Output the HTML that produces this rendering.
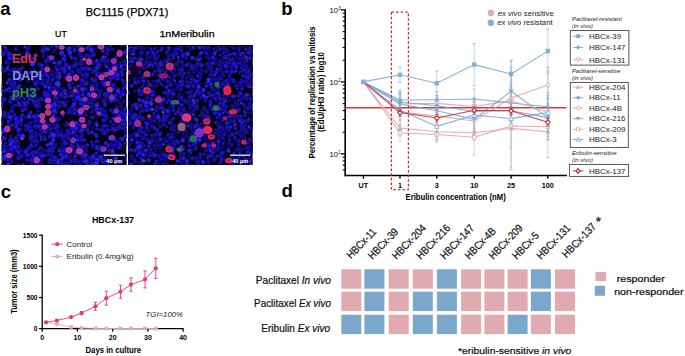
<!DOCTYPE html>
<html><head><meta charset="utf-8"><style>
html,body{margin:0;padding:0;background:#fff;}
#fig{position:relative;width:685px;height:356px;overflow:hidden;background:#fff;}
svg{display:block;font-family:"Liberation Sans", sans-serif;}
</style></head><body><div id="fig">
<svg width="685" height="356" viewBox="0 0 685 356"><text x="0.3" y="15.3" font-size="18.50" font-weight="bold" font-style="normal" text-anchor="start" fill="#000" >a</text><text x="85.8" y="16.2" font-size="10.30" font-weight="normal" font-style="normal" text-anchor="start" fill="#000" textLength="82.5" lengthAdjust="spacingAndGlyphs" stroke="#000" stroke-width="0.25">BC1115 (PDX71)</text><text x="55.0" y="37.1" font-size="9.20" font-weight="normal" font-style="normal" text-anchor="start" fill="#000" textLength="11.8" lengthAdjust="spacingAndGlyphs" stroke="#000" stroke-width="0.25">UT</text><text x="159.4" y="37.3" font-size="9.60" font-weight="normal" font-style="normal" text-anchor="start" fill="#000" textLength="55.2" lengthAdjust="spacingAndGlyphs" stroke="#000" stroke-width="0.25">1nMeribulin</text><clipPath id="cl1"><rect x="1.5" y="45" width="125.1" height="120"/></clipPath><clipPath id="cl2"><rect x="128" y="45" width="124.6" height="120"/></clipPath><g clip-path="url(#cl1)"><rect x="1.5" y="45" width="125.1" height="120" fill="#030212"/><g stroke="#04031a" stroke-width="0.45"><ellipse cx="16.8" cy="148.1" rx="3.0" ry="2.0" transform="rotate(89 16.8 148.1)" fill="#2014cf"/><ellipse cx="26.6" cy="103.5" rx="3.2" ry="2.3" transform="rotate(109 26.6 103.5)" fill="#1810f8"/><ellipse cx="92.7" cy="71.4" rx="3.2" ry="3.0" transform="rotate(5 92.7 71.4)" fill="#1b0d99"/><ellipse cx="113.3" cy="128.1" rx="3.3" ry="2.8" transform="rotate(94 113.3 128.1)" fill="#2519f7"/><ellipse cx="58.8" cy="78.9" rx="1.9" ry="1.7" transform="rotate(100 58.8 78.9)" fill="#1912e8"/><ellipse cx="92.9" cy="79.8" rx="2.9" ry="2.7" transform="rotate(175 92.9 79.8)" fill="#2d1ed6"/><ellipse cx="106.7" cy="126.1" rx="2.3" ry="1.9" transform="rotate(158 106.7 126.1)" fill="#1f1ad6"/><ellipse cx="61.5" cy="135.2" rx="2.5" ry="2.1" transform="rotate(66 61.5 135.2)" fill="#2e24ef"/><ellipse cx="10.7" cy="125.3" rx="2.1" ry="1.3" transform="rotate(151 10.7 125.3)" fill="#1f0fc5"/><ellipse cx="5.1" cy="130.2" rx="3.3" ry="2.6" transform="rotate(70 5.1 130.2)" fill="#140bab"/><ellipse cx="1.1" cy="67.7" rx="3.2" ry="2.5" transform="rotate(72 1.1 67.7)" fill="#291dc2"/><ellipse cx="58.8" cy="76.4" rx="2.7" ry="2.5" transform="rotate(1 58.8 76.4)" fill="#322cfa"/><ellipse cx="120.7" cy="106.5" rx="2.1" ry="1.8" transform="rotate(36 120.7 106.5)" fill="#180f9d"/><ellipse cx="71.1" cy="159.7" rx="2.5" ry="2.2" transform="rotate(74 71.1 159.7)" fill="#181196"/><ellipse cx="78.6" cy="99.8" rx="1.9" ry="1.3" transform="rotate(31 78.6 99.8)" fill="#1b0ee0"/><ellipse cx="70.6" cy="148.6" rx="3.2" ry="2.0" transform="rotate(169 70.6 148.6)" fill="#11089f"/><ellipse cx="1.4" cy="136.7" rx="2.2" ry="1.4" transform="rotate(112 1.4 136.7)" fill="#1a0ec2"/><ellipse cx="32.4" cy="161.0" rx="2.8" ry="2.3" transform="rotate(53 32.4 161.0)" fill="#2116ef"/><ellipse cx="2.6" cy="90.9" rx="2.5" ry="1.7" transform="rotate(19 2.6 90.9)" fill="#2716f3"/><ellipse cx="77.7" cy="144.3" rx="1.9" ry="1.2" transform="rotate(26 77.7 144.3)" fill="#3423f2"/><ellipse cx="64.9" cy="95.9" rx="3.1" ry="2.9" transform="rotate(113 64.9 95.9)" fill="#2616ee"/><ellipse cx="83.2" cy="92.0" rx="2.7" ry="1.9" transform="rotate(113 83.2 92.0)" fill="#1d0f9d"/><ellipse cx="26.9" cy="48.9" rx="2.0" ry="1.3" transform="rotate(165 26.9 48.9)" fill="#2317bc"/><ellipse cx="32.1" cy="44.1" rx="3.1" ry="1.9" transform="rotate(147 32.1 44.1)" fill="#221cde"/><ellipse cx="111.8" cy="139.7" rx="2.8" ry="1.7" transform="rotate(36 111.8 139.7)" fill="#140fa2"/><ellipse cx="55.4" cy="67.1" rx="2.0" ry="1.7" transform="rotate(53 55.4 67.1)" fill="#150fd5"/><ellipse cx="51.4" cy="77.9" rx="2.1" ry="1.9" transform="rotate(146 51.4 77.9)" fill="#2b1bde"/><ellipse cx="27.0" cy="126.6" rx="3.1" ry="2.8" transform="rotate(61 27.0 126.6)" fill="#261eed"/><ellipse cx="68.2" cy="51.1" rx="2.0" ry="1.3" transform="rotate(29 68.2 51.1)" fill="#1b15da"/><ellipse cx="77.0" cy="147.3" rx="2.4" ry="1.7" transform="rotate(52 77.0 147.3)" fill="#2b21e3"/><ellipse cx="62.6" cy="114.9" rx="2.3" ry="1.7" transform="rotate(68 62.6 114.9)" fill="#1d0ffa"/><ellipse cx="14.3" cy="115.8" rx="3.2" ry="2.0" transform="rotate(99 14.3 115.8)" fill="#180ede"/><ellipse cx="114.5" cy="113.0" rx="3.2" ry="2.4" transform="rotate(49 114.5 113.0)" fill="#1a10fa"/><ellipse cx="78.7" cy="44.8" rx="2.5" ry="2.2" transform="rotate(142 78.7 44.8)" fill="#1613ae"/><ellipse cx="53.9" cy="57.3" rx="2.1" ry="1.5" transform="rotate(133 53.9 57.3)" fill="#1815a3"/><ellipse cx="103.6" cy="110.3" rx="3.0" ry="2.4" transform="rotate(128 103.6 110.3)" fill="#150fbe"/><ellipse cx="4.6" cy="44.3" rx="3.3" ry="2.3" transform="rotate(107 4.6 44.3)" fill="#1e13cf"/><ellipse cx="7.8" cy="82.4" rx="2.5" ry="1.7" transform="rotate(141 7.8 82.4)" fill="#3626f9"/><ellipse cx="88.3" cy="125.1" rx="2.3" ry="1.8" transform="rotate(55 88.3 125.1)" fill="#1914b5"/><ellipse cx="11.0" cy="136.4" rx="2.0" ry="1.6" transform="rotate(60 11.0 136.4)" fill="#1a10b3"/><ellipse cx="41.7" cy="82.3" rx="3.2" ry="2.2" transform="rotate(60 41.7 82.3)" fill="#251edb"/><ellipse cx="11.4" cy="70.3" rx="2.5" ry="1.7" transform="rotate(156 11.4 70.3)" fill="#1a13f3"/><ellipse cx="37.0" cy="141.2" rx="2.6" ry="2.3" transform="rotate(27 37.0 141.2)" fill="#2919d6"/><ellipse cx="65.2" cy="125.5" rx="2.2" ry="1.4" transform="rotate(25 65.2 125.5)" fill="#1913be"/><ellipse cx="107.3" cy="117.6" rx="2.1" ry="1.4" transform="rotate(98 107.3 117.6)" fill="#190ff2"/><ellipse cx="116.1" cy="142.7" rx="3.2" ry="2.8" transform="rotate(134 116.1 142.7)" fill="#1d11ee"/><ellipse cx="68.9" cy="49.0" rx="3.1" ry="2.1" transform="rotate(139 68.9 49.0)" fill="#3329ed"/><ellipse cx="70.4" cy="110.1" rx="3.1" ry="2.3" transform="rotate(71 70.4 110.1)" fill="#170fc1"/><ellipse cx="101.9" cy="158.6" rx="3.3" ry="2.0" transform="rotate(124 101.9 158.6)" fill="#1a0ee0"/><ellipse cx="33.0" cy="145.8" rx="2.5" ry="1.8" transform="rotate(110 33.0 145.8)" fill="#1c0fb3"/><ellipse cx="40.5" cy="153.7" rx="3.2" ry="3.0" transform="rotate(115 40.5 153.7)" fill="#160fb2"/><ellipse cx="61.3" cy="70.9" rx="2.5" ry="2.0" transform="rotate(163 61.3 70.9)" fill="#1e16e9"/><ellipse cx="5.7" cy="51.9" rx="2.6" ry="2.4" transform="rotate(28 5.7 51.9)" fill="#301bf8"/><ellipse cx="38.1" cy="80.1" rx="2.1" ry="1.8" transform="rotate(83 38.1 80.1)" fill="#201ba0"/><ellipse cx="123.4" cy="113.8" rx="2.1" ry="1.5" transform="rotate(39 123.4 113.8)" fill="#2921de"/><ellipse cx="63.4" cy="91.8" rx="2.8" ry="2.1" transform="rotate(152 63.4 91.8)" fill="#2915db"/><ellipse cx="126.2" cy="143.2" rx="2.8" ry="1.9" transform="rotate(164 126.2 143.2)" fill="#241aa7"/><ellipse cx="124.3" cy="128.1" rx="2.0" ry="1.8" transform="rotate(43 124.3 128.1)" fill="#2a24c6"/><ellipse cx="50.8" cy="155.9" rx="2.5" ry="2.1" transform="rotate(87 50.8 155.9)" fill="#140eb1"/><ellipse cx="52.2" cy="57.6" rx="2.3" ry="1.6" transform="rotate(134 52.2 57.6)" fill="#201696"/><ellipse cx="74.3" cy="46.8" rx="3.3" ry="2.2" transform="rotate(46 74.3 46.8)" fill="#1710ac"/><ellipse cx="34.8" cy="115.6" rx="2.3" ry="1.9" transform="rotate(142 34.8 115.6)" fill="#331cfd"/><ellipse cx="45.6" cy="95.1" rx="2.1" ry="1.4" transform="rotate(158 45.6 95.1)" fill="#170cb0"/><ellipse cx="103.8" cy="57.6" rx="2.9" ry="2.3" transform="rotate(173 103.8 57.6)" fill="#2e22f7"/><ellipse cx="9.2" cy="89.3" rx="3.0" ry="2.3" transform="rotate(121 9.2 89.3)" fill="#2814f7"/><ellipse cx="56.6" cy="98.7" rx="2.3" ry="1.7" transform="rotate(140 56.6 98.7)" fill="#2715ed"/><ellipse cx="118.0" cy="90.4" rx="2.7" ry="2.5" transform="rotate(114 118.0 90.4)" fill="#3128f2"/><ellipse cx="65.5" cy="165.4" rx="2.5" ry="2.3" transform="rotate(73 65.5 165.4)" fill="#2d28f5"/><ellipse cx="90.2" cy="98.7" rx="2.8" ry="1.9" transform="rotate(94 90.2 98.7)" fill="#2216ec"/><ellipse cx="51.8" cy="149.8" rx="2.7" ry="2.3" transform="rotate(161 51.8 149.8)" fill="#1a17f5"/><ellipse cx="31.5" cy="162.9" rx="2.3" ry="1.4" transform="rotate(129 31.5 162.9)" fill="#1d19a9"/><ellipse cx="100.5" cy="147.9" rx="3.0" ry="2.6" transform="rotate(108 100.5 147.9)" fill="#2820c2"/><ellipse cx="52.6" cy="127.9" rx="2.3" ry="1.8" transform="rotate(46 52.6 127.9)" fill="#1a0dab"/><ellipse cx="65.4" cy="135.3" rx="2.5" ry="1.8" transform="rotate(118 65.4 135.3)" fill="#120e98"/><ellipse cx="20.4" cy="54.5" rx="2.3" ry="1.6" transform="rotate(95 20.4 54.5)" fill="#2516b4"/><ellipse cx="9.2" cy="146.0" rx="2.6" ry="1.9" transform="rotate(92 9.2 146.0)" fill="#190ff4"/><ellipse cx="94.4" cy="166.5" rx="2.7" ry="1.9" transform="rotate(133 94.4 166.5)" fill="#2112c8"/><ellipse cx="101.5" cy="150.5" rx="2.4" ry="1.6" transform="rotate(173 101.5 150.5)" fill="#1f17f0"/><ellipse cx="109.5" cy="150.7" rx="2.5" ry="2.3" transform="rotate(167 109.5 150.7)" fill="#2314b5"/><ellipse cx="80.3" cy="63.5" rx="3.3" ry="2.5" transform="rotate(164 80.3 63.5)" fill="#1c18f3"/><ellipse cx="58.8" cy="63.2" rx="3.0" ry="2.7" transform="rotate(79 58.8 63.2)" fill="#2314bd"/><ellipse cx="92.2" cy="132.1" rx="2.3" ry="1.5" transform="rotate(71 92.2 132.1)" fill="#2d27d5"/><ellipse cx="5.3" cy="143.4" rx="1.9" ry="1.7" transform="rotate(122 5.3 143.4)" fill="#2720d5"/><ellipse cx="124.0" cy="119.0" rx="2.4" ry="2.1" transform="rotate(21 124.0 119.0)" fill="#1c10ee"/><ellipse cx="29.6" cy="98.8" rx="3.3" ry="2.2" transform="rotate(51 29.6 98.8)" fill="#2515dc"/><ellipse cx="91.8" cy="83.9" rx="2.7" ry="2.5" transform="rotate(178 91.8 83.9)" fill="#0f079b"/><ellipse cx="61.5" cy="153.2" rx="3.1" ry="2.2" transform="rotate(35 61.5 153.2)" fill="#221baa"/><ellipse cx="19.2" cy="156.3" rx="1.9" ry="1.3" transform="rotate(119 19.2 156.3)" fill="#1a0f9d"/><ellipse cx="9.8" cy="123.9" rx="2.3" ry="1.4" transform="rotate(96 9.8 123.9)" fill="#2b16d9"/><ellipse cx="34.8" cy="57.6" rx="2.0" ry="1.2" transform="rotate(114 34.8 57.6)" fill="#201af5"/><ellipse cx="24.3" cy="98.5" rx="2.4" ry="1.6" transform="rotate(46 24.3 98.5)" fill="#1d0fe7"/><ellipse cx="120.2" cy="116.2" rx="2.4" ry="1.9" transform="rotate(100 120.2 116.2)" fill="#2e27d8"/><ellipse cx="70.1" cy="109.7" rx="2.9" ry="2.3" transform="rotate(165 70.1 109.7)" fill="#1d179e"/><ellipse cx="125.6" cy="61.7" rx="3.2" ry="2.9" transform="rotate(153 125.6 61.7)" fill="#1b179c"/><ellipse cx="65.7" cy="105.1" rx="2.0" ry="1.4" transform="rotate(22 65.7 105.1)" fill="#170c9a"/><ellipse cx="50.5" cy="130.7" rx="3.1" ry="1.9" transform="rotate(94 50.5 130.7)" fill="#140ca1"/><ellipse cx="38.5" cy="149.6" rx="2.0" ry="1.4" transform="rotate(132 38.5 149.6)" fill="#231cb7"/><ellipse cx="110.0" cy="80.7" rx="2.5" ry="1.7" transform="rotate(100 110.0 80.7)" fill="#281cc0"/><ellipse cx="50.0" cy="154.1" rx="2.6" ry="1.7" transform="rotate(146 50.0 154.1)" fill="#2f25d9"/><ellipse cx="107.3" cy="130.0" rx="2.6" ry="2.4" transform="rotate(149 107.3 130.0)" fill="#2314bb"/><ellipse cx="49.8" cy="83.2" rx="2.5" ry="1.6" transform="rotate(11 49.8 83.2)" fill="#251cbc"/><ellipse cx="41.5" cy="135.8" rx="2.6" ry="2.0" transform="rotate(26 41.5 135.8)" fill="#2114f3"/><ellipse cx="8.4" cy="164.4" rx="2.6" ry="2.4" transform="rotate(166 8.4 164.4)" fill="#2721c6"/><ellipse cx="118.6" cy="142.4" rx="2.1" ry="1.6" transform="rotate(103 118.6 142.4)" fill="#231bb6"/><ellipse cx="95.9" cy="87.8" rx="3.2" ry="2.7" transform="rotate(72 95.9 87.8)" fill="#2316d1"/><ellipse cx="65.0" cy="46.6" rx="2.3" ry="1.5" transform="rotate(24 65.0 46.6)" fill="#140da4"/><ellipse cx="93.5" cy="49.2" rx="2.0" ry="1.6" transform="rotate(47 93.5 49.2)" fill="#140aa3"/><ellipse cx="73.2" cy="122.5" rx="3.1" ry="2.7" transform="rotate(39 73.2 122.5)" fill="#1b12ac"/><ellipse cx="75.7" cy="154.6" rx="2.6" ry="2.3" transform="rotate(39 75.7 154.6)" fill="#1e19af"/><ellipse cx="114.8" cy="95.8" rx="2.8" ry="2.2" transform="rotate(170 114.8 95.8)" fill="#2714fc"/><ellipse cx="108.0" cy="164.1" rx="2.5" ry="1.5" transform="rotate(95 108.0 164.1)" fill="#2016c6"/><ellipse cx="51.6" cy="152.5" rx="3.0" ry="2.4" transform="rotate(7 51.6 152.5)" fill="#1411d0"/><ellipse cx="89.4" cy="122.6" rx="2.7" ry="2.4" transform="rotate(92 89.4 122.6)" fill="#211af5"/><ellipse cx="82.8" cy="166.2" rx="2.3" ry="1.7" transform="rotate(169 82.8 166.2)" fill="#2018d8"/><ellipse cx="39.2" cy="80.4" rx="2.7" ry="2.2" transform="rotate(175 39.2 80.4)" fill="#160baa"/><ellipse cx="54.3" cy="125.0" rx="2.0" ry="1.5" transform="rotate(50 54.3 125.0)" fill="#3024ea"/><ellipse cx="115.5" cy="157.7" rx="3.1" ry="2.3" transform="rotate(83 115.5 157.7)" fill="#3024fb"/><ellipse cx="109.5" cy="138.3" rx="2.4" ry="2.2" transform="rotate(87 109.5 138.3)" fill="#190ca8"/><ellipse cx="21.7" cy="75.3" rx="2.7" ry="1.9" transform="rotate(179 21.7 75.3)" fill="#2617b7"/><ellipse cx="53.8" cy="76.9" rx="2.4" ry="2.2" transform="rotate(38 53.8 76.9)" fill="#2d1dd4"/><ellipse cx="54.4" cy="51.0" rx="2.2" ry="1.4" transform="rotate(131 54.4 51.0)" fill="#150ea3"/><ellipse cx="122.4" cy="92.5" rx="2.9" ry="2.6" transform="rotate(16 122.4 92.5)" fill="#3018e4"/><ellipse cx="83.6" cy="157.8" rx="2.9" ry="2.5" transform="rotate(150 83.6 157.8)" fill="#1b10f4"/><ellipse cx="35.5" cy="102.5" rx="3.0" ry="2.7" transform="rotate(141 35.5 102.5)" fill="#2922ec"/><ellipse cx="15.5" cy="98.5" rx="2.9" ry="2.2" transform="rotate(70 15.5 98.5)" fill="#2d18e3"/><ellipse cx="49.4" cy="155.3" rx="2.2" ry="1.7" transform="rotate(74 49.4 155.3)" fill="#1d14da"/><ellipse cx="115.0" cy="110.6" rx="2.2" ry="1.9" transform="rotate(60 115.0 110.6)" fill="#1712d4"/><ellipse cx="93.7" cy="86.0" rx="3.1" ry="2.7" transform="rotate(10 93.7 86.0)" fill="#231ce6"/><ellipse cx="108.3" cy="71.3" rx="2.3" ry="1.9" transform="rotate(74 108.3 71.3)" fill="#150da6"/><ellipse cx="80.8" cy="155.0" rx="2.0" ry="1.8" transform="rotate(91 80.8 155.0)" fill="#1a11ca"/><ellipse cx="39.0" cy="103.9" rx="2.6" ry="2.1" transform="rotate(43 39.0 103.9)" fill="#1d10ac"/><ellipse cx="113.1" cy="129.1" rx="2.6" ry="1.6" transform="rotate(58 113.1 129.1)" fill="#1b15ee"/><ellipse cx="127.2" cy="69.4" rx="2.8" ry="2.1" transform="rotate(21 127.2 69.4)" fill="#1e11a7"/><ellipse cx="81.5" cy="145.8" rx="2.0" ry="1.3" transform="rotate(20 81.5 145.8)" fill="#1b13de"/><ellipse cx="113.7" cy="95.4" rx="1.9" ry="1.2" transform="rotate(54 113.7 95.4)" fill="#1c16e4"/><ellipse cx="35.7" cy="120.6" rx="3.1" ry="2.2" transform="rotate(129 35.7 120.6)" fill="#140cc6"/><ellipse cx="17.5" cy="74.1" rx="3.0" ry="2.5" transform="rotate(7 17.5 74.1)" fill="#110f9f"/><ellipse cx="38.2" cy="73.9" rx="2.4" ry="1.5" transform="rotate(166 38.2 73.9)" fill="#291ec5"/><ellipse cx="30.8" cy="127.3" rx="2.3" ry="1.8" transform="rotate(57 30.8 127.3)" fill="#1712a4"/><ellipse cx="82.3" cy="147.6" rx="2.7" ry="2.5" transform="rotate(72 82.3 147.6)" fill="#271eec"/><ellipse cx="60.9" cy="94.9" rx="3.2" ry="2.3" transform="rotate(39 60.9 94.9)" fill="#1f10bc"/><ellipse cx="65.2" cy="64.7" rx="2.2" ry="1.7" transform="rotate(98 65.2 64.7)" fill="#1d19b6"/><ellipse cx="33.3" cy="58.6" rx="2.9" ry="1.8" transform="rotate(175 33.3 58.6)" fill="#201ac4"/><ellipse cx="92.9" cy="127.9" rx="1.9" ry="1.4" transform="rotate(122 92.9 127.9)" fill="#120da9"/><ellipse cx="86.9" cy="145.5" rx="2.6" ry="2.3" transform="rotate(138 86.9 145.5)" fill="#2816c4"/><ellipse cx="109.1" cy="90.3" rx="2.5" ry="1.6" transform="rotate(108 109.1 90.3)" fill="#1812b8"/><ellipse cx="82.0" cy="161.2" rx="2.7" ry="1.6" transform="rotate(146 82.0 161.2)" fill="#1811a6"/><ellipse cx="113.5" cy="100.0" rx="3.0" ry="2.4" transform="rotate(76 113.5 100.0)" fill="#1d15c5"/><ellipse cx="90.4" cy="43.1" rx="2.0" ry="1.3" transform="rotate(25 90.4 43.1)" fill="#291dd7"/><ellipse cx="100.6" cy="113.5" rx="3.3" ry="2.4" transform="rotate(85 100.6 113.5)" fill="#1e18ef"/><ellipse cx="30.5" cy="112.7" rx="2.4" ry="1.6" transform="rotate(139 30.5 112.7)" fill="#211cf0"/><ellipse cx="44.2" cy="124.5" rx="3.3" ry="2.9" transform="rotate(10 44.2 124.5)" fill="#1e13cd"/><ellipse cx="96.8" cy="85.3" rx="3.0" ry="2.1" transform="rotate(109 96.8 85.3)" fill="#110da8"/><ellipse cx="114.6" cy="64.4" rx="2.8" ry="2.2" transform="rotate(61 114.6 64.4)" fill="#1b13f0"/><ellipse cx="61.5" cy="68.9" rx="2.8" ry="2.6" transform="rotate(71 61.5 68.9)" fill="#140cb3"/><ellipse cx="124.7" cy="124.4" rx="3.0" ry="2.3" transform="rotate(84 124.7 124.4)" fill="#251cd5"/><ellipse cx="120.4" cy="96.6" rx="2.5" ry="1.6" transform="rotate(87 120.4 96.6)" fill="#2414b8"/><ellipse cx="48.1" cy="56.5" rx="1.9" ry="1.2" transform="rotate(32 48.1 56.5)" fill="#2419f8"/><ellipse cx="104.7" cy="156.8" rx="2.1" ry="1.7" transform="rotate(19 104.7 156.8)" fill="#120bb6"/><ellipse cx="81.3" cy="134.3" rx="3.2" ry="2.5" transform="rotate(70 81.3 134.3)" fill="#180e96"/><ellipse cx="54.1" cy="62.7" rx="2.2" ry="1.8" transform="rotate(13 54.1 62.7)" fill="#2e28da"/><ellipse cx="22.2" cy="115.6" rx="2.6" ry="2.0" transform="rotate(142 22.2 115.6)" fill="#281fd8"/><ellipse cx="88.7" cy="124.0" rx="2.7" ry="1.8" transform="rotate(140 88.7 124.0)" fill="#1b0ea5"/><ellipse cx="11.1" cy="54.7" rx="3.0" ry="1.9" transform="rotate(93 11.1 54.7)" fill="#1916f9"/><ellipse cx="76.3" cy="165.3" rx="2.9" ry="2.1" transform="rotate(96 76.3 165.3)" fill="#2d24cf"/><ellipse cx="71.0" cy="129.7" rx="2.9" ry="2.5" transform="rotate(89 71.0 129.7)" fill="#1a0eb9"/><ellipse cx="72.7" cy="147.8" rx="3.0" ry="2.4" transform="rotate(131 72.7 147.8)" fill="#2818c1"/><ellipse cx="32.1" cy="90.6" rx="1.9" ry="1.8" transform="rotate(172 32.1 90.6)" fill="#1511b2"/><ellipse cx="68.9" cy="67.6" rx="2.5" ry="2.3" transform="rotate(103 68.9 67.6)" fill="#221adc"/><ellipse cx="10.2" cy="158.9" rx="2.1" ry="1.8" transform="rotate(5 10.2 158.9)" fill="#1d16c9"/><ellipse cx="75.8" cy="59.0" rx="2.7" ry="1.7" transform="rotate(43 75.8 59.0)" fill="#170dc6"/><ellipse cx="92.3" cy="92.2" rx="2.9" ry="2.0" transform="rotate(53 92.3 92.2)" fill="#1710a8"/><ellipse cx="10.9" cy="145.6" rx="2.2" ry="1.7" transform="rotate(52 10.9 145.6)" fill="#2c17fd"/><ellipse cx="47.6" cy="98.0" rx="2.8" ry="1.7" transform="rotate(140 47.6 98.0)" fill="#211daa"/><ellipse cx="80.7" cy="55.8" rx="3.1" ry="2.5" transform="rotate(44 80.7 55.8)" fill="#1c12b0"/><ellipse cx="117.3" cy="165.2" rx="2.2" ry="2.0" transform="rotate(118 117.3 165.2)" fill="#1913d8"/><ellipse cx="32.4" cy="43.5" rx="2.1" ry="1.4" transform="rotate(137 32.4 43.5)" fill="#2319c6"/><ellipse cx="29.3" cy="47.7" rx="2.1" ry="1.8" transform="rotate(99 29.3 47.7)" fill="#241fb3"/><ellipse cx="98.8" cy="95.2" rx="2.3" ry="1.4" transform="rotate(149 98.8 95.2)" fill="#140aa6"/><ellipse cx="96.8" cy="103.6" rx="2.5" ry="2.1" transform="rotate(148 96.8 103.6)" fill="#2815c1"/><ellipse cx="87.0" cy="48.3" rx="2.5" ry="1.9" transform="rotate(172 87.0 48.3)" fill="#241ee2"/><ellipse cx="49.2" cy="87.7" rx="2.2" ry="1.8" transform="rotate(105 49.2 87.7)" fill="#2f18f6"/><ellipse cx="116.4" cy="99.8" rx="3.1" ry="2.0" transform="rotate(26 116.4 99.8)" fill="#1d15ba"/><ellipse cx="7.9" cy="150.4" rx="2.7" ry="1.7" transform="rotate(71 7.9 150.4)" fill="#2b20d7"/><ellipse cx="50.4" cy="155.3" rx="2.6" ry="2.4" transform="rotate(99 50.4 155.3)" fill="#150dd3"/><ellipse cx="96.2" cy="141.6" rx="2.7" ry="2.2" transform="rotate(179 96.2 141.6)" fill="#201a9e"/><ellipse cx="99.6" cy="94.5" rx="3.3" ry="2.9" transform="rotate(103 99.6 94.5)" fill="#110ca4"/><ellipse cx="12.5" cy="84.2" rx="3.2" ry="2.8" transform="rotate(6 12.5 84.2)" fill="#2116c5"/><ellipse cx="81.4" cy="148.0" rx="2.5" ry="2.0" transform="rotate(145 81.4 148.0)" fill="#1f1a96"/><ellipse cx="46.1" cy="61.1" rx="2.7" ry="2.2" transform="rotate(72 46.1 61.1)" fill="#2014d7"/><ellipse cx="43.6" cy="75.2" rx="2.4" ry="2.1" transform="rotate(138 43.6 75.2)" fill="#2315b5"/><ellipse cx="124.6" cy="111.2" rx="2.7" ry="2.2" transform="rotate(13 124.6 111.2)" fill="#231eab"/><ellipse cx="52.9" cy="58.7" rx="2.7" ry="2.2" transform="rotate(42 52.9 58.7)" fill="#150ea2"/><ellipse cx="94.7" cy="80.4" rx="3.1" ry="2.9" transform="rotate(147 94.7 80.4)" fill="#1a109f"/><ellipse cx="37.7" cy="107.0" rx="1.9" ry="1.7" transform="rotate(143 37.7 107.0)" fill="#0f099a"/><ellipse cx="96.3" cy="153.0" rx="2.0" ry="1.6" transform="rotate(119 96.3 153.0)" fill="#201cd9"/><ellipse cx="75.2" cy="58.2" rx="2.3" ry="1.5" transform="rotate(9 75.2 58.2)" fill="#1d19d0"/><ellipse cx="92.9" cy="70.3" rx="3.2" ry="1.9" transform="rotate(176 92.9 70.3)" fill="#120f9a"/><ellipse cx="4.6" cy="71.5" rx="2.6" ry="1.7" transform="rotate(170 4.6 71.5)" fill="#150caf"/><ellipse cx="62.8" cy="89.1" rx="2.4" ry="2.0" transform="rotate(35 62.8 89.1)" fill="#150fad"/><ellipse cx="122.8" cy="115.1" rx="2.8" ry="2.0" transform="rotate(87 122.8 115.1)" fill="#1d15a3"/><ellipse cx="79.5" cy="147.9" rx="3.1" ry="2.5" transform="rotate(61 79.5 147.9)" fill="#221ae8"/><ellipse cx="103.3" cy="161.0" rx="3.1" ry="2.4" transform="rotate(99 103.3 161.0)" fill="#2b1fd6"/><ellipse cx="94.8" cy="155.2" rx="3.0" ry="2.4" transform="rotate(29 94.8 155.2)" fill="#2117b8"/><ellipse cx="72.2" cy="142.9" rx="2.8" ry="1.9" transform="rotate(55 72.2 142.9)" fill="#2b22e3"/><ellipse cx="58.6" cy="87.1" rx="2.6" ry="1.8" transform="rotate(85 58.6 87.1)" fill="#231ac0"/><ellipse cx="49.1" cy="97.2" rx="2.8" ry="2.0" transform="rotate(141 49.1 97.2)" fill="#130d97"/><ellipse cx="6.5" cy="90.0" rx="2.4" ry="1.7" transform="rotate(158 6.5 90.0)" fill="#341eff"/><ellipse cx="10.1" cy="57.9" rx="3.3" ry="2.7" transform="rotate(23 10.1 57.9)" fill="#2015ee"/><ellipse cx="43.5" cy="46.4" rx="2.8" ry="2.4" transform="rotate(135 43.5 46.4)" fill="#271cf6"/><ellipse cx="46.7" cy="79.4" rx="2.5" ry="2.0" transform="rotate(83 46.7 79.4)" fill="#21159f"/><ellipse cx="29.4" cy="48.2" rx="2.2" ry="1.5" transform="rotate(128 29.4 48.2)" fill="#180dc6"/><ellipse cx="127.2" cy="135.2" rx="3.1" ry="1.9" transform="rotate(126 127.2 135.2)" fill="#1c0fbd"/><ellipse cx="18.4" cy="166.0" rx="2.5" ry="1.8" transform="rotate(144 18.4 166.0)" fill="#1d15d4"/><ellipse cx="74.8" cy="79.2" rx="2.7" ry="1.9" transform="rotate(2 74.8 79.2)" fill="#231abd"/><ellipse cx="14.3" cy="70.4" rx="2.8" ry="2.6" transform="rotate(166 14.3 70.4)" fill="#1d11cd"/><ellipse cx="12.7" cy="106.9" rx="2.6" ry="1.7" transform="rotate(166 12.7 106.9)" fill="#130e9e"/><ellipse cx="54.1" cy="131.8" rx="1.9" ry="1.2" transform="rotate(6 54.1 131.8)" fill="#1b0dc1"/><ellipse cx="37.6" cy="111.3" rx="2.3" ry="1.5" transform="rotate(37 37.6 111.3)" fill="#140e9d"/><ellipse cx="57.9" cy="84.1" rx="2.5" ry="1.5" transform="rotate(33 57.9 84.1)" fill="#190ee7"/><ellipse cx="28.5" cy="80.7" rx="2.0" ry="1.4" transform="rotate(130 28.5 80.7)" fill="#1f119e"/><ellipse cx="75.6" cy="97.9" rx="3.0" ry="2.5" transform="rotate(21 75.6 97.9)" fill="#120eaf"/><ellipse cx="10.8" cy="140.5" rx="2.9" ry="2.7" transform="rotate(128 10.8 140.5)" fill="#2013d9"/><ellipse cx="44.7" cy="99.3" rx="3.1" ry="2.6" transform="rotate(110 44.7 99.3)" fill="#2216ec"/><ellipse cx="31.1" cy="145.9" rx="3.1" ry="2.9" transform="rotate(108 31.1 145.9)" fill="#1510a4"/><ellipse cx="55.9" cy="77.3" rx="2.3" ry="2.2" transform="rotate(60 55.9 77.3)" fill="#1d12c5"/><ellipse cx="40.3" cy="161.8" rx="2.6" ry="1.9" transform="rotate(54 40.3 161.8)" fill="#1f1abc"/><ellipse cx="91.3" cy="61.5" rx="2.5" ry="2.1" transform="rotate(24 91.3 61.5)" fill="#1f12a0"/><ellipse cx="45.5" cy="82.1" rx="2.3" ry="1.8" transform="rotate(13 45.5 82.1)" fill="#1c17a9"/><ellipse cx="117.8" cy="147.8" rx="2.9" ry="1.8" transform="rotate(33 117.8 147.8)" fill="#160bda"/><ellipse cx="122.8" cy="123.5" rx="2.9" ry="2.1" transform="rotate(168 122.8 123.5)" fill="#271fc3"/><ellipse cx="80.5" cy="125.6" rx="2.4" ry="1.5" transform="rotate(170 80.5 125.6)" fill="#211c9a"/><ellipse cx="91.4" cy="142.0" rx="2.0" ry="1.8" transform="rotate(54 91.4 142.0)" fill="#2014de"/><ellipse cx="5.9" cy="159.8" rx="2.9" ry="1.7" transform="rotate(17 5.9 159.8)" fill="#150ea7"/><ellipse cx="73.5" cy="106.1" rx="3.1" ry="2.5" transform="rotate(155 73.5 106.1)" fill="#2620fb"/><ellipse cx="74.5" cy="101.9" rx="2.6" ry="1.9" transform="rotate(77 74.5 101.9)" fill="#150c9f"/><ellipse cx="17.9" cy="138.8" rx="1.9" ry="1.5" transform="rotate(33 17.9 138.8)" fill="#231afa"/><ellipse cx="87.0" cy="150.6" rx="2.0" ry="1.7" transform="rotate(35 87.0 150.6)" fill="#1711c1"/><ellipse cx="107.4" cy="130.6" rx="3.2" ry="2.2" transform="rotate(160 107.4 130.6)" fill="#160bdc"/><ellipse cx="46.9" cy="112.3" rx="2.1" ry="1.3" transform="rotate(57 46.9 112.3)" fill="#3327f4"/><ellipse cx="39.7" cy="82.4" rx="2.0" ry="1.5" transform="rotate(153 39.7 82.4)" fill="#130eb7"/><ellipse cx="110.4" cy="45.4" rx="2.2" ry="1.5" transform="rotate(56 110.4 45.4)" fill="#2114fe"/><ellipse cx="62.4" cy="160.9" rx="2.3" ry="1.9" transform="rotate(8 62.4 160.9)" fill="#1f17cd"/><ellipse cx="35.4" cy="138.3" rx="2.9" ry="2.2" transform="rotate(50 35.4 138.3)" fill="#2014b6"/><ellipse cx="44.9" cy="92.2" rx="2.6" ry="2.1" transform="rotate(157 44.9 92.2)" fill="#2b18c8"/><ellipse cx="61.6" cy="129.5" rx="2.0" ry="1.6" transform="rotate(14 61.6 129.5)" fill="#100b9f"/><ellipse cx="73.1" cy="129.7" rx="3.2" ry="2.8" transform="rotate(101 73.1 129.7)" fill="#1f14d5"/><ellipse cx="93.0" cy="146.0" rx="2.5" ry="2.0" transform="rotate(67 93.0 146.0)" fill="#2215f2"/><ellipse cx="30.2" cy="123.0" rx="3.1" ry="2.3" transform="rotate(156 30.2 123.0)" fill="#140dae"/><ellipse cx="107.0" cy="161.3" rx="2.7" ry="2.5" transform="rotate(31 107.0 161.3)" fill="#2118d4"/><ellipse cx="113.7" cy="118.6" rx="2.5" ry="1.7" transform="rotate(37 113.7 118.6)" fill="#2c18c9"/><ellipse cx="33.3" cy="165.9" rx="2.4" ry="1.6" transform="rotate(164 33.3 165.9)" fill="#2515e5"/><ellipse cx="90.7" cy="101.0" rx="2.6" ry="1.9" transform="rotate(93 90.7 101.0)" fill="#2d21d6"/><ellipse cx="101.2" cy="78.0" rx="2.1" ry="1.3" transform="rotate(176 101.2 78.0)" fill="#1812a5"/><ellipse cx="65.7" cy="65.2" rx="3.1" ry="2.4" transform="rotate(95 65.7 65.2)" fill="#2714c4"/><ellipse cx="92.7" cy="55.1" rx="2.4" ry="1.8" transform="rotate(32 92.7 55.1)" fill="#2118cf"/><ellipse cx="75.3" cy="160.4" rx="2.7" ry="2.1" transform="rotate(52 75.3 160.4)" fill="#2515c2"/><ellipse cx="76.7" cy="65.4" rx="3.0" ry="2.4" transform="rotate(143 76.7 65.4)" fill="#22189e"/><ellipse cx="57.0" cy="82.6" rx="2.4" ry="2.0" transform="rotate(69 57.0 82.6)" fill="#2621f5"/><ellipse cx="59.6" cy="105.9" rx="2.1" ry="1.7" transform="rotate(76 59.6 105.9)" fill="#2b1de4"/><ellipse cx="18.7" cy="61.1" rx="2.8" ry="1.9" transform="rotate(145 18.7 61.1)" fill="#241bb1"/><ellipse cx="19.6" cy="129.7" rx="2.5" ry="1.9" transform="rotate(178 19.6 129.7)" fill="#1e12dd"/><ellipse cx="1.3" cy="103.4" rx="2.5" ry="2.2" transform="rotate(54 1.3 103.4)" fill="#201ae0"/><ellipse cx="36.9" cy="55.4" rx="2.2" ry="1.4" transform="rotate(18 36.9 55.4)" fill="#1b10a5"/><ellipse cx="105.9" cy="161.0" rx="2.7" ry="2.2" transform="rotate(130 105.9 161.0)" fill="#1f19be"/><ellipse cx="41.2" cy="128.7" rx="3.1" ry="2.8" transform="rotate(29 41.2 128.7)" fill="#1b13da"/><ellipse cx="31.2" cy="139.8" rx="3.2" ry="2.7" transform="rotate(59 31.2 139.8)" fill="#150d99"/><ellipse cx="76.4" cy="124.9" rx="2.5" ry="2.2" transform="rotate(153 76.4 124.9)" fill="#2617ba"/><ellipse cx="128.0" cy="90.7" rx="3.0" ry="1.8" transform="rotate(117 128.0 90.7)" fill="#211ac2"/><ellipse cx="107.9" cy="70.6" rx="2.0" ry="1.6" transform="rotate(69 107.9 70.6)" fill="#311af0"/><ellipse cx="0.0" cy="86.5" rx="3.0" ry="2.8" transform="rotate(20 0.0 86.5)" fill="#2f2afb"/><ellipse cx="96.8" cy="60.9" rx="2.5" ry="2.0" transform="rotate(114 96.8 60.9)" fill="#2617ef"/><ellipse cx="120.6" cy="67.0" rx="2.1" ry="1.7" transform="rotate(173 120.6 67.0)" fill="#130da8"/><ellipse cx="102.0" cy="130.1" rx="2.3" ry="1.5" transform="rotate(64 102.0 130.1)" fill="#1510ac"/><ellipse cx="76.0" cy="47.2" rx="2.8" ry="1.8" transform="rotate(84 76.0 47.2)" fill="#1510a8"/><ellipse cx="35.7" cy="134.8" rx="3.3" ry="2.4" transform="rotate(5 35.7 134.8)" fill="#2b21d1"/><ellipse cx="26.1" cy="155.6" rx="1.9" ry="1.6" transform="rotate(7 26.1 155.6)" fill="#2915fe"/><ellipse cx="13.2" cy="142.6" rx="3.1" ry="2.8" transform="rotate(59 13.2 142.6)" fill="#2622cf"/><ellipse cx="67.0" cy="123.8" rx="2.8" ry="1.8" transform="rotate(66 67.0 123.8)" fill="#291ac2"/><ellipse cx="55.8" cy="162.8" rx="3.2" ry="2.1" transform="rotate(26 55.8 162.8)" fill="#120db4"/><ellipse cx="58.5" cy="119.5" rx="2.7" ry="1.7" transform="rotate(146 58.5 119.5)" fill="#2915fe"/><ellipse cx="109.8" cy="77.5" rx="2.1" ry="1.4" transform="rotate(138 109.8 77.5)" fill="#2921c5"/><ellipse cx="75.0" cy="48.9" rx="2.5" ry="2.1" transform="rotate(94 75.0 48.9)" fill="#180de0"/><ellipse cx="110.8" cy="121.8" rx="2.1" ry="1.9" transform="rotate(144 110.8 121.8)" fill="#160dc4"/><ellipse cx="60.5" cy="46.3" rx="2.0" ry="1.8" transform="rotate(176 60.5 46.3)" fill="#160fcd"/><ellipse cx="64.2" cy="59.0" rx="3.1" ry="2.6" transform="rotate(70 64.2 59.0)" fill="#2518e3"/><ellipse cx="117.2" cy="107.9" rx="2.6" ry="2.2" transform="rotate(78 117.2 107.9)" fill="#130e9e"/><ellipse cx="89.6" cy="55.9" rx="2.4" ry="2.2" transform="rotate(35 89.6 55.9)" fill="#2a16ee"/><ellipse cx="65.6" cy="156.0" rx="2.2" ry="1.6" transform="rotate(110 65.6 156.0)" fill="#2114df"/><ellipse cx="80.6" cy="126.1" rx="1.9" ry="1.8" transform="rotate(86 80.6 126.1)" fill="#1714b2"/><ellipse cx="41.0" cy="163.4" rx="2.6" ry="2.0" transform="rotate(48 41.0 163.4)" fill="#2015ac"/><ellipse cx="37.7" cy="116.1" rx="2.3" ry="2.2" transform="rotate(71 37.7 116.1)" fill="#2b26eb"/><ellipse cx="71.8" cy="92.4" rx="3.0" ry="2.0" transform="rotate(3 71.8 92.4)" fill="#1a15a8"/><ellipse cx="14.4" cy="87.6" rx="3.1" ry="2.2" transform="rotate(177 14.4 87.6)" fill="#150ebc"/><ellipse cx="17.3" cy="99.4" rx="2.0" ry="1.5" transform="rotate(102 17.3 99.4)" fill="#1f11bf"/><ellipse cx="125.5" cy="109.7" rx="3.0" ry="2.4" transform="rotate(11 125.5 109.7)" fill="#1c15d1"/><ellipse cx="93.1" cy="105.2" rx="1.9" ry="1.4" transform="rotate(17 93.1 105.2)" fill="#2018bf"/><ellipse cx="88.4" cy="158.1" rx="2.5" ry="2.1" transform="rotate(95 88.4 158.1)" fill="#2e17e1"/><ellipse cx="21.4" cy="119.5" rx="3.0" ry="1.9" transform="rotate(95 21.4 119.5)" fill="#2f1af6"/><ellipse cx="18.9" cy="150.3" rx="2.0" ry="1.5" transform="rotate(124 18.9 150.3)" fill="#2118de"/><ellipse cx="36.4" cy="143.7" rx="2.0" ry="1.6" transform="rotate(10 36.4 143.7)" fill="#171498"/><ellipse cx="108.4" cy="95.3" rx="3.1" ry="1.9" transform="rotate(38 108.4 95.3)" fill="#1812ec"/><ellipse cx="105.8" cy="96.2" rx="3.1" ry="2.2" transform="rotate(63 105.8 96.2)" fill="#241da8"/><ellipse cx="29.1" cy="159.9" rx="2.4" ry="2.2" transform="rotate(57 29.1 159.9)" fill="#160cb1"/><ellipse cx="114.6" cy="130.4" rx="2.4" ry="1.9" transform="rotate(131 114.6 130.4)" fill="#2b1dfa"/><ellipse cx="33.4" cy="141.3" rx="2.3" ry="2.2" transform="rotate(37 33.4 141.3)" fill="#1e13a6"/><ellipse cx="4.0" cy="138.3" rx="2.5" ry="2.3" transform="rotate(23 4.0 138.3)" fill="#251fd5"/><ellipse cx="90.0" cy="97.1" rx="2.6" ry="1.7" transform="rotate(43 90.0 97.1)" fill="#1911df"/><ellipse cx="90.8" cy="159.9" rx="2.8" ry="2.3" transform="rotate(72 90.8 159.9)" fill="#2814cb"/><ellipse cx="51.0" cy="150.7" rx="2.5" ry="1.6" transform="rotate(69 51.0 150.7)" fill="#2414cd"/><ellipse cx="34.5" cy="116.8" rx="2.3" ry="2.0" transform="rotate(19 34.5 116.8)" fill="#3526fa"/><ellipse cx="68.9" cy="75.2" rx="2.8" ry="2.4" transform="rotate(101 68.9 75.2)" fill="#3228f3"/><ellipse cx="58.1" cy="136.0" rx="2.3" ry="2.0" transform="rotate(73 58.1 136.0)" fill="#140ec6"/><ellipse cx="16.3" cy="138.0" rx="3.3" ry="2.5" transform="rotate(151 16.3 138.0)" fill="#1c12b3"/><ellipse cx="7.5" cy="117.5" rx="2.2" ry="1.4" transform="rotate(81 7.5 117.5)" fill="#2014bb"/><ellipse cx="5.0" cy="52.1" rx="2.0" ry="1.4" transform="rotate(55 5.0 52.1)" fill="#2215da"/><ellipse cx="41.7" cy="138.3" rx="3.1" ry="2.3" transform="rotate(94 41.7 138.3)" fill="#201cbf"/><ellipse cx="81.4" cy="130.0" rx="2.3" ry="2.2" transform="rotate(149 81.4 130.0)" fill="#2319bf"/><ellipse cx="84.3" cy="74.3" rx="2.8" ry="1.9" transform="rotate(175 84.3 74.3)" fill="#120baa"/><ellipse cx="17.3" cy="144.0" rx="3.3" ry="2.9" transform="rotate(150 17.3 144.0)" fill="#15129f"/><ellipse cx="26.7" cy="47.8" rx="2.2" ry="1.9" transform="rotate(126 26.7 47.8)" fill="#241cbd"/><ellipse cx="36.9" cy="165.0" rx="2.8" ry="2.0" transform="rotate(12 36.9 165.0)" fill="#2016ff"/><ellipse cx="91.8" cy="112.0" rx="1.9" ry="1.8" transform="rotate(82 91.8 112.0)" fill="#180cdb"/><ellipse cx="39.2" cy="107.4" rx="2.3" ry="1.6" transform="rotate(165 39.2 107.4)" fill="#180cb8"/><ellipse cx="0.9" cy="139.8" rx="3.3" ry="2.0" transform="rotate(13 0.9 139.8)" fill="#2514cf"/><ellipse cx="86.4" cy="56.8" rx="1.9" ry="1.6" transform="rotate(24 86.4 56.8)" fill="#291fe2"/><ellipse cx="2.8" cy="164.3" rx="1.9" ry="1.3" transform="rotate(85 2.8 164.3)" fill="#2e17da"/><ellipse cx="17.4" cy="45.0" rx="2.1" ry="1.9" transform="rotate(15 17.4 45.0)" fill="#1c12db"/><ellipse cx="69.7" cy="86.6" rx="3.3" ry="2.4" transform="rotate(72 69.7 86.6)" fill="#2315d9"/><ellipse cx="22.7" cy="102.4" rx="2.5" ry="2.2" transform="rotate(37 22.7 102.4)" fill="#181499"/><ellipse cx="52.2" cy="146.5" rx="2.6" ry="2.0" transform="rotate(141 52.2 146.5)" fill="#2e19fc"/><ellipse cx="52.5" cy="91.3" rx="2.3" ry="1.4" transform="rotate(34 52.5 91.3)" fill="#2215f0"/><ellipse cx="66.4" cy="158.6" rx="2.3" ry="1.8" transform="rotate(133 66.4 158.6)" fill="#150caa"/><ellipse cx="20.8" cy="124.6" rx="2.5" ry="1.7" transform="rotate(27 20.8 124.6)" fill="#2010a2"/><ellipse cx="75.3" cy="101.9" rx="2.1" ry="1.9" transform="rotate(101 75.3 101.9)" fill="#2d18fd"/><ellipse cx="111.1" cy="93.2" rx="2.2" ry="1.4" transform="rotate(91 111.1 93.2)" fill="#2215d5"/><ellipse cx="105.0" cy="115.2" rx="3.1" ry="2.3" transform="rotate(169 105.0 115.2)" fill="#1c16c3"/><ellipse cx="29.0" cy="154.9" rx="3.1" ry="2.1" transform="rotate(156 29.0 154.9)" fill="#2d17e6"/><ellipse cx="53.7" cy="115.7" rx="2.0" ry="1.7" transform="rotate(162 53.7 115.7)" fill="#2823e6"/><ellipse cx="42.8" cy="47.6" rx="3.1" ry="2.4" transform="rotate(110 42.8 47.6)" fill="#160cc0"/><ellipse cx="88.3" cy="131.8" rx="2.9" ry="2.3" transform="rotate(69 88.3 131.8)" fill="#1b10d6"/><ellipse cx="2.7" cy="53.5" rx="2.8" ry="2.3" transform="rotate(39 2.7 53.5)" fill="#1a11f4"/><ellipse cx="51.0" cy="143.9" rx="3.2" ry="2.9" transform="rotate(122 51.0 143.9)" fill="#2a23eb"/><ellipse cx="72.1" cy="112.8" rx="3.2" ry="2.0" transform="rotate(3 72.1 112.8)" fill="#140b9a"/><ellipse cx="61.1" cy="132.0" rx="2.4" ry="1.8" transform="rotate(61 61.1 132.0)" fill="#1914b2"/><ellipse cx="91.5" cy="45.8" rx="2.6" ry="1.9" transform="rotate(178 91.5 45.8)" fill="#1309b3"/><ellipse cx="40.8" cy="99.3" rx="3.0" ry="2.4" transform="rotate(6 40.8 99.3)" fill="#1915cc"/><ellipse cx="86.4" cy="163.4" rx="2.5" ry="2.2" transform="rotate(108 86.4 163.4)" fill="#2317f1"/><ellipse cx="54.5" cy="97.9" rx="2.7" ry="1.6" transform="rotate(85 54.5 97.9)" fill="#2e19f3"/><ellipse cx="55.1" cy="146.6" rx="2.6" ry="2.0" transform="rotate(90 55.1 146.6)" fill="#160eac"/><ellipse cx="61.6" cy="161.8" rx="3.2" ry="2.4" transform="rotate(71 61.6 161.8)" fill="#1a10c6"/><ellipse cx="69.8" cy="152.9" rx="2.9" ry="2.0" transform="rotate(3 69.8 152.9)" fill="#1913ea"/><ellipse cx="49.8" cy="75.7" rx="3.0" ry="2.4" transform="rotate(88 49.8 75.7)" fill="#2111aa"/><ellipse cx="11.7" cy="111.1" rx="2.8" ry="2.5" transform="rotate(10 11.7 111.1)" fill="#19159c"/><ellipse cx="82.3" cy="87.1" rx="2.5" ry="1.8" transform="rotate(57 82.3 87.1)" fill="#2a1bc6"/><ellipse cx="10.2" cy="144.4" rx="2.5" ry="1.8" transform="rotate(76 10.2 144.4)" fill="#3227f0"/><ellipse cx="75.3" cy="66.1" rx="3.1" ry="2.2" transform="rotate(63 75.3 66.1)" fill="#150fc6"/><ellipse cx="125.1" cy="114.4" rx="3.3" ry="2.1" transform="rotate(129 125.1 114.4)" fill="#1a0fe6"/><ellipse cx="121.7" cy="71.9" rx="2.8" ry="2.5" transform="rotate(128 121.7 71.9)" fill="#1e11f8"/><ellipse cx="96.2" cy="123.2" rx="2.5" ry="1.8" transform="rotate(140 96.2 123.2)" fill="#170eda"/><ellipse cx="19.6" cy="155.8" rx="2.5" ry="2.0" transform="rotate(76 19.6 155.8)" fill="#2822c1"/><ellipse cx="10.0" cy="118.8" rx="3.0" ry="2.8" transform="rotate(100 10.0 118.8)" fill="#2c17d2"/><ellipse cx="7.9" cy="65.7" rx="2.2" ry="1.7" transform="rotate(128 7.9 65.7)" fill="#1c18d7"/><ellipse cx="118.3" cy="75.7" rx="2.4" ry="1.6" transform="rotate(71 118.3 75.7)" fill="#130fb4"/><ellipse cx="16.9" cy="117.9" rx="2.8" ry="2.0" transform="rotate(10 16.9 117.9)" fill="#251fc2"/><ellipse cx="116.4" cy="129.1" rx="2.5" ry="2.0" transform="rotate(137 116.4 129.1)" fill="#271ebe"/><ellipse cx="50.1" cy="160.2" rx="2.9" ry="2.4" transform="rotate(123 50.1 160.2)" fill="#2b17ed"/><ellipse cx="51.9" cy="58.3" rx="2.7" ry="2.4" transform="rotate(2 51.9 58.3)" fill="#291bf9"/><ellipse cx="125.0" cy="64.8" rx="2.9" ry="1.9" transform="rotate(169 125.0 64.8)" fill="#1e16ba"/><ellipse cx="105.9" cy="63.6" rx="2.7" ry="2.3" transform="rotate(104 105.9 63.6)" fill="#1d16e2"/><ellipse cx="100.1" cy="91.5" rx="3.2" ry="2.4" transform="rotate(26 100.1 91.5)" fill="#1a13ab"/><ellipse cx="119.0" cy="112.0" rx="3.3" ry="2.1" transform="rotate(161 119.0 112.0)" fill="#1b17a0"/><ellipse cx="50.2" cy="91.6" rx="2.9" ry="2.6" transform="rotate(133 50.2 91.6)" fill="#221daa"/><ellipse cx="49.6" cy="58.5" rx="3.3" ry="3.1" transform="rotate(150 49.6 58.5)" fill="#3222fb"/><ellipse cx="28.5" cy="56.4" rx="2.9" ry="2.3" transform="rotate(20 28.5 56.4)" fill="#1b16b6"/><ellipse cx="14.2" cy="147.5" rx="3.2" ry="3.0" transform="rotate(110 14.2 147.5)" fill="#2016ff"/><ellipse cx="62.7" cy="165.0" rx="3.2" ry="2.3" transform="rotate(108 62.7 165.0)" fill="#2921ff"/><ellipse cx="85.8" cy="83.4" rx="3.1" ry="2.9" transform="rotate(145 85.8 83.4)" fill="#211b9c"/><ellipse cx="38.0" cy="98.9" rx="1.9" ry="1.6" transform="rotate(133 38.0 98.9)" fill="#1e1adc"/><ellipse cx="121.7" cy="140.3" rx="2.5" ry="1.6" transform="rotate(173 121.7 140.3)" fill="#1812b2"/><ellipse cx="15.7" cy="105.2" rx="2.9" ry="1.8" transform="rotate(156 15.7 105.2)" fill="#170fcf"/><ellipse cx="86.3" cy="77.1" rx="2.4" ry="2.1" transform="rotate(37 86.3 77.1)" fill="#1a0fe5"/><ellipse cx="78.8" cy="71.5" rx="3.1" ry="2.2" transform="rotate(22 78.8 71.5)" fill="#211ceb"/><ellipse cx="56.3" cy="74.0" rx="2.6" ry="2.2" transform="rotate(57 56.3 74.0)" fill="#1611b0"/><ellipse cx="48.1" cy="74.8" rx="1.9" ry="1.5" transform="rotate(91 48.1 74.8)" fill="#2714cc"/><ellipse cx="102.7" cy="77.2" rx="2.2" ry="1.7" transform="rotate(25 102.7 77.2)" fill="#2318eb"/><ellipse cx="122.3" cy="69.8" rx="2.2" ry="1.6" transform="rotate(126 122.3 69.8)" fill="#241ac2"/><ellipse cx="18.8" cy="70.4" rx="3.2" ry="2.6" transform="rotate(2 18.8 70.4)" fill="#1f1998"/><ellipse cx="22.0" cy="67.9" rx="2.2" ry="1.7" transform="rotate(66 22.0 67.9)" fill="#251dc5"/><ellipse cx="13.1" cy="43.6" rx="2.4" ry="2.0" transform="rotate(123 13.1 43.6)" fill="#1c14ca"/><ellipse cx="88.7" cy="160.2" rx="3.0" ry="2.1" transform="rotate(63 88.7 160.2)" fill="#211c9f"/><ellipse cx="56.0" cy="119.0" rx="3.1" ry="2.7" transform="rotate(129 56.0 119.0)" fill="#1b17a3"/><ellipse cx="21.6" cy="136.5" rx="3.0" ry="2.3" transform="rotate(152 21.6 136.5)" fill="#1e0fcc"/><ellipse cx="50.7" cy="133.6" rx="2.2" ry="2.0" transform="rotate(120 50.7 133.6)" fill="#1f14c8"/><ellipse cx="100.7" cy="157.2" rx="3.2" ry="2.6" transform="rotate(38 100.7 157.2)" fill="#2820bd"/><ellipse cx="110.6" cy="79.3" rx="2.1" ry="1.9" transform="rotate(92 110.6 79.3)" fill="#180fd2"/><ellipse cx="118.1" cy="114.3" rx="2.6" ry="1.8" transform="rotate(52 118.1 114.3)" fill="#342efc"/><ellipse cx="32.9" cy="152.3" rx="2.5" ry="2.1" transform="rotate(159 32.9 152.3)" fill="#1d18f2"/><ellipse cx="4.6" cy="115.3" rx="3.3" ry="2.3" transform="rotate(94 4.6 115.3)" fill="#130fbd"/><ellipse cx="122.9" cy="120.6" rx="2.4" ry="2.2" transform="rotate(61 122.9 120.6)" fill="#2015e5"/><ellipse cx="91.5" cy="107.5" rx="1.9" ry="1.2" transform="rotate(79 91.5 107.5)" fill="#231dab"/><ellipse cx="35.8" cy="126.1" rx="3.1" ry="2.8" transform="rotate(77 35.8 126.1)" fill="#1b0de6"/><ellipse cx="49.9" cy="161.4" rx="2.9" ry="2.4" transform="rotate(68 49.9 161.4)" fill="#2c16cd"/><ellipse cx="29.1" cy="95.0" rx="2.7" ry="2.2" transform="rotate(121 29.1 95.0)" fill="#2518c1"/><ellipse cx="84.0" cy="139.8" rx="2.2" ry="2.1" transform="rotate(177 84.0 139.8)" fill="#2b23d4"/><ellipse cx="53.6" cy="92.0" rx="2.3" ry="1.4" transform="rotate(5 53.6 92.0)" fill="#1b14f9"/><ellipse cx="97.1" cy="129.1" rx="2.3" ry="1.6" transform="rotate(9 97.1 129.1)" fill="#2218ac"/><ellipse cx="15.8" cy="126.4" rx="2.7" ry="2.1" transform="rotate(53 15.8 126.4)" fill="#2312f3"/><ellipse cx="20.4" cy="129.4" rx="2.0" ry="1.7" transform="rotate(122 20.4 129.4)" fill="#2117e8"/><ellipse cx="2.5" cy="157.3" rx="2.9" ry="2.4" transform="rotate(94 2.5 157.3)" fill="#2a25f7"/><ellipse cx="107.8" cy="49.6" rx="3.2" ry="2.4" transform="rotate(74 107.8 49.6)" fill="#150faa"/><ellipse cx="69.2" cy="84.5" rx="2.8" ry="1.9" transform="rotate(91 69.2 84.5)" fill="#2415b6"/><ellipse cx="37.3" cy="75.0" rx="2.1" ry="1.7" transform="rotate(65 37.3 75.0)" fill="#2018f2"/><ellipse cx="99.3" cy="66.5" rx="2.8" ry="1.8" transform="rotate(49 99.3 66.5)" fill="#2112f4"/><ellipse cx="82.8" cy="118.5" rx="2.4" ry="1.7" transform="rotate(114 82.8 118.5)" fill="#140ac6"/><ellipse cx="19.4" cy="104.6" rx="2.5" ry="2.3" transform="rotate(65 19.4 104.6)" fill="#3225f9"/><ellipse cx="36.5" cy="77.8" rx="2.6" ry="1.7" transform="rotate(104 36.5 77.8)" fill="#180ca8"/><ellipse cx="39.2" cy="76.3" rx="3.1" ry="2.6" transform="rotate(89 39.2 76.3)" fill="#2822cd"/><ellipse cx="54.2" cy="88.5" rx="2.8" ry="2.1" transform="rotate(34 54.2 88.5)" fill="#2919cd"/><ellipse cx="11.9" cy="161.6" rx="2.1" ry="1.5" transform="rotate(65 11.9 161.6)" fill="#2514cc"/><ellipse cx="112.3" cy="49.4" rx="2.8" ry="1.8" transform="rotate(41 112.3 49.4)" fill="#2515ee"/><ellipse cx="16.7" cy="119.8" rx="2.9" ry="2.0" transform="rotate(79 16.7 119.8)" fill="#3220f8"/><ellipse cx="121.2" cy="112.8" rx="2.2" ry="1.7" transform="rotate(122 121.2 112.8)" fill="#1c11f7"/><ellipse cx="121.4" cy="44.6" rx="2.4" ry="2.2" transform="rotate(38 121.4 44.6)" fill="#2112bd"/><ellipse cx="8.2" cy="62.4" rx="2.5" ry="2.2" transform="rotate(23 8.2 62.4)" fill="#2414ae"/><ellipse cx="53.3" cy="139.9" rx="2.7" ry="2.1" transform="rotate(108 53.3 139.9)" fill="#2817fc"/><ellipse cx="87.6" cy="73.3" rx="2.2" ry="1.8" transform="rotate(172 87.6 73.3)" fill="#1c0edc"/><ellipse cx="98.9" cy="149.0" rx="3.2" ry="3.0" transform="rotate(63 98.9 149.0)" fill="#160fb9"/><ellipse cx="55.5" cy="112.0" rx="2.7" ry="2.2" transform="rotate(166 55.5 112.0)" fill="#251edc"/><ellipse cx="55.7" cy="96.1" rx="2.2" ry="1.9" transform="rotate(171 55.7 96.1)" fill="#221ec0"/><ellipse cx="6.3" cy="156.8" rx="3.3" ry="3.0" transform="rotate(83 6.3 156.8)" fill="#2b1fea"/><ellipse cx="45.0" cy="99.7" rx="2.7" ry="2.1" transform="rotate(107 45.0 99.7)" fill="#1c11a6"/><ellipse cx="107.0" cy="53.9" rx="2.2" ry="1.7" transform="rotate(38 107.0 53.9)" fill="#1d0fbc"/><ellipse cx="25.8" cy="129.6" rx="2.3" ry="1.6" transform="rotate(37 25.8 129.6)" fill="#211697"/><ellipse cx="53.7" cy="123.3" rx="2.1" ry="1.3" transform="rotate(68 53.7 123.3)" fill="#2412aa"/><ellipse cx="63.5" cy="103.2" rx="2.7" ry="2.0" transform="rotate(166 63.5 103.2)" fill="#281ae2"/><ellipse cx="30.2" cy="166.8" rx="2.7" ry="1.7" transform="rotate(151 30.2 166.8)" fill="#1f13af"/><ellipse cx="125.5" cy="156.0" rx="2.5" ry="2.1" transform="rotate(81 125.5 156.0)" fill="#150ea8"/><ellipse cx="88.9" cy="106.5" rx="2.0" ry="1.9" transform="rotate(150 88.9 106.5)" fill="#1811c4"/><ellipse cx="28.0" cy="102.6" rx="2.2" ry="1.5" transform="rotate(95 28.0 102.6)" fill="#2119eb"/><ellipse cx="119.4" cy="145.4" rx="3.0" ry="2.5" transform="rotate(145 119.4 145.4)" fill="#221db4"/><ellipse cx="35.9" cy="163.2" rx="2.7" ry="1.6" transform="rotate(6 35.9 163.2)" fill="#150ebe"/><ellipse cx="22.5" cy="110.1" rx="2.5" ry="1.6" transform="rotate(97 22.5 110.1)" fill="#352dfb"/><ellipse cx="40.8" cy="125.8" rx="2.9" ry="2.2" transform="rotate(134 40.8 125.8)" fill="#1f19c9"/><ellipse cx="110.3" cy="88.4" rx="2.3" ry="1.8" transform="rotate(67 110.3 88.4)" fill="#170fe6"/><ellipse cx="108.2" cy="93.3" rx="2.9" ry="2.0" transform="rotate(173 108.2 93.3)" fill="#1d12e9"/><ellipse cx="42.4" cy="162.9" rx="2.0" ry="1.2" transform="rotate(32 42.4 162.9)" fill="#1d16d1"/><ellipse cx="33.8" cy="116.6" rx="3.2" ry="2.2" transform="rotate(11 33.8 116.6)" fill="#1e19e7"/><ellipse cx="1.0" cy="165.5" rx="2.5" ry="1.7" transform="rotate(158 1.0 165.5)" fill="#160bd5"/><ellipse cx="74.8" cy="113.3" rx="1.9" ry="1.7" transform="rotate(175 74.8 113.3)" fill="#2621d2"/><ellipse cx="18.8" cy="157.9" rx="3.1" ry="2.3" transform="rotate(171 18.8 157.9)" fill="#1e19b5"/><ellipse cx="89.2" cy="162.1" rx="2.2" ry="1.4" transform="rotate(159 89.2 162.1)" fill="#1209a4"/><ellipse cx="18.3" cy="146.6" rx="2.0" ry="1.5" transform="rotate(128 18.3 146.6)" fill="#231bf1"/><ellipse cx="50.1" cy="136.7" rx="3.0" ry="2.2" transform="rotate(159 50.1 136.7)" fill="#2512ad"/><ellipse cx="29.2" cy="148.3" rx="2.6" ry="2.3" transform="rotate(14 29.2 148.3)" fill="#1410d1"/><ellipse cx="31.2" cy="131.3" rx="3.0" ry="2.6" transform="rotate(171 31.2 131.3)" fill="#1e19b2"/><ellipse cx="35.2" cy="132.6" rx="2.1" ry="1.9" transform="rotate(165 35.2 132.6)" fill="#1512c2"/><ellipse cx="115.1" cy="71.6" rx="2.4" ry="1.9" transform="rotate(80 115.1 71.6)" fill="#2d1ef9"/><ellipse cx="45.5" cy="153.7" rx="2.2" ry="1.4" transform="rotate(154 45.5 153.7)" fill="#3021ed"/><ellipse cx="8.2" cy="121.6" rx="2.4" ry="2.1" transform="rotate(104 8.2 121.6)" fill="#2118cd"/><ellipse cx="8.6" cy="153.8" rx="2.4" ry="2.0" transform="rotate(62 8.6 153.8)" fill="#190ca5"/><ellipse cx="122.6" cy="93.9" rx="3.2" ry="2.1" transform="rotate(50 122.6 93.9)" fill="#2514d7"/><ellipse cx="74.4" cy="50.1" rx="2.8" ry="2.0" transform="rotate(106 74.4 50.1)" fill="#1f16ad"/><ellipse cx="73.1" cy="73.7" rx="2.6" ry="1.6" transform="rotate(88 73.1 73.7)" fill="#1f18c4"/><ellipse cx="116.0" cy="113.2" rx="2.1" ry="2.0" transform="rotate(91 116.0 113.2)" fill="#2017cc"/><ellipse cx="115.8" cy="87.9" rx="2.6" ry="1.6" transform="rotate(36 115.8 87.9)" fill="#150c98"/><ellipse cx="67.5" cy="123.6" rx="2.7" ry="1.8" transform="rotate(42 67.5 123.6)" fill="#251ab2"/><ellipse cx="6.8" cy="62.3" rx="2.7" ry="2.3" transform="rotate(25 6.8 62.3)" fill="#170eb8"/><ellipse cx="93.9" cy="54.6" rx="3.1" ry="2.3" transform="rotate(106 93.9 54.6)" fill="#19159b"/><ellipse cx="58.7" cy="133.6" rx="2.3" ry="2.2" transform="rotate(121 58.7 133.6)" fill="#311ef4"/><ellipse cx="49.2" cy="79.5" rx="2.1" ry="1.9" transform="rotate(117 49.2 79.5)" fill="#1b0ef1"/><ellipse cx="15.4" cy="44.2" rx="2.6" ry="1.6" transform="rotate(38 15.4 44.2)" fill="#180ec1"/><ellipse cx="110.8" cy="100.7" rx="2.7" ry="2.3" transform="rotate(37 110.8 100.7)" fill="#1e17d1"/><ellipse cx="9.0" cy="80.3" rx="2.5" ry="2.2" transform="rotate(146 9.0 80.3)" fill="#2c21cb"/><ellipse cx="118.7" cy="91.9" rx="3.1" ry="2.6" transform="rotate(39 118.7 91.9)" fill="#150cd5"/><ellipse cx="63.2" cy="159.3" rx="2.4" ry="1.5" transform="rotate(130 63.2 159.3)" fill="#2c19eb"/><ellipse cx="57.1" cy="69.7" rx="2.0" ry="1.7" transform="rotate(31 57.1 69.7)" fill="#2d1df7"/><ellipse cx="47.7" cy="60.6" rx="2.0" ry="1.6" transform="rotate(28 47.7 60.6)" fill="#2b22e0"/><ellipse cx="69.7" cy="132.6" rx="2.8" ry="2.0" transform="rotate(85 69.7 132.6)" fill="#1c1298"/><ellipse cx="85.8" cy="114.8" rx="2.5" ry="1.8" transform="rotate(39 85.8 114.8)" fill="#160fb8"/><ellipse cx="114.7" cy="144.2" rx="3.3" ry="2.7" transform="rotate(51 114.7 144.2)" fill="#1613ce"/><ellipse cx="57.3" cy="127.6" rx="3.2" ry="2.5" transform="rotate(147 57.3 127.6)" fill="#1c18b3"/><ellipse cx="31.5" cy="62.5" rx="3.1" ry="2.3" transform="rotate(5 31.5 62.5)" fill="#1e10cc"/><ellipse cx="10.5" cy="101.1" rx="3.0" ry="2.8" transform="rotate(52 10.5 101.1)" fill="#1a0fc8"/><ellipse cx="18.8" cy="135.0" rx="2.3" ry="1.9" transform="rotate(123 18.8 135.0)" fill="#1712dc"/><ellipse cx="18.7" cy="154.1" rx="2.1" ry="1.6" transform="rotate(77 18.7 154.1)" fill="#160d9d"/><ellipse cx="4.1" cy="166.2" rx="3.0" ry="1.8" transform="rotate(51 4.1 166.2)" fill="#1c18e6"/><ellipse cx="34.9" cy="157.0" rx="3.3" ry="2.4" transform="rotate(147 34.9 157.0)" fill="#1815ef"/><ellipse cx="49.0" cy="85.0" rx="3.0" ry="2.0" transform="rotate(4 49.0 85.0)" fill="#120db7"/><ellipse cx="72.9" cy="95.1" rx="3.1" ry="2.7" transform="rotate(4 72.9 95.1)" fill="#241ee5"/><ellipse cx="13.2" cy="151.3" rx="2.7" ry="2.4" transform="rotate(16 13.2 151.3)" fill="#190cb1"/><ellipse cx="52.4" cy="150.6" rx="2.3" ry="2.2" transform="rotate(22 52.4 150.6)" fill="#1b14d2"/><ellipse cx="12.5" cy="99.1" rx="3.0" ry="1.9" transform="rotate(160 12.5 99.1)" fill="#2316a9"/><ellipse cx="99.7" cy="146.3" rx="2.2" ry="1.7" transform="rotate(19 99.7 146.3)" fill="#1f17e3"/><ellipse cx="111.9" cy="68.2" rx="2.3" ry="2.1" transform="rotate(59 111.9 68.2)" fill="#1410a0"/><ellipse cx="71.4" cy="161.2" rx="2.6" ry="2.0" transform="rotate(90 71.4 161.2)" fill="#1c16c7"/><ellipse cx="67.3" cy="101.9" rx="2.1" ry="1.8" transform="rotate(149 67.3 101.9)" fill="#120a96"/><ellipse cx="82.1" cy="68.7" rx="3.0" ry="2.5" transform="rotate(165 82.1 68.7)" fill="#1d19fb"/><ellipse cx="64.9" cy="91.3" rx="2.8" ry="2.4" transform="rotate(97 64.9 91.3)" fill="#251ce8"/><ellipse cx="60.3" cy="102.2" rx="2.8" ry="1.9" transform="rotate(6 60.3 102.2)" fill="#2011b9"/><ellipse cx="27.6" cy="154.8" rx="2.5" ry="2.4" transform="rotate(11 27.6 154.8)" fill="#1e10f0"/><ellipse cx="76.0" cy="127.3" rx="3.2" ry="2.4" transform="rotate(59 76.0 127.3)" fill="#2b24fc"/><ellipse cx="112.9" cy="124.9" rx="2.8" ry="2.5" transform="rotate(151 112.9 124.9)" fill="#0f079f"/><ellipse cx="9.2" cy="53.8" rx="3.1" ry="2.5" transform="rotate(11 9.2 53.8)" fill="#1c11cd"/><ellipse cx="116.1" cy="67.8" rx="2.9" ry="1.9" transform="rotate(14 116.1 67.8)" fill="#1813a4"/><ellipse cx="64.3" cy="55.6" rx="1.9" ry="1.6" transform="rotate(26 64.3 55.6)" fill="#3328f8"/><ellipse cx="25.6" cy="150.6" rx="3.2" ry="2.4" transform="rotate(159 25.6 150.6)" fill="#151199"/><ellipse cx="79.2" cy="124.7" rx="3.0" ry="2.3" transform="rotate(7 79.2 124.7)" fill="#2010aa"/><ellipse cx="40.3" cy="147.7" rx="2.3" ry="1.5" transform="rotate(141 40.3 147.7)" fill="#2314df"/><ellipse cx="108.4" cy="62.5" rx="2.9" ry="2.0" transform="rotate(111 108.4 62.5)" fill="#100da3"/><ellipse cx="72.8" cy="123.8" rx="2.1" ry="1.9" transform="rotate(14 72.8 123.8)" fill="#1914b3"/><ellipse cx="69.9" cy="157.4" rx="2.1" ry="1.9" transform="rotate(177 69.9 157.4)" fill="#160ba5"/><ellipse cx="98.1" cy="97.6" rx="2.8" ry="1.8" transform="rotate(173 98.1 97.6)" fill="#1f17c8"/><ellipse cx="112.6" cy="129.1" rx="2.6" ry="1.7" transform="rotate(85 112.6 129.1)" fill="#2c19dc"/><ellipse cx="94.7" cy="109.3" rx="2.2" ry="1.7" transform="rotate(161 94.7 109.3)" fill="#2016af"/><ellipse cx="5.8" cy="145.9" rx="3.3" ry="2.0" transform="rotate(7 5.8 145.9)" fill="#1c12cd"/><ellipse cx="56.5" cy="100.1" rx="2.8" ry="2.4" transform="rotate(117 56.5 100.1)" fill="#1d10cf"/><ellipse cx="117.0" cy="75.2" rx="3.1" ry="2.4" transform="rotate(133 117.0 75.2)" fill="#2f1ffa"/><ellipse cx="94.8" cy="70.7" rx="3.2" ry="2.7" transform="rotate(150 94.8 70.7)" fill="#1712ae"/><ellipse cx="84.7" cy="89.4" rx="3.2" ry="3.0" transform="rotate(122 84.7 89.4)" fill="#1f13b5"/><ellipse cx="102.6" cy="129.8" rx="3.1" ry="2.3" transform="rotate(168 102.6 129.8)" fill="#2719ee"/><ellipse cx="62.9" cy="139.6" rx="2.9" ry="1.8" transform="rotate(40 62.9 139.6)" fill="#140bc2"/><ellipse cx="75.4" cy="165.7" rx="2.0" ry="1.9" transform="rotate(98 75.4 165.7)" fill="#3224fc"/><ellipse cx="36.7" cy="89.1" rx="3.3" ry="2.4" transform="rotate(168 36.7 89.1)" fill="#1815a4"/><ellipse cx="7.0" cy="147.5" rx="2.6" ry="1.8" transform="rotate(88 7.0 147.5)" fill="#2418f0"/><ellipse cx="113.6" cy="147.2" rx="2.2" ry="1.7" transform="rotate(72 113.6 147.2)" fill="#1712ae"/><ellipse cx="78.6" cy="95.2" rx="2.7" ry="2.2" transform="rotate(23 78.6 95.2)" fill="#1714b7"/><ellipse cx="73.2" cy="65.8" rx="3.0" ry="1.8" transform="rotate(54 73.2 65.8)" fill="#1309a7"/><ellipse cx="65.0" cy="136.0" rx="3.1" ry="2.4" transform="rotate(130 65.0 136.0)" fill="#1612c7"/><ellipse cx="37.5" cy="100.5" rx="2.8" ry="2.1" transform="rotate(156 37.5 100.5)" fill="#1f1699"/><ellipse cx="37.1" cy="83.3" rx="2.1" ry="1.3" transform="rotate(56 37.1 83.3)" fill="#130fa2"/><ellipse cx="66.6" cy="162.4" rx="2.0" ry="1.6" transform="rotate(163 66.6 162.4)" fill="#170ed8"/><ellipse cx="80.7" cy="61.5" rx="2.5" ry="2.1" transform="rotate(122 80.7 61.5)" fill="#2e18d5"/><ellipse cx="16.9" cy="121.4" rx="3.1" ry="3.0" transform="rotate(109 16.9 121.4)" fill="#2218ef"/><ellipse cx="98.8" cy="64.7" rx="2.9" ry="2.2" transform="rotate(8 98.8 64.7)" fill="#221ac3"/><ellipse cx="39.8" cy="74.1" rx="2.4" ry="2.2" transform="rotate(73 39.8 74.1)" fill="#2014d2"/><ellipse cx="113.8" cy="129.9" rx="2.1" ry="1.4" transform="rotate(86 113.8 129.9)" fill="#301ce7"/><ellipse cx="123.5" cy="101.5" rx="2.0" ry="1.5" transform="rotate(88 123.5 101.5)" fill="#180dd5"/><ellipse cx="83.2" cy="101.8" rx="3.1" ry="2.8" transform="rotate(41 83.2 101.8)" fill="#1a12f9"/><ellipse cx="75.4" cy="88.3" rx="3.0" ry="2.5" transform="rotate(54 75.4 88.3)" fill="#1e19b2"/><ellipse cx="61.4" cy="53.0" rx="2.3" ry="1.9" transform="rotate(82 61.4 53.0)" fill="#170f9b"/><ellipse cx="18.8" cy="61.4" rx="2.1" ry="1.8" transform="rotate(160 18.8 61.4)" fill="#1a12a8"/><ellipse cx="57.5" cy="157.3" rx="2.1" ry="1.6" transform="rotate(28 57.5 157.3)" fill="#130c9d"/><ellipse cx="82.6" cy="75.1" rx="2.3" ry="1.7" transform="rotate(38 82.6 75.1)" fill="#1e18df"/><ellipse cx="31.3" cy="145.5" rx="2.4" ry="1.8" transform="rotate(58 31.3 145.5)" fill="#2c18ed"/><ellipse cx="47.5" cy="144.9" rx="2.2" ry="1.9" transform="rotate(19 47.5 144.9)" fill="#2f17fe"/><ellipse cx="123.2" cy="84.4" rx="2.5" ry="1.9" transform="rotate(98 123.2 84.4)" fill="#170cc5"/><ellipse cx="48.4" cy="98.1" rx="2.3" ry="1.4" transform="rotate(160 48.4 98.1)" fill="#2413d1"/><ellipse cx="18.9" cy="103.2" rx="2.1" ry="1.5" transform="rotate(39 18.9 103.2)" fill="#2d26f8"/><ellipse cx="78.8" cy="50.6" rx="2.5" ry="1.8" transform="rotate(121 78.8 50.6)" fill="#2015d1"/><ellipse cx="8.3" cy="159.8" rx="2.4" ry="1.5" transform="rotate(18 8.3 159.8)" fill="#2018c7"/><ellipse cx="128.1" cy="60.7" rx="2.2" ry="1.9" transform="rotate(89 128.1 60.7)" fill="#2116d4"/><ellipse cx="9.8" cy="117.0" rx="2.9" ry="2.6" transform="rotate(20 9.8 117.0)" fill="#2b17df"/><ellipse cx="53.3" cy="135.1" rx="3.2" ry="2.8" transform="rotate(17 53.3 135.1)" fill="#2823f3"/><ellipse cx="-0.0" cy="127.2" rx="2.1" ry="1.8" transform="rotate(14 -0.0 127.2)" fill="#1610c0"/><ellipse cx="82.6" cy="94.7" rx="2.5" ry="1.8" transform="rotate(148 82.6 94.7)" fill="#231be8"/><ellipse cx="55.8" cy="97.6" rx="2.8" ry="2.3" transform="rotate(82 55.8 97.6)" fill="#1e10d3"/><ellipse cx="35.3" cy="146.0" rx="2.3" ry="1.9" transform="rotate(17 35.3 146.0)" fill="#2010ab"/><ellipse cx="113.2" cy="84.9" rx="2.1" ry="1.6" transform="rotate(178 113.2 84.9)" fill="#2216cd"/><ellipse cx="112.1" cy="92.0" rx="1.9" ry="1.3" transform="rotate(157 112.1 92.0)" fill="#2520d4"/><ellipse cx="16.1" cy="118.9" rx="2.7" ry="2.4" transform="rotate(99 16.1 118.9)" fill="#1d11f7"/><ellipse cx="114.9" cy="67.6" rx="1.9" ry="1.8" transform="rotate(88 114.9 67.6)" fill="#281bd0"/><ellipse cx="54.8" cy="43.1" rx="2.5" ry="1.7" transform="rotate(68 54.8 43.1)" fill="#201cb8"/><ellipse cx="98.7" cy="148.8" rx="2.1" ry="1.6" transform="rotate(148 98.7 148.8)" fill="#311df9"/><ellipse cx="32.7" cy="152.6" rx="2.6" ry="2.3" transform="rotate(98 32.7 152.6)" fill="#251fb6"/><ellipse cx="96.1" cy="135.3" rx="3.3" ry="2.1" transform="rotate(62 96.1 135.3)" fill="#1d19ce"/><ellipse cx="64.9" cy="105.0" rx="2.7" ry="2.4" transform="rotate(149 64.9 105.0)" fill="#2413bf"/><ellipse cx="44.7" cy="131.7" rx="2.9" ry="1.8" transform="rotate(26 44.7 131.7)" fill="#351ef4"/><ellipse cx="35.5" cy="101.7" rx="2.9" ry="2.1" transform="rotate(41 35.5 101.7)" fill="#2117bb"/><ellipse cx="116.4" cy="116.8" rx="3.1" ry="1.8" transform="rotate(84 116.4 116.8)" fill="#150daf"/><ellipse cx="32.6" cy="63.9" rx="3.1" ry="2.5" transform="rotate(147 32.6 63.9)" fill="#2f20f5"/><ellipse cx="120.2" cy="127.4" rx="3.2" ry="2.9" transform="rotate(64 120.2 127.4)" fill="#1813c3"/><ellipse cx="69.3" cy="165.1" rx="2.5" ry="1.6" transform="rotate(50 69.3 165.1)" fill="#2b1bc7"/><ellipse cx="31.9" cy="43.4" rx="2.1" ry="1.4" transform="rotate(112 31.9 43.4)" fill="#100e96"/><ellipse cx="4.2" cy="100.0" rx="2.2" ry="1.9" transform="rotate(115 4.2 100.0)" fill="#1a0ef5"/><ellipse cx="19.8" cy="97.6" rx="2.3" ry="1.8" transform="rotate(90 19.8 97.6)" fill="#2011f0"/><ellipse cx="69.7" cy="151.9" rx="2.8" ry="1.7" transform="rotate(20 69.7 151.9)" fill="#1b10d4"/><ellipse cx="13.9" cy="80.9" rx="3.1" ry="2.1" transform="rotate(75 13.9 80.9)" fill="#1008a4"/><ellipse cx="47.4" cy="65.8" rx="2.4" ry="1.4" transform="rotate(5 47.4 65.8)" fill="#120bb5"/><ellipse cx="92.5" cy="117.2" rx="2.8" ry="2.0" transform="rotate(16 92.5 117.2)" fill="#1813ac"/><ellipse cx="101.0" cy="60.9" rx="2.2" ry="1.7" transform="rotate(80 101.0 60.9)" fill="#2614e4"/><ellipse cx="29.6" cy="72.3" rx="2.6" ry="1.7" transform="rotate(105 29.6 72.3)" fill="#2013e2"/><ellipse cx="36.1" cy="152.6" rx="2.8" ry="2.5" transform="rotate(22 36.1 152.6)" fill="#1f12ab"/><ellipse cx="121.6" cy="139.1" rx="3.1" ry="2.3" transform="rotate(68 121.6 139.1)" fill="#1c11df"/><ellipse cx="77.2" cy="166.9" rx="2.7" ry="2.1" transform="rotate(69 77.2 166.9)" fill="#2115a3"/><ellipse cx="61.7" cy="154.3" rx="3.1" ry="2.5" transform="rotate(175 61.7 154.3)" fill="#1e1ae6"/><ellipse cx="24.8" cy="117.1" rx="2.5" ry="1.8" transform="rotate(19 24.8 117.1)" fill="#140ca6"/><ellipse cx="81.0" cy="113.0" rx="2.0" ry="1.5" transform="rotate(81 81.0 113.0)" fill="#2820d7"/><ellipse cx="110.4" cy="74.9" rx="2.1" ry="1.4" transform="rotate(57 110.4 74.9)" fill="#1a14c1"/><ellipse cx="109.7" cy="69.2" rx="3.0" ry="2.3" transform="rotate(95 109.7 69.2)" fill="#140bc7"/><ellipse cx="44.1" cy="137.4" rx="2.5" ry="1.6" transform="rotate(118 44.1 137.4)" fill="#3525f7"/><ellipse cx="96.9" cy="67.7" rx="2.6" ry="2.2" transform="rotate(57 96.9 67.7)" fill="#2f17dd"/><ellipse cx="96.8" cy="147.2" rx="2.9" ry="2.5" transform="rotate(4 96.8 147.2)" fill="#2518c6"/><ellipse cx="90.7" cy="93.1" rx="2.0" ry="1.2" transform="rotate(169 90.7 93.1)" fill="#140ca0"/><ellipse cx="49.3" cy="127.3" rx="3.1" ry="2.2" transform="rotate(64 49.3 127.3)" fill="#2c26eb"/><ellipse cx="30.7" cy="93.8" rx="2.9" ry="2.1" transform="rotate(179 30.7 93.8)" fill="#140e9b"/><ellipse cx="72.7" cy="66.2" rx="2.1" ry="1.9" transform="rotate(37 72.7 66.2)" fill="#20149c"/><ellipse cx="68.8" cy="131.9" rx="2.4" ry="2.0" transform="rotate(164 68.8 131.9)" fill="#291ac2"/><ellipse cx="28.6" cy="148.0" rx="2.1" ry="1.7" transform="rotate(66 28.6 148.0)" fill="#211dd1"/><ellipse cx="48.2" cy="75.6" rx="2.5" ry="2.1" transform="rotate(47 48.2 75.6)" fill="#3127ee"/><ellipse cx="67.6" cy="95.5" rx="2.2" ry="1.6" transform="rotate(83 67.6 95.5)" fill="#1d17c0"/><ellipse cx="18.2" cy="132.0" rx="2.2" ry="1.9" transform="rotate(40 18.2 132.0)" fill="#1811c4"/><ellipse cx="123.8" cy="87.4" rx="3.1" ry="1.9" transform="rotate(120 123.8 87.4)" fill="#2014c7"/><ellipse cx="104.7" cy="111.5" rx="2.7" ry="1.9" transform="rotate(46 104.7 111.5)" fill="#110ca0"/><ellipse cx="95.4" cy="157.0" rx="2.2" ry="1.7" transform="rotate(143 95.4 157.0)" fill="#160baf"/><ellipse cx="50.1" cy="105.7" rx="2.3" ry="2.2" transform="rotate(87 50.1 105.7)" fill="#3221fe"/><ellipse cx="89.9" cy="102.7" rx="2.6" ry="1.9" transform="rotate(178 89.9 102.7)" fill="#321af6"/><ellipse cx="24.4" cy="47.1" rx="2.1" ry="1.8" transform="rotate(11 24.4 47.1)" fill="#12099c"/><ellipse cx="63.3" cy="102.4" rx="1.9" ry="1.3" transform="rotate(114 63.3 102.4)" fill="#2e26e2"/><ellipse cx="68.4" cy="157.0" rx="2.8" ry="1.7" transform="rotate(169 68.4 157.0)" fill="#2720eb"/><ellipse cx="126.5" cy="158.0" rx="2.0" ry="1.4" transform="rotate(68 126.5 158.0)" fill="#3225fc"/><ellipse cx="57.7" cy="83.7" rx="3.3" ry="3.1" transform="rotate(11 57.7 83.7)" fill="#332af7"/><ellipse cx="0.1" cy="125.2" rx="3.2" ry="2.0" transform="rotate(131 0.1 125.2)" fill="#1d12b2"/><ellipse cx="125.0" cy="52.4" rx="2.7" ry="2.4" transform="rotate(11 125.0 52.4)" fill="#211bd9"/><ellipse cx="64.6" cy="47.0" rx="2.6" ry="2.1" transform="rotate(26 64.6 47.0)" fill="#140ea4"/><ellipse cx="1.3" cy="120.6" rx="2.7" ry="1.8" transform="rotate(56 1.3 120.6)" fill="#1b14ce"/><ellipse cx="58.7" cy="161.4" rx="3.1" ry="2.6" transform="rotate(71 58.7 161.4)" fill="#3628f8"/><ellipse cx="78.2" cy="86.1" rx="2.5" ry="2.2" transform="rotate(17 78.2 86.1)" fill="#1d1899"/><ellipse cx="42.3" cy="133.1" rx="2.2" ry="1.4" transform="rotate(15 42.3 133.1)" fill="#120daa"/><ellipse cx="75.2" cy="131.0" rx="2.4" ry="2.2" transform="rotate(76 75.2 131.0)" fill="#1e16f8"/><ellipse cx="63.9" cy="59.2" rx="2.4" ry="1.6" transform="rotate(47 63.9 59.2)" fill="#3120ff"/><ellipse cx="23.9" cy="165.5" rx="2.5" ry="2.1" transform="rotate(36 23.9 165.5)" fill="#2012df"/><ellipse cx="107.2" cy="144.3" rx="2.2" ry="1.4" transform="rotate(26 107.2 144.3)" fill="#2213c8"/><ellipse cx="75.6" cy="125.4" rx="2.1" ry="1.7" transform="rotate(147 75.6 125.4)" fill="#1a13a8"/><ellipse cx="116.6" cy="65.7" rx="3.3" ry="2.3" transform="rotate(62 116.6 65.7)" fill="#1e0fb5"/><ellipse cx="127.2" cy="123.7" rx="3.1" ry="2.8" transform="rotate(141 127.2 123.7)" fill="#231bb4"/><ellipse cx="55.0" cy="159.7" rx="2.9" ry="2.0" transform="rotate(164 55.0 159.7)" fill="#2721c4"/><ellipse cx="113.0" cy="143.0" rx="2.5" ry="2.1" transform="rotate(143 113.0 143.0)" fill="#130d9b"/><ellipse cx="54.2" cy="110.5" rx="3.0" ry="2.7" transform="rotate(92 54.2 110.5)" fill="#231ce2"/><ellipse cx="7.1" cy="68.9" rx="2.5" ry="2.2" transform="rotate(91 7.1 68.9)" fill="#2e22e4"/><ellipse cx="96.6" cy="122.4" rx="2.0" ry="1.7" transform="rotate(122 96.6 122.4)" fill="#1e1abb"/><ellipse cx="39.9" cy="64.8" rx="3.1" ry="2.6" transform="rotate(97 39.9 64.8)" fill="#120aae"/><ellipse cx="82.3" cy="149.7" rx="3.2" ry="2.3" transform="rotate(165 82.3 149.7)" fill="#190fcb"/><ellipse cx="112.4" cy="151.2" rx="2.7" ry="2.2" transform="rotate(109 112.4 151.2)" fill="#2e1ee0"/><ellipse cx="38.4" cy="134.1" rx="2.3" ry="1.7" transform="rotate(172 38.4 134.1)" fill="#1410c0"/><ellipse cx="102.7" cy="127.5" rx="2.8" ry="1.8" transform="rotate(63 102.7 127.5)" fill="#1f1aa8"/><ellipse cx="96.8" cy="74.1" rx="1.9" ry="1.4" transform="rotate(25 96.8 74.1)" fill="#130c9e"/><ellipse cx="51.1" cy="106.3" rx="2.0" ry="1.7" transform="rotate(174 51.1 106.3)" fill="#1310a4"/><ellipse cx="118.0" cy="90.9" rx="2.6" ry="2.1" transform="rotate(149 118.0 90.9)" fill="#3121f7"/><ellipse cx="61.8" cy="53.1" rx="3.0" ry="2.7" transform="rotate(171 61.8 53.1)" fill="#221bde"/><ellipse cx="49.0" cy="148.4" rx="2.2" ry="1.3" transform="rotate(35 49.0 148.4)" fill="#2319b9"/><ellipse cx="64.8" cy="148.2" rx="2.5" ry="1.5" transform="rotate(34 64.8 148.2)" fill="#1c0ebd"/><ellipse cx="83.1" cy="89.7" rx="2.6" ry="1.7" transform="rotate(24 83.1 89.7)" fill="#2717bc"/><ellipse cx="103.6" cy="81.2" rx="3.0" ry="2.5" transform="rotate(91 103.6 81.2)" fill="#1912ef"/><ellipse cx="5.2" cy="92.0" rx="2.1" ry="1.4" transform="rotate(161 5.2 92.0)" fill="#120cad"/><ellipse cx="45.5" cy="86.1" rx="2.8" ry="2.4" transform="rotate(97 45.5 86.1)" fill="#2918f9"/><ellipse cx="102.8" cy="50.8" rx="2.2" ry="2.1" transform="rotate(96 102.8 50.8)" fill="#2b20d1"/><ellipse cx="56.7" cy="45.0" rx="2.9" ry="2.7" transform="rotate(4 56.7 45.0)" fill="#1811c7"/><ellipse cx="48.3" cy="151.3" rx="2.8" ry="2.5" transform="rotate(125 48.3 151.3)" fill="#201bb5"/><ellipse cx="46.3" cy="81.4" rx="3.2" ry="2.0" transform="rotate(93 46.3 81.4)" fill="#160bbe"/><ellipse cx="60.5" cy="148.9" rx="2.8" ry="2.3" transform="rotate(7 60.5 148.9)" fill="#0f0d9a"/><ellipse cx="115.1" cy="144.4" rx="3.0" ry="2.0" transform="rotate(31 115.1 144.4)" fill="#180eb5"/><ellipse cx="13.1" cy="96.3" rx="3.2" ry="2.7" transform="rotate(143 13.1 96.3)" fill="#150ebd"/><ellipse cx="35.8" cy="140.6" rx="3.1" ry="2.4" transform="rotate(61 35.8 140.6)" fill="#170fbc"/><ellipse cx="92.9" cy="147.2" rx="2.2" ry="1.3" transform="rotate(168 92.9 147.2)" fill="#110aa4"/><ellipse cx="4.9" cy="128.9" rx="2.8" ry="2.0" transform="rotate(140 4.9 128.9)" fill="#2922c9"/><ellipse cx="6.3" cy="147.2" rx="2.1" ry="1.4" transform="rotate(86 6.3 147.2)" fill="#2216e5"/><ellipse cx="39.8" cy="154.8" rx="2.0" ry="1.5" transform="rotate(155 39.8 154.8)" fill="#1d13aa"/><ellipse cx="82.1" cy="134.9" rx="1.9" ry="1.6" transform="rotate(86 82.1 134.9)" fill="#2516e2"/><ellipse cx="115.6" cy="141.6" rx="2.5" ry="2.1" transform="rotate(178 115.6 141.6)" fill="#1b11d1"/><ellipse cx="54.7" cy="104.6" rx="3.3" ry="2.4" transform="rotate(45 54.7 104.6)" fill="#2e18f5"/><ellipse cx="33.0" cy="79.3" rx="2.3" ry="2.1" transform="rotate(127 33.0 79.3)" fill="#221aaa"/><ellipse cx="68.0" cy="155.8" rx="2.2" ry="1.7" transform="rotate(94 68.0 155.8)" fill="#140eba"/><ellipse cx="75.9" cy="64.0" rx="2.9" ry="2.1" transform="rotate(110 75.9 64.0)" fill="#2119be"/><ellipse cx="77.7" cy="139.5" rx="2.8" ry="2.7" transform="rotate(159 77.7 139.5)" fill="#1e0ff7"/><ellipse cx="49.4" cy="87.8" rx="2.5" ry="2.3" transform="rotate(29 49.4 87.8)" fill="#2616fe"/><ellipse cx="116.3" cy="57.0" rx="2.4" ry="2.2" transform="rotate(108 116.3 57.0)" fill="#2011c6"/><ellipse cx="40.6" cy="121.4" rx="2.6" ry="2.4" transform="rotate(101 40.6 121.4)" fill="#291ecd"/><ellipse cx="2.0" cy="106.8" rx="2.2" ry="1.7" transform="rotate(72 2.0 106.8)" fill="#1f149c"/><ellipse cx="54.8" cy="157.4" rx="2.9" ry="2.1" transform="rotate(25 54.8 157.4)" fill="#1b15ca"/><ellipse cx="113.8" cy="89.2" rx="2.4" ry="1.5" transform="rotate(135 113.8 89.2)" fill="#1e1aa6"/><ellipse cx="112.3" cy="49.1" rx="2.3" ry="1.7" transform="rotate(14 112.3 49.1)" fill="#1512a7"/><ellipse cx="47.6" cy="81.6" rx="2.7" ry="2.1" transform="rotate(103 47.6 81.6)" fill="#331bf3"/><ellipse cx="95.9" cy="94.4" rx="2.3" ry="2.0" transform="rotate(10 95.9 94.4)" fill="#1b139f"/><ellipse cx="65.8" cy="156.4" rx="2.9" ry="2.5" transform="rotate(124 65.8 156.4)" fill="#2119dd"/><ellipse cx="79.5" cy="53.1" rx="2.4" ry="2.2" transform="rotate(41 79.5 53.1)" fill="#130b9b"/><ellipse cx="22.6" cy="136.3" rx="3.0" ry="2.7" transform="rotate(113 22.6 136.3)" fill="#2a1eff"/><ellipse cx="26.2" cy="151.5" rx="2.7" ry="2.2" transform="rotate(123 26.2 151.5)" fill="#2a16f4"/><ellipse cx="56.9" cy="126.3" rx="3.2" ry="2.9" transform="rotate(114 56.9 126.3)" fill="#1a13f8"/><ellipse cx="36.2" cy="105.8" rx="2.6" ry="2.2" transform="rotate(57 36.2 105.8)" fill="#2117b7"/><ellipse cx="38.5" cy="126.6" rx="2.7" ry="2.2" transform="rotate(56 38.5 126.6)" fill="#241fa8"/><ellipse cx="16.3" cy="125.5" rx="1.9" ry="1.5" transform="rotate(11 16.3 125.5)" fill="#2822f6"/><ellipse cx="5.7" cy="150.4" rx="2.8" ry="2.2" transform="rotate(82 5.7 150.4)" fill="#2e23de"/><ellipse cx="35.1" cy="98.6" rx="2.4" ry="1.6" transform="rotate(136 35.1 98.6)" fill="#190e96"/><ellipse cx="86.0" cy="160.1" rx="2.6" ry="1.9" transform="rotate(154 86.0 160.1)" fill="#2815ff"/><ellipse cx="111.0" cy="110.0" rx="2.1" ry="2.0" transform="rotate(17 111.0 110.0)" fill="#1411bc"/><ellipse cx="14.5" cy="83.0" rx="2.5" ry="2.2" transform="rotate(51 14.5 83.0)" fill="#2317ba"/><ellipse cx="100.9" cy="109.1" rx="2.7" ry="1.9" transform="rotate(48 100.9 109.1)" fill="#1f1b9f"/><ellipse cx="3.9" cy="150.8" rx="2.9" ry="2.2" transform="rotate(169 3.9 150.8)" fill="#3129ff"/><ellipse cx="41.3" cy="75.5" rx="2.1" ry="1.5" transform="rotate(39 41.3 75.5)" fill="#2010c7"/><ellipse cx="86.5" cy="74.5" rx="2.9" ry="2.5" transform="rotate(61 86.5 74.5)" fill="#1a0eb7"/><ellipse cx="124.9" cy="83.2" rx="2.5" ry="1.6" transform="rotate(104 124.9 83.2)" fill="#170f9a"/><ellipse cx="73.2" cy="138.6" rx="2.8" ry="2.4" transform="rotate(23 73.2 138.6)" fill="#2b15c6"/><ellipse cx="82.5" cy="49.7" rx="2.5" ry="1.8" transform="rotate(147 82.5 49.7)" fill="#2917bf"/><ellipse cx="85.4" cy="68.9" rx="2.5" ry="2.4" transform="rotate(119 85.4 68.9)" fill="#1b17c7"/><ellipse cx="56.7" cy="77.0" rx="2.3" ry="1.5" transform="rotate(111 56.7 77.0)" fill="#1711dc"/><ellipse cx="73.2" cy="110.5" rx="2.2" ry="1.7" transform="rotate(80 73.2 110.5)" fill="#1a14db"/><ellipse cx="82.8" cy="107.7" rx="3.0" ry="2.4" transform="rotate(93 82.8 107.7)" fill="#2614fa"/><ellipse cx="98.2" cy="166.0" rx="2.3" ry="1.8" transform="rotate(54 98.2 166.0)" fill="#151198"/><ellipse cx="102.3" cy="73.3" rx="2.1" ry="1.7" transform="rotate(12 102.3 73.3)" fill="#1b16b6"/><ellipse cx="69.3" cy="111.9" rx="2.9" ry="2.6" transform="rotate(168 69.3 111.9)" fill="#1a0db8"/><ellipse cx="69.8" cy="52.3" rx="3.3" ry="2.5" transform="rotate(86 69.8 52.3)" fill="#291feb"/><ellipse cx="51.2" cy="75.4" rx="2.8" ry="2.1" transform="rotate(2 51.2 75.4)" fill="#1e10ec"/><ellipse cx="63.9" cy="69.0" rx="3.1" ry="2.6" transform="rotate(169 63.9 69.0)" fill="#2518f1"/><ellipse cx="51.9" cy="46.2" rx="2.3" ry="2.0" transform="rotate(87 51.9 46.2)" fill="#1710cb"/><ellipse cx="95.5" cy="105.5" rx="3.1" ry="2.8" transform="rotate(173 95.5 105.5)" fill="#1a11a0"/><ellipse cx="18.4" cy="164.9" rx="2.3" ry="1.9" transform="rotate(105 18.4 164.9)" fill="#1a109a"/><ellipse cx="3.6" cy="53.8" rx="2.1" ry="1.7" transform="rotate(121 3.6 53.8)" fill="#2018e2"/><ellipse cx="63.2" cy="144.0" rx="3.0" ry="2.2" transform="rotate(53 63.2 144.0)" fill="#160e9c"/><ellipse cx="31.1" cy="160.0" rx="3.1" ry="1.9" transform="rotate(27 31.1 160.0)" fill="#1e15be"/><ellipse cx="76.8" cy="45.7" rx="2.7" ry="2.0" transform="rotate(132 76.8 45.7)" fill="#1b17a8"/><ellipse cx="53.4" cy="90.8" rx="3.2" ry="2.0" transform="rotate(153 53.4 90.8)" fill="#302adf"/><ellipse cx="52.4" cy="91.2" rx="2.7" ry="2.5" transform="rotate(119 52.4 91.2)" fill="#190ea6"/><ellipse cx="72.8" cy="132.5" rx="2.3" ry="2.1" transform="rotate(85 72.8 132.5)" fill="#321cf8"/><ellipse cx="75.4" cy="76.1" rx="2.9" ry="2.0" transform="rotate(128 75.4 76.1)" fill="#1d16d7"/><ellipse cx="78.3" cy="70.2" rx="3.0" ry="2.0" transform="rotate(148 78.3 70.2)" fill="#180d9d"/><ellipse cx="115.2" cy="73.8" rx="2.9" ry="2.2" transform="rotate(88 115.2 73.8)" fill="#1a16f5"/><ellipse cx="48.3" cy="125.7" rx="3.1" ry="2.6" transform="rotate(56 48.3 125.7)" fill="#1610b9"/><ellipse cx="68.0" cy="133.4" rx="3.0" ry="2.6" transform="rotate(77 68.0 133.4)" fill="#261db5"/><ellipse cx="11.7" cy="155.0" rx="2.2" ry="1.4" transform="rotate(170 11.7 155.0)" fill="#271eda"/><ellipse cx="5.0" cy="113.6" rx="3.2" ry="2.5" transform="rotate(69 5.0 113.6)" fill="#221ca2"/><ellipse cx="73.6" cy="100.3" rx="2.2" ry="1.4" transform="rotate(24 73.6 100.3)" fill="#1a13ad"/><ellipse cx="66.0" cy="76.8" rx="2.6" ry="1.7" transform="rotate(118 66.0 76.8)" fill="#1d0fa5"/><ellipse cx="120.4" cy="63.0" rx="2.2" ry="1.6" transform="rotate(153 120.4 63.0)" fill="#110ca3"/><ellipse cx="0.3" cy="129.2" rx="1.9" ry="1.8" transform="rotate(79 0.3 129.2)" fill="#1e12ae"/><ellipse cx="109.1" cy="89.1" rx="2.4" ry="2.2" transform="rotate(109 109.1 89.1)" fill="#1810ae"/><ellipse cx="92.7" cy="63.5" rx="2.6" ry="2.0" transform="rotate(158 92.7 63.5)" fill="#110ea0"/><ellipse cx="92.9" cy="156.9" rx="3.0" ry="2.6" transform="rotate(98 92.9 156.9)" fill="#2319d8"/><ellipse cx="25.0" cy="47.0" rx="2.0" ry="1.5" transform="rotate(154 25.0 47.0)" fill="#2822fd"/><ellipse cx="30.5" cy="89.1" rx="2.7" ry="1.8" transform="rotate(147 30.5 89.1)" fill="#1712b5"/><ellipse cx="115.5" cy="140.7" rx="2.7" ry="1.9" transform="rotate(42 115.5 140.7)" fill="#160ddb"/><ellipse cx="36.2" cy="145.0" rx="1.9" ry="1.6" transform="rotate(44 36.2 145.0)" fill="#1d10be"/><ellipse cx="12.3" cy="97.6" rx="3.2" ry="2.5" transform="rotate(99 12.3 97.6)" fill="#2f19f6"/><ellipse cx="81.9" cy="137.5" rx="3.1" ry="2.0" transform="rotate(46 81.9 137.5)" fill="#3118f0"/><ellipse cx="104.4" cy="125.8" rx="2.4" ry="2.2" transform="rotate(90 104.4 125.8)" fill="#2012b9"/><ellipse cx="61.2" cy="61.3" rx="2.0" ry="1.5" transform="rotate(72 61.2 61.3)" fill="#180fe7"/><ellipse cx="93.4" cy="100.0" rx="2.6" ry="1.6" transform="rotate(175 93.4 100.0)" fill="#130fae"/><ellipse cx="91.8" cy="164.4" rx="2.5" ry="2.2" transform="rotate(151 91.8 164.4)" fill="#1d18f4"/><ellipse cx="75.5" cy="127.8" rx="3.1" ry="2.3" transform="rotate(19 75.5 127.8)" fill="#2217ee"/><ellipse cx="57.7" cy="102.4" rx="2.0" ry="1.6" transform="rotate(81 57.7 102.4)" fill="#160bd1"/><ellipse cx="128.3" cy="92.5" rx="2.3" ry="1.9" transform="rotate(88 128.3 92.5)" fill="#3220eb"/><ellipse cx="76.3" cy="109.9" rx="3.0" ry="2.4" transform="rotate(42 76.3 109.9)" fill="#1a15c7"/><ellipse cx="10.5" cy="91.9" rx="2.0" ry="1.3" transform="rotate(152 10.5 91.9)" fill="#1410ad"/><ellipse cx="72.3" cy="72.0" rx="3.1" ry="2.7" transform="rotate(75 72.3 72.0)" fill="#130daa"/><ellipse cx="78.0" cy="111.0" rx="2.1" ry="1.7" transform="rotate(36 78.0 111.0)" fill="#2a15e5"/><ellipse cx="106.7" cy="66.7" rx="2.4" ry="1.8" transform="rotate(34 106.7 66.7)" fill="#301ae9"/><ellipse cx="74.7" cy="156.2" rx="2.3" ry="1.4" transform="rotate(114 74.7 156.2)" fill="#3021f1"/><ellipse cx="48.9" cy="90.9" rx="2.0" ry="1.4" transform="rotate(46 48.9 90.9)" fill="#1f11b8"/><ellipse cx="59.0" cy="90.6" rx="2.0" ry="1.5" transform="rotate(21 59.0 90.6)" fill="#160dad"/><ellipse cx="52.5" cy="79.5" rx="3.0" ry="2.0" transform="rotate(117 52.5 79.5)" fill="#1d18a6"/><ellipse cx="96.7" cy="109.9" rx="2.8" ry="2.5" transform="rotate(77 96.7 109.9)" fill="#2218b7"/><ellipse cx="85.2" cy="149.9" rx="2.1" ry="1.9" transform="rotate(101 85.2 149.9)" fill="#1e0f9e"/><ellipse cx="97.4" cy="160.0" rx="3.1" ry="2.6" transform="rotate(10 97.4 160.0)" fill="#3023ea"/><ellipse cx="31.2" cy="135.1" rx="3.1" ry="2.0" transform="rotate(120 31.2 135.1)" fill="#1511ae"/><ellipse cx="82.7" cy="48.4" rx="2.8" ry="2.2" transform="rotate(112 82.7 48.4)" fill="#1b1297"/><ellipse cx="80.5" cy="110.1" rx="2.2" ry="2.1" transform="rotate(43 80.5 110.1)" fill="#2015a3"/><ellipse cx="3.7" cy="149.0" rx="2.8" ry="2.0" transform="rotate(5 3.7 149.0)" fill="#1d13d0"/><ellipse cx="60.6" cy="132.8" rx="2.1" ry="1.3" transform="rotate(126 60.6 132.8)" fill="#190cc0"/><ellipse cx="49.1" cy="101.9" rx="2.4" ry="1.9" transform="rotate(130 49.1 101.9)" fill="#150bac"/><ellipse cx="78.9" cy="63.4" rx="2.5" ry="2.0" transform="rotate(160 78.9 63.4)" fill="#120d96"/><ellipse cx="50.7" cy="160.1" rx="2.6" ry="1.6" transform="rotate(25 50.7 160.1)" fill="#201ab2"/><ellipse cx="43.3" cy="55.7" rx="2.4" ry="1.7" transform="rotate(107 43.3 55.7)" fill="#1815af"/><ellipse cx="44.9" cy="48.3" rx="2.5" ry="2.3" transform="rotate(78 44.9 48.3)" fill="#2514e9"/><ellipse cx="21.3" cy="156.0" rx="2.7" ry="2.2" transform="rotate(124 21.3 156.0)" fill="#160cde"/><ellipse cx="20.1" cy="78.7" rx="3.2" ry="2.9" transform="rotate(33 20.1 78.7)" fill="#2615e5"/><ellipse cx="126.3" cy="130.8" rx="3.1" ry="2.2" transform="rotate(170 126.3 130.8)" fill="#1b12a5"/><ellipse cx="101.3" cy="90.6" rx="2.7" ry="1.7" transform="rotate(83 101.3 90.6)" fill="#130bb8"/><ellipse cx="56.0" cy="144.9" rx="2.5" ry="1.6" transform="rotate(95 56.0 144.9)" fill="#1f11a4"/><ellipse cx="83.0" cy="146.8" rx="2.5" ry="2.3" transform="rotate(76 83.0 146.8)" fill="#2f1add"/><ellipse cx="73.8" cy="104.9" rx="2.8" ry="2.5" transform="rotate(91 73.8 104.9)" fill="#2416f7"/><ellipse cx="59.1" cy="73.0" rx="2.7" ry="2.1" transform="rotate(23 59.1 73.0)" fill="#221bb9"/><ellipse cx="127.4" cy="162.5" rx="2.1" ry="1.5" transform="rotate(98 127.4 162.5)" fill="#120ea8"/><ellipse cx="68.0" cy="124.8" rx="2.1" ry="1.4" transform="rotate(38 68.0 124.8)" fill="#2819cb"/><ellipse cx="84.7" cy="147.3" rx="2.2" ry="1.7" transform="rotate(133 84.7 147.3)" fill="#1d1797"/><ellipse cx="28.6" cy="127.0" rx="2.5" ry="1.5" transform="rotate(6 28.6 127.0)" fill="#2e17ed"/><ellipse cx="68.9" cy="132.9" rx="2.5" ry="2.0" transform="rotate(172 68.9 132.9)" fill="#2820c9"/><ellipse cx="72.2" cy="146.5" rx="3.3" ry="2.6" transform="rotate(50 72.2 146.5)" fill="#2814d6"/><ellipse cx="81.2" cy="137.5" rx="2.3" ry="1.5" transform="rotate(64 81.2 137.5)" fill="#2516eb"/><ellipse cx="91.2" cy="49.9" rx="3.3" ry="2.4" transform="rotate(62 91.2 49.9)" fill="#211af8"/><ellipse cx="33.6" cy="136.5" rx="2.2" ry="1.6" transform="rotate(29 33.6 136.5)" fill="#2216e4"/><ellipse cx="58.4" cy="106.7" rx="2.0" ry="1.6" transform="rotate(68 58.4 106.7)" fill="#2413af"/><ellipse cx="80.4" cy="99.6" rx="2.4" ry="2.1" transform="rotate(162 80.4 99.6)" fill="#3329fc"/><ellipse cx="11.6" cy="148.9" rx="2.2" ry="2.1" transform="rotate(3 11.6 148.9)" fill="#1e14ec"/><ellipse cx="83.7" cy="140.0" rx="2.9" ry="2.4" transform="rotate(2 83.7 140.0)" fill="#2514cc"/><ellipse cx="29.3" cy="117.1" rx="3.0" ry="2.2" transform="rotate(0 29.3 117.1)" fill="#2816db"/><ellipse cx="85.8" cy="161.9" rx="3.2" ry="2.9" transform="rotate(34 85.8 161.9)" fill="#3119e6"/><ellipse cx="113.3" cy="85.4" rx="2.9" ry="1.8" transform="rotate(114 113.3 85.4)" fill="#1c0ee2"/><ellipse cx="79.5" cy="47.3" rx="3.0" ry="1.8" transform="rotate(63 79.5 47.3)" fill="#2113c6"/><ellipse cx="37.2" cy="77.6" rx="2.2" ry="1.4" transform="rotate(170 37.2 77.6)" fill="#180ea8"/><ellipse cx="125.9" cy="108.3" rx="2.4" ry="1.5" transform="rotate(10 125.9 108.3)" fill="#2a22cd"/><ellipse cx="45.5" cy="72.9" rx="2.3" ry="2.1" transform="rotate(69 45.5 72.9)" fill="#1e10db"/><ellipse cx="12.4" cy="124.9" rx="2.1" ry="1.4" transform="rotate(54 12.4 124.9)" fill="#2a25cc"/><ellipse cx="64.5" cy="151.0" rx="3.0" ry="2.5" transform="rotate(65 64.5 151.0)" fill="#1c0ebd"/><ellipse cx="71.8" cy="43.0" rx="3.2" ry="2.3" transform="rotate(90 71.8 43.0)" fill="#190ee8"/><ellipse cx="57.3" cy="125.2" rx="2.3" ry="1.6" transform="rotate(139 57.3 125.2)" fill="#1e18a3"/><ellipse cx="62.6" cy="162.0" rx="2.7" ry="1.9" transform="rotate(10 62.6 162.0)" fill="#140da5"/><ellipse cx="65.1" cy="93.4" rx="2.7" ry="1.8" transform="rotate(54 65.1 93.4)" fill="#2722e6"/><ellipse cx="78.8" cy="162.2" rx="2.2" ry="1.9" transform="rotate(99 78.8 162.2)" fill="#1713c9"/><ellipse cx="18.7" cy="86.9" rx="3.1" ry="2.3" transform="rotate(132 18.7 86.9)" fill="#2a1ced"/><ellipse cx="4.0" cy="130.4" rx="3.0" ry="2.2" transform="rotate(116 4.0 130.4)" fill="#1a17f8"/><ellipse cx="4.4" cy="70.6" rx="2.6" ry="2.3" transform="rotate(54 4.4 70.6)" fill="#1a119a"/><ellipse cx="97.7" cy="74.5" rx="3.1" ry="2.5" transform="rotate(146 97.7 74.5)" fill="#201aec"/><ellipse cx="28.9" cy="116.4" rx="2.7" ry="2.5" transform="rotate(120 28.9 116.4)" fill="#2e24de"/><ellipse cx="73.2" cy="147.3" rx="1.9" ry="1.5" transform="rotate(135 73.2 147.3)" fill="#1e1ae2"/><ellipse cx="80.2" cy="165.3" rx="2.7" ry="2.4" transform="rotate(103 80.2 165.3)" fill="#2b1bd6"/><ellipse cx="98.1" cy="96.2" rx="3.2" ry="2.9" transform="rotate(152 98.1 96.2)" fill="#1d0fa2"/><ellipse cx="105.6" cy="143.1" rx="2.2" ry="1.9" transform="rotate(108 105.6 143.1)" fill="#291ee1"/><ellipse cx="45.0" cy="138.7" rx="3.0" ry="2.4" transform="rotate(75 45.0 138.7)" fill="#1c129c"/><ellipse cx="104.3" cy="132.8" rx="2.7" ry="2.5" transform="rotate(118 104.3 132.8)" fill="#2010e0"/><ellipse cx="41.9" cy="65.3" rx="2.4" ry="1.6" transform="rotate(31 41.9 65.3)" fill="#251ef0"/><ellipse cx="23.9" cy="105.0" rx="3.2" ry="2.1" transform="rotate(35 23.9 105.0)" fill="#1c0ee8"/><ellipse cx="76.7" cy="135.5" rx="2.8" ry="1.7" transform="rotate(34 76.7 135.5)" fill="#130cb6"/><ellipse cx="34.3" cy="95.3" rx="3.1" ry="2.4" transform="rotate(12 34.3 95.3)" fill="#160cb0"/><ellipse cx="80.7" cy="103.6" rx="2.4" ry="2.0" transform="rotate(75 80.7 103.6)" fill="#2417c6"/><ellipse cx="118.6" cy="127.4" rx="2.6" ry="2.1" transform="rotate(1 118.6 127.4)" fill="#1a17b9"/><ellipse cx="77.8" cy="97.6" rx="3.2" ry="2.9" transform="rotate(129 77.8 97.6)" fill="#2814f3"/><ellipse cx="81.9" cy="139.0" rx="2.0" ry="1.4" transform="rotate(120 81.9 139.0)" fill="#130ab5"/><ellipse cx="39.7" cy="160.6" rx="3.0" ry="2.2" transform="rotate(14 39.7 160.6)" fill="#140dbd"/><ellipse cx="30.4" cy="43.1" rx="1.9" ry="1.7" transform="rotate(37 30.4 43.1)" fill="#1910e2"/><ellipse cx="65.3" cy="142.8" rx="3.2" ry="2.6" transform="rotate(61 65.3 142.8)" fill="#1b11ce"/><ellipse cx="107.3" cy="60.4" rx="2.7" ry="1.9" transform="rotate(155 107.3 60.4)" fill="#1e1aa2"/><ellipse cx="126.7" cy="132.1" rx="2.2" ry="1.3" transform="rotate(88 126.7 132.1)" fill="#190eed"/><ellipse cx="74.4" cy="162.3" rx="2.2" ry="1.3" transform="rotate(70 74.4 162.3)" fill="#1c16ae"/><ellipse cx="89.3" cy="94.4" rx="3.2" ry="2.6" transform="rotate(49 89.3 94.4)" fill="#2e1df8"/><ellipse cx="78.5" cy="44.0" rx="3.0" ry="2.5" transform="rotate(51 78.5 44.0)" fill="#3028f7"/><ellipse cx="18.3" cy="151.7" rx="2.6" ry="2.2" transform="rotate(48 18.3 151.7)" fill="#2b16f2"/><ellipse cx="83.4" cy="104.7" rx="2.6" ry="2.1" transform="rotate(40 83.4 104.7)" fill="#190eed"/><ellipse cx="117.7" cy="79.0" rx="2.5" ry="1.7" transform="rotate(162 117.7 79.0)" fill="#1c15e9"/><ellipse cx="80.6" cy="165.0" rx="2.5" ry="1.8" transform="rotate(60 80.6 165.0)" fill="#1710a9"/><ellipse cx="43.3" cy="50.3" rx="3.3" ry="2.8" transform="rotate(137 43.3 50.3)" fill="#211aa1"/><ellipse cx="62.4" cy="158.1" rx="3.1" ry="2.1" transform="rotate(111 62.4 158.1)" fill="#281dca"/><ellipse cx="33.4" cy="97.1" rx="2.5" ry="1.6" transform="rotate(0 33.4 97.1)" fill="#3020f3"/><ellipse cx="42.7" cy="155.8" rx="3.2" ry="2.4" transform="rotate(160 42.7 155.8)" fill="#1e19ea"/><ellipse cx="1.2" cy="98.4" rx="2.0" ry="1.6" transform="rotate(142 1.2 98.4)" fill="#1a15ee"/><ellipse cx="67.8" cy="131.0" rx="2.8" ry="2.3" transform="rotate(11 67.8 131.0)" fill="#160cdc"/><ellipse cx="-0.1" cy="46.9" rx="3.3" ry="3.1" transform="rotate(123 -0.1 46.9)" fill="#261db4"/><ellipse cx="91.3" cy="103.4" rx="2.4" ry="2.0" transform="rotate(38 91.3 103.4)" fill="#1310b5"/><ellipse cx="27.6" cy="128.6" rx="2.0" ry="1.7" transform="rotate(23 27.6 128.6)" fill="#1a14f5"/><ellipse cx="99.6" cy="75.0" rx="2.4" ry="1.6" transform="rotate(105 99.6 75.0)" fill="#1b11b4"/><ellipse cx="68.4" cy="138.5" rx="3.0" ry="2.5" transform="rotate(50 68.4 138.5)" fill="#191296"/><ellipse cx="61.1" cy="94.6" rx="2.7" ry="1.7" transform="rotate(127 61.1 94.6)" fill="#221bd6"/><ellipse cx="96.8" cy="125.1" rx="2.3" ry="1.9" transform="rotate(51 96.8 125.1)" fill="#3424fc"/><ellipse cx="41.3" cy="123.1" rx="2.5" ry="1.5" transform="rotate(156 41.3 123.1)" fill="#15129e"/><ellipse cx="82.3" cy="89.2" rx="2.7" ry="2.3" transform="rotate(179 82.3 89.2)" fill="#3026dd"/><ellipse cx="64.6" cy="70.9" rx="3.1" ry="2.1" transform="rotate(74 64.6 70.9)" fill="#2010e9"/><ellipse cx="119.4" cy="55.5" rx="2.1" ry="1.6" transform="rotate(126 119.4 55.5)" fill="#1916c2"/><ellipse cx="48.8" cy="58.1" rx="2.6" ry="2.1" transform="rotate(131 48.8 58.1)" fill="#2b1ed6"/><ellipse cx="72.3" cy="82.9" rx="2.0" ry="1.3" transform="rotate(43 72.3 82.9)" fill="#1c11b5"/><ellipse cx="21.0" cy="150.0" rx="1.9" ry="1.4" transform="rotate(59 21.0 150.0)" fill="#261edc"/><ellipse cx="106.7" cy="61.1" rx="3.2" ry="2.8" transform="rotate(165 106.7 61.1)" fill="#1b0f9f"/><ellipse cx="4.0" cy="145.7" rx="3.0" ry="2.1" transform="rotate(171 4.0 145.7)" fill="#160cb7"/><ellipse cx="97.1" cy="108.3" rx="2.1" ry="1.9" transform="rotate(25 97.1 108.3)" fill="#3023e5"/><ellipse cx="35.9" cy="83.2" rx="3.2" ry="3.0" transform="rotate(103 35.9 83.2)" fill="#1712ba"/><ellipse cx="21.0" cy="150.9" rx="1.9" ry="1.3" transform="rotate(166 21.0 150.9)" fill="#16119c"/><ellipse cx="110.7" cy="96.1" rx="3.2" ry="3.0" transform="rotate(64 110.7 96.1)" fill="#2019ac"/><ellipse cx="47.5" cy="49.0" rx="2.6" ry="2.2" transform="rotate(167 47.5 49.0)" fill="#291ff2"/><ellipse cx="104.1" cy="100.7" rx="3.0" ry="2.4" transform="rotate(15 104.1 100.7)" fill="#201097"/><ellipse cx="57.7" cy="130.2" rx="2.2" ry="1.6" transform="rotate(100 57.7 130.2)" fill="#150fac"/><ellipse cx="25.1" cy="108.9" rx="2.9" ry="2.3" transform="rotate(155 25.1 108.9)" fill="#1612be"/><ellipse cx="59.5" cy="150.8" rx="2.6" ry="2.1" transform="rotate(12 59.5 150.8)" fill="#1c18d0"/><ellipse cx="45.8" cy="94.0" rx="3.2" ry="2.7" transform="rotate(19 45.8 94.0)" fill="#2e1cea"/><ellipse cx="119.2" cy="147.7" rx="2.8" ry="2.1" transform="rotate(176 119.2 147.7)" fill="#1410ce"/><ellipse cx="16.9" cy="141.1" rx="2.3" ry="1.8" transform="rotate(11 16.9 141.1)" fill="#2117a9"/><ellipse cx="52.7" cy="73.2" rx="2.9" ry="2.4" transform="rotate(96 52.7 73.2)" fill="#190f99"/><ellipse cx="0.4" cy="45.8" rx="2.6" ry="2.5" transform="rotate(114 0.4 45.8)" fill="#2019b9"/><ellipse cx="0.2" cy="119.3" rx="2.9" ry="2.0" transform="rotate(81 0.2 119.3)" fill="#1a0ef8"/><ellipse cx="103.9" cy="120.4" rx="2.8" ry="2.6" transform="rotate(153 103.9 120.4)" fill="#160bc8"/><ellipse cx="120.4" cy="103.7" rx="2.1" ry="1.6" transform="rotate(32 120.4 103.7)" fill="#1a0da3"/><ellipse cx="120.4" cy="164.1" rx="3.0" ry="1.9" transform="rotate(87 120.4 164.1)" fill="#1913c5"/><ellipse cx="114.2" cy="155.1" rx="2.6" ry="2.1" transform="rotate(94 114.2 155.1)" fill="#1611ac"/><ellipse cx="9.5" cy="79.6" rx="2.0" ry="1.9" transform="rotate(39 9.5 79.6)" fill="#2d18f7"/><ellipse cx="12.4" cy="107.5" rx="2.0" ry="1.6" transform="rotate(15 12.4 107.5)" fill="#1912e2"/><ellipse cx="32.6" cy="100.7" rx="2.4" ry="1.5" transform="rotate(60 32.6 100.7)" fill="#2a16e6"/><ellipse cx="104.9" cy="104.1" rx="3.1" ry="2.0" transform="rotate(69 104.9 104.1)" fill="#2412d6"/><ellipse cx="128.5" cy="46.3" rx="2.8" ry="2.1" transform="rotate(151 128.5 46.3)" fill="#1a10d9"/><ellipse cx="52.0" cy="105.8" rx="2.8" ry="1.9" transform="rotate(57 52.0 105.8)" fill="#2518f9"/><ellipse cx="80.4" cy="113.7" rx="2.9" ry="2.4" transform="rotate(18 80.4 113.7)" fill="#241df8"/><ellipse cx="122.3" cy="74.6" rx="2.6" ry="1.7" transform="rotate(130 122.3 74.6)" fill="#2614dc"/><ellipse cx="76.4" cy="123.2" rx="2.6" ry="2.4" transform="rotate(6 76.4 123.2)" fill="#2617ea"/><ellipse cx="92.5" cy="94.0" rx="2.3" ry="1.6" transform="rotate(45 92.5 94.0)" fill="#2515d9"/><ellipse cx="80.0" cy="109.9" rx="2.1" ry="1.3" transform="rotate(21 80.0 109.9)" fill="#1c0f9b"/><ellipse cx="96.4" cy="163.4" rx="3.2" ry="2.7" transform="rotate(113 96.4 163.4)" fill="#2b22f2"/><ellipse cx="71.3" cy="57.3" rx="2.7" ry="1.8" transform="rotate(75 71.3 57.3)" fill="#2b16e2"/><ellipse cx="88.7" cy="44.6" rx="2.3" ry="2.0" transform="rotate(26 88.7 44.6)" fill="#332aff"/><ellipse cx="84.8" cy="154.9" rx="3.2" ry="2.8" transform="rotate(166 84.8 154.9)" fill="#291fcb"/><ellipse cx="41.6" cy="69.6" rx="2.2" ry="1.6" transform="rotate(105 41.6 69.6)" fill="#2218d8"/><ellipse cx="96.9" cy="105.2" rx="2.6" ry="2.2" transform="rotate(156 96.9 105.2)" fill="#351df6"/><ellipse cx="8.0" cy="113.1" rx="2.5" ry="1.9" transform="rotate(3 8.0 113.1)" fill="#1e0fa2"/><ellipse cx="108.2" cy="145.4" rx="2.8" ry="2.4" transform="rotate(130 108.2 145.4)" fill="#1c11d5"/><ellipse cx="48.7" cy="57.8" rx="2.0" ry="1.8" transform="rotate(67 48.7 57.8)" fill="#2b19cd"/><ellipse cx="127.7" cy="51.6" rx="3.3" ry="2.8" transform="rotate(52 127.7 51.6)" fill="#3421fb"/><ellipse cx="34.3" cy="70.4" rx="2.4" ry="2.3" transform="rotate(137 34.3 70.4)" fill="#1210a3"/><ellipse cx="42.4" cy="151.6" rx="2.4" ry="1.8" transform="rotate(109 42.4 151.6)" fill="#1a11f0"/><ellipse cx="42.4" cy="79.3" rx="2.6" ry="2.4" transform="rotate(15 42.4 79.3)" fill="#110eab"/><ellipse cx="31.5" cy="136.2" rx="3.3" ry="2.7" transform="rotate(131 31.5 136.2)" fill="#211dbd"/><ellipse cx="48.0" cy="154.4" rx="2.6" ry="2.5" transform="rotate(35 48.0 154.4)" fill="#150cb1"/><ellipse cx="101.2" cy="82.3" rx="2.2" ry="1.6" transform="rotate(129 101.2 82.3)" fill="#1f119c"/><ellipse cx="87.5" cy="100.2" rx="2.1" ry="1.6" transform="rotate(56 87.5 100.2)" fill="#1c12b4"/><ellipse cx="123.0" cy="43.5" rx="2.6" ry="2.1" transform="rotate(114 123.0 43.5)" fill="#1d13d3"/><ellipse cx="86.8" cy="129.4" rx="2.8" ry="2.2" transform="rotate(123 86.8 129.4)" fill="#190e9d"/><ellipse cx="82.5" cy="80.5" rx="2.8" ry="2.1" transform="rotate(48 82.5 80.5)" fill="#1d13db"/><ellipse cx="121.1" cy="66.3" rx="2.7" ry="1.7" transform="rotate(114 121.1 66.3)" fill="#2f26f4"/><ellipse cx="33.0" cy="155.7" rx="3.0" ry="1.8" transform="rotate(99 33.0 155.7)" fill="#190eef"/><ellipse cx="60.6" cy="164.1" rx="2.2" ry="1.6" transform="rotate(87 60.6 164.1)" fill="#1c17d7"/><ellipse cx="77.4" cy="92.1" rx="2.6" ry="2.4" transform="rotate(154 77.4 92.1)" fill="#1c12dd"/><ellipse cx="57.2" cy="131.7" rx="2.4" ry="1.5" transform="rotate(34 57.2 131.7)" fill="#1812c3"/><ellipse cx="112.9" cy="145.1" rx="2.0" ry="1.3" transform="rotate(7 112.9 145.1)" fill="#1b0fd6"/><ellipse cx="52.1" cy="162.5" rx="2.0" ry="1.3" transform="rotate(8 52.1 162.5)" fill="#1d0eff"/><ellipse cx="97.3" cy="141.2" rx="2.7" ry="1.8" transform="rotate(31 97.3 141.2)" fill="#221aa7"/><ellipse cx="122.6" cy="138.9" rx="1.9" ry="1.8" transform="rotate(59 122.6 138.9)" fill="#2d24d6"/><ellipse cx="27.3" cy="52.9" rx="2.5" ry="2.3" transform="rotate(30 27.3 52.9)" fill="#2e17d8"/><ellipse cx="52.9" cy="147.8" rx="2.7" ry="2.2" transform="rotate(32 52.9 147.8)" fill="#1e12a2"/><ellipse cx="122.9" cy="80.6" rx="2.7" ry="1.7" transform="rotate(50 122.9 80.6)" fill="#251db0"/><ellipse cx="69.5" cy="67.6" rx="2.6" ry="1.9" transform="rotate(108 69.5 67.6)" fill="#351cf2"/><ellipse cx="9.2" cy="74.3" rx="1.9" ry="1.5" transform="rotate(1 9.2 74.3)" fill="#1910dc"/><ellipse cx="113.7" cy="77.2" rx="2.9" ry="1.9" transform="rotate(97 113.7 77.2)" fill="#1a0de3"/><ellipse cx="56.3" cy="46.7" rx="2.4" ry="1.8" transform="rotate(87 56.3 46.7)" fill="#2518f2"/><ellipse cx="18.2" cy="129.5" rx="2.5" ry="1.9" transform="rotate(126 18.2 129.5)" fill="#2819f6"/><ellipse cx="103.0" cy="60.5" rx="2.2" ry="1.5" transform="rotate(135 103.0 60.5)" fill="#231aab"/><ellipse cx="2.3" cy="99.3" rx="3.1" ry="1.9" transform="rotate(64 2.3 99.3)" fill="#2923fb"/><ellipse cx="23.2" cy="164.4" rx="2.0" ry="1.3" transform="rotate(0 23.2 164.4)" fill="#2c1df8"/><ellipse cx="18.1" cy="88.1" rx="2.4" ry="1.6" transform="rotate(142 18.1 88.1)" fill="#2924d9"/><ellipse cx="12.4" cy="81.3" rx="2.2" ry="1.8" transform="rotate(81 12.4 81.3)" fill="#1310b6"/><ellipse cx="24.9" cy="103.9" rx="3.2" ry="2.2" transform="rotate(71 24.9 103.9)" fill="#1e19c2"/><ellipse cx="105.7" cy="94.5" rx="3.1" ry="2.7" transform="rotate(14 105.7 94.5)" fill="#2118a9"/><ellipse cx="27.3" cy="160.1" rx="2.5" ry="1.9" transform="rotate(17 27.3 160.1)" fill="#150eab"/><ellipse cx="52.3" cy="75.0" rx="2.6" ry="2.4" transform="rotate(67 52.3 75.0)" fill="#100c9a"/><ellipse cx="47.6" cy="82.9" rx="2.5" ry="1.9" transform="rotate(70 47.6 82.9)" fill="#1e13a6"/><ellipse cx="87.1" cy="165.2" rx="2.7" ry="2.0" transform="rotate(78 87.1 165.2)" fill="#2517c5"/><ellipse cx="126.6" cy="135.3" rx="3.2" ry="2.1" transform="rotate(137 126.6 135.3)" fill="#331ff3"/><ellipse cx="71.8" cy="95.5" rx="3.1" ry="2.3" transform="rotate(157 71.8 95.5)" fill="#2118ab"/><ellipse cx="101.8" cy="130.0" rx="3.3" ry="2.5" transform="rotate(97 101.8 130.0)" fill="#1612a5"/><ellipse cx="95.5" cy="96.1" rx="3.2" ry="2.4" transform="rotate(75 95.5 96.1)" fill="#1a11a0"/><ellipse cx="81.9" cy="139.7" rx="2.9" ry="2.3" transform="rotate(103 81.9 139.7)" fill="#1610b2"/><ellipse cx="86.0" cy="68.4" rx="3.1" ry="1.9" transform="rotate(137 86.0 68.4)" fill="#1e10e6"/><ellipse cx="47.4" cy="95.6" rx="3.1" ry="2.8" transform="rotate(135 47.4 95.6)" fill="#190ff1"/><ellipse cx="59.4" cy="62.8" rx="2.7" ry="1.8" transform="rotate(52 59.4 62.8)" fill="#281be1"/><ellipse cx="87.3" cy="55.3" rx="2.8" ry="1.9" transform="rotate(177 87.3 55.3)" fill="#1c14ac"/><ellipse cx="122.8" cy="166.2" rx="2.3" ry="1.7" transform="rotate(41 122.8 166.2)" fill="#1912ab"/><ellipse cx="104.5" cy="83.9" rx="3.2" ry="2.8" transform="rotate(51 104.5 83.9)" fill="#1914eb"/><ellipse cx="88.7" cy="57.3" rx="2.3" ry="1.4" transform="rotate(73 88.7 57.3)" fill="#1811e7"/><ellipse cx="16.5" cy="92.0" rx="3.1" ry="2.1" transform="rotate(84 16.5 92.0)" fill="#271ce7"/><ellipse cx="31.9" cy="137.8" rx="3.0" ry="2.4" transform="rotate(126 31.9 137.8)" fill="#1d14a6"/><ellipse cx="103.9" cy="154.8" rx="2.1" ry="1.6" transform="rotate(105 103.9 154.8)" fill="#1c14d8"/><ellipse cx="92.2" cy="86.0" rx="2.6" ry="2.3" transform="rotate(33 92.2 86.0)" fill="#1814b3"/><ellipse cx="81.4" cy="130.6" rx="3.3" ry="2.2" transform="rotate(144 81.4 130.6)" fill="#261ed5"/><ellipse cx="15.7" cy="48.8" rx="2.4" ry="1.6" transform="rotate(82 15.7 48.8)" fill="#2515b7"/><ellipse cx="5.2" cy="47.5" rx="2.6" ry="1.7" transform="rotate(56 5.2 47.5)" fill="#201be3"/><ellipse cx="43.4" cy="150.0" rx="2.8" ry="2.0" transform="rotate(165 43.4 150.0)" fill="#130a9f"/><ellipse cx="82.9" cy="69.0" rx="1.9" ry="1.4" transform="rotate(171 82.9 69.0)" fill="#2217ed"/><ellipse cx="76.9" cy="44.0" rx="2.3" ry="1.4" transform="rotate(119 76.9 44.0)" fill="#20159d"/><ellipse cx="47.7" cy="130.5" rx="2.2" ry="1.8" transform="rotate(138 47.7 130.5)" fill="#2010a1"/><ellipse cx="4.5" cy="99.8" rx="2.5" ry="1.9" transform="rotate(150 4.5 99.8)" fill="#2010fa"/><ellipse cx="89.2" cy="69.0" rx="2.2" ry="1.8" transform="rotate(171 89.2 69.0)" fill="#2921e2"/><ellipse cx="80.7" cy="84.1" rx="2.4" ry="1.5" transform="rotate(84 80.7 84.1)" fill="#1410cc"/></g><ellipse cx="81.7" cy="49.7" rx="2.5" ry="1.9" fill="#a232a8" stroke="#e03ca6" stroke-width="1.0"/><ellipse cx="101.0" cy="46.7" rx="3.1" ry="2.2" fill="#a232a8" stroke="#e03ca6" stroke-width="1.0"/><ellipse cx="119.6" cy="53.4" rx="2.6" ry="3.0" fill="#a232a8" stroke="#e03ca6" stroke-width="1.0"/><ellipse cx="88.9" cy="61.8" rx="2.6" ry="2.8" fill="#a232a8" stroke="#e03ca6" stroke-width="1.0"/><ellipse cx="84.2" cy="59.3" rx="1.4" ry="1.2" fill="#a232a8" stroke="#e03ca6" stroke-width="1.0"/><ellipse cx="113.7" cy="61.0" rx="2.6" ry="2.3" fill="#7a2cb0" stroke="#c040b0" stroke-width="1.0"/><ellipse cx="114.5" cy="68.6" rx="2.2" ry="1.9" fill="#a232a8" stroke="#e03ca6" stroke-width="1.0"/><ellipse cx="111.2" cy="72.8" rx="2.6" ry="2.2" fill="#a232a8" stroke="#e03ca6" stroke-width="1.0"/><ellipse cx="106.1" cy="74.5" rx="2.3" ry="2.1" fill="#7a2cb0" stroke="#b040b0" stroke-width="1.0"/><ellipse cx="69.1" cy="78.7" rx="2.8" ry="2.6" fill="#a232a8" stroke="#e03ca6" stroke-width="1.0"/><ellipse cx="76.1" cy="77.8" rx="2.8" ry="2.6" fill="#a232a8" stroke="#e03ca6" stroke-width="1.0"/><ellipse cx="101.4" cy="77.3" rx="2.6" ry="2.5" fill="#a232a8" stroke="#e03ca6" stroke-width="1.0"/><ellipse cx="107.8" cy="83.7" rx="2.0" ry="2.2" fill="#a232a8" stroke="#e03ca6" stroke-width="1.0"/><ellipse cx="109.8" cy="89.6" rx="2.6" ry="2.2" fill="#a232a8" stroke="#e03ca6" stroke-width="1.0"/><ellipse cx="75.0" cy="90.8" rx="1.6" ry="1.3" fill="#d03060" stroke="#e03060" stroke-width="1.0"/><ellipse cx="91.8" cy="89.1" rx="1.9" ry="1.8" fill="#7a2cb0" stroke="#b040b0" stroke-width="1.0"/><ellipse cx="94.0" cy="95.2" rx="2.6" ry="2.2" fill="#a232a8" stroke="#e03ca6" stroke-width="1.0"/><ellipse cx="112.0" cy="97.5" rx="2.3" ry="2.1" fill="#6a2cb0" stroke="#9040b0" stroke-width="1.0"/><ellipse cx="85.0" cy="98.9" rx="2.1" ry="1.9" fill="#6a2cb0" stroke="#9040b0" stroke-width="1.0"/><ellipse cx="47.3" cy="69.4" rx="2.6" ry="2.2" fill="#a232a8" stroke="#e03ca6" stroke-width="1.0"/><ellipse cx="61.6" cy="47.5" rx="2.3" ry="1.9" fill="#a232a8" stroke="#e03ca6" stroke-width="1.0"/><ellipse cx="54.9" cy="93.0" rx="2.5" ry="2.1" fill="#a232a8" stroke="#e03ca6" stroke-width="1.0"/><ellipse cx="48.2" cy="100.6" rx="2.6" ry="2.3" fill="#a232a8" stroke="#e03ca6" stroke-width="1.0"/><ellipse cx="51.5" cy="57.6" rx="2.1" ry="1.8" fill="#6a2cb0" stroke="#9040b0" stroke-width="1.0"/><ellipse cx="48.2" cy="106.7" rx="2.6" ry="2.3" fill="#a232a8" stroke="#e03ca6" stroke-width="1.0"/><ellipse cx="48.2" cy="112.6" rx="2.8" ry="2.6" fill="#a232a8" stroke="#e03ca6" stroke-width="1.0"/><ellipse cx="42.3" cy="116.0" rx="2.6" ry="2.6" fill="#a232a8" stroke="#e03ca6" stroke-width="1.0"/><ellipse cx="52.4" cy="119.8" rx="2.6" ry="2.5" fill="#a232a8" stroke="#e03ca6" stroke-width="1.0"/><ellipse cx="42.8" cy="121.0" rx="2.2" ry="2.0" fill="#a232a8" stroke="#e03ca6" stroke-width="1.0"/><ellipse cx="44.8" cy="126.9" rx="2.5" ry="2.2" fill="#a232a8" stroke="#e03ca6" stroke-width="1.0"/><ellipse cx="62.5" cy="112.6" rx="1.8" ry="1.6" fill="#a232a8" stroke="#e03ca6" stroke-width="1.0"/><ellipse cx="7.4" cy="128.9" rx="2.5" ry="3.0" fill="#a232a8" stroke="#e03ca6" stroke-width="1.0"/><ellipse cx="22.0" cy="138.7" rx="1.1" ry="1.0" fill="#d03060" stroke="#e03060" stroke-width="1.0"/><ellipse cx="9.1" cy="155.5" rx="2.6" ry="2.1" fill="#a232a8" stroke="#e03ca6" stroke-width="1.0"/><ellipse cx="36.7" cy="160.2" rx="2.6" ry="2.6" fill="#a232a8" stroke="#e03ca6" stroke-width="1.0"/><ellipse cx="86.2" cy="107.5" rx="2.6" ry="2.3" fill="#7a2cb0" stroke="#c040b0" stroke-width="1.0"/><ellipse cx="80.8" cy="110.9" rx="2.6" ry="2.4" fill="#a232a8" stroke="#e03ca6" stroke-width="1.0"/><ellipse cx="98.5" cy="113.4" rx="1.6" ry="1.4" fill="#7a2cb0" stroke="#b040b0" stroke-width="1.0"/><ellipse cx="82.2" cy="119.8" rx="2.8" ry="2.6" fill="#a232a8" stroke="#e03ca6" stroke-width="1.0"/><ellipse cx="72.4" cy="124.4" rx="2.6" ry="2.4" fill="#a232a8" stroke="#e03ca6" stroke-width="1.0"/><ellipse cx="83.9" cy="126.0" rx="2.2" ry="1.9" fill="#a232a8" stroke="#e03ca6" stroke-width="1.0"/><ellipse cx="117.6" cy="119.8" rx="3.1" ry="2.6" fill="#a232a8" stroke="#e03ca6" stroke-width="1.0"/><ellipse cx="116.2" cy="110.9" rx="2.1" ry="1.8" fill="#6a2cb0" stroke="#9040b0" stroke-width="1.0"/><ellipse cx="73.3" cy="140.4" rx="2.3" ry="1.9" fill="#6a2cb0" stroke="#a040b0" stroke-width="1.0"/><ellipse cx="112.0" cy="137.8" rx="2.6" ry="2.3" fill="#6a2cb0" stroke="#a040b0" stroke-width="1.0"/><ellipse cx="69.1" cy="150.1" rx="3.1" ry="2.6" fill="#a232a8" stroke="#e03ca6" stroke-width="1.0"/><ellipse cx="79.5" cy="151.3" rx="3.1" ry="2.6" fill="#a232a8" stroke="#e03ca6" stroke-width="1.0"/><ellipse cx="103.6" cy="149.1" rx="2.6" ry="2.3" fill="#6a2cb0" stroke="#a040b0" stroke-width="1.0"/><text x="12" y="62.8" font-size="12.6" font-weight="bold" fill="#d8344a" textLength="24.8" lengthAdjust="spacingAndGlyphs">EdU</text><text x="12.3" y="80.3" font-size="12.6" font-weight="bold" fill="#8294e6" textLength="29.7" lengthAdjust="spacingAndGlyphs">DAPI</text><text x="12" y="97.2" font-size="12.6" font-weight="bold" fill="#3c8c4a" textLength="24.3" lengthAdjust="spacingAndGlyphs">pH3</text><rect x="104" y="154.6" width="20.7" height="1.2" fill="#fff"/><text x="114.3" y="162.6" font-size="5.6" font-weight="bold" fill="#fff" text-anchor="middle">40 µm</text></g><g clip-path="url(#cl2)"><rect x="128" y="45" width="124.6" height="120" fill="#030212"/><g stroke="#04031a" stroke-width="0.45"><ellipse cx="167.6" cy="61.7" rx="2.5" ry="1.6" transform="rotate(96 167.6 61.7)" fill="#241fd5"/><ellipse cx="153.6" cy="53.7" rx="2.3" ry="1.5" transform="rotate(99 153.6 53.7)" fill="#1a0e87"/><ellipse cx="154.7" cy="120.8" rx="2.8" ry="2.3" transform="rotate(71 154.7 120.8)" fill="#120fb0"/><ellipse cx="163.2" cy="60.9" rx="1.9" ry="1.4" transform="rotate(146 163.2 60.9)" fill="#120da6"/><ellipse cx="150.2" cy="55.1" rx="2.6" ry="2.1" transform="rotate(111 150.2 55.1)" fill="#2c1df7"/><ellipse cx="166.4" cy="115.6" rx="2.3" ry="1.6" transform="rotate(142 166.4 115.6)" fill="#130bb6"/><ellipse cx="189.7" cy="85.6" rx="2.3" ry="1.9" transform="rotate(13 189.7 85.6)" fill="#251dfb"/><ellipse cx="145.5" cy="103.6" rx="1.8" ry="1.5" transform="rotate(137 145.5 103.6)" fill="#1c11c8"/><ellipse cx="189.9" cy="141.8" rx="1.9" ry="1.2" transform="rotate(48 189.9 141.8)" fill="#0e0a88"/><ellipse cx="209.2" cy="166.1" rx="2.7" ry="1.9" transform="rotate(69 209.2 166.1)" fill="#150ed0"/><ellipse cx="147.6" cy="57.5" rx="1.9" ry="1.6" transform="rotate(23 147.6 57.5)" fill="#1b17b7"/><ellipse cx="189.9" cy="63.6" rx="2.2" ry="1.6" transform="rotate(24 189.9 63.6)" fill="#2e1ce6"/><ellipse cx="179.4" cy="87.5" rx="2.8" ry="2.6" transform="rotate(27 179.4 87.5)" fill="#130ea5"/><ellipse cx="127.6" cy="146.1" rx="2.0" ry="1.4" transform="rotate(26 127.6 146.1)" fill="#2517d6"/><ellipse cx="142.1" cy="149.5" rx="2.8" ry="2.4" transform="rotate(133 142.1 149.5)" fill="#3127ec"/><ellipse cx="238.5" cy="141.9" rx="2.2" ry="1.7" transform="rotate(18 238.5 141.9)" fill="#170cde"/><ellipse cx="152.8" cy="63.1" rx="2.2" ry="1.3" transform="rotate(0 152.8 63.1)" fill="#19159e"/><ellipse cx="204.9" cy="51.7" rx="2.0" ry="1.5" transform="rotate(114 204.9 51.7)" fill="#2318d0"/><ellipse cx="140.8" cy="103.5" rx="2.9" ry="2.2" transform="rotate(56 140.8 103.5)" fill="#110a9c"/><ellipse cx="160.0" cy="145.8" rx="2.0" ry="1.2" transform="rotate(171 160.0 145.8)" fill="#241bff"/><ellipse cx="243.6" cy="137.0" rx="2.1" ry="1.8" transform="rotate(16 243.6 137.0)" fill="#1e19ba"/><ellipse cx="171.7" cy="70.6" rx="2.4" ry="1.9" transform="rotate(114 171.7 70.6)" fill="#211ba9"/><ellipse cx="221.1" cy="71.1" rx="2.4" ry="1.7" transform="rotate(5 221.1 71.1)" fill="#18107f"/><ellipse cx="150.9" cy="118.0" rx="2.2" ry="1.9" transform="rotate(130 150.9 118.0)" fill="#2c1cd1"/><ellipse cx="154.4" cy="71.1" rx="2.0" ry="1.4" transform="rotate(112 154.4 71.1)" fill="#120d78"/><ellipse cx="228.8" cy="53.5" rx="2.5" ry="2.3" transform="rotate(140 228.8 53.5)" fill="#1a0eab"/><ellipse cx="227.5" cy="84.2" rx="2.7" ry="2.5" transform="rotate(71 227.5 84.2)" fill="#2a16de"/><ellipse cx="146.4" cy="166.1" rx="1.8" ry="1.5" transform="rotate(83 146.4 166.1)" fill="#1b139d"/><ellipse cx="187.0" cy="159.2" rx="2.0" ry="1.6" transform="rotate(3 187.0 159.2)" fill="#171492"/><ellipse cx="181.8" cy="151.1" rx="2.7" ry="1.8" transform="rotate(45 181.8 151.1)" fill="#1f18c2"/><ellipse cx="167.9" cy="110.5" rx="2.7" ry="1.7" transform="rotate(133 167.9 110.5)" fill="#2a22ed"/><ellipse cx="192.5" cy="145.6" rx="2.8" ry="1.8" transform="rotate(27 192.5 145.6)" fill="#1910fa"/><ellipse cx="149.5" cy="43.5" rx="2.7" ry="1.8" transform="rotate(85 149.5 43.5)" fill="#190f96"/><ellipse cx="192.7" cy="111.9" rx="2.7" ry="1.7" transform="rotate(100 192.7 111.9)" fill="#160bb7"/><ellipse cx="138.6" cy="99.1" rx="1.8" ry="1.7" transform="rotate(11 138.6 99.1)" fill="#2318cb"/><ellipse cx="191.9" cy="128.9" rx="2.3" ry="1.8" transform="rotate(86 191.9 128.9)" fill="#211cb7"/><ellipse cx="247.2" cy="75.2" rx="2.4" ry="2.2" transform="rotate(151 247.2 75.2)" fill="#170f9b"/><ellipse cx="166.6" cy="126.2" rx="2.3" ry="1.5" transform="rotate(54 166.6 126.2)" fill="#1f1197"/><ellipse cx="218.1" cy="124.9" rx="2.0" ry="1.8" transform="rotate(174 218.1 124.9)" fill="#2111b0"/><ellipse cx="239.8" cy="63.2" rx="2.5" ry="1.7" transform="rotate(127 239.8 63.2)" fill="#2518fb"/><ellipse cx="171.9" cy="54.4" rx="2.2" ry="1.6" transform="rotate(82 171.9 54.4)" fill="#120c7c"/><ellipse cx="164.0" cy="162.1" rx="1.9" ry="1.8" transform="rotate(41 164.0 162.1)" fill="#100992"/><ellipse cx="242.5" cy="65.5" rx="2.6" ry="2.3" transform="rotate(152 242.5 65.5)" fill="#1b13ba"/><ellipse cx="192.2" cy="104.3" rx="2.2" ry="1.5" transform="rotate(143 192.2 104.3)" fill="#190da6"/><ellipse cx="246.7" cy="121.7" rx="2.7" ry="1.7" transform="rotate(154 246.7 121.7)" fill="#120989"/><ellipse cx="127.5" cy="166.3" rx="2.3" ry="2.1" transform="rotate(111 127.5 166.3)" fill="#150c83"/><ellipse cx="140.1" cy="63.0" rx="1.9" ry="1.2" transform="rotate(56 140.1 63.0)" fill="#2012c6"/><ellipse cx="183.3" cy="126.3" rx="2.1" ry="1.8" transform="rotate(179 183.3 126.3)" fill="#0d0a81"/><ellipse cx="196.9" cy="66.5" rx="2.3" ry="2.2" transform="rotate(19 196.9 66.5)" fill="#291de6"/><ellipse cx="240.3" cy="163.3" rx="2.1" ry="1.4" transform="rotate(41 240.3 163.3)" fill="#2119aa"/><ellipse cx="207.8" cy="93.2" rx="2.2" ry="1.4" transform="rotate(23 207.8 93.2)" fill="#18148a"/><ellipse cx="181.4" cy="49.9" rx="2.5" ry="1.9" transform="rotate(91 181.4 49.9)" fill="#2018c0"/><ellipse cx="131.8" cy="66.0" rx="2.1" ry="1.3" transform="rotate(65 131.8 66.0)" fill="#2c1fcc"/><ellipse cx="157.4" cy="162.7" rx="2.1" ry="1.6" transform="rotate(0 157.4 162.7)" fill="#170ed9"/><ellipse cx="210.4" cy="73.8" rx="2.7" ry="1.7" transform="rotate(147 210.4 73.8)" fill="#170b9c"/><ellipse cx="128.9" cy="80.7" rx="2.1" ry="1.7" transform="rotate(95 128.9 80.7)" fill="#1c169f"/><ellipse cx="239.1" cy="91.3" rx="2.2" ry="2.0" transform="rotate(26 239.1 91.3)" fill="#100d9d"/><ellipse cx="240.7" cy="120.8" rx="2.6" ry="2.3" transform="rotate(25 240.7 120.8)" fill="#3022fe"/><ellipse cx="230.5" cy="45.0" rx="2.6" ry="2.2" transform="rotate(128 230.5 45.0)" fill="#1309b2"/><ellipse cx="207.9" cy="162.0" rx="2.2" ry="1.7" transform="rotate(9 207.9 162.0)" fill="#15107c"/><ellipse cx="188.9" cy="43.4" rx="2.7" ry="2.3" transform="rotate(90 188.9 43.4)" fill="#190d8f"/><ellipse cx="220.8" cy="74.3" rx="1.9" ry="1.3" transform="rotate(131 220.8 74.3)" fill="#150fac"/><ellipse cx="185.2" cy="147.8" rx="1.9" ry="1.7" transform="rotate(51 185.2 147.8)" fill="#161083"/><ellipse cx="136.0" cy="61.3" rx="2.1" ry="1.8" transform="rotate(54 136.0 61.3)" fill="#0f079a"/><ellipse cx="160.6" cy="126.3" rx="2.6" ry="2.1" transform="rotate(52 160.6 126.3)" fill="#2116fc"/><ellipse cx="224.7" cy="166.2" rx="2.4" ry="1.7" transform="rotate(15 224.7 166.2)" fill="#1810f1"/><ellipse cx="231.4" cy="163.0" rx="2.3" ry="1.6" transform="rotate(37 231.4 163.0)" fill="#1209ad"/><ellipse cx="222.1" cy="75.5" rx="2.2" ry="1.8" transform="rotate(113 222.1 75.5)" fill="#271ebf"/><ellipse cx="155.8" cy="154.3" rx="2.3" ry="1.4" transform="rotate(0 155.8 154.3)" fill="#2c1df5"/><ellipse cx="219.5" cy="94.6" rx="2.2" ry="1.4" transform="rotate(59 219.5 94.6)" fill="#261fcb"/><ellipse cx="141.4" cy="157.9" rx="2.6" ry="2.4" transform="rotate(52 141.4 157.9)" fill="#170fd7"/><ellipse cx="237.9" cy="52.5" rx="2.8" ry="2.4" transform="rotate(153 237.9 52.5)" fill="#1511bf"/><ellipse cx="162.7" cy="159.0" rx="2.1" ry="1.4" transform="rotate(91 162.7 159.0)" fill="#201aa8"/><ellipse cx="181.0" cy="46.6" rx="2.6" ry="2.0" transform="rotate(157 181.0 46.6)" fill="#2010ac"/><ellipse cx="220.2" cy="98.9" rx="2.6" ry="2.2" transform="rotate(51 220.2 98.9)" fill="#1b1384"/><ellipse cx="148.0" cy="94.4" rx="2.1" ry="1.5" transform="rotate(132 148.0 94.4)" fill="#1b10ba"/><ellipse cx="188.1" cy="125.9" rx="1.9" ry="1.6" transform="rotate(13 188.1 125.9)" fill="#3323f8"/><ellipse cx="154.3" cy="155.4" rx="2.9" ry="2.2" transform="rotate(25 154.3 155.4)" fill="#150ba9"/><ellipse cx="197.5" cy="82.6" rx="2.2" ry="1.9" transform="rotate(36 197.5 82.6)" fill="#170f7d"/><ellipse cx="179.2" cy="108.0" rx="2.2" ry="1.6" transform="rotate(11 179.2 108.0)" fill="#2014bf"/><ellipse cx="214.3" cy="108.6" rx="2.7" ry="2.4" transform="rotate(16 214.3 108.6)" fill="#1a13b7"/><ellipse cx="181.5" cy="81.7" rx="2.7" ry="2.5" transform="rotate(22 181.5 81.7)" fill="#2a24e4"/><ellipse cx="186.9" cy="115.8" rx="1.8" ry="1.3" transform="rotate(166 186.9 115.8)" fill="#332dff"/><ellipse cx="158.0" cy="56.5" rx="2.0" ry="1.5" transform="rotate(122 158.0 56.5)" fill="#1a15ed"/><ellipse cx="126.2" cy="58.6" rx="2.4" ry="1.5" transform="rotate(128 126.2 58.6)" fill="#1a1298"/><ellipse cx="182.3" cy="137.7" rx="1.9" ry="1.3" transform="rotate(169 182.3 137.7)" fill="#180ea9"/><ellipse cx="203.3" cy="44.3" rx="2.1" ry="1.6" transform="rotate(172 203.3 44.3)" fill="#1c10b6"/><ellipse cx="157.8" cy="162.1" rx="2.6" ry="1.8" transform="rotate(3 157.8 162.1)" fill="#3225f7"/><ellipse cx="136.4" cy="71.3" rx="2.3" ry="1.7" transform="rotate(88 136.4 71.3)" fill="#2618ce"/><ellipse cx="177.0" cy="43.8" rx="2.1" ry="1.9" transform="rotate(12 177.0 43.8)" fill="#3521f6"/><ellipse cx="231.5" cy="71.6" rx="2.0" ry="1.8" transform="rotate(53 231.5 71.6)" fill="#2a24f6"/><ellipse cx="188.4" cy="155.9" rx="1.9" ry="1.5" transform="rotate(165 188.4 155.9)" fill="#100e85"/><ellipse cx="144.2" cy="49.4" rx="1.9" ry="1.4" transform="rotate(161 144.2 49.4)" fill="#2521c8"/><ellipse cx="245.8" cy="83.8" rx="2.0" ry="1.9" transform="rotate(134 245.8 83.8)" fill="#110d80"/><ellipse cx="233.9" cy="165.1" rx="2.3" ry="1.5" transform="rotate(14 233.9 165.1)" fill="#13108c"/><ellipse cx="141.9" cy="162.6" rx="2.0" ry="1.5" transform="rotate(147 141.9 162.6)" fill="#1913e6"/><ellipse cx="151.2" cy="110.1" rx="2.3" ry="1.6" transform="rotate(132 151.2 110.1)" fill="#180ff1"/><ellipse cx="230.4" cy="138.1" rx="1.8" ry="1.1" transform="rotate(11 230.4 138.1)" fill="#110d87"/><ellipse cx="241.6" cy="85.0" rx="2.1" ry="2.0" transform="rotate(111 241.6 85.0)" fill="#231bbb"/><ellipse cx="244.9" cy="79.9" rx="2.6" ry="2.1" transform="rotate(145 244.9 79.9)" fill="#0d0788"/><ellipse cx="187.1" cy="161.6" rx="2.8" ry="2.1" transform="rotate(45 187.1 161.6)" fill="#2d18e6"/><ellipse cx="189.9" cy="44.1" rx="2.8" ry="2.0" transform="rotate(124 189.9 44.1)" fill="#1b119e"/><ellipse cx="167.1" cy="87.9" rx="2.7" ry="1.7" transform="rotate(35 167.1 87.9)" fill="#140aa0"/><ellipse cx="130.4" cy="111.5" rx="2.2" ry="2.0" transform="rotate(159 130.4 111.5)" fill="#12098a"/><ellipse cx="138.4" cy="104.8" rx="2.6" ry="2.0" transform="rotate(42 138.4 104.8)" fill="#231de2"/><ellipse cx="156.2" cy="109.8" rx="2.7" ry="2.3" transform="rotate(140 156.2 109.8)" fill="#1a12c3"/><ellipse cx="174.0" cy="134.5" rx="2.0" ry="1.4" transform="rotate(44 174.0 134.5)" fill="#15129f"/><ellipse cx="150.2" cy="51.0" rx="2.1" ry="1.4" transform="rotate(94 150.2 51.0)" fill="#191691"/><ellipse cx="139.2" cy="101.9" rx="2.7" ry="2.4" transform="rotate(164 139.2 101.9)" fill="#1a0f82"/><ellipse cx="132.5" cy="117.5" rx="2.7" ry="1.8" transform="rotate(13 132.5 117.5)" fill="#3322fb"/><ellipse cx="159.4" cy="139.4" rx="2.8" ry="1.8" transform="rotate(107 159.4 139.4)" fill="#1a10d1"/><ellipse cx="144.2" cy="68.3" rx="2.1" ry="1.7" transform="rotate(117 144.2 68.3)" fill="#221cac"/><ellipse cx="178.6" cy="89.1" rx="2.5" ry="1.6" transform="rotate(5 178.6 89.1)" fill="#2815f6"/><ellipse cx="139.0" cy="92.0" rx="2.4" ry="2.0" transform="rotate(16 139.0 92.0)" fill="#170da1"/><ellipse cx="253.1" cy="125.8" rx="2.3" ry="1.4" transform="rotate(134 253.1 125.8)" fill="#1f0fd3"/><ellipse cx="224.6" cy="142.5" rx="2.5" ry="1.8" transform="rotate(72 224.6 142.5)" fill="#120a79"/><ellipse cx="140.6" cy="54.2" rx="2.4" ry="1.8" transform="rotate(139 140.6 54.2)" fill="#0f0a99"/><ellipse cx="208.4" cy="155.8" rx="1.9" ry="1.6" transform="rotate(66 208.4 155.8)" fill="#1e13f9"/><ellipse cx="146.8" cy="64.3" rx="1.9" ry="1.4" transform="rotate(135 146.8 64.3)" fill="#1713aa"/><ellipse cx="131.6" cy="156.2" rx="2.1" ry="1.7" transform="rotate(114 131.6 156.2)" fill="#1d158e"/><ellipse cx="232.0" cy="62.9" rx="2.7" ry="1.8" transform="rotate(72 232.0 62.9)" fill="#2112aa"/><ellipse cx="154.1" cy="92.6" rx="2.4" ry="1.7" transform="rotate(22 154.1 92.6)" fill="#2720b7"/><ellipse cx="150.8" cy="152.6" rx="2.7" ry="2.3" transform="rotate(120 150.8 152.6)" fill="#1711ca"/><ellipse cx="196.7" cy="120.8" rx="2.1" ry="1.6" transform="rotate(104 196.7 120.8)" fill="#2115e4"/><ellipse cx="190.8" cy="65.2" rx="1.8" ry="1.7" transform="rotate(83 190.8 65.2)" fill="#2c23ea"/><ellipse cx="184.9" cy="65.3" rx="2.3" ry="1.5" transform="rotate(23 184.9 65.3)" fill="#211be6"/><ellipse cx="190.9" cy="124.5" rx="1.8" ry="1.2" transform="rotate(165 190.9 124.5)" fill="#261ac8"/><ellipse cx="133.0" cy="105.5" rx="2.2" ry="2.1" transform="rotate(24 133.0 105.5)" fill="#1d1688"/><ellipse cx="230.8" cy="67.0" rx="2.9" ry="2.2" transform="rotate(172 230.8 67.0)" fill="#1d16a2"/><ellipse cx="154.4" cy="146.3" rx="2.5" ry="1.7" transform="rotate(58 154.4 146.3)" fill="#271abe"/><ellipse cx="158.7" cy="162.6" rx="2.3" ry="1.9" transform="rotate(110 158.7 162.6)" fill="#180cb4"/><ellipse cx="149.4" cy="63.0" rx="2.8" ry="2.4" transform="rotate(161 149.4 63.0)" fill="#1f12a3"/><ellipse cx="224.8" cy="49.0" rx="2.7" ry="2.6" transform="rotate(81 224.8 49.0)" fill="#2a23fd"/><ellipse cx="139.5" cy="166.1" rx="2.5" ry="1.8" transform="rotate(143 139.5 166.1)" fill="#1b11bb"/><ellipse cx="144.8" cy="84.0" rx="1.9" ry="1.3" transform="rotate(110 144.8 84.0)" fill="#110c84"/><ellipse cx="165.9" cy="162.8" rx="2.8" ry="2.6" transform="rotate(161 165.9 162.8)" fill="#160c78"/><ellipse cx="163.4" cy="120.6" rx="2.3" ry="1.6" transform="rotate(8 163.4 120.6)" fill="#1f17f5"/><ellipse cx="128.9" cy="43.3" rx="2.2" ry="1.4" transform="rotate(64 128.9 43.3)" fill="#1a10b1"/><ellipse cx="143.2" cy="88.4" rx="2.7" ry="1.8" transform="rotate(2 143.2 88.4)" fill="#2116b6"/><ellipse cx="134.2" cy="60.9" rx="2.5" ry="1.8" transform="rotate(146 134.2 60.9)" fill="#0d0a7a"/><ellipse cx="240.8" cy="116.7" rx="2.4" ry="2.0" transform="rotate(93 240.8 116.7)" fill="#1f1af6"/><ellipse cx="131.7" cy="108.9" rx="2.2" ry="1.5" transform="rotate(10 131.7 108.9)" fill="#0e0a92"/><ellipse cx="247.0" cy="60.6" rx="2.0" ry="1.6" transform="rotate(91 247.0 60.6)" fill="#2c19e2"/><ellipse cx="165.8" cy="80.2" rx="1.9" ry="1.7" transform="rotate(140 165.8 80.2)" fill="#110b79"/><ellipse cx="243.3" cy="53.0" rx="2.5" ry="1.7" transform="rotate(179 243.3 53.0)" fill="#170bba"/><ellipse cx="169.1" cy="136.0" rx="2.6" ry="2.3" transform="rotate(128 169.1 136.0)" fill="#2119bc"/><ellipse cx="214.2" cy="156.7" rx="2.9" ry="2.0" transform="rotate(167 214.2 156.7)" fill="#130daf"/><ellipse cx="147.8" cy="155.2" rx="2.7" ry="1.8" transform="rotate(28 147.8 155.2)" fill="#180fcb"/><ellipse cx="203.3" cy="90.1" rx="2.7" ry="2.5" transform="rotate(176 203.3 90.1)" fill="#251af0"/><ellipse cx="126.8" cy="46.3" rx="2.9" ry="1.9" transform="rotate(159 126.8 46.3)" fill="#1912ae"/><ellipse cx="198.7" cy="64.3" rx="1.8" ry="1.2" transform="rotate(111 198.7 64.3)" fill="#160ca1"/><ellipse cx="129.7" cy="48.2" rx="2.6" ry="2.1" transform="rotate(125 129.7 48.2)" fill="#0e0a83"/><ellipse cx="172.7" cy="144.4" rx="2.7" ry="2.5" transform="rotate(11 172.7 144.4)" fill="#180dda"/><ellipse cx="140.4" cy="47.3" rx="2.7" ry="2.4" transform="rotate(114 140.4 47.3)" fill="#1e10c1"/><ellipse cx="227.8" cy="123.1" rx="2.1" ry="1.5" transform="rotate(47 227.8 123.1)" fill="#1b10d1"/><ellipse cx="218.0" cy="88.6" rx="2.2" ry="2.0" transform="rotate(90 218.0 88.6)" fill="#2110c1"/><ellipse cx="179.1" cy="97.1" rx="2.7" ry="1.9" transform="rotate(126 179.1 97.1)" fill="#201aaf"/><ellipse cx="199.9" cy="78.6" rx="2.3" ry="1.8" transform="rotate(51 199.9 78.6)" fill="#0d0985"/><ellipse cx="189.2" cy="141.8" rx="2.0" ry="1.5" transform="rotate(62 189.2 141.8)" fill="#201cfb"/><ellipse cx="162.5" cy="69.6" rx="2.6" ry="2.0" transform="rotate(19 162.5 69.6)" fill="#16138c"/><ellipse cx="198.2" cy="56.0" rx="2.2" ry="1.4" transform="rotate(167 198.2 56.0)" fill="#150f8e"/><ellipse cx="173.8" cy="80.6" rx="2.3" ry="1.8" transform="rotate(30 173.8 80.6)" fill="#2614b3"/><ellipse cx="202.4" cy="128.5" rx="2.5" ry="1.5" transform="rotate(104 202.4 128.5)" fill="#1e19fd"/><ellipse cx="211.1" cy="135.0" rx="2.0" ry="1.5" transform="rotate(139 211.1 135.0)" fill="#140db3"/><ellipse cx="239.8" cy="72.5" rx="2.0" ry="1.4" transform="rotate(126 239.8 72.5)" fill="#1d199f"/><ellipse cx="219.0" cy="117.8" rx="2.2" ry="1.5" transform="rotate(172 219.0 117.8)" fill="#281fba"/><ellipse cx="139.1" cy="162.3" rx="1.9" ry="1.4" transform="rotate(177 139.1 162.3)" fill="#2518c5"/><ellipse cx="151.2" cy="122.1" rx="1.9" ry="1.3" transform="rotate(69 151.2 122.1)" fill="#0c0a80"/><ellipse cx="182.1" cy="70.6" rx="2.9" ry="2.0" transform="rotate(3 182.1 70.6)" fill="#1f14b9"/><ellipse cx="221.3" cy="155.6" rx="2.3" ry="1.8" transform="rotate(134 221.3 155.6)" fill="#2d22e3"/><ellipse cx="209.9" cy="151.8" rx="2.5" ry="2.0" transform="rotate(41 209.9 151.8)" fill="#1d13a6"/><ellipse cx="166.3" cy="120.9" rx="1.9" ry="1.4" transform="rotate(140 166.3 120.9)" fill="#140da0"/><ellipse cx="184.5" cy="120.1" rx="2.3" ry="1.9" transform="rotate(167 184.5 120.1)" fill="#2215a6"/><ellipse cx="127.4" cy="146.2" rx="2.8" ry="1.8" transform="rotate(45 127.4 146.2)" fill="#1410af"/><ellipse cx="247.0" cy="107.4" rx="1.9" ry="1.5" transform="rotate(97 247.0 107.4)" fill="#261cf1"/><ellipse cx="232.6" cy="107.7" rx="2.3" ry="2.1" transform="rotate(37 232.6 107.7)" fill="#1813a7"/><ellipse cx="141.7" cy="165.1" rx="2.2" ry="1.4" transform="rotate(49 141.7 165.1)" fill="#170cde"/><ellipse cx="243.7" cy="120.9" rx="2.5" ry="2.0" transform="rotate(19 243.7 120.9)" fill="#2520c5"/><ellipse cx="193.8" cy="70.1" rx="2.7" ry="2.0" transform="rotate(38 193.8 70.1)" fill="#201099"/><ellipse cx="228.7" cy="67.0" rx="2.5" ry="2.1" transform="rotate(146 228.7 67.0)" fill="#16109d"/><ellipse cx="231.3" cy="144.2" rx="2.3" ry="1.6" transform="rotate(98 231.3 144.2)" fill="#1d1398"/><ellipse cx="226.8" cy="71.6" rx="2.6" ry="2.2" transform="rotate(176 226.8 71.6)" fill="#1a15a7"/><ellipse cx="228.7" cy="87.4" rx="2.5" ry="1.8" transform="rotate(87 228.7 87.4)" fill="#19108d"/><ellipse cx="245.4" cy="149.0" rx="1.9" ry="1.7" transform="rotate(163 245.4 149.0)" fill="#190f9b"/><ellipse cx="200.9" cy="124.5" rx="2.0" ry="1.3" transform="rotate(52 200.9 124.5)" fill="#181491"/><ellipse cx="149.9" cy="99.0" rx="2.7" ry="1.8" transform="rotate(72 149.9 99.0)" fill="#1c15a2"/><ellipse cx="251.7" cy="54.2" rx="2.8" ry="2.2" transform="rotate(114 251.7 54.2)" fill="#1812c4"/><ellipse cx="194.3" cy="135.0" rx="2.3" ry="2.1" transform="rotate(99 194.3 135.0)" fill="#1c17bb"/><ellipse cx="186.9" cy="112.1" rx="2.3" ry="2.1" transform="rotate(126 186.9 112.1)" fill="#1d14b7"/><ellipse cx="237.0" cy="43.8" rx="2.7" ry="2.1" transform="rotate(101 237.0 43.8)" fill="#2719c3"/><ellipse cx="179.9" cy="162.1" rx="1.9" ry="1.5" transform="rotate(114 179.9 162.1)" fill="#0d067f"/><ellipse cx="220.7" cy="166.9" rx="2.7" ry="1.7" transform="rotate(87 220.7 166.9)" fill="#100c9c"/><ellipse cx="206.4" cy="85.0" rx="2.7" ry="2.0" transform="rotate(85 206.4 85.0)" fill="#2a24fe"/><ellipse cx="162.5" cy="85.4" rx="2.1" ry="1.3" transform="rotate(52 162.5 85.4)" fill="#291bd2"/><ellipse cx="190.8" cy="76.7" rx="2.4" ry="2.2" transform="rotate(117 190.8 76.7)" fill="#140c96"/><ellipse cx="164.5" cy="115.7" rx="2.5" ry="2.2" transform="rotate(7 164.5 115.7)" fill="#2412df"/><ellipse cx="164.6" cy="43.8" rx="2.0" ry="1.9" transform="rotate(109 164.6 43.8)" fill="#1a1687"/><ellipse cx="204.7" cy="119.5" rx="2.5" ry="2.1" transform="rotate(107 204.7 119.5)" fill="#110d8d"/><ellipse cx="184.9" cy="137.6" rx="1.9" ry="1.3" transform="rotate(6 184.9 137.6)" fill="#1e1691"/><ellipse cx="173.4" cy="145.0" rx="2.7" ry="2.1" transform="rotate(46 173.4 145.0)" fill="#180cc5"/><ellipse cx="128.6" cy="113.2" rx="2.4" ry="2.2" transform="rotate(89 128.6 113.2)" fill="#1a0efd"/><ellipse cx="230.2" cy="114.3" rx="2.8" ry="2.1" transform="rotate(2 230.2 114.3)" fill="#2521db"/><ellipse cx="210.8" cy="62.3" rx="2.6" ry="2.1" transform="rotate(14 210.8 62.3)" fill="#1e10f0"/><ellipse cx="128.0" cy="43.6" rx="2.6" ry="1.6" transform="rotate(173 128.0 43.6)" fill="#11098e"/><ellipse cx="186.7" cy="77.2" rx="2.4" ry="1.8" transform="rotate(133 186.7 77.2)" fill="#120e84"/><ellipse cx="215.4" cy="61.0" rx="2.6" ry="1.9" transform="rotate(100 215.4 61.0)" fill="#2621f7"/><ellipse cx="158.7" cy="162.6" rx="2.6" ry="1.6" transform="rotate(2 158.7 162.6)" fill="#140c8c"/><ellipse cx="203.2" cy="161.8" rx="2.7" ry="2.2" transform="rotate(56 203.2 161.8)" fill="#2414e8"/><ellipse cx="250.3" cy="57.5" rx="2.8" ry="1.9" transform="rotate(144 250.3 57.5)" fill="#231cf2"/><ellipse cx="247.5" cy="140.3" rx="2.4" ry="1.7" transform="rotate(10 247.5 140.3)" fill="#2920cd"/><ellipse cx="128.0" cy="61.7" rx="2.7" ry="2.2" transform="rotate(175 128.0 61.7)" fill="#1a14b7"/><ellipse cx="203.4" cy="154.1" rx="2.7" ry="1.9" transform="rotate(0 203.4 154.1)" fill="#180dbb"/><ellipse cx="244.4" cy="137.7" rx="2.7" ry="1.9" transform="rotate(25 244.4 137.7)" fill="#14109d"/><ellipse cx="229.8" cy="127.9" rx="2.8" ry="2.0" transform="rotate(15 229.8 127.9)" fill="#2f1bf4"/><ellipse cx="222.5" cy="158.5" rx="2.1" ry="1.7" transform="rotate(121 222.5 158.5)" fill="#2c26ef"/><ellipse cx="201.4" cy="44.2" rx="2.2" ry="1.8" transform="rotate(96 201.4 44.2)" fill="#2817d2"/><ellipse cx="200.5" cy="154.2" rx="2.8" ry="2.2" transform="rotate(85 200.5 154.2)" fill="#140bab"/><ellipse cx="149.2" cy="129.9" rx="2.2" ry="1.8" transform="rotate(72 149.2 129.9)" fill="#331efc"/><ellipse cx="244.6" cy="104.2" rx="2.8" ry="2.0" transform="rotate(83 244.6 104.2)" fill="#100b8c"/><ellipse cx="170.4" cy="107.4" rx="1.8" ry="1.1" transform="rotate(178 170.4 107.4)" fill="#2918f4"/><ellipse cx="245.0" cy="77.7" rx="1.9" ry="1.4" transform="rotate(106 245.0 77.7)" fill="#130999"/><ellipse cx="151.8" cy="65.4" rx="1.9" ry="1.2" transform="rotate(100 151.8 65.4)" fill="#251fed"/><ellipse cx="241.1" cy="150.0" rx="2.5" ry="2.3" transform="rotate(127 241.1 150.0)" fill="#120d8f"/><ellipse cx="208.4" cy="161.6" rx="2.5" ry="1.9" transform="rotate(80 208.4 161.6)" fill="#170da0"/><ellipse cx="218.7" cy="64.3" rx="2.8" ry="2.6" transform="rotate(10 218.7 64.3)" fill="#190c7f"/><ellipse cx="227.1" cy="131.0" rx="2.5" ry="2.4" transform="rotate(10 227.1 131.0)" fill="#150a9d"/><ellipse cx="151.6" cy="135.8" rx="2.4" ry="1.8" transform="rotate(117 151.6 135.8)" fill="#2113f0"/><ellipse cx="142.0" cy="102.7" rx="2.0" ry="1.4" transform="rotate(25 142.0 102.7)" fill="#13107b"/><ellipse cx="228.7" cy="62.5" rx="2.7" ry="1.7" transform="rotate(111 228.7 62.5)" fill="#2c18d7"/><ellipse cx="183.5" cy="55.0" rx="2.8" ry="2.5" transform="rotate(113 183.5 55.0)" fill="#321feb"/><ellipse cx="156.1" cy="57.3" rx="2.2" ry="1.6" transform="rotate(132 156.1 57.3)" fill="#1e15a6"/><ellipse cx="144.6" cy="151.0" rx="2.1" ry="1.6" transform="rotate(28 144.6 151.0)" fill="#1f13bd"/><ellipse cx="229.4" cy="75.3" rx="1.9" ry="1.5" transform="rotate(86 229.4 75.3)" fill="#22119f"/><ellipse cx="241.1" cy="125.9" rx="2.0" ry="1.6" transform="rotate(51 241.1 125.9)" fill="#231fb9"/><ellipse cx="181.6" cy="75.4" rx="2.1" ry="1.4" transform="rotate(70 181.6 75.4)" fill="#2e18e2"/><ellipse cx="219.4" cy="79.4" rx="2.9" ry="1.7" transform="rotate(145 219.4 79.4)" fill="#2116cf"/><ellipse cx="227.5" cy="160.0" rx="2.1" ry="1.5" transform="rotate(7 227.5 160.0)" fill="#1c14e0"/><ellipse cx="143.8" cy="65.3" rx="2.6" ry="2.2" transform="rotate(35 143.8 65.3)" fill="#1b178c"/><ellipse cx="220.0" cy="137.4" rx="2.0" ry="1.3" transform="rotate(120 220.0 137.4)" fill="#1c10a9"/><ellipse cx="134.4" cy="133.9" rx="2.2" ry="1.9" transform="rotate(9 134.4 133.9)" fill="#1d18d0"/><ellipse cx="237.2" cy="104.1" rx="1.8" ry="1.7" transform="rotate(85 237.2 104.1)" fill="#1811bc"/><ellipse cx="252.8" cy="47.5" rx="2.6" ry="2.1" transform="rotate(154 252.8 47.5)" fill="#2217d3"/><ellipse cx="192.3" cy="58.0" rx="2.6" ry="2.3" transform="rotate(155 192.3 58.0)" fill="#2721ca"/><ellipse cx="200.1" cy="154.4" rx="2.1" ry="1.4" transform="rotate(131 200.1 154.4)" fill="#251aea"/><ellipse cx="195.1" cy="45.6" rx="2.9" ry="1.9" transform="rotate(32 195.1 45.6)" fill="#140e92"/><ellipse cx="248.9" cy="45.4" rx="2.8" ry="2.4" transform="rotate(47 248.9 45.4)" fill="#261dee"/><ellipse cx="139.2" cy="150.8" rx="2.6" ry="1.6" transform="rotate(22 139.2 150.8)" fill="#2920f6"/><ellipse cx="140.2" cy="58.1" rx="2.8" ry="2.2" transform="rotate(40 140.2 58.1)" fill="#140eb2"/><ellipse cx="222.0" cy="63.4" rx="2.7" ry="2.5" transform="rotate(69 222.0 63.4)" fill="#261ce3"/><ellipse cx="130.7" cy="163.3" rx="1.9" ry="1.4" transform="rotate(72 130.7 163.3)" fill="#261fcd"/><ellipse cx="198.6" cy="165.2" rx="2.2" ry="1.6" transform="rotate(100 198.6 165.2)" fill="#201ccb"/><ellipse cx="246.2" cy="73.9" rx="2.3" ry="1.9" transform="rotate(65 246.2 73.9)" fill="#1f13ff"/><ellipse cx="151.8" cy="126.0" rx="2.0" ry="1.5" transform="rotate(71 151.8 126.0)" fill="#2921ec"/><ellipse cx="239.7" cy="152.7" rx="1.8" ry="1.5" transform="rotate(47 239.7 152.7)" fill="#211bbd"/><ellipse cx="130.6" cy="55.5" rx="1.9" ry="1.2" transform="rotate(42 130.6 55.5)" fill="#110a82"/><ellipse cx="209.3" cy="57.9" rx="2.5" ry="2.3" transform="rotate(92 209.3 57.9)" fill="#140ebc"/><ellipse cx="245.8" cy="97.6" rx="2.4" ry="2.1" transform="rotate(164 245.8 97.6)" fill="#1913c1"/><ellipse cx="221.2" cy="78.6" rx="2.3" ry="1.9" transform="rotate(39 221.2 78.6)" fill="#1b15da"/><ellipse cx="185.3" cy="111.0" rx="2.5" ry="1.9" transform="rotate(55 185.3 111.0)" fill="#190eb6"/><ellipse cx="196.2" cy="163.2" rx="2.2" ry="2.1" transform="rotate(29 196.2 163.2)" fill="#190fb5"/><ellipse cx="160.7" cy="151.9" rx="2.0" ry="1.3" transform="rotate(3 160.7 151.9)" fill="#170e89"/><ellipse cx="210.6" cy="107.1" rx="2.7" ry="2.0" transform="rotate(137 210.6 107.1)" fill="#201cfd"/><ellipse cx="221.0" cy="62.2" rx="2.2" ry="1.6" transform="rotate(121 221.0 62.2)" fill="#251abe"/><ellipse cx="221.0" cy="135.2" rx="2.6" ry="2.0" transform="rotate(141 221.0 135.2)" fill="#160b98"/><ellipse cx="178.8" cy="111.2" rx="1.9" ry="1.4" transform="rotate(178 178.8 111.2)" fill="#17129e"/><ellipse cx="238.2" cy="118.3" rx="2.2" ry="1.7" transform="rotate(82 238.2 118.3)" fill="#1c12d2"/><ellipse cx="197.4" cy="90.7" rx="2.2" ry="1.9" transform="rotate(152 197.4 90.7)" fill="#2315f7"/><ellipse cx="195.0" cy="142.6" rx="2.3" ry="1.7" transform="rotate(41 195.0 142.6)" fill="#1c17cc"/><ellipse cx="233.8" cy="161.9" rx="2.0" ry="1.5" transform="rotate(163 233.8 161.9)" fill="#0c077a"/><ellipse cx="241.2" cy="80.2" rx="2.4" ry="1.7" transform="rotate(111 241.2 80.2)" fill="#251ae7"/><ellipse cx="214.1" cy="91.3" rx="2.2" ry="1.8" transform="rotate(63 214.1 91.3)" fill="#160f7a"/><ellipse cx="138.7" cy="89.4" rx="2.2" ry="1.8" transform="rotate(103 138.7 89.4)" fill="#2419a8"/><ellipse cx="182.6" cy="120.5" rx="2.9" ry="2.1" transform="rotate(95 182.6 120.5)" fill="#110a8f"/><ellipse cx="251.8" cy="145.4" rx="2.4" ry="1.5" transform="rotate(161 251.8 145.4)" fill="#2924cf"/><ellipse cx="240.2" cy="95.2" rx="2.0" ry="1.4" transform="rotate(92 240.2 95.2)" fill="#3321f9"/><ellipse cx="133.7" cy="113.1" rx="1.9" ry="1.5" transform="rotate(113 133.7 113.1)" fill="#170b82"/><ellipse cx="126.4" cy="131.1" rx="2.4" ry="2.2" transform="rotate(71 126.4 131.1)" fill="#181291"/><ellipse cx="151.3" cy="104.7" rx="2.4" ry="1.7" transform="rotate(116 151.3 104.7)" fill="#3728fb"/><ellipse cx="178.9" cy="58.1" rx="2.0" ry="1.7" transform="rotate(19 178.9 58.1)" fill="#0f0d91"/><ellipse cx="189.1" cy="101.0" rx="2.3" ry="2.0" transform="rotate(117 189.1 101.0)" fill="#170dca"/><ellipse cx="161.4" cy="47.1" rx="2.5" ry="2.2" transform="rotate(170 161.4 47.1)" fill="#130c88"/><ellipse cx="175.6" cy="49.8" rx="2.8" ry="2.2" transform="rotate(172 175.6 49.8)" fill="#180ee8"/><ellipse cx="154.7" cy="62.8" rx="2.4" ry="1.6" transform="rotate(1 154.7 62.8)" fill="#2017ec"/><ellipse cx="249.5" cy="104.4" rx="2.8" ry="1.9" transform="rotate(70 249.5 104.4)" fill="#1a11b0"/><ellipse cx="217.5" cy="45.8" rx="2.8" ry="1.7" transform="rotate(30 217.5 45.8)" fill="#1a17d9"/><ellipse cx="163.4" cy="112.6" rx="1.9" ry="1.5" transform="rotate(69 163.4 112.6)" fill="#2722df"/><ellipse cx="180.3" cy="156.2" rx="2.4" ry="1.8" transform="rotate(84 180.3 156.2)" fill="#1a0dd0"/><ellipse cx="211.4" cy="85.3" rx="2.0" ry="1.7" transform="rotate(16 211.4 85.3)" fill="#1f19bd"/><ellipse cx="197.4" cy="100.9" rx="2.7" ry="1.8" transform="rotate(66 197.4 100.9)" fill="#2014af"/><ellipse cx="249.3" cy="68.8" rx="2.8" ry="2.2" transform="rotate(40 249.3 68.8)" fill="#2a24eb"/><ellipse cx="254.3" cy="116.9" rx="2.3" ry="2.2" transform="rotate(96 254.3 116.9)" fill="#2616df"/><ellipse cx="238.2" cy="58.2" rx="2.4" ry="1.9" transform="rotate(48 238.2 58.2)" fill="#1611da"/><ellipse cx="144.7" cy="44.9" rx="2.6" ry="2.2" transform="rotate(139 144.7 44.9)" fill="#1812b3"/><ellipse cx="140.0" cy="112.7" rx="2.2" ry="1.7" transform="rotate(53 140.0 112.7)" fill="#190d88"/><ellipse cx="163.1" cy="144.3" rx="2.2" ry="1.6" transform="rotate(151 163.1 144.3)" fill="#2d26ee"/><ellipse cx="236.8" cy="59.4" rx="2.1" ry="1.3" transform="rotate(122 236.8 59.4)" fill="#2b15d1"/><ellipse cx="216.5" cy="100.4" rx="2.9" ry="2.1" transform="rotate(163 216.5 100.4)" fill="#110991"/><ellipse cx="243.4" cy="134.0" rx="2.6" ry="1.6" transform="rotate(7 243.4 134.0)" fill="#1813a1"/><ellipse cx="146.1" cy="134.6" rx="2.4" ry="2.0" transform="rotate(169 146.1 134.6)" fill="#1d16b2"/><ellipse cx="158.8" cy="96.9" rx="2.6" ry="1.8" transform="rotate(0 158.8 96.9)" fill="#2822c1"/><ellipse cx="201.2" cy="129.3" rx="2.9" ry="2.4" transform="rotate(6 201.2 129.3)" fill="#1915c9"/><ellipse cx="222.4" cy="53.7" rx="2.6" ry="1.9" transform="rotate(134 222.4 53.7)" fill="#170cb0"/><ellipse cx="247.7" cy="95.6" rx="2.8" ry="2.4" transform="rotate(132 247.7 95.6)" fill="#251ceb"/><ellipse cx="152.5" cy="126.5" rx="2.7" ry="2.4" transform="rotate(88 152.5 126.5)" fill="#110da8"/><ellipse cx="229.6" cy="75.4" rx="2.4" ry="2.3" transform="rotate(114 229.6 75.4)" fill="#180cba"/><ellipse cx="172.0" cy="94.0" rx="2.0" ry="1.4" transform="rotate(24 172.0 94.0)" fill="#2c1af4"/><ellipse cx="157.1" cy="106.9" rx="2.3" ry="2.1" transform="rotate(63 157.1 106.9)" fill="#1611c4"/><ellipse cx="201.6" cy="72.9" rx="2.5" ry="1.6" transform="rotate(76 201.6 72.9)" fill="#1d10a3"/><ellipse cx="251.9" cy="147.1" rx="2.2" ry="1.5" transform="rotate(124 251.9 147.1)" fill="#11097b"/><ellipse cx="133.8" cy="77.8" rx="2.0" ry="1.7" transform="rotate(80 133.8 77.8)" fill="#110b94"/><ellipse cx="199.2" cy="78.9" rx="2.4" ry="1.5" transform="rotate(84 199.2 78.9)" fill="#1a14f4"/><ellipse cx="252.1" cy="112.9" rx="1.9" ry="1.5" transform="rotate(78 252.1 112.9)" fill="#2014a8"/><ellipse cx="172.2" cy="54.3" rx="2.1" ry="1.7" transform="rotate(131 172.2 54.3)" fill="#2011b8"/><ellipse cx="222.1" cy="46.1" rx="2.2" ry="1.5" transform="rotate(66 222.1 46.1)" fill="#332cfe"/><ellipse cx="147.7" cy="140.3" rx="2.7" ry="2.3" transform="rotate(58 147.7 140.3)" fill="#1d12a7"/><ellipse cx="155.6" cy="59.9" rx="2.8" ry="2.5" transform="rotate(45 155.6 59.9)" fill="#0e0a86"/><ellipse cx="206.8" cy="144.6" rx="2.6" ry="2.4" transform="rotate(170 206.8 144.6)" fill="#251df6"/><ellipse cx="254.0" cy="117.7" rx="2.5" ry="1.6" transform="rotate(40 254.0 117.7)" fill="#17149b"/><ellipse cx="137.5" cy="48.0" rx="2.3" ry="1.5" transform="rotate(130 137.5 48.0)" fill="#0c0878"/><ellipse cx="233.2" cy="106.4" rx="2.0" ry="1.2" transform="rotate(9 233.2 106.4)" fill="#2e18e3"/><ellipse cx="127.1" cy="161.5" rx="2.0" ry="1.7" transform="rotate(68 127.1 161.5)" fill="#120d79"/><ellipse cx="170.8" cy="67.2" rx="1.9" ry="1.4" transform="rotate(82 170.8 67.2)" fill="#221e9f"/><ellipse cx="205.7" cy="143.6" rx="1.9" ry="1.6" transform="rotate(109 205.7 143.6)" fill="#2015c4"/><ellipse cx="173.4" cy="124.4" rx="2.0" ry="1.8" transform="rotate(95 173.4 124.4)" fill="#190e7f"/><ellipse cx="221.1" cy="128.7" rx="2.0" ry="1.6" transform="rotate(99 221.1 128.7)" fill="#2013e2"/><ellipse cx="182.8" cy="75.4" rx="2.0" ry="1.9" transform="rotate(36 182.8 75.4)" fill="#120f94"/><ellipse cx="209.5" cy="66.3" rx="2.5" ry="2.2" transform="rotate(40 209.5 66.3)" fill="#1e15ed"/><ellipse cx="140.5" cy="106.6" rx="2.4" ry="1.5" transform="rotate(73 140.5 106.6)" fill="#1b0e8a"/><ellipse cx="190.7" cy="105.9" rx="2.7" ry="2.5" transform="rotate(112 190.7 105.9)" fill="#1c17fb"/><ellipse cx="176.4" cy="64.2" rx="2.9" ry="2.3" transform="rotate(139 176.4 64.2)" fill="#16109b"/><ellipse cx="178.0" cy="48.9" rx="1.8" ry="1.6" transform="rotate(172 178.0 48.9)" fill="#2019ed"/><ellipse cx="180.8" cy="153.2" rx="2.5" ry="2.2" transform="rotate(101 180.8 153.2)" fill="#1913d2"/><ellipse cx="169.9" cy="137.7" rx="2.5" ry="2.3" transform="rotate(22 169.9 137.7)" fill="#2218d7"/><ellipse cx="171.9" cy="103.6" rx="2.7" ry="2.0" transform="rotate(64 171.9 103.6)" fill="#2715cb"/><ellipse cx="245.0" cy="126.7" rx="2.1" ry="1.4" transform="rotate(80 245.0 126.7)" fill="#1a0de8"/><ellipse cx="140.2" cy="142.3" rx="2.0" ry="1.6" transform="rotate(52 140.2 142.3)" fill="#2b1fd9"/><ellipse cx="158.2" cy="166.7" rx="2.6" ry="1.8" transform="rotate(79 158.2 166.7)" fill="#11097e"/><ellipse cx="190.5" cy="151.3" rx="2.7" ry="1.6" transform="rotate(32 190.5 151.3)" fill="#2c27dc"/><ellipse cx="215.1" cy="98.6" rx="2.1" ry="1.9" transform="rotate(93 215.1 98.6)" fill="#1d11d4"/><ellipse cx="241.0" cy="116.1" rx="1.8" ry="1.2" transform="rotate(64 241.0 116.1)" fill="#2116ef"/><ellipse cx="246.6" cy="82.0" rx="2.2" ry="1.7" transform="rotate(40 246.6 82.0)" fill="#1c19b7"/><ellipse cx="131.8" cy="61.1" rx="2.5" ry="1.8" transform="rotate(49 131.8 61.1)" fill="#3622f8"/><ellipse cx="199.8" cy="115.5" rx="2.0" ry="1.6" transform="rotate(164 199.8 115.5)" fill="#1d1790"/><ellipse cx="207.4" cy="121.7" rx="2.2" ry="1.5" transform="rotate(143 207.4 121.7)" fill="#1c119c"/><ellipse cx="224.2" cy="134.7" rx="2.4" ry="1.9" transform="rotate(63 224.2 134.7)" fill="#1f18df"/><ellipse cx="212.4" cy="152.6" rx="2.7" ry="2.1" transform="rotate(160 212.4 152.6)" fill="#2715b4"/><ellipse cx="152.4" cy="153.2" rx="2.5" ry="1.9" transform="rotate(71 152.4 153.2)" fill="#291ec5"/><ellipse cx="144.5" cy="132.3" rx="2.1" ry="1.7" transform="rotate(118 144.5 132.3)" fill="#160ccf"/><ellipse cx="244.9" cy="115.5" rx="2.1" ry="1.5" transform="rotate(84 244.9 115.5)" fill="#2a24e5"/><ellipse cx="233.8" cy="82.6" rx="2.0" ry="1.8" transform="rotate(98 233.8 82.6)" fill="#1c10a2"/><ellipse cx="128.6" cy="48.9" rx="2.3" ry="2.1" transform="rotate(50 128.6 48.9)" fill="#2c19f8"/><ellipse cx="220.4" cy="162.4" rx="2.5" ry="1.5" transform="rotate(145 220.4 162.4)" fill="#2613cf"/><ellipse cx="160.8" cy="122.7" rx="1.8" ry="1.3" transform="rotate(4 160.8 122.7)" fill="#1c16ca"/><ellipse cx="209.5" cy="93.3" rx="2.5" ry="1.8" transform="rotate(10 209.5 93.3)" fill="#2c17e2"/><ellipse cx="204.8" cy="139.2" rx="2.9" ry="2.1" transform="rotate(169 204.8 139.2)" fill="#0c077b"/><ellipse cx="210.1" cy="81.9" rx="2.3" ry="1.9" transform="rotate(150 210.1 81.9)" fill="#1109a0"/><ellipse cx="144.3" cy="138.1" rx="1.9" ry="1.7" transform="rotate(76 144.3 138.1)" fill="#1c149f"/><ellipse cx="168.5" cy="134.9" rx="2.1" ry="1.8" transform="rotate(137 168.5 134.9)" fill="#2319c7"/><ellipse cx="216.8" cy="112.4" rx="2.2" ry="1.7" transform="rotate(49 216.8 112.4)" fill="#120cb8"/><ellipse cx="210.3" cy="139.0" rx="2.2" ry="2.1" transform="rotate(41 210.3 139.0)" fill="#1e168f"/><ellipse cx="141.7" cy="110.4" rx="2.0" ry="1.8" transform="rotate(46 141.7 110.4)" fill="#2822d5"/><ellipse cx="238.0" cy="149.1" rx="2.7" ry="2.1" transform="rotate(63 238.0 149.1)" fill="#1b16b6"/><ellipse cx="153.4" cy="156.1" rx="2.8" ry="2.1" transform="rotate(38 153.4 156.1)" fill="#0e0b7e"/><ellipse cx="134.4" cy="123.0" rx="2.2" ry="2.0" transform="rotate(10 134.4 123.0)" fill="#201bd8"/><ellipse cx="247.5" cy="120.8" rx="2.0" ry="1.4" transform="rotate(47 247.5 120.8)" fill="#1d12e7"/><ellipse cx="167.9" cy="95.8" rx="2.1" ry="1.9" transform="rotate(89 167.9 95.8)" fill="#1915a0"/><ellipse cx="224.9" cy="161.3" rx="2.0" ry="1.4" transform="rotate(15 224.9 161.3)" fill="#131079"/><ellipse cx="146.8" cy="127.7" rx="2.5" ry="1.9" transform="rotate(104 146.8 127.7)" fill="#221bad"/><ellipse cx="131.9" cy="139.0" rx="2.3" ry="1.7" transform="rotate(25 131.9 139.0)" fill="#231cc4"/><ellipse cx="145.5" cy="156.2" rx="1.9" ry="1.4" transform="rotate(90 145.5 156.2)" fill="#170dd2"/><ellipse cx="213.8" cy="54.2" rx="2.2" ry="2.0" transform="rotate(128 213.8 54.2)" fill="#2c16cd"/><ellipse cx="156.2" cy="141.2" rx="2.6" ry="1.6" transform="rotate(90 156.2 141.2)" fill="#1e17b3"/><ellipse cx="219.7" cy="49.0" rx="2.8" ry="1.7" transform="rotate(19 219.7 49.0)" fill="#3424f4"/><ellipse cx="126.3" cy="70.8" rx="2.4" ry="2.0" transform="rotate(98 126.3 70.8)" fill="#181494"/><ellipse cx="249.1" cy="52.6" rx="2.9" ry="2.6" transform="rotate(174 249.1 52.6)" fill="#2114b1"/><ellipse cx="148.8" cy="75.8" rx="1.9" ry="1.2" transform="rotate(91 148.8 75.8)" fill="#2b25e0"/><ellipse cx="160.4" cy="83.4" rx="1.8" ry="1.4" transform="rotate(50 160.4 83.4)" fill="#2521cc"/><ellipse cx="238.4" cy="132.0" rx="2.2" ry="1.6" transform="rotate(75 238.4 132.0)" fill="#170f9e"/><ellipse cx="178.7" cy="60.7" rx="2.9" ry="1.7" transform="rotate(109 178.7 60.7)" fill="#211ab9"/><ellipse cx="253.4" cy="145.4" rx="2.5" ry="1.6" transform="rotate(111 253.4 145.4)" fill="#1a0d80"/><ellipse cx="215.3" cy="83.2" rx="2.5" ry="2.0" transform="rotate(56 215.3 83.2)" fill="#120d78"/><ellipse cx="186.5" cy="85.5" rx="2.4" ry="1.8" transform="rotate(148 186.5 85.5)" fill="#1e0fd8"/><ellipse cx="251.5" cy="76.0" rx="2.5" ry="2.2" transform="rotate(12 251.5 76.0)" fill="#251db1"/><ellipse cx="159.7" cy="147.3" rx="2.7" ry="2.0" transform="rotate(106 159.7 147.3)" fill="#2614b0"/><ellipse cx="223.4" cy="88.1" rx="2.0" ry="1.3" transform="rotate(65 223.4 88.1)" fill="#130ea4"/><ellipse cx="148.9" cy="160.5" rx="2.7" ry="2.3" transform="rotate(163 148.9 160.5)" fill="#1d18ca"/><ellipse cx="231.2" cy="58.3" rx="2.0" ry="1.4" transform="rotate(18 231.2 58.3)" fill="#251ad3"/><ellipse cx="164.9" cy="125.1" rx="2.1" ry="1.5" transform="rotate(80 164.9 125.1)" fill="#160f94"/><ellipse cx="228.7" cy="137.1" rx="2.0" ry="1.6" transform="rotate(66 228.7 137.1)" fill="#2d21fd"/><ellipse cx="193.3" cy="142.4" rx="2.1" ry="1.7" transform="rotate(0 193.3 142.4)" fill="#130aba"/><ellipse cx="218.4" cy="77.0" rx="2.2" ry="1.5" transform="rotate(150 218.4 77.0)" fill="#17108f"/><ellipse cx="137.4" cy="58.9" rx="2.9" ry="2.0" transform="rotate(140 137.4 58.9)" fill="#180f83"/><ellipse cx="131.4" cy="136.4" rx="2.9" ry="2.2" transform="rotate(109 131.4 136.4)" fill="#1a11b9"/><ellipse cx="200.4" cy="157.7" rx="2.0" ry="1.9" transform="rotate(128 200.4 157.7)" fill="#170dd7"/><ellipse cx="236.6" cy="52.9" rx="2.3" ry="1.7" transform="rotate(74 236.6 52.9)" fill="#0e0a7e"/><ellipse cx="246.2" cy="129.9" rx="2.3" ry="2.2" transform="rotate(31 246.2 129.9)" fill="#140d88"/><ellipse cx="191.8" cy="145.3" rx="2.5" ry="2.2" transform="rotate(72 191.8 145.3)" fill="#1b1082"/><ellipse cx="168.5" cy="91.0" rx="2.3" ry="1.5" transform="rotate(152 168.5 91.0)" fill="#0d067b"/><ellipse cx="222.9" cy="113.0" rx="1.9" ry="1.6" transform="rotate(127 222.9 113.0)" fill="#3123f3"/><ellipse cx="222.2" cy="147.6" rx="2.0" ry="1.5" transform="rotate(9 222.2 147.6)" fill="#150c9d"/><ellipse cx="252.3" cy="66.1" rx="2.4" ry="1.9" transform="rotate(15 252.3 66.1)" fill="#1c17da"/><ellipse cx="197.5" cy="106.4" rx="2.3" ry="1.4" transform="rotate(54 197.5 106.4)" fill="#2a23d9"/><ellipse cx="159.1" cy="68.0" rx="1.9" ry="1.5" transform="rotate(67 159.1 68.0)" fill="#2a20ee"/><ellipse cx="144.2" cy="158.4" rx="2.2" ry="1.7" transform="rotate(127 144.2 158.4)" fill="#180c85"/><ellipse cx="134.7" cy="161.0" rx="2.7" ry="1.7" transform="rotate(39 134.7 161.0)" fill="#1f18e8"/><ellipse cx="229.2" cy="116.4" rx="2.3" ry="2.1" transform="rotate(80 229.2 116.4)" fill="#120cac"/><ellipse cx="208.2" cy="49.1" rx="2.7" ry="1.7" transform="rotate(107 208.2 49.1)" fill="#100ca6"/><ellipse cx="220.8" cy="63.4" rx="2.0" ry="1.7" transform="rotate(134 220.8 63.4)" fill="#1c0fae"/><ellipse cx="226.0" cy="131.7" rx="2.4" ry="1.8" transform="rotate(36 226.0 131.7)" fill="#1e138f"/><ellipse cx="210.7" cy="74.9" rx="2.8" ry="2.3" transform="rotate(27 210.7 74.9)" fill="#1c0f86"/><ellipse cx="146.6" cy="98.3" rx="2.6" ry="2.4" transform="rotate(143 146.6 98.3)" fill="#150c9f"/><ellipse cx="196.6" cy="69.6" rx="2.8" ry="2.4" transform="rotate(41 196.6 69.6)" fill="#110980"/><ellipse cx="163.4" cy="124.2" rx="2.6" ry="1.7" transform="rotate(26 163.4 124.2)" fill="#1913a7"/><ellipse cx="140.7" cy="145.7" rx="1.9" ry="1.8" transform="rotate(179 140.7 145.7)" fill="#2919fe"/><ellipse cx="170.7" cy="136.0" rx="2.3" ry="2.2" transform="rotate(16 170.7 136.0)" fill="#2013f4"/><ellipse cx="201.1" cy="136.8" rx="2.0" ry="1.5" transform="rotate(138 201.1 136.8)" fill="#1e12b2"/><ellipse cx="200.6" cy="55.5" rx="1.8" ry="1.2" transform="rotate(27 200.6 55.5)" fill="#140cc4"/><ellipse cx="183.8" cy="73.7" rx="2.6" ry="1.7" transform="rotate(141 183.8 73.7)" fill="#261dc4"/><ellipse cx="184.5" cy="135.6" rx="1.9" ry="1.3" transform="rotate(70 184.5 135.6)" fill="#0d0981"/><ellipse cx="138.5" cy="123.2" rx="1.9" ry="1.6" transform="rotate(63 138.5 123.2)" fill="#281fd7"/><ellipse cx="172.2" cy="125.2" rx="1.9" ry="1.1" transform="rotate(116 172.2 125.2)" fill="#2113f2"/><ellipse cx="139.7" cy="72.6" rx="2.0" ry="1.4" transform="rotate(97 139.7 72.6)" fill="#1f11cb"/><ellipse cx="194.9" cy="105.8" rx="2.2" ry="1.5" transform="rotate(72 194.9 105.8)" fill="#251fac"/><ellipse cx="219.4" cy="109.3" rx="2.1" ry="1.3" transform="rotate(19 219.4 109.3)" fill="#151185"/><ellipse cx="199.4" cy="128.4" rx="2.1" ry="1.8" transform="rotate(27 199.4 128.4)" fill="#291bbb"/><ellipse cx="206.3" cy="56.6" rx="2.4" ry="1.6" transform="rotate(119 206.3 56.6)" fill="#1610af"/><ellipse cx="226.8" cy="131.1" rx="1.9" ry="1.3" transform="rotate(107 226.8 131.1)" fill="#0f0b91"/><ellipse cx="215.0" cy="144.0" rx="2.2" ry="1.9" transform="rotate(83 215.0 144.0)" fill="#100ea6"/><ellipse cx="179.0" cy="93.5" rx="1.9" ry="1.3" transform="rotate(132 179.0 93.5)" fill="#130ca2"/><ellipse cx="144.1" cy="67.6" rx="2.0" ry="1.5" transform="rotate(175 144.1 67.6)" fill="#170f78"/><ellipse cx="190.0" cy="139.6" rx="2.8" ry="2.4" transform="rotate(114 190.0 139.6)" fill="#2211aa"/><ellipse cx="173.0" cy="94.0" rx="2.5" ry="2.4" transform="rotate(104 173.0 94.0)" fill="#2c23f6"/><ellipse cx="143.4" cy="145.7" rx="2.8" ry="2.6" transform="rotate(134 143.4 145.7)" fill="#1813a2"/><ellipse cx="226.9" cy="151.0" rx="2.1" ry="2.0" transform="rotate(95 226.9 151.0)" fill="#100d95"/><ellipse cx="229.2" cy="136.1" rx="2.7" ry="1.9" transform="rotate(105 229.2 136.1)" fill="#241ab4"/><ellipse cx="246.0" cy="153.3" rx="1.9" ry="1.5" transform="rotate(71 246.0 153.3)" fill="#291bcf"/><ellipse cx="137.2" cy="123.9" rx="2.7" ry="2.0" transform="rotate(107 137.2 123.9)" fill="#2c16e5"/><ellipse cx="188.9" cy="45.0" rx="1.9" ry="1.7" transform="rotate(75 188.9 45.0)" fill="#1e13c4"/><ellipse cx="153.5" cy="86.9" rx="2.7" ry="2.2" transform="rotate(52 153.5 86.9)" fill="#1f118e"/><ellipse cx="240.4" cy="93.5" rx="2.4" ry="1.6" transform="rotate(38 240.4 93.5)" fill="#120f82"/><ellipse cx="176.1" cy="84.2" rx="2.0" ry="1.3" transform="rotate(63 176.1 84.2)" fill="#1e12dc"/><ellipse cx="238.7" cy="141.1" rx="2.5" ry="2.2" transform="rotate(174 238.7 141.1)" fill="#2311dc"/><ellipse cx="148.5" cy="160.2" rx="2.3" ry="2.0" transform="rotate(45 148.5 160.2)" fill="#2621d2"/><ellipse cx="220.5" cy="136.4" rx="2.5" ry="1.6" transform="rotate(135 220.5 136.4)" fill="#2111b8"/><ellipse cx="206.2" cy="98.1" rx="2.9" ry="2.1" transform="rotate(119 206.2 98.1)" fill="#2d25d8"/><ellipse cx="133.7" cy="124.2" rx="2.3" ry="2.0" transform="rotate(3 133.7 124.2)" fill="#191096"/><ellipse cx="222.6" cy="153.5" rx="2.6" ry="2.2" transform="rotate(6 222.6 153.5)" fill="#2010cb"/><ellipse cx="246.4" cy="76.7" rx="2.0" ry="1.8" transform="rotate(91 246.4 76.7)" fill="#1a13dc"/><ellipse cx="252.3" cy="120.8" rx="2.1" ry="1.8" transform="rotate(4 252.3 120.8)" fill="#2720e0"/><ellipse cx="213.0" cy="90.2" rx="2.9" ry="2.4" transform="rotate(124 213.0 90.2)" fill="#1a15bf"/><ellipse cx="189.8" cy="49.0" rx="2.4" ry="2.2" transform="rotate(36 189.8 49.0)" fill="#100c87"/><ellipse cx="147.9" cy="81.7" rx="1.9" ry="1.3" transform="rotate(68 147.9 81.7)" fill="#2d19d4"/><ellipse cx="165.8" cy="160.0" rx="2.0" ry="1.4" transform="rotate(78 165.8 160.0)" fill="#1a1093"/><ellipse cx="167.1" cy="141.4" rx="2.3" ry="1.5" transform="rotate(166 167.1 141.4)" fill="#2518eb"/><ellipse cx="146.6" cy="153.7" rx="1.8" ry="1.3" transform="rotate(96 146.6 153.7)" fill="#2a19e1"/><ellipse cx="172.6" cy="156.8" rx="2.4" ry="1.7" transform="rotate(113 172.6 156.8)" fill="#1c0eba"/><ellipse cx="194.4" cy="129.6" rx="2.1" ry="1.7" transform="rotate(64 194.4 129.6)" fill="#251fb6"/><ellipse cx="138.4" cy="117.7" rx="2.7" ry="2.4" transform="rotate(128 138.4 117.7)" fill="#170dc6"/><ellipse cx="219.0" cy="135.1" rx="1.9" ry="1.4" transform="rotate(151 219.0 135.1)" fill="#1e14cf"/><ellipse cx="169.3" cy="150.3" rx="2.6" ry="1.7" transform="rotate(132 169.3 150.3)" fill="#2822e1"/><ellipse cx="143.2" cy="85.0" rx="1.9" ry="1.4" transform="rotate(90 143.2 85.0)" fill="#1e13b4"/><ellipse cx="199.8" cy="77.0" rx="2.7" ry="2.4" transform="rotate(150 199.8 77.0)" fill="#14109e"/><ellipse cx="156.7" cy="58.5" rx="2.1" ry="1.3" transform="rotate(174 156.7 58.5)" fill="#2c18d9"/><ellipse cx="216.5" cy="130.3" rx="2.5" ry="1.7" transform="rotate(12 216.5 130.3)" fill="#2113fa"/><ellipse cx="154.8" cy="54.6" rx="2.5" ry="2.4" transform="rotate(144 154.8 54.6)" fill="#150ed4"/><ellipse cx="141.7" cy="161.3" rx="2.0" ry="1.6" transform="rotate(137 141.7 161.3)" fill="#1f10ea"/><ellipse cx="183.3" cy="111.8" rx="2.7" ry="1.7" transform="rotate(148 183.3 111.8)" fill="#170e94"/><ellipse cx="246.4" cy="162.6" rx="2.4" ry="1.6" transform="rotate(100 246.4 162.6)" fill="#1714ad"/><ellipse cx="200.3" cy="131.4" rx="2.0" ry="1.4" transform="rotate(145 200.3 131.4)" fill="#1c0ebc"/><ellipse cx="207.0" cy="132.8" rx="2.4" ry="1.8" transform="rotate(92 207.0 132.8)" fill="#1c17e0"/><ellipse cx="254.0" cy="142.7" rx="2.9" ry="2.0" transform="rotate(177 254.0 142.7)" fill="#18118a"/><ellipse cx="181.5" cy="163.2" rx="2.8" ry="2.3" transform="rotate(34 181.5 163.2)" fill="#130aa8"/><ellipse cx="223.7" cy="52.5" rx="2.8" ry="1.7" transform="rotate(139 223.7 52.5)" fill="#2012aa"/><ellipse cx="223.2" cy="146.9" rx="2.1" ry="1.9" transform="rotate(4 223.2 146.9)" fill="#0d077c"/><ellipse cx="127.7" cy="150.1" rx="2.6" ry="2.1" transform="rotate(47 127.7 150.1)" fill="#241ad2"/><ellipse cx="166.6" cy="87.0" rx="1.9" ry="1.6" transform="rotate(124 166.6 87.0)" fill="#2f26e3"/><ellipse cx="184.5" cy="55.7" rx="1.9" ry="1.3" transform="rotate(139 184.5 55.7)" fill="#2513f0"/><ellipse cx="169.4" cy="82.5" rx="2.8" ry="2.6" transform="rotate(152 169.4 82.5)" fill="#2a1dff"/><ellipse cx="152.9" cy="74.2" rx="1.8" ry="1.7" transform="rotate(127 152.9 74.2)" fill="#261efc"/><ellipse cx="175.4" cy="143.7" rx="2.7" ry="1.8" transform="rotate(2 175.4 143.7)" fill="#2016ae"/><ellipse cx="129.5" cy="143.8" rx="2.9" ry="1.8" transform="rotate(140 129.5 143.8)" fill="#2318ac"/><ellipse cx="135.1" cy="83.1" rx="2.5" ry="2.3" transform="rotate(87 135.1 83.1)" fill="#1109ac"/><ellipse cx="171.6" cy="152.2" rx="1.9" ry="1.7" transform="rotate(170 171.6 152.2)" fill="#2319e8"/><ellipse cx="207.8" cy="130.7" rx="2.3" ry="1.4" transform="rotate(130 207.8 130.7)" fill="#1b0f85"/><ellipse cx="209.8" cy="149.9" rx="2.9" ry="2.5" transform="rotate(84 209.8 149.9)" fill="#2916f0"/><ellipse cx="190.0" cy="90.3" rx="2.6" ry="2.3" transform="rotate(160 190.0 90.3)" fill="#110d79"/><ellipse cx="231.9" cy="121.6" rx="2.6" ry="1.6" transform="rotate(16 231.9 121.6)" fill="#2111ab"/><ellipse cx="132.3" cy="72.8" rx="2.8" ry="1.9" transform="rotate(120 132.3 72.8)" fill="#1d10e1"/><ellipse cx="128.3" cy="136.9" rx="1.9" ry="1.8" transform="rotate(127 128.3 136.9)" fill="#130da7"/><ellipse cx="205.2" cy="83.1" rx="2.4" ry="2.2" transform="rotate(68 205.2 83.1)" fill="#0d0678"/><ellipse cx="209.4" cy="53.6" rx="2.4" ry="2.0" transform="rotate(142 209.4 53.6)" fill="#19138b"/><ellipse cx="205.1" cy="99.7" rx="2.5" ry="2.0" transform="rotate(37 205.1 99.7)" fill="#211ba7"/><ellipse cx="184.9" cy="58.1" rx="2.5" ry="1.7" transform="rotate(77 184.9 58.1)" fill="#190d94"/><ellipse cx="192.8" cy="127.0" rx="1.9" ry="1.3" transform="rotate(158 192.8 127.0)" fill="#100991"/><ellipse cx="165.8" cy="79.7" rx="2.3" ry="1.9" transform="rotate(60 165.8 79.7)" fill="#1109a9"/><ellipse cx="140.6" cy="128.9" rx="2.5" ry="1.9" transform="rotate(82 140.6 128.9)" fill="#2f22e0"/><ellipse cx="153.1" cy="137.1" rx="2.6" ry="1.6" transform="rotate(3 153.1 137.1)" fill="#190c87"/><ellipse cx="213.6" cy="148.4" rx="2.3" ry="2.1" transform="rotate(32 213.6 148.4)" fill="#1d16c3"/><ellipse cx="158.5" cy="80.3" rx="2.2" ry="1.6" transform="rotate(17 158.5 80.3)" fill="#1b17e9"/><ellipse cx="210.3" cy="101.7" rx="2.5" ry="2.1" transform="rotate(135 210.3 101.7)" fill="#1a0fcb"/><ellipse cx="179.0" cy="45.6" rx="2.1" ry="1.9" transform="rotate(165 179.0 45.6)" fill="#1410cc"/><ellipse cx="156.7" cy="85.5" rx="1.9" ry="1.2" transform="rotate(6 156.7 85.5)" fill="#1e13c8"/><ellipse cx="134.3" cy="58.1" rx="2.3" ry="1.6" transform="rotate(9 134.3 58.1)" fill="#2619b6"/><ellipse cx="243.5" cy="128.5" rx="2.9" ry="1.8" transform="rotate(38 243.5 128.5)" fill="#241ec1"/><ellipse cx="217.9" cy="96.5" rx="1.9" ry="1.8" transform="rotate(109 217.9 96.5)" fill="#1d17a2"/><ellipse cx="222.9" cy="73.8" rx="2.1" ry="1.3" transform="rotate(124 222.9 73.8)" fill="#1e16ad"/><ellipse cx="210.4" cy="134.8" rx="2.0" ry="1.2" transform="rotate(12 210.4 134.8)" fill="#1e0fdc"/><ellipse cx="134.6" cy="44.8" rx="2.2" ry="1.4" transform="rotate(20 134.6 44.8)" fill="#2b1ef6"/><ellipse cx="238.9" cy="157.2" rx="2.3" ry="2.1" transform="rotate(45 238.9 157.2)" fill="#2018dd"/><ellipse cx="183.2" cy="133.3" rx="1.9" ry="1.8" transform="rotate(61 183.2 133.3)" fill="#110eac"/><ellipse cx="155.1" cy="149.0" rx="2.7" ry="2.2" transform="rotate(49 155.1 149.0)" fill="#180c7a"/><ellipse cx="137.5" cy="140.0" rx="2.5" ry="1.8" transform="rotate(47 137.5 140.0)" fill="#0f0883"/><ellipse cx="252.4" cy="90.5" rx="2.5" ry="2.0" transform="rotate(40 252.4 90.5)" fill="#120a88"/><ellipse cx="245.7" cy="159.1" rx="2.2" ry="1.7" transform="rotate(31 245.7 159.1)" fill="#2918d6"/><ellipse cx="173.1" cy="107.9" rx="1.9" ry="1.3" transform="rotate(143 173.1 107.9)" fill="#241fc1"/><ellipse cx="129.9" cy="123.4" rx="2.8" ry="2.4" transform="rotate(153 129.9 123.4)" fill="#2016b5"/><ellipse cx="237.8" cy="49.3" rx="2.5" ry="2.3" transform="rotate(42 237.8 49.3)" fill="#130d7f"/><ellipse cx="140.1" cy="111.9" rx="2.3" ry="1.7" transform="rotate(87 140.1 111.9)" fill="#2216a4"/><ellipse cx="133.8" cy="66.7" rx="2.1" ry="1.6" transform="rotate(43 133.8 66.7)" fill="#2211ce"/><ellipse cx="154.6" cy="135.3" rx="2.4" ry="2.2" transform="rotate(173 154.6 135.3)" fill="#1815d8"/><ellipse cx="193.5" cy="72.7" rx="2.0" ry="1.8" transform="rotate(38 193.5 72.7)" fill="#160f8d"/><ellipse cx="247.7" cy="140.3" rx="1.9" ry="1.7" transform="rotate(113 247.7 140.3)" fill="#120d91"/><ellipse cx="172.5" cy="57.8" rx="2.9" ry="2.2" transform="rotate(32 172.5 57.8)" fill="#15117a"/><ellipse cx="242.1" cy="122.8" rx="2.6" ry="1.6" transform="rotate(116 242.1 122.8)" fill="#2c18f7"/><ellipse cx="172.9" cy="91.0" rx="2.8" ry="2.0" transform="rotate(7 172.9 91.0)" fill="#261cd6"/><ellipse cx="216.0" cy="44.9" rx="2.3" ry="2.0" transform="rotate(80 216.0 44.9)" fill="#110f81"/><ellipse cx="233.9" cy="80.8" rx="2.1" ry="1.4" transform="rotate(11 233.9 80.8)" fill="#160b7e"/><ellipse cx="248.0" cy="71.9" rx="2.3" ry="1.8" transform="rotate(170 248.0 71.9)" fill="#2c19f5"/><ellipse cx="242.5" cy="66.9" rx="2.3" ry="1.6" transform="rotate(141 242.5 66.9)" fill="#1815bd"/><ellipse cx="167.4" cy="93.5" rx="2.2" ry="1.8" transform="rotate(4 167.4 93.5)" fill="#2918d7"/><ellipse cx="233.6" cy="62.2" rx="2.7" ry="2.2" transform="rotate(85 233.6 62.2)" fill="#190eda"/><ellipse cx="141.5" cy="162.1" rx="2.0" ry="1.3" transform="rotate(93 141.5 162.1)" fill="#2915ca"/><ellipse cx="156.1" cy="63.8" rx="2.4" ry="1.9" transform="rotate(73 156.1 63.8)" fill="#231eb1"/><ellipse cx="160.6" cy="159.8" rx="2.2" ry="1.4" transform="rotate(164 160.6 159.8)" fill="#1f1a92"/><ellipse cx="135.1" cy="136.4" rx="2.0" ry="1.3" transform="rotate(13 135.1 136.4)" fill="#2b23d8"/><ellipse cx="210.0" cy="106.6" rx="1.9" ry="1.3" transform="rotate(118 210.0 106.6)" fill="#2c26d6"/><ellipse cx="150.8" cy="52.4" rx="2.8" ry="2.2" transform="rotate(32 150.8 52.4)" fill="#2015b9"/><ellipse cx="249.0" cy="74.9" rx="2.7" ry="2.3" transform="rotate(10 249.0 74.9)" fill="#1e12f0"/><ellipse cx="244.3" cy="98.2" rx="2.2" ry="1.9" transform="rotate(172 244.3 98.2)" fill="#190fa6"/><ellipse cx="250.9" cy="164.3" rx="1.9" ry="1.8" transform="rotate(97 250.9 164.3)" fill="#2f28de"/><ellipse cx="155.9" cy="134.2" rx="2.2" ry="1.8" transform="rotate(138 155.9 134.2)" fill="#211898"/><ellipse cx="239.0" cy="57.0" rx="2.4" ry="2.1" transform="rotate(110 239.0 57.0)" fill="#150e8b"/><ellipse cx="168.7" cy="110.3" rx="2.2" ry="1.9" transform="rotate(56 168.7 110.3)" fill="#2c21f3"/><ellipse cx="226.4" cy="91.9" rx="1.9" ry="1.6" transform="rotate(52 226.4 91.9)" fill="#1e17ac"/><ellipse cx="250.3" cy="67.3" rx="2.6" ry="1.9" transform="rotate(46 250.3 67.3)" fill="#171388"/><ellipse cx="238.5" cy="116.0" rx="2.0" ry="1.2" transform="rotate(96 238.5 116.0)" fill="#130fbd"/><ellipse cx="233.6" cy="53.6" rx="2.1" ry="1.4" transform="rotate(31 233.6 53.6)" fill="#1209b4"/><ellipse cx="246.2" cy="163.3" rx="2.0" ry="1.4" transform="rotate(94 246.2 163.3)" fill="#1b15c9"/><ellipse cx="238.5" cy="84.3" rx="2.8" ry="2.0" transform="rotate(47 238.5 84.3)" fill="#171188"/><ellipse cx="159.8" cy="141.2" rx="2.6" ry="1.9" transform="rotate(88 159.8 141.2)" fill="#1d19a8"/><ellipse cx="229.5" cy="136.2" rx="2.7" ry="2.0" transform="rotate(53 229.5 136.2)" fill="#0f0c7c"/><ellipse cx="229.1" cy="54.7" rx="2.4" ry="1.6" transform="rotate(127 229.1 54.7)" fill="#2e1bef"/><ellipse cx="138.0" cy="125.3" rx="2.4" ry="1.6" transform="rotate(34 138.0 125.3)" fill="#130eaf"/><ellipse cx="157.0" cy="75.1" rx="2.3" ry="1.8" transform="rotate(130 157.0 75.1)" fill="#10087f"/><ellipse cx="191.9" cy="69.2" rx="2.6" ry="2.0" transform="rotate(34 191.9 69.2)" fill="#140ca7"/><ellipse cx="211.2" cy="75.3" rx="2.0" ry="1.3" transform="rotate(138 211.2 75.3)" fill="#1d14c7"/><ellipse cx="165.4" cy="139.1" rx="2.1" ry="1.5" transform="rotate(58 165.4 139.1)" fill="#1512b4"/><ellipse cx="238.8" cy="100.3" rx="2.0" ry="1.3" transform="rotate(91 238.8 100.3)" fill="#3327fd"/><ellipse cx="187.3" cy="81.5" rx="1.9" ry="1.6" transform="rotate(112 187.3 81.5)" fill="#2415e7"/><ellipse cx="212.0" cy="70.5" rx="2.2" ry="1.6" transform="rotate(128 212.0 70.5)" fill="#231cd7"/><ellipse cx="219.2" cy="82.0" rx="1.9" ry="1.6" transform="rotate(15 219.2 82.0)" fill="#1612bf"/><ellipse cx="247.3" cy="112.1" rx="1.9" ry="1.6" transform="rotate(6 247.3 112.1)" fill="#1b1489"/><ellipse cx="169.8" cy="107.5" rx="2.0" ry="1.7" transform="rotate(128 169.8 107.5)" fill="#0d0b85"/><ellipse cx="212.2" cy="108.7" rx="2.6" ry="1.8" transform="rotate(147 212.2 108.7)" fill="#1a0ee0"/><ellipse cx="224.4" cy="95.8" rx="2.2" ry="1.4" transform="rotate(43 224.4 95.8)" fill="#100e95"/><ellipse cx="246.9" cy="132.3" rx="2.2" ry="1.5" transform="rotate(33 246.9 132.3)" fill="#2417c1"/><ellipse cx="152.0" cy="140.6" rx="2.6" ry="2.4" transform="rotate(88 152.0 140.6)" fill="#2314fb"/><ellipse cx="158.8" cy="101.2" rx="2.9" ry="1.9" transform="rotate(153 158.8 101.2)" fill="#1b15ca"/><ellipse cx="235.1" cy="127.6" rx="2.5" ry="1.6" transform="rotate(0 235.1 127.6)" fill="#1e0fb3"/><ellipse cx="224.2" cy="118.2" rx="2.8" ry="2.6" transform="rotate(58 224.2 118.2)" fill="#2717c9"/><ellipse cx="173.0" cy="89.5" rx="2.2" ry="1.6" transform="rotate(19 173.0 89.5)" fill="#120db2"/><ellipse cx="223.3" cy="138.4" rx="2.4" ry="2.2" transform="rotate(147 223.3 138.4)" fill="#1d1685"/><ellipse cx="223.1" cy="143.8" rx="2.1" ry="1.7" transform="rotate(68 223.1 143.8)" fill="#160fc6"/><ellipse cx="169.3" cy="144.8" rx="2.2" ry="2.0" transform="rotate(152 169.3 144.8)" fill="#1f1b9b"/><ellipse cx="238.3" cy="110.3" rx="2.8" ry="2.5" transform="rotate(151 238.3 110.3)" fill="#3222ec"/><ellipse cx="185.4" cy="135.9" rx="2.7" ry="2.3" transform="rotate(64 185.4 135.9)" fill="#0f0988"/><ellipse cx="129.3" cy="141.8" rx="2.0" ry="1.3" transform="rotate(12 129.3 141.8)" fill="#100a85"/><ellipse cx="177.7" cy="142.5" rx="2.8" ry="2.0" transform="rotate(113 177.7 142.5)" fill="#2115f0"/><ellipse cx="233.9" cy="134.6" rx="2.2" ry="2.0" transform="rotate(107 233.9 134.6)" fill="#1b12fc"/><ellipse cx="127.5" cy="161.5" rx="2.0" ry="1.4" transform="rotate(97 127.5 161.5)" fill="#1a1297"/><ellipse cx="185.4" cy="113.6" rx="1.8" ry="1.2" transform="rotate(179 185.4 113.6)" fill="#1b16a7"/><ellipse cx="227.4" cy="87.2" rx="2.0" ry="1.8" transform="rotate(144 227.4 87.2)" fill="#1915b0"/><ellipse cx="220.9" cy="62.6" rx="2.5" ry="1.6" transform="rotate(75 220.9 62.6)" fill="#1b11cb"/><ellipse cx="220.2" cy="66.2" rx="2.4" ry="1.9" transform="rotate(120 220.2 66.2)" fill="#1a109c"/><ellipse cx="233.0" cy="154.6" rx="2.0" ry="1.2" transform="rotate(116 233.0 154.6)" fill="#1e1394"/><ellipse cx="244.8" cy="68.7" rx="1.8" ry="1.4" transform="rotate(161 244.8 68.7)" fill="#1c18af"/><ellipse cx="198.0" cy="60.8" rx="2.5" ry="2.2" transform="rotate(76 198.0 60.8)" fill="#2012ba"/><ellipse cx="153.8" cy="120.9" rx="1.9" ry="1.6" transform="rotate(144 153.8 120.9)" fill="#1e11a2"/><ellipse cx="158.9" cy="107.1" rx="2.0" ry="1.6" transform="rotate(162 158.9 107.1)" fill="#251dab"/><ellipse cx="140.1" cy="100.3" rx="2.5" ry="1.7" transform="rotate(150 140.1 100.3)" fill="#3019e4"/><ellipse cx="247.4" cy="97.9" rx="1.9" ry="1.2" transform="rotate(143 247.4 97.9)" fill="#1a11e2"/><ellipse cx="208.1" cy="166.7" rx="2.2" ry="1.9" transform="rotate(44 208.1 166.7)" fill="#1511aa"/><ellipse cx="171.9" cy="97.1" rx="2.1" ry="1.8" transform="rotate(80 171.9 97.1)" fill="#130b9c"/><ellipse cx="190.9" cy="65.8" rx="2.3" ry="1.8" transform="rotate(175 190.9 65.8)" fill="#2617f4"/><ellipse cx="192.7" cy="101.5" rx="2.4" ry="1.8" transform="rotate(41 192.7 101.5)" fill="#2621d2"/><ellipse cx="177.9" cy="86.9" rx="2.3" ry="1.6" transform="rotate(124 177.9 86.9)" fill="#271adc"/><ellipse cx="233.3" cy="110.9" rx="1.8" ry="1.6" transform="rotate(85 233.3 110.9)" fill="#2b25fa"/><ellipse cx="177.7" cy="96.6" rx="2.1" ry="1.7" transform="rotate(119 177.7 96.6)" fill="#190d79"/><ellipse cx="173.0" cy="148.6" rx="2.7" ry="2.2" transform="rotate(121 173.0 148.6)" fill="#2816cf"/><ellipse cx="197.0" cy="123.7" rx="2.1" ry="1.4" transform="rotate(162 197.0 123.7)" fill="#15117e"/><ellipse cx="182.7" cy="77.1" rx="2.4" ry="1.4" transform="rotate(98 182.7 77.1)" fill="#2318cb"/><ellipse cx="168.8" cy="91.0" rx="2.5" ry="2.2" transform="rotate(46 168.8 91.0)" fill="#2915d6"/><ellipse cx="230.2" cy="120.9" rx="1.8" ry="1.7" transform="rotate(51 230.2 120.9)" fill="#1d16f6"/><ellipse cx="128.8" cy="67.0" rx="1.9" ry="1.6" transform="rotate(26 128.8 67.0)" fill="#160eb2"/><ellipse cx="141.7" cy="163.4" rx="2.8" ry="1.8" transform="rotate(25 141.7 163.4)" fill="#1b0f8e"/><ellipse cx="233.7" cy="47.9" rx="2.3" ry="2.0" transform="rotate(76 233.7 47.9)" fill="#1c18a5"/><ellipse cx="130.9" cy="49.9" rx="1.9" ry="1.2" transform="rotate(127 130.9 49.9)" fill="#120aa3"/><ellipse cx="149.3" cy="118.5" rx="2.5" ry="2.4" transform="rotate(64 149.3 118.5)" fill="#2015e7"/><ellipse cx="183.4" cy="102.9" rx="1.8" ry="1.5" transform="rotate(162 183.4 102.9)" fill="#130aa2"/><ellipse cx="171.1" cy="134.4" rx="1.9" ry="1.5" transform="rotate(122 171.1 134.4)" fill="#181180"/><ellipse cx="239.7" cy="44.7" rx="2.3" ry="1.4" transform="rotate(113 239.7 44.7)" fill="#2313dd"/><ellipse cx="132.2" cy="140.5" rx="2.4" ry="1.8" transform="rotate(123 132.2 140.5)" fill="#1d0ea0"/><ellipse cx="229.1" cy="140.5" rx="2.4" ry="1.4" transform="rotate(143 229.1 140.5)" fill="#2917e2"/><ellipse cx="174.9" cy="125.2" rx="2.2" ry="1.7" transform="rotate(104 174.9 125.2)" fill="#160ea1"/><ellipse cx="160.6" cy="155.1" rx="2.7" ry="2.3" transform="rotate(147 160.6 155.1)" fill="#1c16cb"/><ellipse cx="159.7" cy="118.7" rx="2.0" ry="1.8" transform="rotate(87 159.7 118.7)" fill="#2622be"/><ellipse cx="189.3" cy="145.8" rx="1.9" ry="1.4" transform="rotate(14 189.3 145.8)" fill="#2f22e2"/><ellipse cx="180.9" cy="158.7" rx="1.9" ry="1.7" transform="rotate(18 180.9 158.7)" fill="#261cbe"/><ellipse cx="182.0" cy="152.4" rx="2.7" ry="1.7" transform="rotate(80 182.0 152.4)" fill="#1710d6"/><ellipse cx="218.8" cy="69.6" rx="2.5" ry="1.8" transform="rotate(66 218.8 69.6)" fill="#352ffa"/><ellipse cx="180.9" cy="113.9" rx="2.7" ry="2.3" transform="rotate(82 180.9 113.9)" fill="#1d19c9"/><ellipse cx="186.8" cy="57.7" rx="2.6" ry="1.7" transform="rotate(122 186.8 57.7)" fill="#161285"/><ellipse cx="220.8" cy="159.3" rx="2.2" ry="2.0" transform="rotate(154 220.8 159.3)" fill="#2412ba"/><ellipse cx="187.5" cy="53.8" rx="2.7" ry="2.5" transform="rotate(6 187.5 53.8)" fill="#2822ee"/><ellipse cx="136.4" cy="79.1" rx="2.7" ry="2.2" transform="rotate(172 136.4 79.1)" fill="#1a1596"/><ellipse cx="159.5" cy="63.4" rx="2.8" ry="1.9" transform="rotate(154 159.5 63.4)" fill="#1713b1"/><ellipse cx="154.4" cy="155.4" rx="2.5" ry="2.3" transform="rotate(138 154.4 155.4)" fill="#231dda"/><ellipse cx="183.0" cy="55.2" rx="2.8" ry="2.5" transform="rotate(122 183.0 55.2)" fill="#1b12da"/><ellipse cx="231.8" cy="162.3" rx="2.8" ry="1.8" transform="rotate(123 231.8 162.3)" fill="#1d10c9"/><ellipse cx="143.6" cy="101.3" rx="2.3" ry="1.6" transform="rotate(66 143.6 101.3)" fill="#2f22f7"/><ellipse cx="146.8" cy="152.9" rx="2.2" ry="2.1" transform="rotate(176 146.8 152.9)" fill="#180e9b"/><ellipse cx="168.5" cy="114.6" rx="2.0" ry="1.7" transform="rotate(57 168.5 114.6)" fill="#1b10ed"/><ellipse cx="207.0" cy="112.8" rx="2.8" ry="2.4" transform="rotate(65 207.0 112.8)" fill="#1c17aa"/><ellipse cx="212.1" cy="87.7" rx="2.5" ry="1.7" transform="rotate(174 212.1 87.7)" fill="#2118b6"/><ellipse cx="180.1" cy="69.0" rx="1.9" ry="1.5" transform="rotate(119 180.1 69.0)" fill="#2018b4"/><ellipse cx="245.2" cy="166.0" rx="2.5" ry="2.2" transform="rotate(0 245.2 166.0)" fill="#1c0e84"/><ellipse cx="162.1" cy="154.0" rx="2.6" ry="2.0" transform="rotate(63 162.1 154.0)" fill="#1009a6"/><ellipse cx="149.1" cy="146.2" rx="1.9" ry="1.8" transform="rotate(48 149.1 146.2)" fill="#3528fb"/><ellipse cx="175.4" cy="166.1" rx="1.8" ry="1.5" transform="rotate(125 175.4 166.1)" fill="#1913e4"/><ellipse cx="160.8" cy="61.3" rx="2.2" ry="1.8" transform="rotate(171 160.8 61.3)" fill="#1d1585"/><ellipse cx="210.0" cy="63.0" rx="2.6" ry="2.1" transform="rotate(64 210.0 63.0)" fill="#1b0fd6"/><ellipse cx="146.3" cy="61.5" rx="2.4" ry="2.2" transform="rotate(28 146.3 61.5)" fill="#2916f8"/><ellipse cx="189.9" cy="100.5" rx="2.6" ry="2.2" transform="rotate(42 189.9 100.5)" fill="#130f9b"/><ellipse cx="157.1" cy="145.2" rx="2.1" ry="1.3" transform="rotate(85 157.1 145.2)" fill="#2116db"/><ellipse cx="131.3" cy="164.0" rx="2.9" ry="1.8" transform="rotate(177 131.3 164.0)" fill="#261cb5"/><ellipse cx="149.3" cy="51.6" rx="1.9" ry="1.4" transform="rotate(15 149.3 51.6)" fill="#150d8c"/><ellipse cx="191.9" cy="159.1" rx="2.1" ry="1.4" transform="rotate(54 191.9 159.1)" fill="#2a16cb"/><ellipse cx="192.0" cy="158.1" rx="2.4" ry="1.9" transform="rotate(178 192.0 158.1)" fill="#1f19a0"/><ellipse cx="162.6" cy="47.9" rx="1.9" ry="1.4" transform="rotate(134 162.6 47.9)" fill="#1b0fa8"/><ellipse cx="212.1" cy="96.7" rx="2.5" ry="1.6" transform="rotate(162 212.1 96.7)" fill="#161078"/><ellipse cx="139.0" cy="93.6" rx="2.4" ry="1.7" transform="rotate(65 139.0 93.6)" fill="#1812b7"/><ellipse cx="154.6" cy="92.7" rx="2.6" ry="1.9" transform="rotate(28 154.6 92.7)" fill="#0e088a"/><ellipse cx="159.8" cy="120.9" rx="2.2" ry="1.9" transform="rotate(45 159.8 120.9)" fill="#1a1291"/><ellipse cx="230.0" cy="79.2" rx="2.8" ry="2.5" transform="rotate(85 230.0 79.2)" fill="#100a9c"/><ellipse cx="210.9" cy="46.1" rx="2.0" ry="1.9" transform="rotate(129 210.9 46.1)" fill="#0f098b"/><ellipse cx="132.9" cy="115.3" rx="2.6" ry="1.9" transform="rotate(125 132.9 115.3)" fill="#1f19d5"/><ellipse cx="146.8" cy="97.3" rx="2.0" ry="1.3" transform="rotate(97 146.8 97.3)" fill="#2e22e6"/><ellipse cx="146.0" cy="151.1" rx="2.6" ry="1.7" transform="rotate(68 146.0 151.1)" fill="#1108b0"/><ellipse cx="171.5" cy="151.5" rx="2.9" ry="2.1" transform="rotate(163 171.5 151.5)" fill="#3225e9"/><ellipse cx="247.9" cy="113.2" rx="2.0" ry="1.6" transform="rotate(86 247.9 113.2)" fill="#170ece"/><ellipse cx="197.9" cy="165.7" rx="2.5" ry="2.1" transform="rotate(23 197.9 165.7)" fill="#120d7d"/><ellipse cx="149.8" cy="108.9" rx="2.1" ry="1.8" transform="rotate(126 149.8 108.9)" fill="#2214d7"/><ellipse cx="245.0" cy="106.3" rx="2.2" ry="1.6" transform="rotate(72 245.0 106.3)" fill="#191180"/><ellipse cx="220.0" cy="69.4" rx="2.3" ry="1.7" transform="rotate(55 220.0 69.4)" fill="#170ed4"/><ellipse cx="210.1" cy="145.4" rx="2.9" ry="2.2" transform="rotate(132 210.1 145.4)" fill="#2018b9"/><ellipse cx="161.1" cy="50.5" rx="2.2" ry="1.3" transform="rotate(173 161.1 50.5)" fill="#342cfe"/><ellipse cx="165.3" cy="141.6" rx="2.2" ry="1.7" transform="rotate(129 165.3 141.6)" fill="#1a10a7"/><ellipse cx="160.7" cy="103.4" rx="2.6" ry="2.4" transform="rotate(152 160.7 103.4)" fill="#1f11e8"/><ellipse cx="145.8" cy="122.5" rx="2.6" ry="1.9" transform="rotate(10 145.8 122.5)" fill="#1915b6"/><ellipse cx="240.5" cy="96.0" rx="2.0" ry="1.8" transform="rotate(67 240.5 96.0)" fill="#110a96"/><ellipse cx="191.7" cy="166.4" rx="2.9" ry="2.7" transform="rotate(70 191.7 166.4)" fill="#180ca7"/><ellipse cx="173.8" cy="137.4" rx="2.2" ry="1.8" transform="rotate(112 173.8 137.4)" fill="#140ea8"/><ellipse cx="199.7" cy="71.7" rx="1.9" ry="1.6" transform="rotate(152 199.7 71.7)" fill="#1710b5"/><ellipse cx="199.9" cy="82.9" rx="1.8" ry="1.3" transform="rotate(115 199.9 82.9)" fill="#170c8f"/><ellipse cx="153.4" cy="81.6" rx="2.3" ry="1.6" transform="rotate(162 153.4 81.6)" fill="#140d95"/><ellipse cx="210.1" cy="95.4" rx="2.2" ry="1.5" transform="rotate(114 210.1 95.4)" fill="#3128fd"/><ellipse cx="160.6" cy="139.2" rx="2.3" ry="2.2" transform="rotate(9 160.6 139.2)" fill="#2118d9"/><ellipse cx="148.5" cy="117.3" rx="2.3" ry="2.2" transform="rotate(28 148.5 117.3)" fill="#1f1892"/><ellipse cx="222.2" cy="159.4" rx="2.8" ry="2.0" transform="rotate(156 222.2 159.4)" fill="#0c0a78"/><ellipse cx="149.6" cy="43.6" rx="2.3" ry="1.7" transform="rotate(165 149.6 43.6)" fill="#211dd1"/><ellipse cx="147.8" cy="106.3" rx="2.3" ry="1.7" transform="rotate(155 147.8 106.3)" fill="#150dad"/><ellipse cx="235.0" cy="117.6" rx="2.4" ry="1.7" transform="rotate(137 235.0 117.6)" fill="#2b1bd6"/><ellipse cx="252.6" cy="122.6" rx="2.0" ry="1.6" transform="rotate(20 252.6 122.6)" fill="#1815a1"/><ellipse cx="172.4" cy="92.9" rx="2.0" ry="1.6" transform="rotate(119 172.4 92.9)" fill="#2113ea"/><ellipse cx="148.2" cy="130.4" rx="2.0" ry="1.8" transform="rotate(146 148.2 130.4)" fill="#0d0786"/><ellipse cx="249.5" cy="127.6" rx="2.5" ry="2.0" transform="rotate(85 249.5 127.6)" fill="#1c0eaa"/><ellipse cx="148.4" cy="66.1" rx="2.7" ry="2.1" transform="rotate(126 148.4 66.1)" fill="#1d18a3"/><ellipse cx="163.3" cy="109.2" rx="2.6" ry="2.2" transform="rotate(20 163.3 109.2)" fill="#1a14be"/><ellipse cx="196.2" cy="119.5" rx="2.7" ry="2.1" transform="rotate(39 196.2 119.5)" fill="#2c1be9"/><ellipse cx="142.2" cy="148.7" rx="2.3" ry="1.9" transform="rotate(29 142.2 148.7)" fill="#180d87"/><ellipse cx="204.7" cy="47.1" rx="2.8" ry="2.7" transform="rotate(131 204.7 47.1)" fill="#2413bc"/><ellipse cx="242.5" cy="160.7" rx="1.8" ry="1.5" transform="rotate(41 242.5 160.7)" fill="#1c158e"/><ellipse cx="194.5" cy="149.9" rx="2.0" ry="1.9" transform="rotate(60 194.5 149.9)" fill="#0e097e"/><ellipse cx="243.0" cy="45.8" rx="2.6" ry="1.6" transform="rotate(126 243.0 45.8)" fill="#1913bf"/><ellipse cx="137.2" cy="68.4" rx="2.9" ry="2.3" transform="rotate(174 137.2 68.4)" fill="#171279"/><ellipse cx="155.3" cy="54.3" rx="2.8" ry="2.2" transform="rotate(110 155.3 54.3)" fill="#160f9c"/><ellipse cx="174.4" cy="143.0" rx="2.7" ry="2.5" transform="rotate(39 174.4 143.0)" fill="#231dbd"/><ellipse cx="157.9" cy="129.2" rx="2.2" ry="1.5" transform="rotate(39 157.9 129.2)" fill="#2115d6"/><ellipse cx="188.3" cy="120.4" rx="2.6" ry="2.3" transform="rotate(127 188.3 120.4)" fill="#1b11de"/><ellipse cx="220.2" cy="124.6" rx="2.2" ry="1.8" transform="rotate(27 220.2 124.6)" fill="#1a12a7"/><ellipse cx="227.2" cy="67.5" rx="2.6" ry="1.9" transform="rotate(146 227.2 67.5)" fill="#120b90"/><ellipse cx="141.6" cy="78.0" rx="2.5" ry="2.2" transform="rotate(56 141.6 78.0)" fill="#180e78"/><ellipse cx="228.0" cy="60.1" rx="2.4" ry="1.9" transform="rotate(161 228.0 60.1)" fill="#1612a3"/><ellipse cx="227.1" cy="127.1" rx="2.7" ry="2.0" transform="rotate(121 227.1 127.1)" fill="#1c0fe7"/><ellipse cx="179.0" cy="106.2" rx="2.0" ry="1.3" transform="rotate(155 179.0 106.2)" fill="#1d0fdb"/><ellipse cx="218.8" cy="147.3" rx="2.0" ry="1.6" transform="rotate(34 218.8 147.3)" fill="#2715f8"/><ellipse cx="252.1" cy="151.0" rx="2.3" ry="2.1" transform="rotate(116 252.1 151.0)" fill="#180e92"/><ellipse cx="226.4" cy="81.0" rx="2.6" ry="1.8" transform="rotate(103 226.4 81.0)" fill="#1e14d0"/><ellipse cx="134.4" cy="122.8" rx="2.6" ry="1.7" transform="rotate(99 134.4 122.8)" fill="#0f0a91"/><ellipse cx="241.4" cy="67.5" rx="2.0" ry="1.4" transform="rotate(150 241.4 67.5)" fill="#1d11bb"/><ellipse cx="164.6" cy="100.2" rx="2.2" ry="1.9" transform="rotate(130 164.6 100.2)" fill="#1c1795"/><ellipse cx="140.7" cy="136.0" rx="2.3" ry="1.8" transform="rotate(4 140.7 136.0)" fill="#160bb1"/><ellipse cx="223.3" cy="94.1" rx="2.8" ry="2.1" transform="rotate(56 223.3 94.1)" fill="#18138a"/><ellipse cx="222.2" cy="126.9" rx="2.4" ry="1.9" transform="rotate(136 222.2 126.9)" fill="#170fbe"/><ellipse cx="240.6" cy="93.6" rx="2.5" ry="2.0" transform="rotate(83 240.6 93.6)" fill="#271bb6"/><ellipse cx="141.2" cy="127.9" rx="2.8" ry="2.1" transform="rotate(1 141.2 127.9)" fill="#2018ba"/><ellipse cx="234.4" cy="101.3" rx="1.9" ry="1.4" transform="rotate(128 234.4 101.3)" fill="#140dac"/><ellipse cx="126.3" cy="79.7" rx="2.2" ry="1.9" transform="rotate(93 126.3 79.7)" fill="#190db3"/><ellipse cx="212.2" cy="78.6" rx="2.7" ry="1.9" transform="rotate(98 212.2 78.6)" fill="#120ea1"/><ellipse cx="134.8" cy="159.1" rx="1.8" ry="1.6" transform="rotate(66 134.8 159.1)" fill="#1c15a5"/><ellipse cx="221.2" cy="154.0" rx="1.9" ry="1.5" transform="rotate(87 221.2 154.0)" fill="#2216e9"/><ellipse cx="155.3" cy="163.1" rx="2.2" ry="1.8" transform="rotate(149 155.3 163.1)" fill="#2319dc"/><ellipse cx="233.3" cy="115.7" rx="2.5" ry="1.7" transform="rotate(166 233.3 115.7)" fill="#18139f"/><ellipse cx="161.5" cy="61.9" rx="2.4" ry="1.8" transform="rotate(168 161.5 61.9)" fill="#140ab4"/><ellipse cx="136.5" cy="119.1" rx="2.5" ry="2.2" transform="rotate(163 136.5 119.1)" fill="#2a16e8"/><ellipse cx="244.8" cy="56.5" rx="2.1" ry="1.8" transform="rotate(3 244.8 56.5)" fill="#1f19d8"/><ellipse cx="137.4" cy="46.4" rx="2.4" ry="1.9" transform="rotate(146 137.4 46.4)" fill="#1d0fa9"/><ellipse cx="163.2" cy="163.1" rx="2.3" ry="1.8" transform="rotate(56 163.2 163.1)" fill="#161384"/><ellipse cx="195.8" cy="124.4" rx="2.1" ry="1.3" transform="rotate(20 195.8 124.4)" fill="#1812e5"/><ellipse cx="201.6" cy="132.4" rx="2.1" ry="1.6" transform="rotate(33 201.6 132.4)" fill="#170fe7"/><ellipse cx="167.8" cy="111.3" rx="2.5" ry="1.9" transform="rotate(16 167.8 111.3)" fill="#2817fc"/><ellipse cx="140.8" cy="106.1" rx="2.4" ry="2.0" transform="rotate(67 140.8 106.1)" fill="#2f21e1"/><ellipse cx="202.5" cy="117.2" rx="2.1" ry="1.6" transform="rotate(83 202.5 117.2)" fill="#130dac"/><ellipse cx="142.5" cy="143.4" rx="1.8" ry="1.3" transform="rotate(126 142.5 143.4)" fill="#1b14d4"/><ellipse cx="150.9" cy="100.4" rx="2.6" ry="1.6" transform="rotate(118 150.9 100.4)" fill="#110c92"/><ellipse cx="194.0" cy="95.0" rx="2.8" ry="2.6" transform="rotate(70 194.0 95.0)" fill="#1c15e4"/><ellipse cx="198.2" cy="164.0" rx="2.1" ry="1.8" transform="rotate(71 198.2 164.0)" fill="#1b17dd"/><ellipse cx="250.1" cy="139.4" rx="2.9" ry="2.2" transform="rotate(151 250.1 139.4)" fill="#2010b5"/><ellipse cx="197.8" cy="64.4" rx="2.2" ry="1.9" transform="rotate(160 197.8 64.4)" fill="#2517ed"/><ellipse cx="173.4" cy="142.1" rx="2.7" ry="2.4" transform="rotate(120 173.4 142.1)" fill="#120fa3"/><ellipse cx="194.2" cy="102.3" rx="2.8" ry="2.2" transform="rotate(25 194.2 102.3)" fill="#261fb1"/><ellipse cx="250.8" cy="78.8" rx="1.9" ry="1.3" transform="rotate(165 250.8 78.8)" fill="#1d13e7"/><ellipse cx="182.7" cy="121.3" rx="2.7" ry="1.7" transform="rotate(170 182.7 121.3)" fill="#1d0edf"/><ellipse cx="138.8" cy="131.0" rx="2.4" ry="1.9" transform="rotate(44 138.8 131.0)" fill="#180cc1"/><ellipse cx="199.8" cy="47.0" rx="2.7" ry="2.4" transform="rotate(106 199.8 47.0)" fill="#2821f4"/><ellipse cx="145.9" cy="109.9" rx="2.1" ry="1.5" transform="rotate(34 145.9 109.9)" fill="#231ecd"/><ellipse cx="230.5" cy="113.3" rx="2.2" ry="2.0" transform="rotate(66 230.5 113.3)" fill="#0f0992"/><ellipse cx="221.6" cy="159.9" rx="2.1" ry="1.5" transform="rotate(77 221.6 159.9)" fill="#261afe"/><ellipse cx="223.7" cy="82.4" rx="1.9" ry="1.6" transform="rotate(145 223.7 82.4)" fill="#221ab7"/><ellipse cx="216.8" cy="69.0" rx="2.0" ry="1.7" transform="rotate(33 216.8 69.0)" fill="#2d1ecd"/><ellipse cx="228.0" cy="121.3" rx="2.0" ry="1.9" transform="rotate(31 228.0 121.3)" fill="#0f078b"/><ellipse cx="239.6" cy="135.2" rx="2.4" ry="1.5" transform="rotate(41 239.6 135.2)" fill="#1e169b"/><ellipse cx="156.6" cy="80.8" rx="2.3" ry="1.7" transform="rotate(116 156.6 80.8)" fill="#190cf9"/><ellipse cx="227.3" cy="96.5" rx="2.0" ry="1.9" transform="rotate(4 227.3 96.5)" fill="#1b1686"/><ellipse cx="189.0" cy="104.1" rx="2.2" ry="1.4" transform="rotate(68 189.0 104.1)" fill="#140dc8"/><ellipse cx="159.6" cy="120.0" rx="1.9" ry="1.5" transform="rotate(67 159.6 120.0)" fill="#1b14f5"/><ellipse cx="190.0" cy="96.6" rx="2.4" ry="1.4" transform="rotate(131 190.0 96.6)" fill="#312bf0"/><ellipse cx="223.5" cy="48.7" rx="2.8" ry="2.3" transform="rotate(49 223.5 48.7)" fill="#171378"/><ellipse cx="157.8" cy="114.5" rx="2.2" ry="1.6" transform="rotate(137 157.8 114.5)" fill="#120c85"/><ellipse cx="245.4" cy="113.3" rx="2.8" ry="2.2" transform="rotate(178 245.4 113.3)" fill="#13107f"/><ellipse cx="207.6" cy="115.0" rx="2.0" ry="1.7" transform="rotate(54 207.6 115.0)" fill="#181583"/><ellipse cx="127.8" cy="82.7" rx="2.8" ry="1.7" transform="rotate(142 127.8 82.7)" fill="#1a0e7f"/><ellipse cx="159.8" cy="133.9" rx="2.7" ry="2.3" transform="rotate(129 159.8 133.9)" fill="#2313cb"/><ellipse cx="229.6" cy="144.6" rx="1.9" ry="1.4" transform="rotate(159 229.6 144.6)" fill="#1810d0"/><ellipse cx="234.6" cy="162.3" rx="2.1" ry="1.5" transform="rotate(95 234.6 162.3)" fill="#1a0ef6"/><ellipse cx="233.8" cy="43.1" rx="2.7" ry="2.3" transform="rotate(134 233.8 43.1)" fill="#1c0fcb"/><ellipse cx="143.2" cy="80.6" rx="2.6" ry="2.1" transform="rotate(21 143.2 80.6)" fill="#2615ed"/><ellipse cx="231.5" cy="144.8" rx="2.0" ry="1.9" transform="rotate(145 231.5 144.8)" fill="#2513b2"/><ellipse cx="243.4" cy="75.0" rx="2.8" ry="1.9" transform="rotate(78 243.4 75.0)" fill="#322cfd"/><ellipse cx="168.2" cy="146.4" rx="2.8" ry="2.0" transform="rotate(123 168.2 146.4)" fill="#1f169d"/><ellipse cx="161.4" cy="74.2" rx="2.4" ry="1.6" transform="rotate(154 161.4 74.2)" fill="#140f9e"/><ellipse cx="212.6" cy="58.1" rx="2.7" ry="2.3" transform="rotate(55 212.6 58.1)" fill="#1b1791"/><ellipse cx="213.2" cy="143.0" rx="2.4" ry="1.8" transform="rotate(16 213.2 143.0)" fill="#2d19de"/><ellipse cx="135.4" cy="136.4" rx="1.9" ry="1.6" transform="rotate(15 135.4 136.4)" fill="#1c0eb7"/><ellipse cx="247.3" cy="120.6" rx="1.9" ry="1.4" transform="rotate(36 247.3 120.6)" fill="#2a22e7"/><ellipse cx="194.4" cy="129.7" rx="1.9" ry="1.4" transform="rotate(52 194.4 129.7)" fill="#190dc0"/><ellipse cx="182.2" cy="98.1" rx="2.0" ry="1.8" transform="rotate(143 182.2 98.1)" fill="#1c18c5"/><ellipse cx="246.8" cy="98.8" rx="2.4" ry="2.2" transform="rotate(46 246.8 98.8)" fill="#1b10ba"/><ellipse cx="216.1" cy="122.5" rx="2.4" ry="1.6" transform="rotate(1 216.1 122.5)" fill="#2b26d9"/><ellipse cx="170.1" cy="122.5" rx="2.4" ry="2.1" transform="rotate(15 170.1 122.5)" fill="#2718dc"/><ellipse cx="192.2" cy="78.7" rx="2.3" ry="1.7" transform="rotate(164 192.2 78.7)" fill="#291ef2"/><ellipse cx="148.3" cy="74.5" rx="2.4" ry="1.4" transform="rotate(127 148.3 74.5)" fill="#100b7e"/><ellipse cx="189.9" cy="151.7" rx="2.8" ry="2.1" transform="rotate(3 189.9 151.7)" fill="#2a20e1"/><ellipse cx="213.8" cy="54.5" rx="2.5" ry="2.4" transform="rotate(55 213.8 54.5)" fill="#1912ab"/><ellipse cx="240.5" cy="160.2" rx="2.5" ry="1.8" transform="rotate(19 240.5 160.2)" fill="#120989"/><ellipse cx="222.4" cy="137.3" rx="2.8" ry="2.4" transform="rotate(102 222.4 137.3)" fill="#140fa3"/><ellipse cx="191.2" cy="165.8" rx="2.2" ry="1.6" transform="rotate(179 191.2 165.8)" fill="#1810ea"/><ellipse cx="191.7" cy="125.0" rx="2.7" ry="1.7" transform="rotate(53 191.7 125.0)" fill="#1c108c"/><ellipse cx="226.3" cy="97.8" rx="2.4" ry="1.9" transform="rotate(7 226.3 97.8)" fill="#100988"/><ellipse cx="137.9" cy="61.9" rx="2.4" ry="2.1" transform="rotate(65 137.9 61.9)" fill="#19139c"/><ellipse cx="154.9" cy="48.4" rx="2.3" ry="1.4" transform="rotate(132 154.9 48.4)" fill="#1b18bf"/><ellipse cx="160.3" cy="101.0" rx="2.0" ry="1.7" transform="rotate(170 160.3 101.0)" fill="#2715d0"/><ellipse cx="217.9" cy="143.7" rx="2.6" ry="1.6" transform="rotate(54 217.9 143.7)" fill="#261bd4"/><ellipse cx="208.1" cy="55.4" rx="2.2" ry="1.5" transform="rotate(151 208.1 55.4)" fill="#0c097b"/><ellipse cx="181.4" cy="121.4" rx="2.2" ry="1.7" transform="rotate(103 181.4 121.4)" fill="#1712b0"/><ellipse cx="171.0" cy="137.3" rx="2.4" ry="2.2" transform="rotate(177 171.0 137.3)" fill="#1713d8"/><ellipse cx="200.0" cy="136.3" rx="2.4" ry="2.1" transform="rotate(113 200.0 136.3)" fill="#1f14c8"/><ellipse cx="209.4" cy="117.2" rx="2.0" ry="1.9" transform="rotate(84 209.4 117.2)" fill="#1813af"/><ellipse cx="215.4" cy="79.2" rx="2.6" ry="1.7" transform="rotate(136 215.4 79.2)" fill="#1710ac"/><ellipse cx="149.6" cy="155.6" rx="2.9" ry="2.1" transform="rotate(4 149.6 155.6)" fill="#1b15c3"/><ellipse cx="200.3" cy="64.4" rx="2.6" ry="1.7" transform="rotate(135 200.3 64.4)" fill="#21149d"/><ellipse cx="223.7" cy="94.3" rx="2.5" ry="1.9" transform="rotate(160 223.7 94.3)" fill="#1b17cf"/><ellipse cx="249.0" cy="44.6" rx="2.2" ry="1.5" transform="rotate(35 249.0 44.6)" fill="#1e13e6"/><ellipse cx="219.8" cy="123.2" rx="2.1" ry="1.6" transform="rotate(171 219.8 123.2)" fill="#130a9b"/><ellipse cx="173.2" cy="57.8" rx="2.0" ry="1.4" transform="rotate(104 173.2 57.8)" fill="#2517ea"/><ellipse cx="192.5" cy="144.8" rx="1.8" ry="1.4" transform="rotate(112 192.5 144.8)" fill="#1f15bb"/><ellipse cx="168.4" cy="59.6" rx="2.8" ry="2.3" transform="rotate(17 168.4 59.6)" fill="#2512b7"/><ellipse cx="216.1" cy="72.5" rx="2.4" ry="2.1" transform="rotate(63 216.1 72.5)" fill="#2312f7"/><ellipse cx="211.5" cy="71.6" rx="2.4" ry="1.8" transform="rotate(8 211.5 71.6)" fill="#150ccf"/><ellipse cx="141.1" cy="61.5" rx="2.4" ry="1.6" transform="rotate(143 141.1 61.5)" fill="#170c90"/><ellipse cx="174.4" cy="80.6" rx="2.4" ry="1.8" transform="rotate(14 174.4 80.6)" fill="#2216f2"/><ellipse cx="249.1" cy="85.6" rx="2.9" ry="2.6" transform="rotate(36 249.1 85.6)" fill="#341cf8"/><ellipse cx="235.2" cy="139.0" rx="2.6" ry="2.1" transform="rotate(17 235.2 139.0)" fill="#110d9e"/><ellipse cx="219.0" cy="82.4" rx="2.6" ry="1.9" transform="rotate(135 219.0 82.4)" fill="#110c83"/><ellipse cx="229.6" cy="100.4" rx="2.1" ry="1.5" transform="rotate(146 229.6 100.4)" fill="#0f087e"/><ellipse cx="152.3" cy="85.7" rx="2.4" ry="1.6" transform="rotate(130 152.3 85.7)" fill="#1d0f88"/><ellipse cx="216.5" cy="133.2" rx="2.5" ry="1.5" transform="rotate(166 216.5 133.2)" fill="#3125e8"/><ellipse cx="158.6" cy="156.6" rx="2.3" ry="1.8" transform="rotate(95 158.6 156.6)" fill="#1512bd"/><ellipse cx="221.1" cy="69.0" rx="2.0" ry="1.8" transform="rotate(119 221.1 69.0)" fill="#150dbd"/><ellipse cx="247.7" cy="43.4" rx="2.3" ry="1.4" transform="rotate(179 247.7 43.4)" fill="#171092"/><ellipse cx="235.1" cy="151.2" rx="2.2" ry="1.5" transform="rotate(138 235.1 151.2)" fill="#130da4"/><ellipse cx="229.1" cy="59.3" rx="2.8" ry="2.1" transform="rotate(47 229.1 59.3)" fill="#1411b5"/><ellipse cx="172.8" cy="55.1" rx="2.7" ry="2.2" transform="rotate(32 172.8 55.1)" fill="#1f0ffc"/><ellipse cx="168.2" cy="81.8" rx="1.9" ry="1.4" transform="rotate(6 168.2 81.8)" fill="#2620f2"/><ellipse cx="215.7" cy="133.5" rx="2.6" ry="1.9" transform="rotate(131 215.7 133.5)" fill="#140fac"/><ellipse cx="185.6" cy="101.3" rx="1.8" ry="1.5" transform="rotate(37 185.6 101.3)" fill="#2c18cd"/><ellipse cx="153.0" cy="56.2" rx="2.6" ry="2.2" transform="rotate(116 153.0 56.2)" fill="#2a17fc"/><ellipse cx="214.0" cy="48.9" rx="2.1" ry="1.3" transform="rotate(103 214.0 48.9)" fill="#2614e3"/><ellipse cx="180.8" cy="95.2" rx="2.3" ry="1.8" transform="rotate(65 180.8 95.2)" fill="#190fdc"/><ellipse cx="164.3" cy="118.5" rx="2.3" ry="1.6" transform="rotate(20 164.3 118.5)" fill="#251bf6"/><ellipse cx="173.2" cy="72.7" rx="1.8" ry="1.6" transform="rotate(169 173.2 72.7)" fill="#271ec1"/><ellipse cx="243.0" cy="155.7" rx="2.1" ry="1.7" transform="rotate(80 243.0 155.7)" fill="#2413f0"/><ellipse cx="149.9" cy="143.2" rx="2.7" ry="1.9" transform="rotate(62 149.9 143.2)" fill="#312bed"/><ellipse cx="180.6" cy="69.8" rx="2.6" ry="2.0" transform="rotate(104 180.6 69.8)" fill="#110c99"/><ellipse cx="180.1" cy="73.9" rx="2.8" ry="2.4" transform="rotate(21 180.1 73.9)" fill="#1b0fb2"/><ellipse cx="240.9" cy="54.2" rx="2.5" ry="2.2" transform="rotate(131 240.9 54.2)" fill="#231efc"/><ellipse cx="248.4" cy="83.6" rx="2.5" ry="1.6" transform="rotate(73 248.4 83.6)" fill="#1c11a4"/><ellipse cx="130.4" cy="58.4" rx="2.4" ry="1.6" transform="rotate(55 130.4 58.4)" fill="#20169e"/><ellipse cx="158.7" cy="115.7" rx="2.1" ry="1.8" transform="rotate(28 158.7 115.7)" fill="#2213bb"/><ellipse cx="204.2" cy="115.8" rx="2.3" ry="2.1" transform="rotate(130 204.2 115.8)" fill="#1813a4"/><ellipse cx="177.9" cy="101.9" rx="2.2" ry="1.9" transform="rotate(162 177.9 101.9)" fill="#2d22e4"/><ellipse cx="148.7" cy="156.6" rx="2.2" ry="1.5" transform="rotate(176 148.7 156.6)" fill="#110e9a"/><ellipse cx="254.4" cy="144.5" rx="2.4" ry="1.9" transform="rotate(24 254.4 144.5)" fill="#2c23ce"/><ellipse cx="160.1" cy="126.5" rx="2.6" ry="1.7" transform="rotate(173 160.1 126.5)" fill="#110e8f"/><ellipse cx="196.7" cy="83.5" rx="2.1" ry="1.5" transform="rotate(50 196.7 83.5)" fill="#251cd0"/><ellipse cx="133.0" cy="135.4" rx="2.4" ry="2.0" transform="rotate(103 133.0 135.4)" fill="#0e087d"/><ellipse cx="193.9" cy="144.9" rx="2.4" ry="1.8" transform="rotate(43 193.9 144.9)" fill="#1f1acf"/><ellipse cx="165.3" cy="165.9" rx="2.6" ry="2.0" transform="rotate(140 165.3 165.9)" fill="#241cc4"/><ellipse cx="248.4" cy="148.7" rx="2.5" ry="2.1" transform="rotate(58 248.4 148.7)" fill="#190dbe"/><ellipse cx="252.6" cy="48.4" rx="2.5" ry="1.8" transform="rotate(33 252.6 48.4)" fill="#2013e7"/><ellipse cx="206.4" cy="150.3" rx="2.9" ry="2.2" transform="rotate(53 206.4 150.3)" fill="#180c94"/><ellipse cx="173.3" cy="106.7" rx="1.9" ry="1.8" transform="rotate(75 173.3 106.7)" fill="#1c12ef"/><ellipse cx="137.1" cy="123.6" rx="2.7" ry="1.7" transform="rotate(10 137.1 123.6)" fill="#130ba7"/><ellipse cx="235.4" cy="128.4" rx="1.9" ry="1.6" transform="rotate(142 235.4 128.4)" fill="#271be0"/><ellipse cx="164.0" cy="64.8" rx="2.3" ry="1.7" transform="rotate(32 164.0 64.8)" fill="#1c14c5"/><ellipse cx="197.0" cy="93.1" rx="2.7" ry="1.7" transform="rotate(59 197.0 93.1)" fill="#3029ec"/><ellipse cx="224.4" cy="109.4" rx="2.7" ry="2.1" transform="rotate(21 224.4 109.4)" fill="#2011b9"/><ellipse cx="168.2" cy="150.1" rx="1.8" ry="1.2" transform="rotate(32 168.2 150.1)" fill="#2c25e3"/><ellipse cx="166.8" cy="61.0" rx="2.6" ry="2.2" transform="rotate(66 166.8 61.0)" fill="#241fcf"/><ellipse cx="184.8" cy="123.9" rx="1.8" ry="1.3" transform="rotate(127 184.8 123.9)" fill="#1b1791"/><ellipse cx="171.4" cy="129.0" rx="2.2" ry="2.0" transform="rotate(136 171.4 129.0)" fill="#2011d4"/><ellipse cx="135.0" cy="150.6" rx="2.5" ry="2.1" transform="rotate(118 135.0 150.6)" fill="#1813e6"/><ellipse cx="194.0" cy="111.7" rx="2.4" ry="1.8" transform="rotate(100 194.0 111.7)" fill="#10098f"/><ellipse cx="213.4" cy="161.3" rx="2.3" ry="1.9" transform="rotate(149 213.4 161.3)" fill="#190d78"/><ellipse cx="127.4" cy="72.4" rx="2.7" ry="1.7" transform="rotate(95 127.4 72.4)" fill="#120c9e"/><ellipse cx="241.8" cy="135.7" rx="2.2" ry="1.7" transform="rotate(50 241.8 135.7)" fill="#2013b3"/><ellipse cx="220.1" cy="103.4" rx="2.7" ry="1.9" transform="rotate(158 220.1 103.4)" fill="#1b13eb"/><ellipse cx="211.0" cy="84.1" rx="2.5" ry="2.1" transform="rotate(174 211.0 84.1)" fill="#281cf5"/><ellipse cx="127.2" cy="102.3" rx="2.7" ry="2.0" transform="rotate(102 127.2 102.3)" fill="#160b7f"/><ellipse cx="141.8" cy="52.5" rx="2.4" ry="1.7" transform="rotate(46 141.8 52.5)" fill="#291bea"/><ellipse cx="195.3" cy="147.8" rx="2.8" ry="2.3" transform="rotate(95 195.3 147.8)" fill="#201ad0"/><ellipse cx="252.8" cy="70.0" rx="2.3" ry="1.7" transform="rotate(91 252.8 70.0)" fill="#191598"/><ellipse cx="211.7" cy="68.9" rx="2.1" ry="1.4" transform="rotate(61 211.7 68.9)" fill="#1d0fde"/><ellipse cx="193.9" cy="80.3" rx="2.5" ry="2.0" transform="rotate(107 193.9 80.3)" fill="#251ac4"/><ellipse cx="207.2" cy="64.1" rx="2.3" ry="2.1" transform="rotate(72 207.2 64.1)" fill="#161090"/><ellipse cx="149.9" cy="149.6" rx="2.8" ry="2.5" transform="rotate(146 149.9 149.6)" fill="#321df5"/><ellipse cx="173.5" cy="118.8" rx="2.5" ry="1.8" transform="rotate(104 173.5 118.8)" fill="#1e18d1"/><ellipse cx="247.6" cy="152.6" rx="2.2" ry="1.8" transform="rotate(146 247.6 152.6)" fill="#120f9c"/><ellipse cx="201.8" cy="145.4" rx="1.9" ry="1.5" transform="rotate(131 201.8 145.4)" fill="#2514b0"/><ellipse cx="174.0" cy="166.8" rx="2.4" ry="2.2" transform="rotate(45 174.0 166.8)" fill="#0d097e"/><ellipse cx="215.5" cy="122.5" rx="1.9" ry="1.5" transform="rotate(127 215.5 122.5)" fill="#2c1ad9"/><ellipse cx="231.6" cy="45.3" rx="2.3" ry="2.1" transform="rotate(45 231.6 45.3)" fill="#160bd6"/><ellipse cx="197.0" cy="108.6" rx="2.3" ry="1.9" transform="rotate(60 197.0 108.6)" fill="#1a0eb9"/><ellipse cx="136.0" cy="166.7" rx="2.7" ry="2.0" transform="rotate(143 136.0 166.7)" fill="#2218a5"/><ellipse cx="161.4" cy="107.3" rx="2.9" ry="2.5" transform="rotate(120 161.4 107.3)" fill="#1b13b8"/><ellipse cx="235.1" cy="67.7" rx="2.7" ry="1.7" transform="rotate(96 235.1 67.7)" fill="#0f0d86"/><ellipse cx="182.5" cy="65.9" rx="2.3" ry="1.8" transform="rotate(77 182.5 65.9)" fill="#151178"/><ellipse cx="196.1" cy="58.9" rx="2.3" ry="1.8" transform="rotate(122 196.1 58.9)" fill="#1e1aa4"/><ellipse cx="129.5" cy="147.9" rx="2.2" ry="1.3" transform="rotate(47 129.5 147.9)" fill="#1e1ab5"/><ellipse cx="152.9" cy="52.3" rx="2.6" ry="1.6" transform="rotate(40 152.9 52.3)" fill="#2715e8"/><ellipse cx="181.9" cy="166.4" rx="2.8" ry="2.5" transform="rotate(84 181.9 166.4)" fill="#1612a0"/><ellipse cx="149.7" cy="55.6" rx="2.5" ry="1.9" transform="rotate(165 149.7 55.6)" fill="#0f0892"/><ellipse cx="228.3" cy="148.8" rx="1.9" ry="1.6" transform="rotate(74 228.3 148.8)" fill="#2212f0"/><ellipse cx="237.2" cy="104.5" rx="2.8" ry="2.0" transform="rotate(17 237.2 104.5)" fill="#160ca0"/><ellipse cx="207.1" cy="134.6" rx="2.1" ry="1.7" transform="rotate(179 207.1 134.6)" fill="#2318dc"/><ellipse cx="195.3" cy="140.7" rx="2.0" ry="1.3" transform="rotate(150 195.3 140.7)" fill="#150dcc"/><ellipse cx="187.3" cy="135.4" rx="2.5" ry="2.3" transform="rotate(120 187.3 135.4)" fill="#110c78"/><ellipse cx="193.0" cy="66.3" rx="2.9" ry="2.7" transform="rotate(22 193.0 66.3)" fill="#1f1bd0"/><ellipse cx="172.0" cy="119.9" rx="2.4" ry="1.7" transform="rotate(140 172.0 119.9)" fill="#191679"/><ellipse cx="221.7" cy="147.8" rx="1.9" ry="1.6" transform="rotate(2 221.7 147.8)" fill="#0f0d93"/><ellipse cx="251.3" cy="146.6" rx="2.6" ry="1.9" transform="rotate(150 251.3 146.6)" fill="#1a147c"/><ellipse cx="216.0" cy="60.6" rx="1.8" ry="1.6" transform="rotate(121 216.0 60.6)" fill="#2013ee"/><ellipse cx="244.4" cy="109.0" rx="1.8" ry="1.3" transform="rotate(62 244.4 109.0)" fill="#1a0d89"/><ellipse cx="182.8" cy="140.4" rx="2.4" ry="2.1" transform="rotate(142 182.8 140.4)" fill="#2f26f2"/><ellipse cx="227.8" cy="58.0" rx="1.8" ry="1.1" transform="rotate(151 227.8 58.0)" fill="#3623fc"/><ellipse cx="154.5" cy="128.1" rx="2.5" ry="2.1" transform="rotate(93 154.5 128.1)" fill="#231ca2"/><ellipse cx="245.2" cy="162.5" rx="1.9" ry="1.6" transform="rotate(40 245.2 162.5)" fill="#2c1ccb"/><ellipse cx="236.6" cy="85.9" rx="2.5" ry="2.0" transform="rotate(148 236.6 85.9)" fill="#1f15aa"/><ellipse cx="224.7" cy="84.7" rx="2.3" ry="1.9" transform="rotate(126 224.7 84.7)" fill="#1814b3"/><ellipse cx="220.8" cy="114.1" rx="2.2" ry="1.8" transform="rotate(13 220.8 114.1)" fill="#100b90"/><ellipse cx="188.5" cy="150.1" rx="1.9" ry="1.6" transform="rotate(5 188.5 150.1)" fill="#181381"/><ellipse cx="205.6" cy="71.2" rx="2.4" ry="1.8" transform="rotate(48 205.6 71.2)" fill="#1b119e"/><ellipse cx="184.8" cy="166.8" rx="2.3" ry="2.1" transform="rotate(83 184.8 166.8)" fill="#180ec5"/><ellipse cx="164.8" cy="155.2" rx="2.5" ry="2.0" transform="rotate(142 164.8 155.2)" fill="#251dd5"/><ellipse cx="195.7" cy="133.6" rx="1.9" ry="1.8" transform="rotate(132 195.7 133.6)" fill="#1e1099"/><ellipse cx="146.6" cy="110.2" rx="2.2" ry="2.0" transform="rotate(87 146.6 110.2)" fill="#211bba"/><ellipse cx="143.3" cy="75.6" rx="2.2" ry="1.4" transform="rotate(90 143.3 75.6)" fill="#2519c7"/><ellipse cx="126.4" cy="71.9" rx="2.8" ry="2.1" transform="rotate(36 126.4 71.9)" fill="#321bf3"/><ellipse cx="190.4" cy="112.6" rx="1.9" ry="1.4" transform="rotate(111 190.4 112.6)" fill="#1d15a8"/><ellipse cx="174.6" cy="51.5" rx="1.8" ry="1.6" transform="rotate(155 174.6 51.5)" fill="#1510c4"/><ellipse cx="148.1" cy="85.9" rx="2.0" ry="1.8" transform="rotate(147 148.1 85.9)" fill="#1c10d9"/><ellipse cx="178.1" cy="57.4" rx="2.3" ry="1.6" transform="rotate(73 178.1 57.4)" fill="#2c19e4"/><ellipse cx="143.5" cy="77.5" rx="2.5" ry="2.1" transform="rotate(94 143.5 77.5)" fill="#1b17ad"/><ellipse cx="152.6" cy="65.9" rx="2.2" ry="1.7" transform="rotate(124 152.6 65.9)" fill="#2312c9"/><ellipse cx="154.2" cy="116.4" rx="2.4" ry="1.5" transform="rotate(16 154.2 116.4)" fill="#0f098c"/><ellipse cx="246.3" cy="95.2" rx="2.9" ry="2.1" transform="rotate(131 246.3 95.2)" fill="#2622e4"/><ellipse cx="215.1" cy="63.1" rx="2.5" ry="2.3" transform="rotate(144 215.1 63.1)" fill="#1c1683"/><ellipse cx="153.8" cy="113.5" rx="2.3" ry="1.6" transform="rotate(140 153.8 113.5)" fill="#2111b0"/><ellipse cx="227.1" cy="94.2" rx="2.1" ry="1.5" transform="rotate(174 227.1 94.2)" fill="#2d1be7"/><ellipse cx="212.1" cy="104.4" rx="2.8" ry="2.1" transform="rotate(64 212.1 104.4)" fill="#160c7e"/><ellipse cx="233.3" cy="80.0" rx="2.3" ry="1.5" transform="rotate(158 233.3 80.0)" fill="#2316e8"/><ellipse cx="190.3" cy="108.7" rx="2.2" ry="1.4" transform="rotate(3 190.3 108.7)" fill="#1e128e"/><ellipse cx="171.2" cy="82.6" rx="2.6" ry="2.0" transform="rotate(143 171.2 82.6)" fill="#0e0c79"/><ellipse cx="242.5" cy="70.9" rx="2.2" ry="1.4" transform="rotate(101 242.5 70.9)" fill="#3628fc"/><ellipse cx="202.5" cy="145.7" rx="2.2" ry="1.3" transform="rotate(172 202.5 145.7)" fill="#1c1189"/><ellipse cx="179.6" cy="103.8" rx="2.2" ry="1.7" transform="rotate(36 179.6 103.8)" fill="#341efc"/><ellipse cx="160.8" cy="103.4" rx="2.9" ry="1.8" transform="rotate(37 160.8 103.4)" fill="#1e158b"/><ellipse cx="214.7" cy="74.7" rx="1.9" ry="1.6" transform="rotate(18 214.7 74.7)" fill="#3021f6"/><ellipse cx="240.6" cy="102.3" rx="2.1" ry="1.4" transform="rotate(89 240.6 102.3)" fill="#1a1484"/><ellipse cx="151.9" cy="104.7" rx="2.5" ry="1.7" transform="rotate(47 151.9 104.7)" fill="#0d0779"/><ellipse cx="244.5" cy="132.7" rx="2.4" ry="1.9" transform="rotate(154 244.5 132.7)" fill="#2111c2"/><ellipse cx="238.1" cy="63.4" rx="2.1" ry="1.3" transform="rotate(92 238.1 63.4)" fill="#1b0ded"/><ellipse cx="152.9" cy="140.6" rx="2.2" ry="1.5" transform="rotate(167 152.9 140.6)" fill="#1c1985"/><ellipse cx="134.9" cy="91.2" rx="2.3" ry="1.6" transform="rotate(133 134.9 91.2)" fill="#110b95"/><ellipse cx="250.4" cy="153.2" rx="2.3" ry="1.5" transform="rotate(82 250.4 153.2)" fill="#2414fc"/><ellipse cx="145.7" cy="161.4" rx="2.2" ry="2.0" transform="rotate(86 145.7 161.4)" fill="#191088"/><ellipse cx="245.0" cy="70.7" rx="2.8" ry="1.9" transform="rotate(8 245.0 70.7)" fill="#19148e"/><ellipse cx="250.1" cy="107.6" rx="1.9" ry="1.6" transform="rotate(147 250.1 107.6)" fill="#190d98"/><ellipse cx="200.6" cy="98.3" rx="2.2" ry="1.9" transform="rotate(124 200.6 98.3)" fill="#160d96"/><ellipse cx="156.3" cy="116.8" rx="2.4" ry="1.5" transform="rotate(59 156.3 116.8)" fill="#1813d2"/><ellipse cx="224.0" cy="101.6" rx="2.9" ry="2.3" transform="rotate(21 224.0 101.6)" fill="#2010af"/><ellipse cx="143.2" cy="138.3" rx="2.6" ry="2.4" transform="rotate(13 143.2 138.3)" fill="#150ca4"/><ellipse cx="237.5" cy="56.8" rx="2.7" ry="2.4" transform="rotate(101 237.5 56.8)" fill="#0e0879"/><ellipse cx="180.2" cy="105.9" rx="1.8" ry="1.2" transform="rotate(32 180.2 105.9)" fill="#0e0784"/><ellipse cx="158.3" cy="141.7" rx="2.4" ry="1.7" transform="rotate(173 158.3 141.7)" fill="#130cb5"/><ellipse cx="133.4" cy="127.1" rx="2.3" ry="1.7" transform="rotate(108 133.4 127.1)" fill="#1b13e4"/><ellipse cx="167.3" cy="101.7" rx="2.6" ry="1.6" transform="rotate(91 167.3 101.7)" fill="#2016c8"/><ellipse cx="237.3" cy="156.1" rx="1.9" ry="1.2" transform="rotate(23 237.3 156.1)" fill="#140b7f"/><ellipse cx="224.4" cy="104.9" rx="2.2" ry="1.5" transform="rotate(150 224.4 104.9)" fill="#1b0ed7"/><ellipse cx="207.2" cy="46.1" rx="2.7" ry="2.3" transform="rotate(60 207.2 46.1)" fill="#1e12e9"/><ellipse cx="174.6" cy="71.5" rx="1.9" ry="1.4" transform="rotate(141 174.6 71.5)" fill="#120a95"/><ellipse cx="130.0" cy="122.4" rx="2.4" ry="2.2" transform="rotate(99 130.0 122.4)" fill="#2318e3"/><ellipse cx="162.2" cy="100.6" rx="2.8" ry="2.2" transform="rotate(0 162.2 100.6)" fill="#2d18d2"/><ellipse cx="128.5" cy="110.9" rx="2.2" ry="1.5" transform="rotate(28 128.5 110.9)" fill="#1611dc"/><ellipse cx="202.7" cy="123.9" rx="2.4" ry="1.4" transform="rotate(81 202.7 123.9)" fill="#150a7c"/><ellipse cx="142.0" cy="155.2" rx="2.4" ry="1.6" transform="rotate(127 142.0 155.2)" fill="#120f8e"/><ellipse cx="179.0" cy="126.6" rx="2.0" ry="1.6" transform="rotate(64 179.0 126.6)" fill="#100b96"/><ellipse cx="248.7" cy="119.6" rx="2.8" ry="1.8" transform="rotate(103 248.7 119.6)" fill="#1f1aa6"/><ellipse cx="241.6" cy="131.1" rx="2.8" ry="2.5" transform="rotate(38 241.6 131.1)" fill="#1d0f9c"/><ellipse cx="237.7" cy="110.3" rx="2.8" ry="2.2" transform="rotate(14 237.7 110.3)" fill="#1f19a4"/><ellipse cx="219.9" cy="60.7" rx="2.4" ry="1.7" transform="rotate(53 219.9 60.7)" fill="#1b10b0"/><ellipse cx="180.1" cy="131.6" rx="2.1" ry="1.3" transform="rotate(87 180.1 131.6)" fill="#170dd9"/><ellipse cx="250.9" cy="76.1" rx="2.6" ry="1.9" transform="rotate(15 250.9 76.1)" fill="#1c19f4"/><ellipse cx="167.2" cy="166.9" rx="2.8" ry="2.1" transform="rotate(144 167.2 166.9)" fill="#1c10ad"/><ellipse cx="215.4" cy="59.0" rx="2.1" ry="1.9" transform="rotate(102 215.4 59.0)" fill="#3222fa"/><ellipse cx="142.5" cy="160.5" rx="2.5" ry="2.1" transform="rotate(68 142.5 160.5)" fill="#2822b9"/><ellipse cx="210.1" cy="62.6" rx="2.7" ry="1.9" transform="rotate(144 210.1 62.6)" fill="#1b15a0"/><ellipse cx="160.4" cy="146.4" rx="2.4" ry="2.1" transform="rotate(151 160.4 146.4)" fill="#120bb9"/><ellipse cx="197.4" cy="137.7" rx="2.4" ry="1.7" transform="rotate(78 197.4 137.7)" fill="#331afa"/><ellipse cx="172.0" cy="128.1" rx="2.4" ry="1.8" transform="rotate(46 172.0 128.1)" fill="#2211b1"/><ellipse cx="128.9" cy="120.4" rx="2.6" ry="1.8" transform="rotate(108 128.9 120.4)" fill="#130cab"/><ellipse cx="135.6" cy="105.2" rx="2.9" ry="2.5" transform="rotate(65 135.6 105.2)" fill="#2620be"/><ellipse cx="218.6" cy="117.5" rx="2.1" ry="1.7" transform="rotate(124 218.6 117.5)" fill="#1910ae"/><ellipse cx="204.3" cy="108.3" rx="2.8" ry="2.5" transform="rotate(58 204.3 108.3)" fill="#17107a"/><ellipse cx="219.7" cy="115.1" rx="2.3" ry="1.6" transform="rotate(129 219.7 115.1)" fill="#2621f8"/><ellipse cx="151.1" cy="121.8" rx="1.9" ry="1.5" transform="rotate(132 151.1 121.8)" fill="#120fa0"/><ellipse cx="173.6" cy="158.0" rx="1.9" ry="1.4" transform="rotate(33 173.6 158.0)" fill="#2f26ef"/><ellipse cx="206.9" cy="125.9" rx="2.0" ry="1.4" transform="rotate(58 206.9 125.9)" fill="#1714ab"/><ellipse cx="133.6" cy="50.6" rx="2.2" ry="1.4" transform="rotate(170 133.6 50.6)" fill="#2e1dd3"/><ellipse cx="134.9" cy="69.1" rx="2.8" ry="2.2" transform="rotate(147 134.9 69.1)" fill="#2119be"/><ellipse cx="254.6" cy="68.5" rx="2.4" ry="1.5" transform="rotate(73 254.6 68.5)" fill="#0e0c83"/><ellipse cx="143.7" cy="152.7" rx="1.8" ry="1.5" transform="rotate(26 143.7 152.7)" fill="#1d0fba"/><ellipse cx="185.5" cy="131.4" rx="2.2" ry="1.9" transform="rotate(153 185.5 131.4)" fill="#1c1087"/><ellipse cx="143.0" cy="111.0" rx="2.2" ry="1.9" transform="rotate(7 143.0 111.0)" fill="#1915d5"/><ellipse cx="244.1" cy="69.6" rx="2.4" ry="1.5" transform="rotate(161 244.1 69.6)" fill="#241cf5"/><ellipse cx="163.5" cy="99.6" rx="2.4" ry="2.1" transform="rotate(117 163.5 99.6)" fill="#2215e5"/><ellipse cx="188.0" cy="86.3" rx="2.5" ry="2.3" transform="rotate(135 188.0 86.3)" fill="#2515b3"/><ellipse cx="157.6" cy="65.7" rx="2.0" ry="1.6" transform="rotate(104 157.6 65.7)" fill="#140ab8"/><ellipse cx="189.4" cy="150.5" rx="2.6" ry="2.1" transform="rotate(133 189.4 150.5)" fill="#211cd5"/><ellipse cx="141.0" cy="52.2" rx="2.2" ry="1.4" transform="rotate(162 141.0 52.2)" fill="#1c13c7"/><ellipse cx="158.4" cy="69.0" rx="1.9" ry="1.6" transform="rotate(91 158.4 69.0)" fill="#2e27d7"/><ellipse cx="247.5" cy="146.9" rx="1.8" ry="1.2" transform="rotate(175 247.5 146.9)" fill="#2118c1"/><ellipse cx="182.1" cy="95.7" rx="2.0" ry="1.6" transform="rotate(49 182.1 95.7)" fill="#140d97"/><ellipse cx="200.9" cy="138.2" rx="2.7" ry="2.2" transform="rotate(7 200.9 138.2)" fill="#110c8b"/><ellipse cx="197.4" cy="83.4" rx="1.9" ry="1.5" transform="rotate(94 197.4 83.4)" fill="#1810ac"/><ellipse cx="150.9" cy="49.0" rx="2.0" ry="1.3" transform="rotate(91 150.9 49.0)" fill="#2318f7"/><ellipse cx="167.2" cy="164.6" rx="2.6" ry="1.6" transform="rotate(124 167.2 164.6)" fill="#130e83"/><ellipse cx="238.7" cy="48.6" rx="2.8" ry="2.5" transform="rotate(118 238.7 48.6)" fill="#2d17d8"/><ellipse cx="211.8" cy="110.0" rx="1.9" ry="1.8" transform="rotate(178 211.8 110.0)" fill="#190cf9"/><ellipse cx="147.1" cy="124.0" rx="2.5" ry="2.3" transform="rotate(118 147.1 124.0)" fill="#1e13fd"/><ellipse cx="227.6" cy="150.8" rx="2.9" ry="1.9" transform="rotate(170 227.6 150.8)" fill="#110b8d"/><ellipse cx="135.7" cy="115.0" rx="2.0" ry="1.7" transform="rotate(31 135.7 115.0)" fill="#2a20f3"/><ellipse cx="248.2" cy="79.6" rx="2.6" ry="1.9" transform="rotate(160 248.2 79.6)" fill="#1713b5"/><ellipse cx="250.6" cy="160.8" rx="2.2" ry="1.9" transform="rotate(122 250.6 160.8)" fill="#311eec"/><ellipse cx="181.6" cy="147.0" rx="2.5" ry="1.7" transform="rotate(175 181.6 147.0)" fill="#1c0fb5"/><ellipse cx="234.3" cy="53.9" rx="2.8" ry="1.9" transform="rotate(24 234.3 53.9)" fill="#2b15e1"/><ellipse cx="172.3" cy="134.0" rx="1.9" ry="1.4" transform="rotate(33 172.3 134.0)" fill="#1e10a7"/><ellipse cx="215.0" cy="158.1" rx="2.6" ry="2.1" transform="rotate(63 215.0 158.1)" fill="#181190"/><ellipse cx="223.0" cy="129.0" rx="2.5" ry="1.8" transform="rotate(84 223.0 129.0)" fill="#1a15ab"/><ellipse cx="150.0" cy="84.6" rx="2.4" ry="2.0" transform="rotate(80 150.0 84.6)" fill="#271bc5"/><ellipse cx="127.7" cy="92.5" rx="2.8" ry="2.1" transform="rotate(84 127.7 92.5)" fill="#2f1bf6"/><ellipse cx="170.8" cy="140.6" rx="2.1" ry="1.4" transform="rotate(167 170.8 140.6)" fill="#11098f"/><ellipse cx="235.5" cy="107.1" rx="1.8" ry="1.3" transform="rotate(91 235.5 107.1)" fill="#1d10a4"/><ellipse cx="254.4" cy="112.3" rx="2.7" ry="1.7" transform="rotate(118 254.4 112.3)" fill="#150b7a"/><ellipse cx="196.5" cy="81.4" rx="2.6" ry="2.1" transform="rotate(163 196.5 81.4)" fill="#1f11ff"/><ellipse cx="216.5" cy="143.5" rx="1.9" ry="1.4" transform="rotate(50 216.5 143.5)" fill="#2d1fef"/><ellipse cx="241.3" cy="45.6" rx="2.4" ry="1.5" transform="rotate(145 241.3 45.6)" fill="#1d14bb"/><ellipse cx="211.8" cy="63.9" rx="2.7" ry="1.8" transform="rotate(56 211.8 63.9)" fill="#2c1fd5"/><ellipse cx="229.6" cy="59.0" rx="1.9" ry="1.6" transform="rotate(10 229.6 59.0)" fill="#2010a9"/><ellipse cx="141.9" cy="87.3" rx="1.9" ry="1.4" transform="rotate(62 141.9 87.3)" fill="#171494"/><ellipse cx="234.5" cy="64.2" rx="2.8" ry="2.6" transform="rotate(101 234.5 64.2)" fill="#1e11fe"/><ellipse cx="141.9" cy="132.4" rx="2.2" ry="1.3" transform="rotate(12 141.9 132.4)" fill="#241dd6"/><ellipse cx="137.2" cy="148.0" rx="2.4" ry="1.9" transform="rotate(42 137.2 148.0)" fill="#2621df"/><ellipse cx="159.7" cy="70.9" rx="2.7" ry="2.4" transform="rotate(26 159.7 70.9)" fill="#2215bc"/><ellipse cx="187.3" cy="102.1" rx="2.6" ry="1.6" transform="rotate(91 187.3 102.1)" fill="#261dba"/><ellipse cx="188.8" cy="63.0" rx="2.3" ry="1.9" transform="rotate(134 188.8 63.0)" fill="#160d78"/><ellipse cx="197.2" cy="44.1" rx="2.8" ry="2.3" transform="rotate(20 197.2 44.1)" fill="#3625fc"/><ellipse cx="223.9" cy="106.0" rx="2.4" ry="1.8" transform="rotate(30 223.9 106.0)" fill="#321ff7"/><ellipse cx="217.5" cy="149.7" rx="2.8" ry="1.7" transform="rotate(150 217.5 149.7)" fill="#120cb7"/><ellipse cx="151.1" cy="91.9" rx="2.8" ry="2.6" transform="rotate(173 151.1 91.9)" fill="#221aca"/><ellipse cx="212.2" cy="92.6" rx="2.3" ry="1.8" transform="rotate(38 212.2 92.6)" fill="#1d10ba"/><ellipse cx="169.7" cy="77.2" rx="1.9" ry="1.6" transform="rotate(32 169.7 77.2)" fill="#1910fc"/><ellipse cx="250.7" cy="68.5" rx="2.3" ry="1.5" transform="rotate(45 250.7 68.5)" fill="#100d9e"/><ellipse cx="228.6" cy="150.6" rx="2.1" ry="1.9" transform="rotate(66 228.6 150.6)" fill="#2a25eb"/><ellipse cx="170.5" cy="44.3" rx="1.9" ry="1.6" transform="rotate(74 170.5 44.3)" fill="#1b108b"/><ellipse cx="249.1" cy="127.1" rx="2.0" ry="1.7" transform="rotate(57 249.1 127.1)" fill="#3429fe"/><ellipse cx="131.3" cy="53.6" rx="2.1" ry="1.9" transform="rotate(41 131.3 53.6)" fill="#271acb"/><ellipse cx="148.8" cy="54.4" rx="2.8" ry="1.8" transform="rotate(100 148.8 54.4)" fill="#160c95"/><ellipse cx="240.3" cy="59.0" rx="2.6" ry="2.3" transform="rotate(56 240.3 59.0)" fill="#170f85"/><ellipse cx="251.5" cy="75.2" rx="2.9" ry="2.0" transform="rotate(75 251.5 75.2)" fill="#2b24c8"/><ellipse cx="223.7" cy="57.9" rx="2.6" ry="2.4" transform="rotate(106 223.7 57.9)" fill="#130c93"/><ellipse cx="219.2" cy="87.2" rx="2.6" ry="1.7" transform="rotate(158 219.2 87.2)" fill="#1e10dd"/><ellipse cx="230.4" cy="127.9" rx="2.3" ry="1.6" transform="rotate(161 230.4 127.9)" fill="#180c94"/><ellipse cx="157.0" cy="130.3" rx="1.8" ry="1.6" transform="rotate(96 157.0 130.3)" fill="#2c1bc9"/><ellipse cx="134.6" cy="74.0" rx="2.4" ry="1.4" transform="rotate(45 134.6 74.0)" fill="#2820f1"/><ellipse cx="231.8" cy="106.1" rx="2.8" ry="1.8" transform="rotate(125 231.8 106.1)" fill="#160f82"/><ellipse cx="156.4" cy="118.8" rx="1.9" ry="1.4" transform="rotate(84 156.4 118.8)" fill="#201296"/><ellipse cx="243.7" cy="136.5" rx="1.9" ry="1.2" transform="rotate(116 243.7 136.5)" fill="#1d119d"/><ellipse cx="188.3" cy="92.6" rx="2.9" ry="2.1" transform="rotate(178 188.3 92.6)" fill="#110ea4"/><ellipse cx="226.2" cy="106.9" rx="2.4" ry="1.9" transform="rotate(135 226.2 106.9)" fill="#1810bb"/><ellipse cx="153.5" cy="43.6" rx="2.4" ry="2.1" transform="rotate(129 153.5 43.6)" fill="#1c15ad"/><ellipse cx="217.2" cy="50.6" rx="2.8" ry="2.6" transform="rotate(82 217.2 50.6)" fill="#130f79"/><ellipse cx="213.5" cy="57.8" rx="2.1" ry="1.5" transform="rotate(63 213.5 57.8)" fill="#3423f5"/><ellipse cx="157.5" cy="81.5" rx="2.4" ry="1.9" transform="rotate(57 157.5 81.5)" fill="#291ac2"/><ellipse cx="238.8" cy="142.7" rx="2.2" ry="1.4" transform="rotate(145 238.8 142.7)" fill="#2215e2"/><ellipse cx="223.8" cy="94.4" rx="2.2" ry="1.7" transform="rotate(64 223.8 94.4)" fill="#180cd6"/><ellipse cx="166.7" cy="156.4" rx="2.5" ry="2.0" transform="rotate(128 166.7 156.4)" fill="#1c11e1"/><ellipse cx="126.9" cy="77.3" rx="2.7" ry="1.8" transform="rotate(128 126.9 77.3)" fill="#2817c3"/><ellipse cx="178.1" cy="43.2" rx="2.8" ry="1.7" transform="rotate(41 178.1 43.2)" fill="#120c8c"/><ellipse cx="252.1" cy="61.0" rx="2.5" ry="1.5" transform="rotate(174 252.1 61.0)" fill="#130ba0"/><ellipse cx="131.1" cy="111.4" rx="1.9" ry="1.3" transform="rotate(31 131.1 111.4)" fill="#13108e"/><ellipse cx="146.5" cy="60.4" rx="2.2" ry="2.0" transform="rotate(17 146.5 60.4)" fill="#130f78"/><ellipse cx="169.3" cy="48.2" rx="1.9" ry="1.6" transform="rotate(91 169.3 48.2)" fill="#1812aa"/><ellipse cx="229.2" cy="130.2" rx="1.9" ry="1.2" transform="rotate(139 229.2 130.2)" fill="#2c18ef"/><ellipse cx="195.2" cy="158.0" rx="1.8" ry="1.3" transform="rotate(85 195.2 158.0)" fill="#2613d4"/><ellipse cx="233.8" cy="154.3" rx="2.2" ry="1.7" transform="rotate(117 233.8 154.3)" fill="#2722fc"/><ellipse cx="249.9" cy="66.3" rx="2.3" ry="1.6" transform="rotate(145 249.9 66.3)" fill="#10097f"/><ellipse cx="222.1" cy="152.8" rx="2.3" ry="2.1" transform="rotate(22 222.1 152.8)" fill="#1f10fc"/><ellipse cx="241.7" cy="99.1" rx="2.8" ry="2.4" transform="rotate(89 241.7 99.1)" fill="#140a8f"/><ellipse cx="199.4" cy="93.2" rx="2.8" ry="2.3" transform="rotate(136 199.4 93.2)" fill="#1e109a"/><ellipse cx="199.5" cy="59.4" rx="2.8" ry="2.0" transform="rotate(139 199.5 59.4)" fill="#2723b9"/><ellipse cx="165.1" cy="92.7" rx="2.9" ry="2.0" transform="rotate(9 165.1 92.7)" fill="#2010c9"/><ellipse cx="179.9" cy="125.8" rx="2.8" ry="1.7" transform="rotate(91 179.9 125.8)" fill="#1a1495"/><ellipse cx="196.1" cy="108.3" rx="2.7" ry="1.8" transform="rotate(157 196.1 108.3)" fill="#1c189c"/><ellipse cx="197.8" cy="161.2" rx="2.3" ry="1.9" transform="rotate(0 197.8 161.2)" fill="#180de3"/><ellipse cx="246.0" cy="66.2" rx="2.9" ry="2.3" transform="rotate(58 246.0 66.2)" fill="#1209b5"/><ellipse cx="213.0" cy="93.2" rx="1.9" ry="1.5" transform="rotate(67 213.0 93.2)" fill="#160b84"/><ellipse cx="201.8" cy="111.4" rx="1.8" ry="1.3" transform="rotate(43 201.8 111.4)" fill="#231ffb"/><ellipse cx="216.9" cy="117.9" rx="2.1" ry="1.6" transform="rotate(94 216.9 117.9)" fill="#170fd8"/><ellipse cx="232.2" cy="59.3" rx="1.9" ry="1.7" transform="rotate(103 232.2 59.3)" fill="#251dbf"/><ellipse cx="175.0" cy="131.3" rx="2.0" ry="1.6" transform="rotate(2 175.0 131.3)" fill="#2416a9"/><ellipse cx="245.5" cy="57.7" rx="2.8" ry="2.6" transform="rotate(17 245.5 57.7)" fill="#2c20d1"/><ellipse cx="234.1" cy="159.7" rx="2.3" ry="2.1" transform="rotate(6 234.1 159.7)" fill="#2715cb"/><ellipse cx="136.7" cy="107.9" rx="2.5" ry="2.1" transform="rotate(32 136.7 107.9)" fill="#2d1bd1"/><ellipse cx="231.4" cy="162.1" rx="2.5" ry="1.9" transform="rotate(75 231.4 162.1)" fill="#2918ef"/><ellipse cx="199.3" cy="139.9" rx="2.8" ry="2.2" transform="rotate(98 199.3 139.9)" fill="#2822f3"/><ellipse cx="241.3" cy="131.2" rx="2.3" ry="1.6" transform="rotate(101 241.3 131.2)" fill="#1814c7"/><ellipse cx="177.6" cy="161.0" rx="2.1" ry="1.8" transform="rotate(26 177.6 161.0)" fill="#241ffe"/><ellipse cx="248.9" cy="108.2" rx="2.4" ry="1.6" transform="rotate(142 248.9 108.2)" fill="#221bf4"/><ellipse cx="179.2" cy="85.1" rx="1.8" ry="1.2" transform="rotate(105 179.2 85.1)" fill="#0e0c87"/><ellipse cx="245.6" cy="131.6" rx="2.7" ry="2.0" transform="rotate(147 245.6 131.6)" fill="#170db9"/><ellipse cx="207.9" cy="157.7" rx="1.8" ry="1.5" transform="rotate(104 207.9 157.7)" fill="#2e1df4"/><ellipse cx="215.9" cy="93.4" rx="2.3" ry="1.6" transform="rotate(158 215.9 93.4)" fill="#201aa6"/><ellipse cx="189.3" cy="104.9" rx="2.7" ry="1.7" transform="rotate(40 189.3 104.9)" fill="#160c7b"/><ellipse cx="207.9" cy="117.2" rx="2.6" ry="2.1" transform="rotate(12 207.9 117.2)" fill="#2213d3"/><ellipse cx="238.8" cy="48.3" rx="2.0" ry="1.5" transform="rotate(179 238.8 48.3)" fill="#1e189b"/><ellipse cx="166.7" cy="117.3" rx="2.2" ry="2.0" transform="rotate(15 166.7 117.3)" fill="#1610cb"/><ellipse cx="240.0" cy="163.8" rx="2.7" ry="1.7" transform="rotate(86 240.0 163.8)" fill="#150eaf"/><ellipse cx="179.9" cy="148.1" rx="2.4" ry="1.5" transform="rotate(24 179.9 148.1)" fill="#180df0"/><ellipse cx="183.6" cy="129.3" rx="2.9" ry="2.0" transform="rotate(83 183.6 129.3)" fill="#321cfc"/><ellipse cx="132.5" cy="159.1" rx="2.8" ry="1.7" transform="rotate(159 132.5 159.1)" fill="#110d93"/><ellipse cx="181.5" cy="147.0" rx="2.5" ry="2.4" transform="rotate(104 181.5 147.0)" fill="#352bf6"/><ellipse cx="169.5" cy="55.8" rx="2.8" ry="1.8" transform="rotate(166 169.5 55.8)" fill="#181587"/><ellipse cx="204.1" cy="135.5" rx="2.5" ry="1.7" transform="rotate(14 204.1 135.5)" fill="#1d0fc2"/><ellipse cx="197.9" cy="75.9" rx="2.1" ry="1.9" transform="rotate(111 197.9 75.9)" fill="#1e17e7"/><ellipse cx="155.6" cy="84.7" rx="1.9" ry="1.4" transform="rotate(138 155.6 84.7)" fill="#150baf"/><ellipse cx="161.4" cy="62.2" rx="2.3" ry="1.4" transform="rotate(127 161.4 62.2)" fill="#180d9b"/><ellipse cx="251.8" cy="123.7" rx="2.5" ry="1.6" transform="rotate(93 251.8 123.7)" fill="#0f0b92"/><ellipse cx="218.3" cy="129.2" rx="2.2" ry="2.0" transform="rotate(3 218.3 129.2)" fill="#201399"/><ellipse cx="160.9" cy="64.0" rx="2.9" ry="2.2" transform="rotate(87 160.9 64.0)" fill="#342cf4"/><ellipse cx="134.9" cy="124.3" rx="2.4" ry="1.9" transform="rotate(151 134.9 124.3)" fill="#1c189c"/><ellipse cx="141.0" cy="145.0" rx="2.2" ry="2.0" transform="rotate(142 141.0 145.0)" fill="#170ddc"/><ellipse cx="207.4" cy="82.8" rx="2.6" ry="1.6" transform="rotate(154 207.4 82.8)" fill="#1d16c9"/><ellipse cx="242.2" cy="88.8" rx="2.4" ry="1.8" transform="rotate(150 242.2 88.8)" fill="#2317bd"/><ellipse cx="205.4" cy="101.4" rx="2.2" ry="1.5" transform="rotate(16 205.4 101.4)" fill="#170b9e"/><ellipse cx="175.6" cy="113.9" rx="1.9" ry="1.8" transform="rotate(105 175.6 113.9)" fill="#2010ed"/><ellipse cx="214.5" cy="159.8" rx="2.0" ry="1.3" transform="rotate(24 214.5 159.8)" fill="#2419ca"/><ellipse cx="222.5" cy="120.2" rx="1.9" ry="1.6" transform="rotate(87 222.5 120.2)" fill="#2a1ac7"/><ellipse cx="235.3" cy="71.5" rx="2.5" ry="1.5" transform="rotate(148 235.3 71.5)" fill="#271eea"/><ellipse cx="253.7" cy="56.7" rx="2.3" ry="1.6" transform="rotate(59 253.7 56.7)" fill="#1915c3"/><ellipse cx="162.4" cy="79.4" rx="2.4" ry="1.8" transform="rotate(170 162.4 79.4)" fill="#190edd"/><ellipse cx="148.0" cy="98.1" rx="2.1" ry="1.8" transform="rotate(159 148.0 98.1)" fill="#190c8a"/><ellipse cx="182.1" cy="103.0" rx="2.0" ry="1.3" transform="rotate(83 182.1 103.0)" fill="#140f8a"/><ellipse cx="143.0" cy="118.7" rx="2.8" ry="2.5" transform="rotate(25 143.0 118.7)" fill="#1311a2"/><ellipse cx="131.4" cy="150.0" rx="2.6" ry="1.8" transform="rotate(19 131.4 150.0)" fill="#2617c4"/><ellipse cx="126.4" cy="133.9" rx="2.9" ry="2.4" transform="rotate(65 126.4 133.9)" fill="#1914cc"/><ellipse cx="176.5" cy="141.1" rx="2.0" ry="1.7" transform="rotate(106 176.5 141.1)" fill="#2019f0"/><ellipse cx="252.4" cy="101.2" rx="2.7" ry="2.0" transform="rotate(75 252.4 101.2)" fill="#281fd4"/><ellipse cx="232.4" cy="157.0" rx="2.8" ry="2.2" transform="rotate(69 232.4 157.0)" fill="#110a79"/><ellipse cx="225.9" cy="62.3" rx="1.8" ry="1.4" transform="rotate(52 225.9 62.3)" fill="#2914d4"/><ellipse cx="228.1" cy="85.1" rx="2.7" ry="1.8" transform="rotate(102 228.1 85.1)" fill="#2e19f2"/><ellipse cx="180.6" cy="81.9" rx="2.4" ry="2.0" transform="rotate(160 180.6 81.9)" fill="#211af2"/><ellipse cx="174.3" cy="126.5" rx="2.2" ry="2.0" transform="rotate(169 174.3 126.5)" fill="#150d93"/><ellipse cx="181.7" cy="118.0" rx="1.8" ry="1.5" transform="rotate(167 181.7 118.0)" fill="#1c1688"/><ellipse cx="153.5" cy="87.8" rx="2.2" ry="1.4" transform="rotate(80 153.5 87.8)" fill="#120c96"/><ellipse cx="146.0" cy="150.3" rx="2.5" ry="1.9" transform="rotate(175 146.0 150.3)" fill="#3020f5"/><ellipse cx="188.6" cy="72.5" rx="2.6" ry="2.3" transform="rotate(42 188.6 72.5)" fill="#120d82"/><ellipse cx="198.4" cy="134.7" rx="2.1" ry="1.8" transform="rotate(66 198.4 134.7)" fill="#2920f6"/><ellipse cx="139.5" cy="71.5" rx="2.1" ry="1.3" transform="rotate(13 139.5 71.5)" fill="#231db1"/><ellipse cx="175.6" cy="165.4" rx="2.2" ry="1.9" transform="rotate(149 175.6 165.4)" fill="#2919d4"/><ellipse cx="244.5" cy="62.1" rx="2.0" ry="1.7" transform="rotate(32 244.5 62.1)" fill="#1b138c"/><ellipse cx="208.6" cy="80.1" rx="2.6" ry="2.4" transform="rotate(68 208.6 80.1)" fill="#3026f7"/><ellipse cx="142.0" cy="108.7" rx="2.4" ry="2.0" transform="rotate(118 142.0 108.7)" fill="#161178"/><ellipse cx="162.1" cy="49.0" rx="1.9" ry="1.6" transform="rotate(108 162.1 49.0)" fill="#2d19d4"/><ellipse cx="208.8" cy="67.3" rx="2.4" ry="1.5" transform="rotate(125 208.8 67.3)" fill="#291de2"/><ellipse cx="242.7" cy="44.1" rx="2.9" ry="2.3" transform="rotate(73 242.7 44.1)" fill="#251bb4"/><ellipse cx="127.2" cy="120.3" rx="2.3" ry="1.8" transform="rotate(149 127.2 120.3)" fill="#180e99"/><ellipse cx="151.1" cy="56.2" rx="2.7" ry="1.9" transform="rotate(57 151.1 56.2)" fill="#190da4"/><ellipse cx="135.7" cy="82.3" rx="2.7" ry="2.1" transform="rotate(52 135.7 82.3)" fill="#261ee4"/><ellipse cx="143.2" cy="49.0" rx="2.5" ry="1.6" transform="rotate(166 143.2 49.0)" fill="#110b91"/><ellipse cx="133.2" cy="53.9" rx="2.2" ry="2.0" transform="rotate(163 133.2 53.9)" fill="#281cec"/><ellipse cx="210.4" cy="104.6" rx="2.2" ry="2.0" transform="rotate(54 210.4 104.6)" fill="#251adf"/><ellipse cx="170.4" cy="84.7" rx="2.8" ry="2.5" transform="rotate(14 170.4 84.7)" fill="#1d11a8"/><ellipse cx="140.1" cy="116.9" rx="2.1" ry="1.7" transform="rotate(115 140.1 116.9)" fill="#2018b5"/><ellipse cx="154.4" cy="71.6" rx="2.1" ry="1.5" transform="rotate(160 154.4 71.6)" fill="#1c13bf"/><ellipse cx="151.9" cy="100.1" rx="2.8" ry="1.8" transform="rotate(70 151.9 100.1)" fill="#2018aa"/><ellipse cx="193.4" cy="114.8" rx="2.0" ry="1.7" transform="rotate(71 193.4 114.8)" fill="#2e1bf7"/><ellipse cx="158.3" cy="117.1" rx="1.9" ry="1.7" transform="rotate(129 158.3 117.1)" fill="#322bf6"/><ellipse cx="247.9" cy="151.9" rx="1.9" ry="1.5" transform="rotate(173 247.9 151.9)" fill="#2d1ef0"/><ellipse cx="252.4" cy="55.6" rx="2.5" ry="1.7" transform="rotate(154 252.4 55.6)" fill="#15118e"/><ellipse cx="216.7" cy="144.5" rx="2.1" ry="1.6" transform="rotate(97 216.7 144.5)" fill="#0f087c"/><ellipse cx="230.7" cy="54.2" rx="1.9" ry="1.6" transform="rotate(20 230.7 54.2)" fill="#1e19ae"/><ellipse cx="133.2" cy="84.3" rx="2.0" ry="1.6" transform="rotate(39 133.2 84.3)" fill="#0e0b7f"/><ellipse cx="251.5" cy="82.1" rx="2.2" ry="1.7" transform="rotate(154 251.5 82.1)" fill="#1a15b8"/><ellipse cx="126.6" cy="148.0" rx="2.8" ry="2.7" transform="rotate(145 126.6 148.0)" fill="#1c1795"/><ellipse cx="167.6" cy="51.9" rx="2.9" ry="1.8" transform="rotate(116 167.6 51.9)" fill="#342ef3"/><ellipse cx="203.2" cy="111.7" rx="1.9" ry="1.4" transform="rotate(153 203.2 111.7)" fill="#141080"/><ellipse cx="174.8" cy="74.6" rx="1.8" ry="1.2" transform="rotate(25 174.8 74.6)" fill="#160ea3"/><ellipse cx="251.3" cy="128.7" rx="2.3" ry="1.5" transform="rotate(65 251.3 128.7)" fill="#2514c2"/><ellipse cx="244.5" cy="105.4" rx="2.5" ry="2.0" transform="rotate(53 244.5 105.4)" fill="#1a0f9a"/><ellipse cx="233.3" cy="96.2" rx="2.9" ry="2.3" transform="rotate(169 233.3 96.2)" fill="#2313d8"/><ellipse cx="183.6" cy="155.9" rx="2.7" ry="2.0" transform="rotate(31 183.6 155.9)" fill="#150d90"/><ellipse cx="234.0" cy="82.0" rx="2.2" ry="1.5" transform="rotate(139 234.0 82.0)" fill="#1713e5"/><ellipse cx="244.9" cy="112.0" rx="2.2" ry="1.8" transform="rotate(8 244.9 112.0)" fill="#231ac4"/><ellipse cx="229.3" cy="143.7" rx="2.5" ry="2.2" transform="rotate(22 229.3 143.7)" fill="#131090"/><ellipse cx="137.7" cy="154.5" rx="2.5" ry="1.8" transform="rotate(107 137.7 154.5)" fill="#321fec"/><ellipse cx="240.7" cy="132.7" rx="2.4" ry="2.3" transform="rotate(159 240.7 132.7)" fill="#1b0d83"/><ellipse cx="180.8" cy="61.7" rx="2.9" ry="1.9" transform="rotate(2 180.8 61.7)" fill="#2c23de"/><ellipse cx="183.4" cy="109.5" rx="2.9" ry="2.7" transform="rotate(109 183.4 109.5)" fill="#17128c"/><ellipse cx="220.5" cy="132.0" rx="2.2" ry="1.9" transform="rotate(82 220.5 132.0)" fill="#110e94"/><ellipse cx="254.4" cy="124.5" rx="2.9" ry="2.5" transform="rotate(85 254.4 124.5)" fill="#2915e4"/><ellipse cx="173.9" cy="130.3" rx="2.2" ry="1.4" transform="rotate(82 173.9 130.3)" fill="#19119c"/><ellipse cx="168.9" cy="47.9" rx="2.3" ry="1.9" transform="rotate(26 168.9 47.9)" fill="#2d1aff"/><ellipse cx="206.7" cy="111.1" rx="2.5" ry="1.6" transform="rotate(85 206.7 111.1)" fill="#2316b6"/><ellipse cx="236.7" cy="116.1" rx="2.4" ry="2.2" transform="rotate(178 236.7 116.1)" fill="#191493"/><ellipse cx="217.7" cy="92.9" rx="2.3" ry="1.8" transform="rotate(160 217.7 92.9)" fill="#2a18dd"/><ellipse cx="166.8" cy="52.5" rx="2.1" ry="1.7" transform="rotate(135 166.8 52.5)" fill="#1e12f9"/><ellipse cx="218.7" cy="141.4" rx="2.4" ry="2.1" transform="rotate(87 218.7 141.4)" fill="#2d17dc"/><ellipse cx="133.1" cy="166.5" rx="2.2" ry="1.8" transform="rotate(107 133.1 166.5)" fill="#0f0796"/><ellipse cx="179.7" cy="85.0" rx="2.2" ry="1.4" transform="rotate(165 179.7 85.0)" fill="#160eb9"/><ellipse cx="205.2" cy="166.4" rx="1.8" ry="1.5" transform="rotate(83 205.2 166.4)" fill="#352fff"/><ellipse cx="238.2" cy="95.8" rx="2.3" ry="1.8" transform="rotate(83 238.2 95.8)" fill="#1e199e"/><ellipse cx="213.7" cy="62.7" rx="2.5" ry="1.5" transform="rotate(132 213.7 62.7)" fill="#1f129e"/><ellipse cx="242.1" cy="81.9" rx="2.9" ry="2.3" transform="rotate(175 242.1 81.9)" fill="#1c11d6"/><ellipse cx="159.7" cy="156.0" rx="1.9" ry="1.3" transform="rotate(76 159.7 156.0)" fill="#22139d"/><ellipse cx="127.7" cy="142.6" rx="2.7" ry="2.1" transform="rotate(115 127.7 142.6)" fill="#16138d"/><ellipse cx="225.6" cy="111.7" rx="2.2" ry="1.4" transform="rotate(26 225.6 111.7)" fill="#251fd0"/><ellipse cx="232.7" cy="162.6" rx="2.9" ry="2.1" transform="rotate(177 232.7 162.6)" fill="#1c11d8"/><ellipse cx="193.3" cy="147.8" rx="1.9" ry="1.7" transform="rotate(120 193.3 147.8)" fill="#120b7a"/><ellipse cx="178.2" cy="131.7" rx="2.3" ry="1.9" transform="rotate(157 178.2 131.7)" fill="#1e138e"/><ellipse cx="164.9" cy="60.8" rx="1.9" ry="1.2" transform="rotate(147 164.9 60.8)" fill="#1a13b2"/><ellipse cx="133.0" cy="44.4" rx="2.1" ry="1.9" transform="rotate(135 133.0 44.4)" fill="#1c0fb9"/><ellipse cx="201.8" cy="65.4" rx="2.5" ry="1.9" transform="rotate(128 201.8 65.4)" fill="#1e17e5"/><ellipse cx="149.5" cy="65.0" rx="2.8" ry="1.7" transform="rotate(152 149.5 65.0)" fill="#2819f0"/><ellipse cx="149.5" cy="151.5" rx="1.9" ry="1.7" transform="rotate(17 149.5 151.5)" fill="#1912a9"/><ellipse cx="239.6" cy="82.6" rx="1.9" ry="1.3" transform="rotate(158 239.6 82.6)" fill="#1e12d1"/><ellipse cx="214.7" cy="113.4" rx="2.8" ry="1.8" transform="rotate(61 214.7 113.4)" fill="#2619ef"/><ellipse cx="232.2" cy="134.1" rx="2.3" ry="1.5" transform="rotate(88 232.2 134.1)" fill="#1e17e3"/><ellipse cx="217.6" cy="156.2" rx="2.3" ry="1.4" transform="rotate(145 217.6 156.2)" fill="#2116b9"/><ellipse cx="183.0" cy="149.4" rx="2.8" ry="1.7" transform="rotate(72 183.0 149.4)" fill="#2820c7"/><ellipse cx="194.6" cy="164.9" rx="1.8" ry="1.3" transform="rotate(96 194.6 164.9)" fill="#0d0785"/><ellipse cx="139.4" cy="153.1" rx="2.4" ry="2.0" transform="rotate(152 139.4 153.1)" fill="#1b14e8"/><ellipse cx="206.5" cy="53.0" rx="2.9" ry="1.8" transform="rotate(40 206.5 53.0)" fill="#130fc0"/><ellipse cx="241.8" cy="85.7" rx="1.9" ry="1.2" transform="rotate(147 241.8 85.7)" fill="#160ed2"/><ellipse cx="220.4" cy="55.3" rx="2.1" ry="1.4" transform="rotate(39 220.4 55.3)" fill="#1d13c0"/><ellipse cx="208.2" cy="48.0" rx="2.5" ry="2.1" transform="rotate(20 208.2 48.0)" fill="#2819e2"/><ellipse cx="131.4" cy="85.8" rx="2.5" ry="1.9" transform="rotate(66 131.4 85.8)" fill="#251cb4"/><ellipse cx="254.4" cy="84.5" rx="2.3" ry="1.7" transform="rotate(156 254.4 84.5)" fill="#261cd6"/><ellipse cx="181.2" cy="98.2" rx="2.9" ry="2.5" transform="rotate(91 181.2 98.2)" fill="#1b11a2"/><ellipse cx="196.9" cy="158.4" rx="2.6" ry="2.3" transform="rotate(101 196.9 158.4)" fill="#110e9a"/><ellipse cx="208.3" cy="123.4" rx="2.1" ry="1.9" transform="rotate(94 208.3 123.4)" fill="#1d14ca"/><ellipse cx="243.0" cy="58.1" rx="2.7" ry="1.6" transform="rotate(59 243.0 58.1)" fill="#19137b"/><ellipse cx="181.9" cy="105.1" rx="1.9" ry="1.7" transform="rotate(149 181.9 105.1)" fill="#2413ef"/><ellipse cx="186.9" cy="164.0" rx="2.3" ry="1.9" transform="rotate(53 186.9 164.0)" fill="#2112df"/><ellipse cx="127.7" cy="146.6" rx="2.3" ry="1.7" transform="rotate(5 127.7 146.6)" fill="#1b1292"/><ellipse cx="223.4" cy="103.8" rx="2.6" ry="1.6" transform="rotate(92 223.4 103.8)" fill="#221ec4"/><ellipse cx="138.0" cy="79.7" rx="1.9" ry="1.3" transform="rotate(38 138.0 79.7)" fill="#160d7f"/><ellipse cx="254.3" cy="101.2" rx="2.0" ry="1.7" transform="rotate(120 254.3 101.2)" fill="#1a1385"/><ellipse cx="203.7" cy="95.8" rx="2.7" ry="2.1" transform="rotate(63 203.7 95.8)" fill="#2f22f6"/><ellipse cx="242.4" cy="53.4" rx="2.3" ry="1.4" transform="rotate(31 242.4 53.4)" fill="#2b17e1"/><ellipse cx="191.0" cy="127.7" rx="2.4" ry="1.7" transform="rotate(3 191.0 127.7)" fill="#130ea6"/><ellipse cx="193.4" cy="132.6" rx="1.9" ry="1.8" transform="rotate(134 193.4 132.6)" fill="#2117a7"/><ellipse cx="147.5" cy="54.7" rx="2.1" ry="1.8" transform="rotate(143 147.5 54.7)" fill="#171295"/><ellipse cx="145.5" cy="154.1" rx="2.2" ry="2.0" transform="rotate(26 145.5 154.1)" fill="#1d1397"/><ellipse cx="150.5" cy="56.7" rx="2.6" ry="2.2" transform="rotate(137 150.5 56.7)" fill="#0f0789"/><ellipse cx="201.0" cy="53.1" rx="2.6" ry="2.0" transform="rotate(167 201.0 53.1)" fill="#261fda"/><ellipse cx="191.3" cy="79.1" rx="1.9" ry="1.6" transform="rotate(119 191.3 79.1)" fill="#1c11fb"/><ellipse cx="250.6" cy="48.6" rx="2.7" ry="2.5" transform="rotate(129 250.6 48.6)" fill="#2a1cc5"/><ellipse cx="146.0" cy="104.1" rx="2.3" ry="1.7" transform="rotate(141 146.0 104.1)" fill="#1b17b8"/><ellipse cx="152.8" cy="95.1" rx="2.5" ry="1.8" transform="rotate(167 152.8 95.1)" fill="#2519fa"/><ellipse cx="157.7" cy="145.1" rx="2.8" ry="2.6" transform="rotate(28 157.7 145.1)" fill="#160f7e"/><ellipse cx="247.1" cy="143.4" rx="2.4" ry="1.6" transform="rotate(162 247.1 143.4)" fill="#1c18de"/><ellipse cx="179.0" cy="86.0" rx="2.8" ry="2.7" transform="rotate(84 179.0 86.0)" fill="#190f94"/><ellipse cx="145.9" cy="105.6" rx="2.4" ry="2.1" transform="rotate(23 145.9 105.6)" fill="#321bea"/><ellipse cx="193.1" cy="47.3" rx="2.6" ry="1.7" transform="rotate(64 193.1 47.3)" fill="#281ccd"/><ellipse cx="219.5" cy="114.1" rx="2.6" ry="1.9" transform="rotate(26 219.5 114.1)" fill="#2019d5"/><ellipse cx="185.0" cy="100.5" rx="2.9" ry="1.9" transform="rotate(3 185.0 100.5)" fill="#191198"/><ellipse cx="220.1" cy="98.5" rx="2.3" ry="1.6" transform="rotate(33 220.1 98.5)" fill="#2015e3"/><ellipse cx="224.9" cy="100.3" rx="2.6" ry="2.5" transform="rotate(134 224.9 100.3)" fill="#2319fb"/><ellipse cx="247.8" cy="71.7" rx="2.3" ry="2.1" transform="rotate(149 247.8 71.7)" fill="#1c14fd"/><ellipse cx="245.5" cy="73.1" rx="2.7" ry="1.8" transform="rotate(128 245.5 73.1)" fill="#1911c0"/><ellipse cx="223.3" cy="45.8" rx="2.1" ry="1.7" transform="rotate(55 223.3 45.8)" fill="#1f11a6"/><ellipse cx="135.0" cy="71.7" rx="2.5" ry="1.9" transform="rotate(137 135.0 71.7)" fill="#2716d6"/><ellipse cx="180.9" cy="71.6" rx="2.1" ry="1.9" transform="rotate(43 180.9 71.6)" fill="#1a127b"/><ellipse cx="244.6" cy="125.9" rx="2.0" ry="1.7" transform="rotate(110 244.6 125.9)" fill="#1814d8"/><ellipse cx="197.4" cy="124.9" rx="2.6" ry="2.3" transform="rotate(58 197.4 124.9)" fill="#1f1b93"/><ellipse cx="170.3" cy="66.7" rx="2.1" ry="1.6" transform="rotate(26 170.3 66.7)" fill="#120eb4"/><ellipse cx="181.4" cy="69.4" rx="2.9" ry="2.1" transform="rotate(72 181.4 69.4)" fill="#1e0ff3"/><ellipse cx="237.2" cy="88.4" rx="2.1" ry="2.0" transform="rotate(66 237.2 88.4)" fill="#140db0"/><ellipse cx="238.6" cy="145.2" rx="2.7" ry="2.5" transform="rotate(41 238.6 145.2)" fill="#100a85"/><ellipse cx="221.8" cy="108.8" rx="2.0" ry="1.2" transform="rotate(96 221.8 108.8)" fill="#2313eb"/><ellipse cx="225.7" cy="65.9" rx="2.7" ry="2.3" transform="rotate(78 225.7 65.9)" fill="#1912ec"/><ellipse cx="167.2" cy="99.7" rx="1.8" ry="1.1" transform="rotate(153 167.2 99.7)" fill="#1a14e1"/><ellipse cx="181.7" cy="61.9" rx="2.8" ry="1.8" transform="rotate(41 181.7 61.9)" fill="#2015a0"/><ellipse cx="142.2" cy="66.1" rx="2.6" ry="2.0" transform="rotate(78 142.2 66.1)" fill="#2012e7"/><ellipse cx="208.1" cy="69.8" rx="2.1" ry="1.3" transform="rotate(114 208.1 69.8)" fill="#1f119b"/><ellipse cx="223.6" cy="76.2" rx="2.4" ry="1.8" transform="rotate(131 223.6 76.2)" fill="#120a92"/><ellipse cx="207.4" cy="64.4" rx="2.7" ry="2.4" transform="rotate(75 207.4 64.4)" fill="#181299"/><ellipse cx="215.0" cy="53.3" rx="2.5" ry="1.9" transform="rotate(82 215.0 53.3)" fill="#2f1ee2"/><ellipse cx="201.3" cy="70.4" rx="2.3" ry="1.9" transform="rotate(54 201.3 70.4)" fill="#170b90"/><ellipse cx="141.3" cy="94.4" rx="2.0" ry="1.6" transform="rotate(106 141.3 94.4)" fill="#281dc2"/><ellipse cx="225.2" cy="57.3" rx="2.8" ry="2.6" transform="rotate(106 225.2 57.3)" fill="#1f14bb"/><ellipse cx="146.6" cy="102.6" rx="2.6" ry="2.3" transform="rotate(160 146.6 102.6)" fill="#3622fc"/><ellipse cx="214.9" cy="113.2" rx="2.5" ry="1.8" transform="rotate(145 214.9 113.2)" fill="#1913f9"/><ellipse cx="150.6" cy="148.6" rx="2.4" ry="1.6" transform="rotate(93 150.6 148.6)" fill="#2417b1"/><ellipse cx="179.8" cy="73.6" rx="2.6" ry="1.9" transform="rotate(32 179.8 73.6)" fill="#1f13ab"/><ellipse cx="227.2" cy="123.0" rx="2.4" ry="2.3" transform="rotate(64 227.2 123.0)" fill="#1c18d4"/><ellipse cx="158.9" cy="80.3" rx="2.0" ry="1.7" transform="rotate(124 158.9 80.3)" fill="#2513d5"/><ellipse cx="194.0" cy="133.9" rx="1.9" ry="1.6" transform="rotate(20 194.0 133.9)" fill="#2821ce"/><ellipse cx="137.2" cy="70.7" rx="2.3" ry="2.0" transform="rotate(55 137.2 70.7)" fill="#1a16ef"/><ellipse cx="133.3" cy="117.6" rx="2.9" ry="2.4" transform="rotate(164 133.3 117.6)" fill="#1b13d1"/><ellipse cx="141.0" cy="59.5" rx="2.5" ry="2.3" transform="rotate(178 141.0 59.5)" fill="#2d20ed"/><ellipse cx="244.0" cy="96.8" rx="2.3" ry="1.5" transform="rotate(49 244.0 96.8)" fill="#1814be"/><ellipse cx="229.3" cy="113.7" rx="2.1" ry="1.3" transform="rotate(21 229.3 113.7)" fill="#322ceb"/><ellipse cx="162.0" cy="159.2" rx="2.3" ry="1.7" transform="rotate(163 162.0 159.2)" fill="#1a0ec4"/><ellipse cx="149.5" cy="75.6" rx="2.0" ry="1.6" transform="rotate(56 149.5 75.6)" fill="#241eaf"/><ellipse cx="195.8" cy="142.8" rx="2.5" ry="2.3" transform="rotate(32 195.8 142.8)" fill="#170fe3"/><ellipse cx="205.6" cy="110.0" rx="2.0" ry="1.8" transform="rotate(175 205.6 110.0)" fill="#1b1782"/><ellipse cx="173.3" cy="110.4" rx="2.3" ry="2.0" transform="rotate(30 173.3 110.4)" fill="#1814b1"/><ellipse cx="150.5" cy="150.2" rx="2.2" ry="2.0" transform="rotate(142 150.5 150.2)" fill="#1b0f90"/><ellipse cx="245.9" cy="76.1" rx="2.4" ry="1.7" transform="rotate(26 245.9 76.1)" fill="#1f17e2"/><ellipse cx="219.9" cy="127.3" rx="2.5" ry="1.9" transform="rotate(128 219.9 127.3)" fill="#1e15d2"/><ellipse cx="135.2" cy="48.0" rx="2.2" ry="1.5" transform="rotate(11 135.2 48.0)" fill="#2b1ee2"/><ellipse cx="252.1" cy="112.9" rx="1.8" ry="1.4" transform="rotate(118 252.1 112.9)" fill="#2b17fb"/><ellipse cx="215.5" cy="59.5" rx="1.9" ry="1.1" transform="rotate(98 215.5 59.5)" fill="#170c8e"/><ellipse cx="223.2" cy="99.0" rx="2.5" ry="1.9" transform="rotate(142 223.2 99.0)" fill="#1e1896"/><ellipse cx="143.9" cy="91.1" rx="2.8" ry="2.0" transform="rotate(119 143.9 91.1)" fill="#1a0fea"/><ellipse cx="245.7" cy="49.3" rx="2.3" ry="1.7" transform="rotate(122 245.7 49.3)" fill="#2718b7"/><ellipse cx="136.9" cy="69.7" rx="1.8" ry="1.3" transform="rotate(111 136.9 69.7)" fill="#110aa0"/><ellipse cx="240.4" cy="115.8" rx="2.2" ry="1.4" transform="rotate(10 240.4 115.8)" fill="#2219af"/><ellipse cx="229.9" cy="116.3" rx="2.5" ry="1.7" transform="rotate(4 229.9 116.3)" fill="#261dcf"/><ellipse cx="181.8" cy="84.9" rx="2.5" ry="1.9" transform="rotate(167 181.8 84.9)" fill="#1b12ff"/><ellipse cx="172.7" cy="166.6" rx="2.7" ry="2.4" transform="rotate(42 172.7 166.6)" fill="#1c15c6"/><ellipse cx="231.7" cy="71.7" rx="2.8" ry="2.0" transform="rotate(116 231.7 71.7)" fill="#1b0ee5"/><ellipse cx="227.7" cy="112.6" rx="1.9" ry="1.8" transform="rotate(141 227.7 112.6)" fill="#2010a9"/><ellipse cx="147.9" cy="47.7" rx="2.4" ry="1.4" transform="rotate(12 147.9 47.7)" fill="#0f0c83"/><ellipse cx="198.7" cy="86.8" rx="2.4" ry="2.1" transform="rotate(60 198.7 86.8)" fill="#2d24fe"/><ellipse cx="176.5" cy="53.6" rx="2.1" ry="1.8" transform="rotate(138 176.5 53.6)" fill="#1c10de"/><ellipse cx="147.5" cy="52.8" rx="2.2" ry="1.8" transform="rotate(41 147.5 52.8)" fill="#1d13df"/><ellipse cx="187.9" cy="46.1" rx="2.8" ry="2.2" transform="rotate(47 187.9 46.1)" fill="#100c80"/><ellipse cx="234.8" cy="137.7" rx="2.4" ry="1.9" transform="rotate(119 234.8 137.7)" fill="#1610a5"/><ellipse cx="179.5" cy="69.9" rx="1.9" ry="1.7" transform="rotate(120 179.5 69.9)" fill="#1913c4"/><ellipse cx="250.5" cy="44.3" rx="1.9" ry="1.6" transform="rotate(139 250.5 44.3)" fill="#1f1494"/><ellipse cx="191.3" cy="82.9" rx="2.2" ry="2.0" transform="rotate(174 191.3 82.9)" fill="#3424fa"/><ellipse cx="210.9" cy="155.6" rx="2.3" ry="2.1" transform="rotate(143 210.9 155.6)" fill="#1e1ac0"/><ellipse cx="254.1" cy="69.8" rx="2.7" ry="1.7" transform="rotate(116 254.1 69.8)" fill="#2a22c3"/><ellipse cx="190.8" cy="135.5" rx="2.6" ry="1.9" transform="rotate(93 190.8 135.5)" fill="#151298"/><ellipse cx="143.1" cy="151.9" rx="2.1" ry="1.4" transform="rotate(76 143.1 151.9)" fill="#1d178a"/><ellipse cx="151.1" cy="103.5" rx="2.7" ry="2.4" transform="rotate(41 151.1 103.5)" fill="#2d26f3"/><ellipse cx="191.4" cy="93.1" rx="2.5" ry="2.0" transform="rotate(49 191.4 93.1)" fill="#1b11a7"/><ellipse cx="137.0" cy="135.0" rx="2.6" ry="2.0" transform="rotate(138 137.0 135.0)" fill="#2c24f1"/><ellipse cx="250.3" cy="47.9" rx="2.8" ry="2.2" transform="rotate(139 250.3 47.9)" fill="#1d1991"/><ellipse cx="222.4" cy="83.9" rx="2.1" ry="1.6" transform="rotate(133 222.4 83.9)" fill="#1c16d3"/><ellipse cx="149.8" cy="142.5" rx="2.5" ry="2.1" transform="rotate(110 149.8 142.5)" fill="#2b1dec"/><ellipse cx="201.9" cy="113.3" rx="2.1" ry="1.5" transform="rotate(143 201.9 113.3)" fill="#1e178e"/><ellipse cx="190.9" cy="92.0" rx="2.6" ry="2.1" transform="rotate(169 190.9 92.0)" fill="#1b10bf"/><ellipse cx="131.8" cy="139.8" rx="2.3" ry="1.7" transform="rotate(9 131.8 139.8)" fill="#341af6"/><ellipse cx="138.2" cy="81.8" rx="2.8" ry="2.0" transform="rotate(29 138.2 81.8)" fill="#1b1399"/><ellipse cx="250.3" cy="106.9" rx="2.2" ry="2.0" transform="rotate(112 250.3 106.9)" fill="#170fcf"/><ellipse cx="139.1" cy="146.8" rx="2.8" ry="2.3" transform="rotate(179 139.1 146.8)" fill="#3127f0"/><ellipse cx="179.7" cy="150.1" rx="2.5" ry="2.0" transform="rotate(83 179.7 150.1)" fill="#2315c1"/><ellipse cx="139.4" cy="90.8" rx="2.3" ry="2.2" transform="rotate(69 139.4 90.8)" fill="#271adf"/><ellipse cx="169.6" cy="152.0" rx="2.0" ry="1.7" transform="rotate(83 169.6 152.0)" fill="#1f10b0"/><ellipse cx="187.3" cy="64.5" rx="2.5" ry="1.8" transform="rotate(119 187.3 64.5)" fill="#1f17df"/><ellipse cx="183.7" cy="158.0" rx="2.2" ry="1.8" transform="rotate(106 183.7 158.0)" fill="#2e1de0"/><ellipse cx="195.3" cy="126.4" rx="2.2" ry="1.6" transform="rotate(129 195.3 126.4)" fill="#2a1bf4"/><ellipse cx="183.4" cy="44.5" rx="2.2" ry="1.8" transform="rotate(14 183.4 44.5)" fill="#281bfb"/><ellipse cx="212.1" cy="95.3" rx="2.9" ry="1.9" transform="rotate(1 212.1 95.3)" fill="#1f15d9"/><ellipse cx="157.5" cy="51.1" rx="2.2" ry="1.3" transform="rotate(71 157.5 51.1)" fill="#2313e7"/><ellipse cx="220.3" cy="108.9" rx="2.9" ry="2.7" transform="rotate(162 220.3 108.9)" fill="#1a10bb"/><ellipse cx="137.2" cy="142.7" rx="2.4" ry="1.8" transform="rotate(53 137.2 142.7)" fill="#1b16f9"/><ellipse cx="192.3" cy="98.9" rx="2.9" ry="2.5" transform="rotate(40 192.3 98.9)" fill="#150e96"/><ellipse cx="166.3" cy="71.2" rx="2.1" ry="1.5" transform="rotate(34 166.3 71.2)" fill="#1c14c3"/><ellipse cx="230.3" cy="127.1" rx="2.0" ry="1.8" transform="rotate(167 230.3 127.1)" fill="#201ae9"/><ellipse cx="208.5" cy="46.9" rx="2.2" ry="1.9" transform="rotate(97 208.5 46.9)" fill="#1b1887"/><ellipse cx="170.1" cy="155.6" rx="1.8" ry="1.6" transform="rotate(15 170.1 155.6)" fill="#3629f7"/><ellipse cx="253.2" cy="97.3" rx="2.3" ry="1.4" transform="rotate(103 253.2 97.3)" fill="#251dff"/><ellipse cx="156.0" cy="161.2" rx="2.0" ry="1.4" transform="rotate(109 156.0 161.2)" fill="#221aeb"/><ellipse cx="129.6" cy="51.0" rx="2.2" ry="1.8" transform="rotate(25 129.6 51.0)" fill="#140f82"/><ellipse cx="162.7" cy="64.0" rx="2.1" ry="1.9" transform="rotate(102 162.7 64.0)" fill="#2114bd"/><ellipse cx="192.3" cy="84.2" rx="2.4" ry="1.6" transform="rotate(112 192.3 84.2)" fill="#171378"/><ellipse cx="175.5" cy="75.4" rx="2.4" ry="1.4" transform="rotate(166 175.5 75.4)" fill="#221cb2"/><ellipse cx="251.3" cy="99.5" rx="2.4" ry="1.7" transform="rotate(51 251.3 99.5)" fill="#2520fa"/><ellipse cx="192.4" cy="91.0" rx="1.9" ry="1.5" transform="rotate(128 192.4 91.0)" fill="#160d8c"/><ellipse cx="183.6" cy="43.6" rx="1.9" ry="1.8" transform="rotate(14 183.6 43.6)" fill="#2e17dd"/><ellipse cx="202.6" cy="132.4" rx="2.2" ry="1.9" transform="rotate(109 202.6 132.4)" fill="#2714e5"/><ellipse cx="191.1" cy="135.9" rx="2.7" ry="2.3" transform="rotate(122 191.1 135.9)" fill="#120a98"/><ellipse cx="226.7" cy="50.0" rx="1.9" ry="1.7" transform="rotate(17 226.7 50.0)" fill="#1815d1"/><ellipse cx="205.8" cy="133.9" rx="2.5" ry="2.0" transform="rotate(157 205.8 133.9)" fill="#1d0f88"/><ellipse cx="178.1" cy="111.9" rx="2.5" ry="2.1" transform="rotate(119 178.1 111.9)" fill="#211aa1"/><ellipse cx="181.2" cy="89.3" rx="2.6" ry="1.7" transform="rotate(129 181.2 89.3)" fill="#170eb2"/><ellipse cx="137.1" cy="60.4" rx="2.2" ry="1.4" transform="rotate(61 137.1 60.4)" fill="#1a15c6"/><ellipse cx="200.6" cy="73.6" rx="2.6" ry="1.9" transform="rotate(25 200.6 73.6)" fill="#160cb6"/><ellipse cx="174.2" cy="69.6" rx="2.4" ry="2.0" transform="rotate(41 174.2 69.6)" fill="#180db8"/><ellipse cx="219.0" cy="138.0" rx="1.9" ry="1.2" transform="rotate(156 219.0 138.0)" fill="#1a129a"/><ellipse cx="149.7" cy="44.4" rx="2.2" ry="2.0" transform="rotate(115 149.7 44.4)" fill="#12108c"/><ellipse cx="143.0" cy="154.6" rx="2.4" ry="1.8" transform="rotate(32 143.0 154.6)" fill="#2823f5"/><ellipse cx="241.6" cy="103.3" rx="2.1" ry="1.6" transform="rotate(35 241.6 103.3)" fill="#2922ef"/><ellipse cx="169.2" cy="100.4" rx="2.7" ry="1.9" transform="rotate(66 169.2 100.4)" fill="#1c0eb4"/><ellipse cx="224.2" cy="94.5" rx="2.1" ry="1.5" transform="rotate(24 224.2 94.5)" fill="#231fb7"/><ellipse cx="212.7" cy="63.0" rx="2.3" ry="2.1" transform="rotate(0 212.7 63.0)" fill="#2417cf"/><ellipse cx="182.3" cy="129.3" rx="2.3" ry="1.7" transform="rotate(39 182.3 129.3)" fill="#1c0fed"/><ellipse cx="193.5" cy="86.3" rx="2.4" ry="1.5" transform="rotate(63 193.5 86.3)" fill="#1f0ff9"/><ellipse cx="174.3" cy="90.0" rx="2.6" ry="2.1" transform="rotate(89 174.3 90.0)" fill="#10088d"/><ellipse cx="194.2" cy="65.0" rx="2.1" ry="1.4" transform="rotate(161 194.2 65.0)" fill="#130a9d"/><ellipse cx="243.4" cy="73.4" rx="1.9" ry="1.2" transform="rotate(62 243.4 73.4)" fill="#0f0b8b"/><ellipse cx="240.4" cy="82.8" rx="2.6" ry="2.1" transform="rotate(116 240.4 82.8)" fill="#160bcb"/><ellipse cx="247.8" cy="77.7" rx="2.8" ry="2.1" transform="rotate(27 247.8 77.7)" fill="#241ca8"/><ellipse cx="229.8" cy="60.6" rx="2.1" ry="1.8" transform="rotate(104 229.8 60.6)" fill="#2b15cc"/><ellipse cx="194.1" cy="110.0" rx="2.4" ry="2.0" transform="rotate(138 194.1 110.0)" fill="#1a0d98"/><ellipse cx="241.0" cy="130.4" rx="2.8" ry="2.3" transform="rotate(116 241.0 130.4)" fill="#181280"/><ellipse cx="131.1" cy="46.0" rx="2.6" ry="2.3" transform="rotate(69 131.1 46.0)" fill="#2515ad"/><ellipse cx="173.9" cy="75.9" rx="1.9" ry="1.6" transform="rotate(79 173.9 75.9)" fill="#1e19eb"/><ellipse cx="178.9" cy="66.9" rx="2.3" ry="1.5" transform="rotate(158 178.9 66.9)" fill="#140a7d"/><ellipse cx="183.9" cy="153.6" rx="2.4" ry="2.1" transform="rotate(49 183.9 153.6)" fill="#19157b"/><ellipse cx="236.3" cy="133.0" rx="2.4" ry="1.9" transform="rotate(128 236.3 133.0)" fill="#1f12a6"/><ellipse cx="236.4" cy="67.0" rx="2.6" ry="2.0" transform="rotate(90 236.4 67.0)" fill="#2c1acf"/><ellipse cx="235.0" cy="124.5" rx="2.8" ry="2.0" transform="rotate(119 235.0 124.5)" fill="#291fcb"/><ellipse cx="234.0" cy="121.6" rx="2.4" ry="1.6" transform="rotate(93 234.0 121.6)" fill="#2714ba"/><ellipse cx="165.0" cy="72.7" rx="2.7" ry="1.8" transform="rotate(137 165.0 72.7)" fill="#1f18aa"/></g><ellipse cx="134.7" cy="70.3" rx="4" ry="7" fill="#080630"/><ellipse cx="139.0" cy="63.9" rx="2.5" ry="2.0" fill="#b02870" stroke="#c83070" stroke-width="1.1"/><ellipse cx="169.8" cy="66.6" rx="3.5" ry="3.2" fill="#a03080" stroke="#e83050" stroke-width="1.1"/><ellipse cx="147.0" cy="74.0" rx="2.8" ry="2.5" fill="#a02c80" stroke="#c03080" stroke-width="1.1"/><ellipse cx="163.4" cy="75.7" rx="4.5" ry="2.0" fill="#802070" stroke="#902070" stroke-width="1.1"/><ellipse cx="146.9" cy="90.5" rx="3.0" ry="2.6" fill="#a02060" stroke="#ec3050" stroke-width="1.1"/><ellipse cx="158.3" cy="99.8" rx="3.2" ry="2.3" fill="#a02c80" stroke="#c03080" stroke-width="1.1"/><ellipse cx="128.5" cy="72.0" rx="1.5" ry="2.0" fill="#a02060" stroke="#ec3050" stroke-width="1.1"/><ellipse cx="227.4" cy="90.5" rx="3.6" ry="4.2" fill="#e02040" stroke="#f03050" stroke-width="1.1"/><ellipse cx="137.8" cy="123.5" rx="3.0" ry="3.0" fill="#8a2c98" stroke="#a03090" stroke-width="1.1"/><ellipse cx="186.6" cy="117.6" rx="4.4" ry="3.5" fill="#e03070" stroke="#f04080" stroke-width="1.1"/><ellipse cx="181.6" cy="126.9" rx="3.5" ry="3.5" fill="#6a7a70" stroke="#d04080" stroke-width="1.1"/><ellipse cx="168.9" cy="149.3" rx="3.0" ry="2.6" fill="#a02060" stroke="#ec3050" stroke-width="1.1"/><ellipse cx="171.8" cy="157.2" rx="3.3" ry="2.4" fill="#a02060" stroke="#ec3050" stroke-width="1.1"/><ellipse cx="149.0" cy="116.0" rx="1.2" ry="1.1" fill="#a02060" stroke="#ec3050" stroke-width="1.1"/><ellipse cx="233.0" cy="111.7" rx="3.5" ry="2.0" fill="#d02040" stroke="#e03050" stroke-width="1.1"/><ellipse cx="206.8" cy="121.3" rx="3.0" ry="2.6" fill="#a02060" stroke="#ec3050" stroke-width="1.1"/><ellipse cx="207.7" cy="130.0" rx="4.0" ry="3.5" fill="#e82850" stroke="#f03060" stroke-width="1.1"/><ellipse cx="199.3" cy="132.8" rx="4.0" ry="4.0" fill="#7a30c0" stroke="#8a34c8" stroke-width="1.1"/><ellipse cx="211.4" cy="136.7" rx="3.0" ry="2.0" fill="#a02060" stroke="#ec3050" stroke-width="1.1"/><ellipse cx="243.9" cy="142.0" rx="2.0" ry="2.0" fill="#a02060" stroke="#ec3050" stroke-width="1.1"/><ellipse cx="204.3" cy="145.4" rx="1.8" ry="1.5" fill="#a02060" stroke="#ec3050" stroke-width="1.1"/><ellipse cx="213.9" cy="145.4" rx="1.6" ry="1.4" fill="#a02060" stroke="#ec3050" stroke-width="1.1"/><ellipse cx="225.4" cy="118.5" rx="1.6" ry="1.4" fill="#902060" stroke="#a02060" stroke-width="1.1"/><ellipse cx="228.7" cy="160.6" rx="3.0" ry="2.0" fill="#a02060" stroke="#ec3050" stroke-width="1.1"/><ellipse cx="217.0" cy="84.6" rx="2.5" ry="3.0" fill="#3a9a58" opacity="0.7"/><ellipse cx="174.8" cy="102.3" rx="4.0" ry="2.5" fill="#3a9a58" opacity="0.7"/><ellipse cx="216.1" cy="108.0" rx="3.5" ry="3.0" fill="#3a9a58" opacity="0.7"/><ellipse cx="193.4" cy="138.7" rx="3.5" ry="3.5" fill="#3a9a58" opacity="0.7"/><ellipse cx="152.4" cy="109.2" rx="1.4" ry="1.2" fill="#3a9a58" opacity="0.7"/><ellipse cx="162.9" cy="112.1" rx="1.4" ry="1.2" fill="#3a9a58" opacity="0.7"/><ellipse cx="179.4" cy="149.6" rx="3.0" ry="2.0" fill="#3a9a58" opacity="0.7"/><ellipse cx="144.0" cy="160.6" rx="1.4" ry="1.2" fill="#3a9a58" opacity="0.7"/><ellipse cx="193.4" cy="100.6" rx="1.2" ry="1.2" fill="#3a9a58" opacity="0.7"/><rect x="128" y="45" width="124.6" height="0.8" fill="#000"/><rect x="251.6" y="45" width="1" height="120" fill="#000"/><rect x="230" y="154.6" width="20.3" height="1.2" fill="#fff"/><text x="240.2" y="162.6" font-size="5.6" font-weight="bold" fill="#fff" text-anchor="middle">40 µm</text></g><text x="281.2" y="14.9" font-size="18.50" font-weight="bold" font-style="normal" text-anchor="start" fill="#000" >b</text><line x1="345.2" y1="9.3" x2="345.2" y2="176.3" stroke="#000" stroke-width="1.6"/><line x1="341" y1="153.9" x2="345.2" y2="153.9" stroke="#000" stroke-width="1.3"/><line x1="341" y1="81.9" x2="345.2" y2="81.9" stroke="#000" stroke-width="1.3"/><line x1="341" y1="9.9" x2="345.2" y2="9.9" stroke="#000" stroke-width="1.3"/><line x1="342.6" y1="169.9" x2="345.2" y2="169.9" stroke="#000" stroke-width="1.1"/><line x1="342.6" y1="165.1" x2="345.2" y2="165.1" stroke="#000" stroke-width="1.1"/><line x1="342.6" y1="160.9" x2="345.2" y2="160.9" stroke="#000" stroke-width="1.1"/><line x1="342.6" y1="157.2" x2="345.2" y2="157.2" stroke="#000" stroke-width="1.1"/><line x1="342.6" y1="132.2" x2="345.2" y2="132.2" stroke="#000" stroke-width="1.1"/><line x1="342.6" y1="119.5" x2="345.2" y2="119.5" stroke="#000" stroke-width="1.1"/><line x1="342.6" y1="110.6" x2="345.2" y2="110.6" stroke="#000" stroke-width="1.1"/><line x1="342.6" y1="103.6" x2="345.2" y2="103.6" stroke="#000" stroke-width="1.1"/><line x1="342.6" y1="97.9" x2="345.2" y2="97.9" stroke="#000" stroke-width="1.1"/><line x1="342.6" y1="93.1" x2="345.2" y2="93.1" stroke="#000" stroke-width="1.1"/><line x1="342.6" y1="88.9" x2="345.2" y2="88.9" stroke="#000" stroke-width="1.1"/><line x1="342.6" y1="85.2" x2="345.2" y2="85.2" stroke="#000" stroke-width="1.1"/><line x1="342.6" y1="60.2" x2="345.2" y2="60.2" stroke="#000" stroke-width="1.1"/><line x1="342.6" y1="47.5" x2="345.2" y2="47.5" stroke="#000" stroke-width="1.1"/><line x1="342.6" y1="38.6" x2="345.2" y2="38.6" stroke="#000" stroke-width="1.1"/><line x1="342.6" y1="31.6" x2="345.2" y2="31.6" stroke="#000" stroke-width="1.1"/><line x1="342.6" y1="25.9" x2="345.2" y2="25.9" stroke="#000" stroke-width="1.1"/><line x1="342.6" y1="21.1" x2="345.2" y2="21.1" stroke="#000" stroke-width="1.1"/><line x1="342.6" y1="16.9" x2="345.2" y2="16.9" stroke="#000" stroke-width="1.1"/><line x1="342.6" y1="13.2" x2="345.2" y2="13.2" stroke="#000" stroke-width="1.1"/><text x="338" y="12.6" font-size="7.6" text-anchor="end" fill="#000">10</text><text x="338.3" y="9.7" font-size="4.6" fill="#000">3</text><text x="338" y="84.6" font-size="7.6" text-anchor="end" fill="#000">10</text><text x="338.3" y="81.7" font-size="4.6" fill="#000">2</text><text x="338" y="156.6" font-size="7.6" text-anchor="end" fill="#000">10</text><text x="338.3" y="153.7" font-size="4.6" fill="#000">1</text><line x1="344.4" y1="175.5" x2="567" y2="175.5" stroke="#000" stroke-width="1.6"/><line x1="363.4" y1="175.5" x2="363.4" y2="178.8" stroke="#000" stroke-width="1.3"/><text x="363.4" y="187.6" font-size="7.20" font-weight="bold" font-style="normal" text-anchor="middle" fill="#000" >UT</text><line x1="400.0" y1="175.5" x2="400.0" y2="178.8" stroke="#000" stroke-width="1.3"/><text x="400.0" y="187.6" font-size="7.20" font-weight="bold" font-style="normal" text-anchor="middle" fill="#000" >1</text><line x1="436.8" y1="175.5" x2="436.8" y2="178.8" stroke="#000" stroke-width="1.3"/><text x="436.8" y="187.6" font-size="7.20" font-weight="bold" font-style="normal" text-anchor="middle" fill="#000" >3</text><line x1="474.2" y1="175.5" x2="474.2" y2="178.8" stroke="#000" stroke-width="1.3"/><text x="474.2" y="187.6" font-size="7.20" font-weight="bold" font-style="normal" text-anchor="middle" fill="#000" >10</text><line x1="511.1" y1="175.5" x2="511.1" y2="178.8" stroke="#000" stroke-width="1.3"/><text x="511.1" y="187.6" font-size="7.20" font-weight="bold" font-style="normal" text-anchor="middle" fill="#000" >25</text><line x1="547.8" y1="175.5" x2="547.8" y2="178.8" stroke="#000" stroke-width="1.3"/><text x="547.8" y="187.6" font-size="7.20" font-weight="bold" font-style="normal" text-anchor="middle" fill="#000" >100</text><text x="455.6" y="200.4" font-size="8.60" font-weight="bold" font-style="normal" text-anchor="middle" fill="#000" textLength="100.2" lengthAdjust="spacingAndGlyphs" >Eribulin concentration (nM)</text><text transform="translate(315.4 92.4) rotate(-90)" font-size="8.8" font-weight="bold" text-anchor="middle" textLength="132" lengthAdjust="spacingAndGlyphs">Percentage of replication vs mitosis</text><text transform="translate(323.9 92) rotate(-90)" font-size="8.8" font-weight="bold" text-anchor="middle" textLength="80" lengthAdjust="spacingAndGlyphs">(EdU/pH3 ratio) log10</text><line x1="345" y1="107.7" x2="566.5" y2="107.7" stroke="#d23a3a" stroke-width="1.4"/><g opacity="0.9"><line x1="400.0" y1="67.2" x2="400.0" y2="82.4" stroke="#78a8d8" stroke-width="0.8" opacity="0.65"/><line x1="398.4" y1="67.2" x2="401.6" y2="67.2" stroke="#78a8d8" stroke-width="0.7"/><line x1="398.4" y1="82.4" x2="401.6" y2="82.4" stroke="#78a8d8" stroke-width="0.7"/><line x1="436.8" y1="71.2" x2="436.8" y2="95.2" stroke="#78a8d8" stroke-width="0.8" opacity="0.65"/><line x1="435.2" y1="71.2" x2="438.4" y2="71.2" stroke="#78a8d8" stroke-width="0.7"/><line x1="435.2" y1="95.2" x2="438.4" y2="95.2" stroke="#78a8d8" stroke-width="0.7"/><line x1="474.2" y1="43.6" x2="474.2" y2="85.6" stroke="#78a8d8" stroke-width="0.8" opacity="0.65"/><line x1="472.6" y1="43.6" x2="475.8" y2="43.6" stroke="#78a8d8" stroke-width="0.7"/><line x1="472.6" y1="85.6" x2="475.8" y2="85.6" stroke="#78a8d8" stroke-width="0.7"/><line x1="511.1" y1="60.0" x2="511.1" y2="88.0" stroke="#78a8d8" stroke-width="0.8" opacity="0.65"/><line x1="509.5" y1="60.0" x2="512.7" y2="60.0" stroke="#78a8d8" stroke-width="0.7"/><line x1="509.5" y1="88.0" x2="512.7" y2="88.0" stroke="#78a8d8" stroke-width="0.7"/><line x1="547.8" y1="29.1" x2="547.8" y2="73.1" stroke="#78a8d8" stroke-width="0.8" opacity="0.65"/><line x1="546.2" y1="29.1" x2="549.4" y2="29.1" stroke="#78a8d8" stroke-width="0.7"/><line x1="546.2" y1="73.1" x2="549.4" y2="73.1" stroke="#78a8d8" stroke-width="0.7"/><polyline points="363.4,81.9 400.0,74.8 436.8,83.2 474.2,64.6 511.1,74.0 547.8,51.1" fill="none" stroke="#78a8d8" stroke-width="1.1"/><rect x="397.8" y="72.6" width="4.4" height="4.4" fill="#78a8d8"/><rect x="434.6" y="81.0" width="4.4" height="4.4" fill="#78a8d8"/><rect x="472.0" y="62.4" width="4.4" height="4.4" fill="#78a8d8"/><rect x="508.9" y="71.8" width="4.4" height="4.4" fill="#78a8d8"/><rect x="545.6" y="48.9" width="4.4" height="4.4" fill="#78a8d8"/></g><g opacity="0.9"><line x1="400.0" y1="92.0" x2="400.0" y2="108.0" stroke="#78a8d8" stroke-width="0.8" opacity="0.65"/><line x1="398.4" y1="92.0" x2="401.6" y2="92.0" stroke="#78a8d8" stroke-width="0.7"/><line x1="398.4" y1="108.0" x2="401.6" y2="108.0" stroke="#78a8d8" stroke-width="0.7"/><line x1="436.8" y1="91.7" x2="436.8" y2="107.7" stroke="#78a8d8" stroke-width="0.8" opacity="0.65"/><line x1="435.2" y1="91.7" x2="438.4" y2="91.7" stroke="#78a8d8" stroke-width="0.7"/><line x1="435.2" y1="107.7" x2="438.4" y2="107.7" stroke="#78a8d8" stroke-width="0.7"/><line x1="474.2" y1="89.0" x2="474.2" y2="109.0" stroke="#78a8d8" stroke-width="0.8" opacity="0.65"/><line x1="472.6" y1="89.0" x2="475.8" y2="89.0" stroke="#78a8d8" stroke-width="0.7"/><line x1="472.6" y1="109.0" x2="475.8" y2="109.0" stroke="#78a8d8" stroke-width="0.7"/><line x1="511.1" y1="91.0" x2="511.1" y2="115.0" stroke="#78a8d8" stroke-width="0.8" opacity="0.65"/><line x1="509.5" y1="91.0" x2="512.7" y2="91.0" stroke="#78a8d8" stroke-width="0.7"/><line x1="509.5" y1="115.0" x2="512.7" y2="115.0" stroke="#78a8d8" stroke-width="0.7"/><line x1="547.8" y1="92.8" x2="547.8" y2="120.8" stroke="#78a8d8" stroke-width="0.8" opacity="0.65"/><line x1="546.2" y1="92.8" x2="549.4" y2="92.8" stroke="#78a8d8" stroke-width="0.7"/><line x1="546.2" y1="120.8" x2="549.4" y2="120.8" stroke="#78a8d8" stroke-width="0.7"/><polyline points="363.4,81.9 400.0,100.0 436.8,99.7 474.2,99.0 511.1,103.0 547.8,106.8" fill="none" stroke="#78a8d8" stroke-width="1.1"/><path d="M400.0 97.4L402.2 100.0L400.0 102.6L397.8 100.0Z" fill="#78a8d8"/><path d="M436.8 97.1L439.0 99.7L436.8 102.3L434.6 99.7Z" fill="#78a8d8"/><path d="M474.2 96.4L476.4 99.0L474.2 101.6L472.0 99.0Z" fill="#78a8d8"/><path d="M511.1 100.4L513.3 103.0L511.1 105.6L508.9 103.0Z" fill="#78a8d8"/><path d="M547.8 104.2L550.0 106.8L547.8 109.4L545.6 106.8Z" fill="#78a8d8"/></g><g opacity="0.9"><line x1="400.0" y1="98.0" x2="400.0" y2="110.0" stroke="#e3a4ab" stroke-width="0.8" opacity="0.65"/><line x1="398.4" y1="98.0" x2="401.6" y2="98.0" stroke="#e3a4ab" stroke-width="0.7"/><line x1="398.4" y1="110.0" x2="401.6" y2="110.0" stroke="#e3a4ab" stroke-width="0.7"/><line x1="436.8" y1="97.4" x2="436.8" y2="109.4" stroke="#e3a4ab" stroke-width="0.8" opacity="0.65"/><line x1="435.2" y1="97.4" x2="438.4" y2="97.4" stroke="#e3a4ab" stroke-width="0.7"/><line x1="435.2" y1="109.4" x2="438.4" y2="109.4" stroke="#e3a4ab" stroke-width="0.7"/><line x1="474.2" y1="98.5" x2="474.2" y2="114.5" stroke="#e3a4ab" stroke-width="0.8" opacity="0.65"/><line x1="472.6" y1="98.5" x2="475.8" y2="98.5" stroke="#e3a4ab" stroke-width="0.7"/><line x1="472.6" y1="114.5" x2="475.8" y2="114.5" stroke="#e3a4ab" stroke-width="0.7"/><line x1="511.1" y1="86.7" x2="511.1" y2="114.7" stroke="#e3a4ab" stroke-width="0.8" opacity="0.65"/><line x1="509.5" y1="86.7" x2="512.7" y2="86.7" stroke="#e3a4ab" stroke-width="0.7"/><line x1="509.5" y1="114.7" x2="512.7" y2="114.7" stroke="#e3a4ab" stroke-width="0.7"/><line x1="547.8" y1="98.0" x2="547.8" y2="126.0" stroke="#e3a4ab" stroke-width="0.8" opacity="0.65"/><line x1="546.2" y1="98.0" x2="549.4" y2="98.0" stroke="#e3a4ab" stroke-width="0.7"/><line x1="546.2" y1="126.0" x2="549.4" y2="126.0" stroke="#e3a4ab" stroke-width="0.7"/><polyline points="363.4,81.9 400.0,104.0 436.8,103.4 474.2,106.5 511.1,100.7 547.8,112.0" fill="none" stroke="#e3a4ab" stroke-width="1.1"/><path d="M400.0 106.4L402.4 102.0L397.6 102.0Z" fill="#fff" stroke="#e3a4ab" stroke-width="0.8"/><path d="M436.8 105.8L439.2 101.4L434.4 101.4Z" fill="#fff" stroke="#e3a4ab" stroke-width="0.8"/><path d="M474.2 108.9L476.6 104.5L471.8 104.5Z" fill="#fff" stroke="#e3a4ab" stroke-width="0.8"/><path d="M511.1 103.1L513.5 98.7L508.7 98.7Z" fill="#fff" stroke="#e3a4ab" stroke-width="0.8"/><path d="M547.8 114.4L550.2 110.0L545.4 110.0Z" fill="#fff" stroke="#e3a4ab" stroke-width="0.8"/></g><g opacity="0.9"><line x1="400.0" y1="120.0" x2="400.0" y2="136.0" stroke="#e3a4ab" stroke-width="0.8" opacity="0.65"/><line x1="398.4" y1="120.0" x2="401.6" y2="120.0" stroke="#e3a4ab" stroke-width="0.7"/><line x1="398.4" y1="136.0" x2="401.6" y2="136.0" stroke="#e3a4ab" stroke-width="0.7"/><line x1="436.8" y1="124.8" x2="436.8" y2="138.8" stroke="#e3a4ab" stroke-width="0.8" opacity="0.65"/><line x1="435.2" y1="124.8" x2="438.4" y2="124.8" stroke="#e3a4ab" stroke-width="0.7"/><line x1="435.2" y1="138.8" x2="438.4" y2="138.8" stroke="#e3a4ab" stroke-width="0.7"/><line x1="474.2" y1="124.8" x2="474.2" y2="140.8" stroke="#e3a4ab" stroke-width="0.8" opacity="0.65"/><line x1="472.6" y1="124.8" x2="475.8" y2="124.8" stroke="#e3a4ab" stroke-width="0.7"/><line x1="472.6" y1="140.8" x2="475.8" y2="140.8" stroke="#e3a4ab" stroke-width="0.7"/><line x1="511.1" y1="109.2" x2="511.1" y2="147.6" stroke="#e3a4ab" stroke-width="0.8" opacity="0.65"/><line x1="509.5" y1="109.2" x2="512.7" y2="109.2" stroke="#e3a4ab" stroke-width="0.7"/><line x1="509.5" y1="147.6" x2="512.7" y2="147.6" stroke="#e3a4ab" stroke-width="0.7"/><line x1="547.8" y1="123.8" x2="547.8" y2="139.8" stroke="#e3a4ab" stroke-width="0.8" opacity="0.65"/><line x1="546.2" y1="123.8" x2="549.4" y2="123.8" stroke="#e3a4ab" stroke-width="0.7"/><line x1="546.2" y1="139.8" x2="549.4" y2="139.8" stroke="#e3a4ab" stroke-width="0.7"/><polyline points="363.4,81.9 400.0,128.0 436.8,131.8 474.2,132.8 511.1,128.4 547.8,131.8" fill="none" stroke="#e3a4ab" stroke-width="1.1"/><path d="M400.0 125.6L402.4 130.0L397.6 130.0Z" fill="#e3a4ab"/><path d="M436.8 129.4L439.2 133.8L434.4 133.8Z" fill="#e3a4ab"/><path d="M474.2 130.4L476.6 134.8L471.8 134.8Z" fill="#e3a4ab"/><path d="M511.1 126.0L513.5 130.4L508.7 130.4Z" fill="#e3a4ab"/><path d="M547.8 129.4L550.2 133.8L545.4 133.8Z" fill="#e3a4ab"/></g><g opacity="0.9"><line x1="400.0" y1="93.0" x2="400.0" y2="111.0" stroke="#78a8d8" stroke-width="0.8" opacity="0.65"/><line x1="398.4" y1="93.0" x2="401.6" y2="93.0" stroke="#78a8d8" stroke-width="0.7"/><line x1="398.4" y1="111.0" x2="401.6" y2="111.0" stroke="#78a8d8" stroke-width="0.7"/><line x1="436.8" y1="95.8" x2="436.8" y2="115.8" stroke="#78a8d8" stroke-width="0.8" opacity="0.65"/><line x1="435.2" y1="95.8" x2="438.4" y2="95.8" stroke="#78a8d8" stroke-width="0.7"/><line x1="435.2" y1="115.8" x2="438.4" y2="115.8" stroke="#78a8d8" stroke-width="0.7"/><line x1="474.2" y1="102.5" x2="474.2" y2="120.5" stroke="#78a8d8" stroke-width="0.8" opacity="0.65"/><line x1="472.6" y1="102.5" x2="475.8" y2="102.5" stroke="#78a8d8" stroke-width="0.7"/><line x1="472.6" y1="120.5" x2="475.8" y2="120.5" stroke="#78a8d8" stroke-width="0.7"/><line x1="511.1" y1="98.8" x2="511.1" y2="122.8" stroke="#78a8d8" stroke-width="0.8" opacity="0.65"/><line x1="509.5" y1="98.8" x2="512.7" y2="98.8" stroke="#78a8d8" stroke-width="0.7"/><line x1="509.5" y1="122.8" x2="512.7" y2="122.8" stroke="#78a8d8" stroke-width="0.7"/><line x1="547.8" y1="103.6" x2="547.8" y2="131.6" stroke="#78a8d8" stroke-width="0.8" opacity="0.65"/><line x1="546.2" y1="103.6" x2="549.4" y2="103.6" stroke="#78a8d8" stroke-width="0.7"/><line x1="546.2" y1="131.6" x2="549.4" y2="131.6" stroke="#78a8d8" stroke-width="0.7"/><polyline points="363.4,81.9 400.0,102.0 436.8,105.8 474.2,111.5 511.1,110.8 547.8,117.6" fill="none" stroke="#78a8d8" stroke-width="1.1"/><circle cx="400.0" cy="102.0" r="2.1" fill="#78a8d8"/><circle cx="436.8" cy="105.8" r="2.1" fill="#78a8d8"/><circle cx="474.2" cy="111.5" r="2.1" fill="#78a8d8"/><circle cx="511.1" cy="110.8" r="2.1" fill="#78a8d8"/><circle cx="547.8" cy="117.6" r="2.1" fill="#78a8d8"/></g><g opacity="0.9"><line x1="400.0" y1="104.0" x2="400.0" y2="120.0" stroke="#e3a4ab" stroke-width="0.8" opacity="0.65"/><line x1="398.4" y1="104.0" x2="401.6" y2="104.0" stroke="#e3a4ab" stroke-width="0.7"/><line x1="398.4" y1="120.0" x2="401.6" y2="120.0" stroke="#e3a4ab" stroke-width="0.7"/><line x1="436.8" y1="107.9" x2="436.8" y2="123.9" stroke="#e3a4ab" stroke-width="0.8" opacity="0.65"/><line x1="435.2" y1="107.9" x2="438.4" y2="107.9" stroke="#e3a4ab" stroke-width="0.7"/><line x1="435.2" y1="123.9" x2="438.4" y2="123.9" stroke="#e3a4ab" stroke-width="0.7"/><line x1="474.2" y1="111.0" x2="474.2" y2="131.0" stroke="#e3a4ab" stroke-width="0.8" opacity="0.65"/><line x1="472.6" y1="111.0" x2="475.8" y2="111.0" stroke="#e3a4ab" stroke-width="0.7"/><line x1="472.6" y1="131.0" x2="475.8" y2="131.0" stroke="#e3a4ab" stroke-width="0.7"/><line x1="511.1" y1="82.0" x2="511.1" y2="114.0" stroke="#e3a4ab" stroke-width="0.8" opacity="0.65"/><line x1="509.5" y1="82.0" x2="512.7" y2="82.0" stroke="#e3a4ab" stroke-width="0.7"/><line x1="509.5" y1="114.0" x2="512.7" y2="114.0" stroke="#e3a4ab" stroke-width="0.7"/><line x1="547.8" y1="70.9" x2="547.8" y2="98.9" stroke="#e3a4ab" stroke-width="0.8" opacity="0.65"/><line x1="546.2" y1="70.9" x2="549.4" y2="70.9" stroke="#e3a4ab" stroke-width="0.7"/><line x1="546.2" y1="98.9" x2="549.4" y2="98.9" stroke="#e3a4ab" stroke-width="0.7"/><polyline points="363.4,81.9 400.0,112.0 436.8,115.9 474.2,121.0 511.1,98.0 547.8,84.9" fill="none" stroke="#e3a4ab" stroke-width="1.1"/><circle cx="400.0" cy="112.0" r="2.0" fill="#fff" stroke="#e3a4ab" stroke-width="0.8"/><circle cx="436.8" cy="115.9" r="2.0" fill="#fff" stroke="#e3a4ab" stroke-width="0.8"/><circle cx="474.2" cy="121.0" r="2.0" fill="#fff" stroke="#e3a4ab" stroke-width="0.8"/><circle cx="511.1" cy="98.0" r="2.0" fill="#fff" stroke="#e3a4ab" stroke-width="0.8"/><circle cx="547.8" cy="84.9" r="2.0" fill="#fff" stroke="#e3a4ab" stroke-width="0.8"/></g><g opacity="0.9"><line x1="400.0" y1="94.0" x2="400.0" y2="114.0" stroke="#78a8d8" stroke-width="0.8" opacity="0.65"/><line x1="398.4" y1="94.0" x2="401.6" y2="94.0" stroke="#78a8d8" stroke-width="0.7"/><line x1="398.4" y1="114.0" x2="401.6" y2="114.0" stroke="#78a8d8" stroke-width="0.7"/><line x1="436.8" y1="100.8" x2="436.8" y2="120.8" stroke="#78a8d8" stroke-width="0.8" opacity="0.65"/><line x1="435.2" y1="100.8" x2="438.4" y2="100.8" stroke="#78a8d8" stroke-width="0.7"/><line x1="435.2" y1="120.8" x2="438.4" y2="120.8" stroke="#78a8d8" stroke-width="0.7"/><line x1="474.2" y1="107.3" x2="474.2" y2="131.3" stroke="#78a8d8" stroke-width="0.8" opacity="0.65"/><line x1="472.6" y1="107.3" x2="475.8" y2="107.3" stroke="#78a8d8" stroke-width="0.7"/><line x1="472.6" y1="131.3" x2="475.8" y2="131.3" stroke="#78a8d8" stroke-width="0.7"/><line x1="511.1" y1="61.3" x2="511.1" y2="121.3" stroke="#78a8d8" stroke-width="0.8" opacity="0.65"/><line x1="509.5" y1="61.3" x2="512.7" y2="61.3" stroke="#78a8d8" stroke-width="0.7"/><line x1="509.5" y1="121.3" x2="512.7" y2="121.3" stroke="#78a8d8" stroke-width="0.7"/><line x1="547.8" y1="95.6" x2="547.8" y2="139.6" stroke="#78a8d8" stroke-width="0.8" opacity="0.65"/><line x1="546.2" y1="95.6" x2="549.4" y2="95.6" stroke="#78a8d8" stroke-width="0.7"/><line x1="546.2" y1="139.6" x2="549.4" y2="139.6" stroke="#78a8d8" stroke-width="0.7"/><polyline points="363.4,81.9 400.0,104.0 436.8,110.8 474.2,119.3 511.1,91.3 547.8,117.6" fill="none" stroke="#78a8d8" stroke-width="1.1"/><path d="M400.0 106.4L402.4 102.0L397.6 102.0Z" fill="#78a8d8"/><path d="M436.8 113.2L439.2 108.8L434.4 108.8Z" fill="#78a8d8"/><path d="M474.2 121.7L476.6 117.3L471.8 117.3Z" fill="#78a8d8"/><path d="M511.1 93.7L513.5 89.3L508.7 89.3Z" fill="#78a8d8"/><path d="M547.8 120.0L550.2 115.6L545.4 115.6Z" fill="#78a8d8"/></g><g opacity="0.9"><line x1="400.0" y1="125.0" x2="400.0" y2="141.0" stroke="#e3a4ab" stroke-width="0.8" opacity="0.65"/><line x1="398.4" y1="125.0" x2="401.6" y2="125.0" stroke="#e3a4ab" stroke-width="0.7"/><line x1="398.4" y1="141.0" x2="401.6" y2="141.0" stroke="#e3a4ab" stroke-width="0.7"/><line x1="436.8" y1="126.5" x2="436.8" y2="142.5" stroke="#e3a4ab" stroke-width="0.8" opacity="0.65"/><line x1="435.2" y1="126.5" x2="438.4" y2="126.5" stroke="#e3a4ab" stroke-width="0.7"/><line x1="435.2" y1="142.5" x2="438.4" y2="142.5" stroke="#e3a4ab" stroke-width="0.7"/><line x1="474.2" y1="119.2" x2="474.2" y2="155.2" stroke="#e3a4ab" stroke-width="0.8" opacity="0.65"/><line x1="472.6" y1="119.2" x2="475.8" y2="119.2" stroke="#e3a4ab" stroke-width="0.7"/><line x1="472.6" y1="155.2" x2="475.8" y2="155.2" stroke="#e3a4ab" stroke-width="0.7"/><line x1="511.1" y1="84.3" x2="511.1" y2="167.7" stroke="#e3a4ab" stroke-width="0.8" opacity="0.65"/><line x1="509.5" y1="84.3" x2="512.7" y2="84.3" stroke="#e3a4ab" stroke-width="0.7"/><line x1="509.5" y1="167.7" x2="512.7" y2="167.7" stroke="#e3a4ab" stroke-width="0.7"/><line x1="547.8" y1="116.7" x2="547.8" y2="136.7" stroke="#e3a4ab" stroke-width="0.8" opacity="0.65"/><line x1="546.2" y1="116.7" x2="549.4" y2="116.7" stroke="#e3a4ab" stroke-width="0.7"/><line x1="546.2" y1="136.7" x2="549.4" y2="136.7" stroke="#e3a4ab" stroke-width="0.7"/><polyline points="363.4,81.9 400.0,133.0 436.8,134.5 474.2,137.2 511.1,126.0 547.8,126.7" fill="none" stroke="#e3a4ab" stroke-width="1.1"/><rect x="398.2" y="131.2" width="3.6" height="3.6" fill="#fff" stroke="#e3a4ab" stroke-width="0.8"/><rect x="435.0" y="132.7" width="3.6" height="3.6" fill="#fff" stroke="#e3a4ab" stroke-width="0.8"/><rect x="472.4" y="135.4" width="3.6" height="3.6" fill="#fff" stroke="#e3a4ab" stroke-width="0.8"/><rect x="509.3" y="124.2" width="3.6" height="3.6" fill="#fff" stroke="#e3a4ab" stroke-width="0.8"/><rect x="546.0" y="124.9" width="3.6" height="3.6" fill="#fff" stroke="#e3a4ab" stroke-width="0.8"/></g><g opacity="0.9"><line x1="400.0" y1="90.0" x2="400.0" y2="130.0" stroke="#78a8d8" stroke-width="0.8" opacity="0.65"/><line x1="398.4" y1="90.0" x2="401.6" y2="90.0" stroke="#78a8d8" stroke-width="0.7"/><line x1="398.4" y1="130.0" x2="401.6" y2="130.0" stroke="#78a8d8" stroke-width="0.7"/><line x1="436.8" y1="112.4" x2="436.8" y2="140.4" stroke="#78a8d8" stroke-width="0.8" opacity="0.65"/><line x1="435.2" y1="112.4" x2="438.4" y2="112.4" stroke="#78a8d8" stroke-width="0.7"/><line x1="435.2" y1="140.4" x2="438.4" y2="140.4" stroke="#78a8d8" stroke-width="0.7"/><line x1="474.2" y1="101.0" x2="474.2" y2="129.0" stroke="#78a8d8" stroke-width="0.8" opacity="0.65"/><line x1="472.6" y1="101.0" x2="475.8" y2="101.0" stroke="#78a8d8" stroke-width="0.7"/><line x1="472.6" y1="129.0" x2="475.8" y2="129.0" stroke="#78a8d8" stroke-width="0.7"/><line x1="511.1" y1="67.2" x2="511.1" y2="170.0" stroke="#78a8d8" stroke-width="0.8" opacity="0.65"/><line x1="509.5" y1="67.2" x2="512.7" y2="67.2" stroke="#78a8d8" stroke-width="0.7"/><line x1="509.5" y1="170.0" x2="512.7" y2="170.0" stroke="#78a8d8" stroke-width="0.7"/><line x1="547.8" y1="67.5" x2="547.8" y2="157.5" stroke="#78a8d8" stroke-width="0.8" opacity="0.65"/><line x1="546.2" y1="67.5" x2="549.4" y2="67.5" stroke="#78a8d8" stroke-width="0.7"/><line x1="546.2" y1="157.5" x2="549.4" y2="157.5" stroke="#78a8d8" stroke-width="0.7"/><polyline points="363.4,81.9 400.0,110.0 436.8,126.4 474.2,115.0 511.1,118.6 547.8,112.5" fill="none" stroke="#78a8d8" stroke-width="1.1"/><path d="M400.0 107.6L402.4 112.0L397.6 112.0Z" fill="#fff" stroke="#78a8d8" stroke-width="0.8"/><path d="M436.8 124.0L439.2 128.4L434.4 128.4Z" fill="#fff" stroke="#78a8d8" stroke-width="0.8"/><path d="M474.2 112.6L476.6 117.0L471.8 117.0Z" fill="#fff" stroke="#78a8d8" stroke-width="0.8"/><path d="M511.1 116.2L513.5 120.6L508.7 120.6Z" fill="#fff" stroke="#78a8d8" stroke-width="0.8"/><path d="M547.8 110.1L550.2 114.5L545.4 114.5Z" fill="#fff" stroke="#78a8d8" stroke-width="0.8"/></g><g opacity="0.9"><line x1="400.0" y1="108.6" x2="400.0" y2="116.6" stroke="#c62a2e" stroke-width="0.8" opacity="0.65"/><line x1="398.4" y1="108.6" x2="401.6" y2="108.6" stroke="#c62a2e" stroke-width="0.7"/><line x1="398.4" y1="116.6" x2="401.6" y2="116.6" stroke="#c62a2e" stroke-width="0.7"/><line x1="436.8" y1="114.0" x2="436.8" y2="122.0" stroke="#c62a2e" stroke-width="0.8" opacity="0.65"/><line x1="435.2" y1="114.0" x2="438.4" y2="114.0" stroke="#c62a2e" stroke-width="0.7"/><line x1="435.2" y1="122.0" x2="438.4" y2="122.0" stroke="#c62a2e" stroke-width="0.7"/><line x1="474.2" y1="106.2" x2="474.2" y2="114.2" stroke="#c62a2e" stroke-width="0.8" opacity="0.65"/><line x1="472.6" y1="106.2" x2="475.8" y2="106.2" stroke="#c62a2e" stroke-width="0.7"/><line x1="472.6" y1="114.2" x2="475.8" y2="114.2" stroke="#c62a2e" stroke-width="0.7"/><line x1="511.1" y1="106.8" x2="511.1" y2="114.8" stroke="#c62a2e" stroke-width="0.8" opacity="0.65"/><line x1="509.5" y1="106.8" x2="512.7" y2="106.8" stroke="#c62a2e" stroke-width="0.7"/><line x1="509.5" y1="114.8" x2="512.7" y2="114.8" stroke="#c62a2e" stroke-width="0.7"/><line x1="547.8" y1="118.3" x2="547.8" y2="126.3" stroke="#c62a2e" stroke-width="0.8" opacity="0.65"/><line x1="546.2" y1="118.3" x2="549.4" y2="118.3" stroke="#c62a2e" stroke-width="0.7"/><line x1="546.2" y1="126.3" x2="549.4" y2="126.3" stroke="#c62a2e" stroke-width="0.7"/><polyline points="363.4,81.9 400.0,112.6 436.8,118.0 474.2,110.2 511.1,110.8 547.8,122.3" fill="none" stroke="#c62a2e" stroke-width="1.1"/><path d="M400.0 110.0L402.2 112.6L400.0 115.2L397.8 112.6Z" fill="#fff" stroke="#c62a2e" stroke-width="1.2"/><path d="M436.8 115.4L439.0 118.0L436.8 120.6L434.6 118.0Z" fill="#fff" stroke="#c62a2e" stroke-width="1.2"/><path d="M474.2 107.6L476.4 110.2L474.2 112.8L472.0 110.2Z" fill="#fff" stroke="#c62a2e" stroke-width="1.2"/><path d="M511.1 108.2L513.3 110.8L511.1 113.4L508.9 110.8Z" fill="#fff" stroke="#c62a2e" stroke-width="1.2"/><path d="M547.8 119.7L550.0 122.3L547.8 124.9L545.6 122.3Z" fill="#fff" stroke="#c62a2e" stroke-width="1.2"/></g><rect x="361.0" y="79.5" width="4.8" height="4.8" fill="#8ab0dc"/><rect x="391.4" y="12.2" width="17" height="177.5" fill="none" stroke="#d02a2a" stroke-width="1.2" stroke-dasharray="2.6 2"/><circle cx="490.8" cy="13" r="3.2" fill="#e2aab0"/><circle cx="490.8" cy="22.8" r="3.2" fill="#7eb0de"/><text x="497.8" y="15.7" font-size="7.7" fill="#222" textLength="55.9" lengthAdjust="spacingAndGlyphs"><tspan font-style="italic">ex vivo</tspan> sensitive</text><text x="497.2" y="25.3" font-size="7.7" fill="#222" textLength="55.4" lengthAdjust="spacingAndGlyphs"><tspan font-style="italic">ex vivo</tspan> resistant</text><text x="572" y="21.4" font-size="6" font-style="italic" fill="#222" textLength="49.8" lengthAdjust="spacingAndGlyphs">Paclitaxel-resistant</text><text x="572" y="28.0" font-size="6" font-style="italic" fill="#222">(in vivo)</text><text x="572" y="73.4" font-size="6" font-style="italic" fill="#222" textLength="48.5" lengthAdjust="spacingAndGlyphs">Paclitaxel-sensitive</text><text x="572" y="80.0" font-size="6" font-style="italic" fill="#222">(in vivo)</text><text x="572" y="155.0" font-size="6" font-style="italic" fill="#222" textLength="44.6" lengthAdjust="spacingAndGlyphs">Eribulin-sensitive</text><text x="572" y="161.6" font-size="6" font-style="italic" fill="#222">(in vivo)</text><rect x="570.3" y="30.5" width="58.6" height="34.6" fill="none" stroke="#444" stroke-width="0.9"/><rect x="570.3" y="82.4" width="58" height="65" fill="none" stroke="#444" stroke-width="0.9"/><rect x="569.6" y="164.4" width="59" height="12" fill="none" stroke="#444" stroke-width="0.9"/><line x1="573" y1="36.2" x2="583.2" y2="36.2" stroke="#78a8d8" stroke-width="1"/><rect x="576.2" y="34.3" width="3.8" height="3.8" fill="#78a8d8"/><text x="589.1" y="38.9" font-size="7.9" fill="#222">HBCx-39</text><line x1="573" y1="47.4" x2="583.2" y2="47.4" stroke="#78a8d8" stroke-width="1"/><path d="M578.1 45.1L580.0 47.4L578.1 49.7L576.2 47.4Z" fill="#78a8d8"/><text x="589.1" y="50.1" font-size="7.9" fill="#222">HBCx-147</text><line x1="573" y1="59.8" x2="583.2" y2="59.8" stroke="#e3a4ab" stroke-width="1"/><path d="M578.1 61.9L580.2 58.1L576.0 58.1Z" fill="#fff" stroke="#e3a4ab" stroke-width="0.8"/><text x="589.1" y="62.5" font-size="7.9" fill="#222">HBCx-131</text><line x1="573" y1="87.1" x2="583.2" y2="87.1" stroke="#e3a4ab" stroke-width="1"/><path d="M578.1 85.0L580.2 88.8L576.0 88.8Z" fill="#e3a4ab"/><text x="589.1" y="89.8" font-size="7.9" fill="#222">HBCx-204</text><line x1="573" y1="97.7" x2="583.2" y2="97.7" stroke="#78a8d8" stroke-width="1"/><circle cx="578.1" cy="97.7" r="1.8" fill="#78a8d8"/><text x="589.1" y="100.4" font-size="7.9" fill="#222">HBCx-11</text><line x1="573" y1="108.1" x2="583.2" y2="108.1" stroke="#e3a4ab" stroke-width="1"/><circle cx="578.1" cy="108.1" r="1.7" fill="#fff" stroke="#e3a4ab" stroke-width="0.8"/><text x="589.1" y="110.8" font-size="7.9" fill="#222">HBCx-4B</text><line x1="573" y1="118.7" x2="583.2" y2="118.7" stroke="#78a8d8" stroke-width="1"/><path d="M578.1 120.8L580.2 117.0L576.0 117.0Z" fill="#78a8d8"/><text x="589.1" y="121.4" font-size="7.9" fill="#222">HBCx-216</text><line x1="573" y1="129.3" x2="583.2" y2="129.3" stroke="#e3a4ab" stroke-width="1"/><rect x="576.6" y="127.8" width="3.0" height="3.0" fill="#fff" stroke="#e3a4ab" stroke-width="0.8"/><text x="589.1" y="132.0" font-size="7.9" fill="#222">HBCx-209</text><line x1="573" y1="139.5" x2="583.2" y2="139.5" stroke="#78a8d8" stroke-width="1"/><path d="M578.1 137.4L580.2 141.2L576.0 141.2Z" fill="#fff" stroke="#78a8d8" stroke-width="0.8"/><text x="589.1" y="142.2" font-size="7.9" fill="#222">HBCx-3</text><line x1="573" y1="170.9" x2="583.2" y2="170.9" stroke="#c62a2e" stroke-width="1"/><path d="M578.1 168.6L580.0 170.9L578.1 173.2L576.2 170.9Z" fill="#fff" stroke="#c62a2e" stroke-width="1.2"/><text x="589.1" y="173.6" font-size="7.9" fill="#222">HBCx-137</text><text x="0.8" y="197.6" font-size="18.50" font-weight="bold" font-style="normal" text-anchor="start" fill="#000" >c</text><text x="91.9" y="223.1" font-size="9.50" font-weight="bold" font-style="normal" text-anchor="start" fill="#000" textLength="42.2" lengthAdjust="spacingAndGlyphs" >HBCx-137</text><line x1="42.2" y1="234.6" x2="42.2" y2="329.4" stroke="#000" stroke-width="1.3"/><line x1="39" y1="328.6" x2="42.2" y2="328.6" stroke="#000" stroke-width="1.2"/><text x="37.6" y="331.0" font-size="6.70" font-weight="bold" font-style="normal" text-anchor="end" fill="#000" >0</text><line x1="39" y1="297.5" x2="42.2" y2="297.5" stroke="#000" stroke-width="1.2"/><text x="37.6" y="299.9" font-size="6.70" font-weight="bold" font-style="normal" text-anchor="end" fill="#000" >500</text><line x1="39" y1="266.3" x2="42.2" y2="266.3" stroke="#000" stroke-width="1.2"/><text x="37.6" y="268.7" font-size="6.70" font-weight="bold" font-style="normal" text-anchor="end" fill="#000" >1000</text><line x1="39" y1="235.2" x2="42.2" y2="235.2" stroke="#000" stroke-width="1.2"/><text x="37.6" y="237.6" font-size="6.70" font-weight="bold" font-style="normal" text-anchor="end" fill="#000" >1500</text><line x1="41.6" y1="328.6" x2="183.6" y2="328.6" stroke="#000" stroke-width="1.3"/><line x1="42.2" y1="328.6" x2="42.2" y2="331.8" stroke="#000" stroke-width="1.2"/><text x="42.2" y="340.4" font-size="7.00" font-weight="bold" font-style="normal" text-anchor="middle" fill="#000" >0</text><line x1="77.4" y1="328.6" x2="77.4" y2="331.8" stroke="#000" stroke-width="1.2"/><text x="77.4" y="340.4" font-size="7.00" font-weight="bold" font-style="normal" text-anchor="middle" fill="#000" >10</text><line x1="112.7" y1="328.6" x2="112.7" y2="331.8" stroke="#000" stroke-width="1.2"/><text x="112.7" y="340.4" font-size="7.00" font-weight="bold" font-style="normal" text-anchor="middle" fill="#000" >20</text><line x1="147.9" y1="328.6" x2="147.9" y2="331.8" stroke="#000" stroke-width="1.2"/><text x="147.9" y="340.4" font-size="7.00" font-weight="bold" font-style="normal" text-anchor="middle" fill="#000" >30</text><line x1="183.1" y1="328.6" x2="183.1" y2="331.8" stroke="#000" stroke-width="1.2"/><text x="183.1" y="340.4" font-size="7.00" font-weight="bold" font-style="normal" text-anchor="middle" fill="#000" >40</text><text x="113.3" y="353.2" font-size="8.60" font-weight="bold" font-style="normal" text-anchor="middle" fill="#000" textLength="55.6" lengthAdjust="spacingAndGlyphs" >Days in culture</text><text transform="translate(17.0 281.6) rotate(-90)" font-size="8.4" font-weight="bold" text-anchor="middle" textLength="64.5" lengthAdjust="spacingAndGlyphs">Tumor size (mm3)</text><text x="145.6" y="317.2" font-size="7.60" font-weight="normal" font-style="italic" text-anchor="start" fill="#222" textLength="37.4" lengthAdjust="spacingAndGlyphs" >TGI=100%</text><polyline points="46.0,322.3 56.9,324.2 71.1,327.0 81.6,328.0 95.9,328.4 106.4,328.5 120.4,328.5 130.9,328.5 144.9,328.5 156.1,328.5" fill="none" stroke="#ddb0b0" stroke-width="0.9"/><rect x="55.1" y="322.4" width="3.6" height="3.6" fill="#ddb0b0"/><rect x="69.3" y="325.2" width="3.6" height="3.6" fill="#ddb0b0"/><rect x="79.8" y="326.2" width="3.6" height="3.6" fill="#ddb0b0"/><rect x="94.1" y="326.6" width="3.6" height="3.6" fill="#ddb0b0"/><rect x="104.6" y="326.7" width="3.6" height="3.6" fill="#ddb0b0"/><rect x="118.6" y="326.7" width="3.6" height="3.6" fill="#ddb0b0"/><rect x="129.1" y="326.7" width="3.6" height="3.6" fill="#ddb0b0"/><rect x="143.1" y="326.7" width="3.6" height="3.6" fill="#ddb0b0"/><rect x="154.3" y="326.7" width="3.6" height="3.6" fill="#ddb0b0"/><polyline points="46.0,322.3 56.9,320.5 71.1,317.1 81.6,313.1 95.5,306.3 106.3,298.2 120.5,291.7 131.0,284.6 145.0,279.4 155.8,268.3" fill="none" stroke="#e83872" stroke-width="0.9"/><circle cx="46.0" cy="322.3" r="2.1" fill="#e83872"/><circle cx="56.9" cy="320.5" r="2.1" fill="#e83872"/><circle cx="71.1" cy="317.1" r="2.1" fill="#e83872"/><path d="M81.6 311.6V314.6M79.9 311.6H83.3M79.9 314.6H83.3" stroke="#e83872" stroke-width="0.9" fill="none"/><circle cx="81.6" cy="313.1" r="2.1" fill="#e83872"/><path d="M95.5 302.3V310.3M93.8 302.3H97.2M93.8 310.3H97.2" stroke="#e83872" stroke-width="0.9" fill="none"/><circle cx="95.5" cy="306.3" r="2.1" fill="#e83872"/><path d="M106.3 291.2V305.2M104.6 291.2H108.0M104.6 305.2H108.0" stroke="#e83872" stroke-width="0.9" fill="none"/><circle cx="106.3" cy="298.2" r="2.1" fill="#e83872"/><path d="M120.5 285.1V298.3M118.8 285.1H122.2M118.8 298.3H122.2" stroke="#e83872" stroke-width="0.9" fill="none"/><circle cx="120.5" cy="291.7" r="2.1" fill="#e83872"/><path d="M131.0 277.9V291.3M129.3 277.9H132.7M129.3 291.3H132.7" stroke="#e83872" stroke-width="0.9" fill="none"/><circle cx="131.0" cy="284.6" r="2.1" fill="#e83872"/><path d="M145.0 270.9V287.9M143.3 270.9H146.7M143.3 287.9H146.7" stroke="#e83872" stroke-width="0.9" fill="none"/><circle cx="145.0" cy="279.4" r="2.1" fill="#e83872"/><path d="M155.8 258.3V278.3M154.1 258.3H157.5M154.1 278.3H157.5" stroke="#e83872" stroke-width="0.9" fill="none"/><circle cx="155.8" cy="268.3" r="2.1" fill="#e83872"/><line x1="51.6" y1="244.2" x2="62.6" y2="244.2" stroke="#e83872" stroke-width="0.9"/><circle cx="57.2" cy="244.2" r="2.1" fill="#e83872"/><line x1="51.6" y1="256.5" x2="62.6" y2="256.5" stroke="#ddb0b0" stroke-width="0.9"/><rect x="55.4" y="254.7" width="3.6" height="3.6" fill="#ddb0b0"/><text x="66.6" y="247.1" font-size="7.60" font-weight="normal" font-style="normal" text-anchor="start" fill="#222" textLength="25.6" lengthAdjust="spacingAndGlyphs" >Control</text><text x="66.6" y="259.4" font-size="7.60" font-weight="normal" font-style="normal" text-anchor="start" fill="#222" textLength="67.0" lengthAdjust="spacingAndGlyphs" >Eribulin (0.4mg/kg)</text><text x="281.6" y="197.3" font-size="18.50" font-weight="bold" font-style="normal" text-anchor="start" fill="#000" >d</text><rect x="341.3" y="269.3" width="20" height="19.4" fill="#dfaab0"/><rect x="364.4" y="269.3" width="20" height="19.4" fill="#7ba7cc"/><rect x="388.7" y="269.3" width="20" height="19.4" fill="#dfaab0"/><rect x="412.8" y="269.3" width="20" height="19.4" fill="#dfaab0"/><rect x="436.9" y="269.3" width="20" height="19.4" fill="#7ba7cc"/><rect x="461.1" y="269.3" width="20" height="19.4" fill="#dfaab0"/><rect x="484.4" y="269.3" width="20" height="19.4" fill="#dfaab0"/><rect x="507.6" y="269.3" width="20" height="19.4" fill="#dfaab0"/><rect x="530.9" y="269.3" width="20" height="19.4" fill="#7ba7cc"/><rect x="555.0" y="269.3" width="20" height="19.4" fill="#dfaab0"/><rect x="341.3" y="291.7" width="20" height="19.4" fill="#dfaab0"/><rect x="364.4" y="291.7" width="20" height="19.4" fill="#7ba7cc"/><rect x="388.7" y="291.7" width="20" height="19.4" fill="#dfaab0"/><rect x="412.8" y="291.7" width="20" height="19.4" fill="#7ba7cc"/><rect x="436.9" y="291.7" width="20" height="19.4" fill="#7ba7cc"/><rect x="461.1" y="291.7" width="20" height="19.4" fill="#dfaab0"/><rect x="484.4" y="291.7" width="20" height="19.4" fill="#dfaab0"/><rect x="507.6" y="291.7" width="20" height="19.4" fill="#dfaab0"/><rect x="530.9" y="291.7" width="20" height="19.4" fill="#7ba7cc"/><rect x="555.0" y="291.7" width="20" height="19.4" fill="#dfaab0"/><rect x="341.3" y="314.7" width="20" height="19.4" fill="#7ba7cc"/><rect x="364.4" y="314.7" width="20" height="19.4" fill="#7ba7cc"/><rect x="388.7" y="314.7" width="20" height="19.4" fill="#dfaab0"/><rect x="412.8" y="314.7" width="20" height="19.4" fill="#7ba7cc"/><rect x="436.9" y="314.7" width="20" height="19.4" fill="#7ba7cc"/><rect x="461.1" y="314.7" width="20" height="19.4" fill="#dfaab0"/><rect x="484.4" y="314.7" width="20" height="19.4" fill="#dfaab0"/><rect x="507.6" y="314.7" width="20" height="19.4" fill="#7ba7cc"/><rect x="530.9" y="314.7" width="20" height="19.4" fill="#dfaab0"/><rect x="555.0" y="314.7" width="20" height="19.4" fill="#dfaab0"/><text transform="translate(351.0 259.3) rotate(-46)" font-size="10.8" fill="#111" stroke="#111" stroke-width="0.22" textLength="37.4" lengthAdjust="spacingAndGlyphs">HBCx-11</text><text transform="translate(372.5 259.9) rotate(-46)" font-size="10.8" fill="#111" stroke="#111" stroke-width="0.22" textLength="38.1" lengthAdjust="spacingAndGlyphs">HBCx-39</text><text transform="translate(396.5 259.9) rotate(-46)" font-size="10.8" fill="#111" stroke="#111" stroke-width="0.22" textLength="43.4" lengthAdjust="spacingAndGlyphs">HBCx-204</text><text transform="translate(420.8 259.9) rotate(-46)" font-size="10.8" fill="#111" stroke="#111" stroke-width="0.22" textLength="43.4" lengthAdjust="spacingAndGlyphs">HBCx-216</text><text transform="translate(444.7 259.9) rotate(-46)" font-size="10.8" fill="#111" stroke="#111" stroke-width="0.22" textLength="43.4" lengthAdjust="spacingAndGlyphs">HBCx-147</text><text transform="translate(469.3 259.9) rotate(-46)" font-size="10.8" fill="#111" stroke="#111" stroke-width="0.22" textLength="39.2" lengthAdjust="spacingAndGlyphs">HBCx-4B</text><text transform="translate(493.2 259.9) rotate(-46)" font-size="10.8" fill="#111" stroke="#111" stroke-width="0.22" textLength="43.4" lengthAdjust="spacingAndGlyphs">HBCx-209</text><text transform="translate(516.8 259.9) rotate(-46)" font-size="10.8" fill="#111" stroke="#111" stroke-width="0.22" textLength="32.9" lengthAdjust="spacingAndGlyphs">HBCx-5</text><text transform="translate(541.1 260.0) rotate(-46)" font-size="10.8" fill="#111" stroke="#111" stroke-width="0.22" textLength="43.4" lengthAdjust="spacingAndGlyphs">HBCx-131</text><text transform="translate(566.6 258.5) rotate(-46)" font-size="10.8" fill="#111" stroke="#111" stroke-width="0.22" textLength="43.4" lengthAdjust="spacingAndGlyphs">HBCx-137</text><text x="595.8" y="226" font-size="13.5" fill="#111" stroke="#111" stroke-width="0.3">*</text><text x="255.8" y="283.8" font-size="10.2" fill="#111" stroke="#111" stroke-width="0.22" textLength="75.1" lengthAdjust="spacingAndGlyphs">Paclitaxel <tspan font-style="italic">In vivo</tspan></text><text x="254.1" y="306.8" font-size="10.2" fill="#111" stroke="#111" stroke-width="0.22" textLength="76.8" lengthAdjust="spacingAndGlyphs">Paclitaxel <tspan font-style="italic">Ex vivo</tspan></text><text x="261.3" y="331.8" font-size="10.2" fill="#111" stroke="#111" stroke-width="0.22" textLength="68.9" lengthAdjust="spacingAndGlyphs">Eribulin <tspan font-style="italic">Ex vivo</tspan></text><rect x="595.5" y="272" width="10.7" height="9.3" fill="#dfaab0"/><rect x="594.8" y="285.8" width="10.3" height="10" fill="#7ba7cc"/><text x="616.8" y="282.0" font-size="9.60" font-weight="normal" font-style="normal" text-anchor="start" fill="#111" textLength="48.0" lengthAdjust="spacingAndGlyphs" stroke="#111" stroke-width="0.22">responder</text><text x="614.2" y="294.8" font-size="9.60" font-weight="normal" font-style="normal" text-anchor="start" fill="#111" textLength="69.4" lengthAdjust="spacingAndGlyphs" stroke="#111" stroke-width="0.22">non-responder</text><text x="458" y="354.4" font-size="9.6" fill="#111" stroke="#111" stroke-width="0.22" textLength="113.4" lengthAdjust="spacingAndGlyphs">*eribulin-sensitive <tspan font-style="italic">in vivo</tspan></text></svg>
</div></body></html>
